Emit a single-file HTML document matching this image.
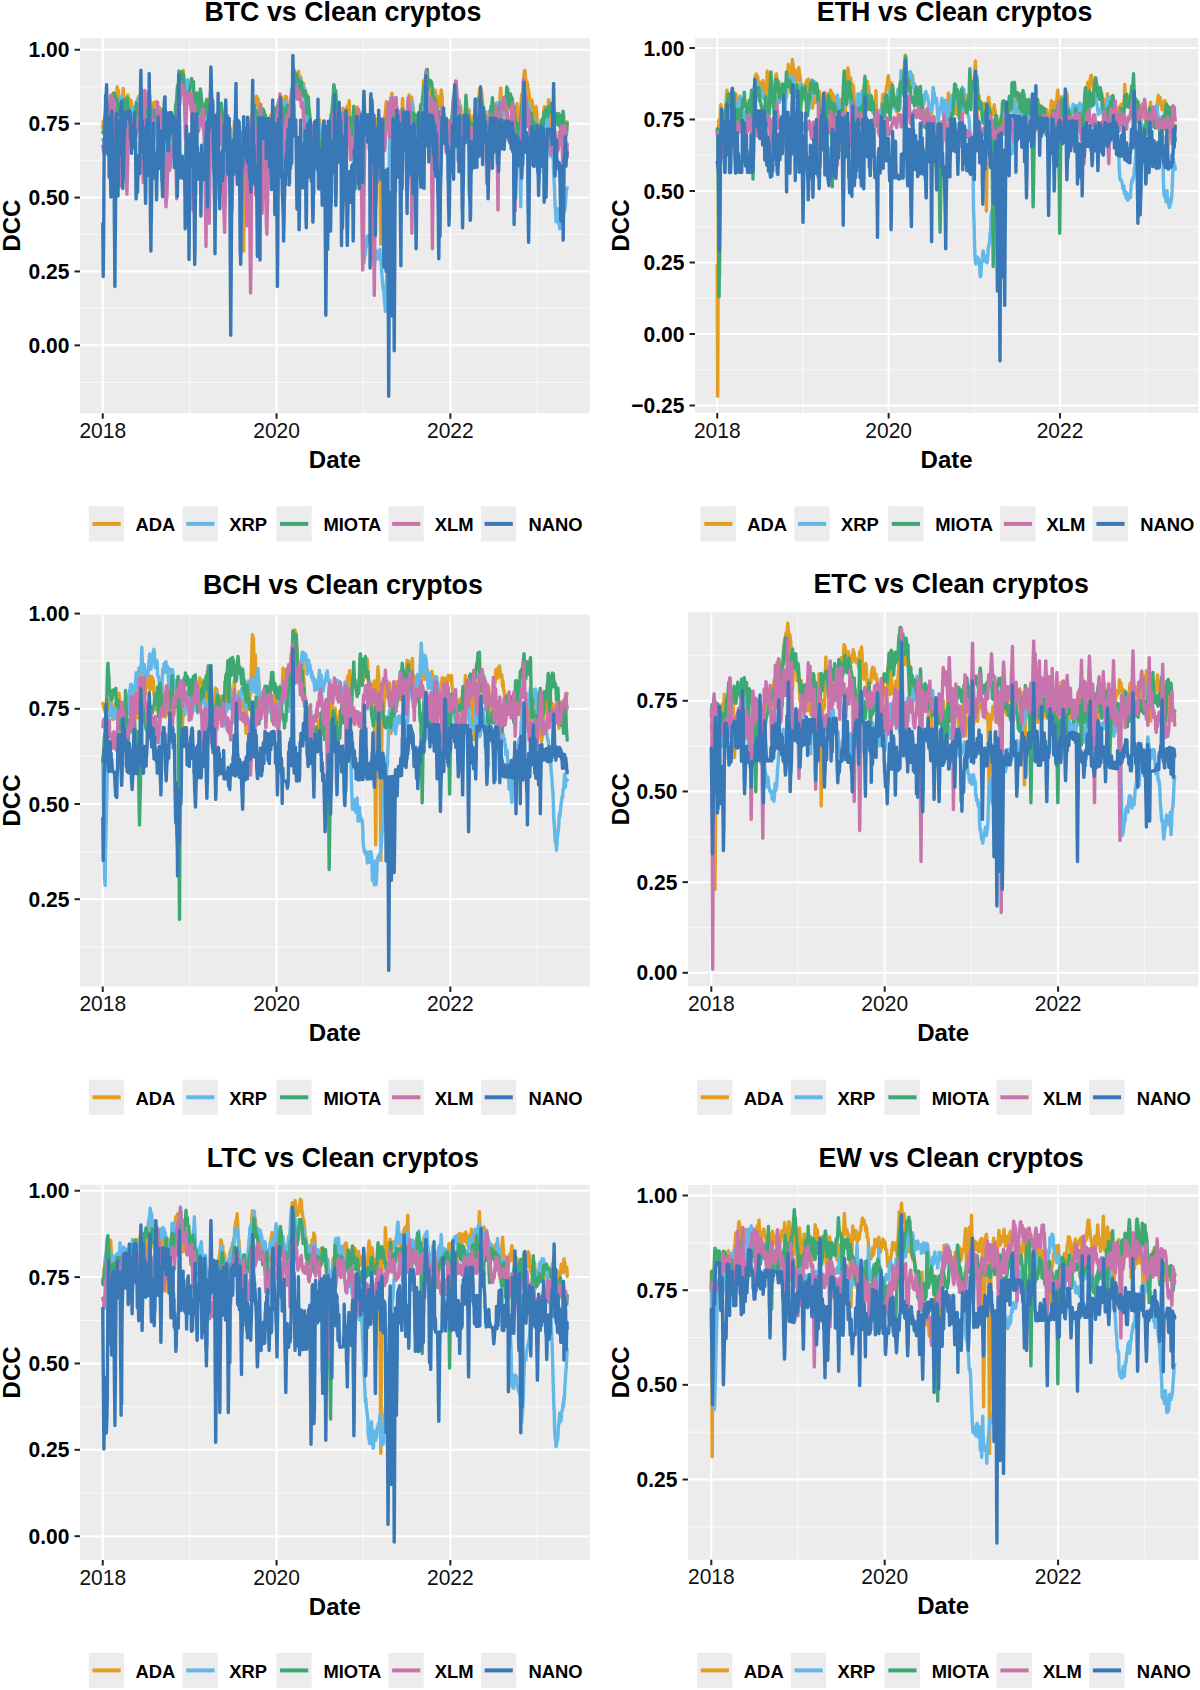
<!DOCTYPE html>
<html><head><meta charset="utf-8"><style>
html,body{margin:0;padding:0;background:#fff;}
svg{display:block;}
text{font-family:"Liberation Sans",sans-serif;fill:#000;}
.yt{font-size:21px;font-weight:bold;text-anchor:end;fill:#000;}
.xt{font-size:21px;text-anchor:middle;fill:#111;}
.at{font-size:24px;font-weight:bold;text-anchor:middle;}
.ti{font-size:26.8px;font-weight:bold;text-anchor:middle;}
.lg{font-size:18.4px;font-weight:bold;}
</style></head><body>
<svg width="1200" height="1690" viewBox="0 0 1200 1690">
<rect x="80" y="38" width="509.75" height="375.25" fill="#EBECEB"/>
<clipPath id="cBTC"><rect x="80" y="38" width="509.75" height="375.25"/></clipPath>
<g clip-path="url(#cBTC)">
<line x1="80" x2="589.75" y1="86.70" y2="86.70" stroke="#F7F8F7" stroke-width="1.2"/>
<line x1="80" x2="589.75" y1="160.60" y2="160.60" stroke="#F7F8F7" stroke-width="1.2"/>
<line x1="80" x2="589.75" y1="234.50" y2="234.50" stroke="#F7F8F7" stroke-width="1.2"/>
<line x1="80" x2="589.75" y1="308.40" y2="308.40" stroke="#F7F8F7" stroke-width="1.2"/>
<line x1="80" x2="589.75" y1="382.30" y2="382.30" stroke="#F7F8F7" stroke-width="1.2"/>
<line x1="189.65" x2="189.65" y1="38" y2="413.25" stroke="#F7F8F7" stroke-width="1.2"/>
<line x1="363.45" x2="363.45" y1="38" y2="413.25" stroke="#F7F8F7" stroke-width="1.2"/>
<line x1="537.25" x2="537.25" y1="38" y2="413.25" stroke="#F7F8F7" stroke-width="1.2"/>
<line x1="80" x2="589.75" y1="49.75" y2="49.75" stroke="#fff" stroke-width="2"/>
<line x1="80" x2="589.75" y1="123.65" y2="123.65" stroke="#fff" stroke-width="2"/>
<line x1="80" x2="589.75" y1="197.55" y2="197.55" stroke="#fff" stroke-width="2"/>
<line x1="80" x2="589.75" y1="271.45" y2="271.45" stroke="#fff" stroke-width="2"/>
<line x1="80" x2="589.75" y1="345.35" y2="345.35" stroke="#fff" stroke-width="2"/>
<line x1="102.75" x2="102.75" y1="38" y2="413.25" stroke="#fff" stroke-width="2"/>
<line x1="276.55" x2="276.55" y1="38" y2="413.25" stroke="#fff" stroke-width="2"/>
<line x1="450.35" x2="450.35" y1="38" y2="413.25" stroke="#fff" stroke-width="2"/>
<path d="M102.8 127.8l0.4-6.8l0.5 5.9l0.4-3.9l0.5-3.9l0.5-5.3l0.4-6.1l0.5-4.2l0.5 22.1l0.4 18.5l0.5-17.6l0.5-11.5l0.4-1.6l0.5-4.7l0.5-2.3l0.4-0.3l0.5-7.3l0.5-1.1l0.4 2.2l0.5-3.5l0.4-1.3l0.5 4.6l0.5 0.5l0.4-6.8l0.5 4.1l0.5 0.9l0.4 0.1l0.5-4.9l0.5 7.2l0.4-6.7l0.5-0.6l0.5-6.8l0.4 4.9l0.5-1.4l0.5 2.2l0.4 10.9l0.5 6.5l0.5-4.3l0.4-3.8l0.5 3.3l0.4 4.4l0.5-6.9l0.5-5.3l0.4-1.3l0.5-7.5l0.5 8.2l0.4 15.7l0.5 9.5l0.5 10.5l0.4-8.8l0.5-9.1l0.5-6.2l0.4-5.7l0.5-6.3l0.5-1.2l0.4 3.8l0.5-0.7l0.5 3.3l0.4 2.3l0.5 1.9l0.4-4.4l0.5-0.6l0.5 3.9l0.4 7.1l0.5 8.9l0.5 6.3l0.4-5.4l0.5-10.5l0.5-3.3l0.4 4l0.5 2.2l0.5-0.3l0.4 4l0.5 7l0.5-5.3l0.4-9.3l0.5-4.3l0.5-8.9l0.4-0.8l0.5 2.3l0.4-2l0.5-1.5l0.5-2.7l0.4 3.1l0.5 4.7l0.5 2.3l0.4-0.3l0.5 4l0.5 2l0.4-0.3l0.5-1.1l0.5-2.3l0.4-5.5l0.5 3.8l0.5 0.5l0.4 1.6l0.5-4l0.4 0.9l0.5-10l0.5 1.7l0.4 0l0.5 2l0.5 6l0.4 6l0.5-4.1l0.5 3.9l0.4 2.4l0.5 0.3l0.5 1.1l0.4-4l0.5-3.9l0.5 2.6l0.4-1l0.5-0.3l0.5-1l0.4-1.5l0.5 1.5l0.4 2.3l0.5 1.4l0.5 1.2l0.4 1.1l0.5 1.3l0.5-3l0.4 3.8l0.5 7.3l0.5-0.3l0.4-3.7l0.5-3.1l0.5 6.5l0.4 4.3l0.5 1.2l0.5 4.9l0.4-2.5l0.5 3.7l0.5 4.3l0.4 8.3l0.5 7.6l0.4-6l0.5-11.5l0.5 1.2l0.4 2.4l0.5-4.3l0.5-9.7l0.4 5.7l0.5 5.5l0.5 2.7l0.4 4.2l0.5 1.8l0.5-0.9l0.4-2.2l0.5 1.4l0.5-6.8l0.4-2.5l0.5-1.9l0.5-7.6l0.4-2l0.5-1.8l0.4 0.1l0.5-13l0.5-2.8l0.4 0.8l0.5-0.9l0.5 0.2l0.4-5.7l0.5-2.3l0.5-2.2l0.4-0.1l0.5-5.8l0.5 0.1l0.4-5.4l0.5-1.5l0.5-0.3l0.4-4.8l0.5-3.4l0.5 6.6l0.4 9l0.5 0.2l0.4-3.5l0.5-1.8l0.5 6.5l0.4-0.9l0.5 6.2l0.5 2l0.4-3l0.5 0.5l0.5-4.8l0.4 10.7l0.5 4.2l0.5 0.4l0.4 2l0.5-0.6l0.5 4.2l0.4-2.7l0.5-2.4l0.4 4.3l0.5 6.5l0.5-2.1l0.4-4.9l0.5 6l0.5-6.9l0.4 3.8l0.5-6.8l0.5 6.1l0.4-1.4l0.5-3l0.5 4l0.4 3.5l0.5-5.6l0.5-3.2l0.4-2.8l0.5 13.8l0.5-2.3l0.4 1.7l0.5-3.4l0.4 2.3l0.5-4.2l0.5-1.8l0.4-3.1l0.5 6.2l0.5 7.1l0.4-10l0.5-0.2l0.5 0.4l0.4-0.9l0.5-1.3l0.5-6.1l0.4 1.7l0.5 4.4l0.5-0.2l0.4 2.8l0.5 4.3l0.5-5l0.4 2.2l0.5 4.9l0.4 1.3l0.5-0.2l0.5 3.8l0.4 0.2l0.5 3l0.5 3.1l0.4-4.8l0.5 23.7l0.5 29.7l0.4 26.1l0.5-27.1l0.5-27.8l0.4-27.3l0.5-4.3l0.5-1.6l0.4 4.4l0.5-0.7l0.5 5l0.4-2.9l0.5-7.9l0.4-1l0.5 6.1l0.5-1l0.4-3.9l0.5 3.9l0.5-2.1l0.4 5.1l0.5 0.6l0.5 0.4l0.4 3.9l0.5 9.5l0.5-4.8l0.4 7.4l0.5-3.7l0.5 1l0.4-3.7l0.5 2l0.5-0.2l0.4 1.4l0.5-0.1l0.4-0.5l0.5 2.7l0.5 2.5l0.4 0.2l0.5 3.8l0.5 3.5l0.4-3.3l0.5-3.3l0.5-3.5l0.4-10.6l0.5 4.8l0.5 2.2l0.4 3l0.5 0.2l0.5 4.1l0.4-4.1l0.5 0.2l0.4 2.8l0.5 3.2l0.5-0.1l0.4-3.1l0.5 2.2l0.5 1.8l0.4-2.1l0.5-3l0.5 1.3l0.4-2.5l0.5 40.8l0.5 40.1l0.4 37.3l0.5-34.2l0.5-33.5l0.4-35l0.5 2.8l0.5-3.1l0.4-2.6l0.5-2.2l0.4-0.3l0.5-9.4l0.5-0.5l0.4-2.2l0.5-3.6l0.5 4l0.4-2.6l0.5-4.3l0.5-4l0.4-4.2l0.5-0.5l0.5-4.4l0.4-7.1l0.5-6.3l0.5 1.5l0.4 1l0.5 4.3l0.5-2l0.4 1.6l0.5-5.9l0.4-2.3l0.5 6.8l0.5-4.4l0.4 0.1l0.5 6.2l0.5 5.7l0.4 1.6l0.5 4.3l0.5-8.6l0.4-3.5l0.5 10.1l0.5 0.4l0.4 1l0.5-6.7l0.5 2.2l0.4 2.8l0.5 7.6l0.5 5.4l0.4 6.3l0.5 7.1l0.4 4.9l0.5-3.9l0.5-4.9l0.4-3.8l0.5-4.9l0.5 1.2l0.4 1l0.5-5.9l0.5-2l0.4-4.4l0.5-2.1l0.5 5.7l0.4-4.6l0.5-0.8l0.5-2.4l0.4-3.4l0.5 4.1l0.4 3l0.5-4.1l0.5-5.3l0.4 3.6l0.5 4l0.5-5.1l0.4-2.6l0.5 0.8l0.5-1.5l0.4-1l0.5-4.7l0.5-2l0.4 2.5l0.5-1.5l0.5-4.9l0.4 2l0.5-0.3l0.5 2.2l0.4 5.8l0.5-2l0.4-2.3l0.5 8.3l0.5 8l0.4-9.1l0.5-8l0.5-3.8l0.4 4.8l0.5-4.4l0.5 4l0.4 7.9l0.5 3.2l0.5-2.7l0.4 5.1l0.5-3.7l0.5-4.6l0.4 0.6l0.5-0.8l0.5 1.3l0.4-4.3l0.5-3l0.4-10.7l0.5-5.9l0.5-5.7l0.4-2.9l0.5 2.1l0.5 1.7l0.4-0.5l0.5 0.9l0.5-0.2l0.4 0.3l0.5-2.9l0.5-3.4l0.4 0l0.5-1.2l0.5 5.6l0.4 4l0.5-4l0.5 4.7l0.4-4.6l0.5 5.5l0.4 3.4l0.5-1.8l0.5-1.6l0.4 0.7l0.5 0.1l0.5 6.8l0.4 2.2l0.5-1.3l0.5 5.6l0.4-3.4l0.5 3.2l0.5-1.8l0.4 1.2l0.5 3.8l0.5 5.7l0.4 8.2l0.5 5.5l0.5 3.5l0.4 6.8l0.5-0.6l0.4 4.6l0.5 3l0.5-2l0.4-4.1l0.5-1.8l0.5 6l0.4-4.4l0.5 3l0.5 4.5l0.4 1.2l0.5 0.1l0.5 0.5l0.4-1.7l0.5-4.1l0.5 3.1l0.4 0.5l0.5-0.8l0.4-10.3l0.5-6.5l0.5 6.3l0.4 4.8l0.5-1.6l0.5 3.5l0.4 4.5l0.5 1.1l0.5 3.5l0.4 0l0.5 4l0.5 1.2l0.4-2.3l0.5-0.3l0.5 3.2l0.4 4.7l0.5 0.4l0.5 4.2l0.4-8.4l0.5-1.7l0.4-0.6l0.5-3.7l0.5-5.2l0.4-5.1l0.5-4.2l0.5-5.4l0.4 0.4l0.5-0.1l0.5-0.2l0.4-5l0.5-6.5l0.5-8.5l0.4-3.4l0.5-0.2l0.5 0.6l0.4-2.8l0.5 3.4l0.5 4.4l0.4 0.1l0.5 6.3l0.4 3.6l0.5-2.3l0.5-1.2l0.4 2l0.5-2.7l0.5 0.1l0.4 1.2l0.5 1.5l0.5 3.6l0.4-1.2l0.5 1.3l0.5-7.1l0.4-1.4l0.5 3.2l0.5 7.5l0.4 1.5l0.5-8.6l0.5-1.6l0.4 0.5l0.5-2.2l0.4 1.1l0.5-3.5l0.5 2.8l0.4 1.1l0.5-3.7l0.5-5.7l0.4 9.8l0.5 10.8l0.5-0.8l0.4 2.5l0.5 1l0.5-2.7l0.4 6.1l0.5-2.3l0.5-7.1l0.4-4.9l0.5 4.7l0.5 8.3l0.4 5.1l0.5-8.4l0.4-9.7l0.5-4.7l0.5-1.4l0.4 1.6l0.5 1.4l0.5 3.5l0.4 1.2l0.5 2.3l0.5 4l0.4-1l0.5-7.1l0.5 3.7l0.4 1.8l0.5-2.3l0.5-3.6l0.4 0.8l0.5 2.7l0.4 1.8l0.5-2.6l0.5 2.8l0.4 1.3l0.5-3.3l0.5 6.2l0.4 3.8l0.5-1.1l0.5-8.3l0.4 5.3l0.5-1.5l0.5 0.6l0.4-2.8l0.5-0.6l0.5-0.2l0.4-2.1l0.5 2.4l0.5 5.3l0.4 0.8l0.5 6.5l0.4 2.2l0.5-2.8l0.5-3.3l0.4 1.2l0.5 0.2l0.5-1.9l0.4 1.5l0.5-8.3l0.5 8.3l0.4 1.6l0.5-0.7l0.5 5.9l0.4-2.9l0.5-1.5l0.5 36.6l0.4 39l0.5 38.9l0.5-39.4l0.4-38.2l0.5-45.3l0.4 1l0.5 3.4l0.5-0.8l0.4-1.7l0.5-6.6l0.5 2.8l0.4-7.3l0.5-6.2l0.5-4.6l0.4 4.5l0.5 3.4l0.5 5.7l0.4 1.4l0.5-3.8l0.5-3.7l0.4-0.3l0.5-6.6l0.5 0.8l0.4-1.5l0.5-5.9l0.4-2.2l0.5 5.4l0.5 12.8l0.4 7.2l0.5 6.4l0.5-0.5l0.4-7.3l0.5-10.3l0.5 1l0.4-1l0.5 2.4l0.5 6.3l0.4 1.8l0.5 3.5l0.5-2.3l0.4-2.9l0.5-2.6l0.5 1.5l0.4-1.7l0.5 1.2l0.4 2l0.5 4.8l0.5-12.7l0.4-9.8l0.5 10.8l0.5 14.5l0.4-3.6l0.5 3.9l0.5 2.1l0.4-5l0.5-0.1l0.5-3l0.4-0.1l0.5 0.6l0.5-2.2l0.4-3.8l0.5-11.4l0.4-6.1l0.5 2.1l0.5 4.2l0.4 1.9l0.5-0.7l0.5-5.4l0.4 1.7l0.5 6.7l0.5-0.6l0.4 5.4l0.5 4.7l0.5 0.5l0.4 8.9l0.5-5.2l0.5 3.9l0.4-2.6l0.5 3.5l0.5 2.8l0.4-0.6l0.5 2.7l0.4 2l0.5-1l0.5 6.5l0.4-7.2l0.5-8.6l0.5-5.5l0.4-1.8l0.5-5.2l0.5 2.4l0.4-2.8l0.5-15.1l0.5-12l0.4 10l0.5 5.4l0.5-0.1l0.4 0.7l0.5-2.1l0.5-0.5l0.4 1.2l0.5-2.7l0.4-3.4l0.5 7.9l0.5-5.4l0.4 0l0.5 3.3l0.5-2.3l0.4-0.3l0.5 1.8l0.5-2.8l0.4 2.8l0.5 0.7l0.5-1.9l0.4 0.3l0.5 0.7l0.5 1l0.4-1l0.5-3.6l0.5 2.9l0.4 3.3l0.5 10.2l0.4-6.8l0.5-3.7l0.5 4l0.4 3.4l0.5 1.2l0.5 1.1l0.4 0.9l0.5-3.4l0.5-7.5l0.4-5.9l0.5 4l0.5 3.5l0.4 15.7l0.5-3.9l0.5 6.9l0.4-2.4l0.5 5.2l0.4 3.6l0.5 0.6l0.5-4.1l0.4 6.9l0.5 1.1l0.5-6.4l0.4 4.8l0.5 2.9l0.5 0.5l0.4 6l0.5 5.8l0.5-4.8l0.4-0.1l0.5-3.5l0.5 2.3l0.4-5.7l0.5-2.9l0.5-6.4l0.4-12.5l0.5 0.3l0.4 0.8l0.5-9.6l0.5 4.4l0.4-1.3l0.5 0.3l0.5 5.3l0.4-7.8l0.5 2.8l0.5 2.1l0.4-0.9l0.5-3.6l0.5 4.1l0.4 3.9l0.5-2.6l0.5 2.5l0.4 5.2l0.5 4.2l0.5 5.2l0.4-0.1l0.5 0.7l0.4-3.9l0.5 1.1l0.5 0.3l0.4 3.8l0.5-0.9l0.5-1.4l0.4 0.3l0.5 3.7l0.5-0.5l0.4-3.7l0.5-2.7l0.5 2.2l0.4-11.3l0.5 6.1l0.5 0.2l0.4 4.4l0.5 7.7l0.5-2.3l0.4-2.3l0.5-2.4l0.4 0.7l0.5-5.7l0.5 3.7l0.4-1.9l0.5-6l0.5-2.2l0.4-0.7l0.5-1.7l0.5 2l0.4-3.7l0.5-0.5l0.5 0l0.4-2.3l0.5-5.6l0.5-4.9l0.4-3.8l0.5 4.4l0.5 0.8l0.4-4.4l0.5 4l0.4 3.3l0.5 5.9l0.5 9.3l0.4 2.4l0.5 4.6l0.5-3.5l0.4-0.1l0.5-3.7l0.5 4.1l0.4 3.9l0.5 0.4l0.5 2.4l0.4 1.3l0.5-3l0.5 3.9l0.4 0.8l0.5-7.4l0.4 5.8l0.5-5.2l0.5-3l0.4 1.9l0.5-5.1l0.5 0.7l0.4-0.6l0.5 0.7l0.5-9.1l0.4-0.6l0.5 1l0.5 1.7l0.4 5.9l0.5 0.4l0.5-4.3l0.4 2.7l0.5-1.2l0.5-4l0.4 1.3l0.5 1.6l0.4-3.9l0.5-3.3l0.5-7.9l0.4-5.8l0.5 8.9l0.5 14.7l0.4-2.7l0.5-0.8l0.5 9.1l0.4 15.6l0.5-14.4l0.5-13.8l0.4 2.6l0.5-7.4l0.5 3.8l0.4 0.3l0.5 2.8l0.5 7.6l0.4-3.3l0.5-3.2l0.4 1.8l0.5-12.8l0.5 4.6l0.4 0.2l0.5 2.2l0.5 1.2l0.4 5.2l0.5 0.1l0.5 4.2l0.4 4.3l0.5 4.3l0.5 7.9l0.4 8.7l0.5-7.1l0.5-5.2l0.4-0.9l0.5-6.1l0.5-6.8l0.4-9.7l0.5 10.9l0.4 16.4l0.5 0l0.5 4.5l0.4-5.3l0.5-5l0.5-7.6l0.4-8.1l0.5-8.4l0.5-6.9l0.4-0.4l0.5 0.7l0.5 8.5l0.4-13.4l0.5-14.5l0.5-4.3l0.4-0.5l0.5 6l0.5 4.1l0.4 0.8l0.5 1.9l0.4-1l0.5 3.4l0.5 4.8l0.4-0.6l0.5 4.6l0.5 5.2l0.4 6l0.5-5l0.5 3.3l0.4-2l0.5-1.9l0.5 3.5l0.4 7l0.5 1.2l0.5 0.8l0.4 0.9l0.5 3l0.4-3.1l0.5-2.3l0.5-4.7l0.4 5.1l0.5 7.4l0.5 13.5l0.4-1.2l0.5-6.4l0.5-1.3l0.4 6.8l0.5 5l0.5 1.3l0.4-9.7l0.5-3.3l0.5 5.5l0.4-6.8l0.5-1.7l0.5-1.6l0.4-2.8l0.5-6.8l0.4-2.5l0.5 1.4l0.5 2.4l0.4-3.1l0.5 4.8l0.5 7l0.4 1.4l0.5-5.9l0.5-9.1l0.4-5.9l0.5 7.8l0.5 5.6l0.4 13.8l0.5-3l0.5-2.3l0.4-0.7l0.5 2.3l0.5-8.4l0.4 0.2l0.5 3.1l0.4-3.1l0.5 6.3l0.5-0.2l0.4-3l0.5-2.7l0.5 1.8l0.4 1l0.5-2l0.5 0.9l0.4 3.6l0.5-4.4l0.5 4.4l0.4-3.8l0.5 3l0.5 6.2l0.4-2.2l0.5 0l0.5-1.5l0.4-3.3l0.5 1.6l0.4 9.7l0.5-3.4l0.5-1.7l0.4-3.2l0.5 2.2l0.5 0.4l0.4-1l0.5 0.8l0.5-0.6l0.4-2.2" fill="none" stroke="#E39E22" stroke-width="3.4" stroke-linejoin="round" stroke-linecap="round"/>
<path d="M102.8 139.4l0.4 0.8l0.5 1.5l0.4 0.5l0.5 6.8l0.5-0.7l0.4-4.9l0.5-6.3l0.5-1.9l0.4-0.7l0.5-4.8l0.5-3.8l0.4 2.7l0.5-6.9l0.5-0.4l0.4-8.1l0.5-2.3l0.5-0.3l0.4 4.5l0.5 6.4l0.4-2.4l0.5-2.7l0.5 0l0.4 1.4l0.5 9.3l0.5-4.3l0.4 1.6l0.5-2l0.5-8.5l0.4 2.3l0.5-2.4l0.5 1.9l0.4-2l0.5-4.4l0.5-1.2l0.4-2.1l0.5-6.4l0.5 1.1l0.4-1.1l0.5 6l0.4-4l0.5-5.5l0.5 8.1l0.4-0.2l0.5-1.1l0.5 1.7l0.4 0.6l0.5-2.8l0.5 0.7l0.4 1.1l0.5 4.9l0.5 5l0.4 4.2l0.5 1.9l0.5 1.4l0.4 3.5l0.5 2.7l0.5 9.8l0.4 10.1l0.5-10.9l0.4-11.2l0.5-10.1l0.5 6.8l0.4-5.3l0.5-0.2l0.5-4.2l0.4-5.4l0.5 5.7l0.5 3.3l0.4 0.3l0.5 4.6l0.5-6.4l0.4-7.6l0.5-2.3l0.5-4l0.4-2.1l0.5-0.5l0.5 2.6l0.4-0.4l0.5 1.7l0.4 1.8l0.5-4.8l0.5 5.5l0.4-3.7l0.5-3.3l0.5-0.9l0.4 1l0.5-1.8l0.5-3.4l0.4-1l0.5 3.8l0.5 0.8l0.4 0.6l0.5 2l0.5-3l0.4 4.6l0.5 4.4l0.4 5.7l0.5 2.8l0.5 0.7l0.4-4.6l0.5 2.5l0.5 2.7l0.4 1.3l0.5 1.9l0.5 0.6l0.4 3.4l0.5 1l0.5 0.2l0.4-4.4l0.5 8.6l0.5 5.9l0.4-5.2l0.5-4.5l0.5-4.3l0.4 2.8l0.5 6.5l0.4-0.3l0.5 0.5l0.5 3.7l0.4 2l0.5 1.6l0.5-4l0.4-4.3l0.5-5.2l0.5 1.4l0.4-4.4l0.5-5.2l0.5-4.3l0.4 0.8l0.5 2.8l0.5 4.2l0.4 7.7l0.5 2.5l0.5 0.8l0.4 16l0.5 14.1l0.4 14.7l0.5 12.4l0.5-10.1l0.4-14l0.5-17.3l0.5-12.2l0.4-1.3l0.5 4.9l0.5 2.9l0.4-2.7l0.5 1.7l0.5 3.6l0.4 5.1l0.5-3.7l0.5 0.7l0.4-2.8l0.5-2.6l0.5-7.3l0.4-9l0.5-7.6l0.4 4.9l0.5-1.5l0.5-5.6l0.4 4.4l0.5-4.4l0.5-9l0.4-6.8l0.5-0.3l0.5-8.4l0.4-5.4l0.5 5.5l0.5 4.4l0.4 2.6l0.5-1.6l0.5-1.5l0.4 2.8l0.5-4.4l0.5 0.9l0.4-3.2l0.5 6.9l0.4 2.7l0.5-3.9l0.5-6.1l0.4 7.6l0.5 9l0.5-11.9l0.4-12.1l0.5 9.3l0.5 0.2l0.4 8.5l0.5-2.2l0.5 2.6l0.4 3.6l0.5 9.2l0.5-0.2l0.4 4.7l0.5-4.4l0.4 2.1l0.5 2l0.5-1l0.4 3l0.5-0.6l0.5 2.1l0.4-0.1l0.5-1.8l0.5 0.5l0.4-1.2l0.5 2.5l0.5-2.4l0.4-7.2l0.5-2.5l0.5 5.7l0.4 5l0.5 1.4l0.5 4.2l0.4 2.8l0.5 1.4l0.4-1.5l0.5-0.3l0.5 3.2l0.4 1.7l0.5-4.1l0.5 0.9l0.4-1.1l0.5-2.3l0.5-3.3l0.4 1.1l0.5 1.3l0.5 1.1l0.4-2.1l0.5-7.2l0.5 7.6l0.4 2.6l0.5-4l0.5-0.1l0.4-2.6l0.5 8.8l0.4-1.4l0.5-0.8l0.5-2.6l0.4 0.3l0.5 7.4l0.5 2.3l0.4-6.2l0.5 5.2l0.5-0.9l0.4 1.4l0.5 3.5l0.5-1.7l0.4 5.2l0.5-4l0.5-7.5l0.4-3.1l0.5-3.8l0.5-4.5l0.4 6.9l0.5 4l0.4 4.7l0.5 4.9l0.5 5.3l0.4-4.7l0.5-6.1l0.5-3.7l0.4-2.4l0.5 6l0.5 2l0.4 6.8l0.5-0.4l0.5 5l0.4 0.9l0.5-1l0.5 2.7l0.4-8l0.5-1.1l0.5 0.3l0.4-4.8l0.5-5.6l0.4 1.5l0.5 1.3l0.5 5.9l0.4 4.3l0.5 5.3l0.5 1.5l0.4-0.6l0.5 4l0.5 4.1l0.4-0.4l0.5-3.5l0.5 4.9l0.4 1.4l0.5 1.5l0.5-2.3l0.4 6.6l0.5-4.9l0.4-2.6l0.5-4.9l0.5-3.5l0.4-1.8l0.5 7.1l0.5-5.3l0.4-4l0.5-3.2l0.5 3.5l0.4 1.5l0.5 2.2l0.5-2l0.4 3.6l0.5 0l0.5 6.5l0.4 2.9l0.5 5.3l0.5 5.9l0.4 4.6l0.5-6l0.4-7l0.5-8.4l0.5-8.6l0.4-3.4l0.5-4.8l0.5 1.9l0.4 3l0.5 5l0.5-1.8l0.4-6.2l0.5-7.5l0.5-3.4l0.4 3.2l0.5 3.6l0.5-2.9l0.4-4.5l0.5-1.8l0.5-4.8l0.4-2.2l0.5 0.8l0.4 8.3l0.5 1.8l0.5-3.5l0.4-3l0.5-9.3l0.5 7.2l0.4 8.1l0.5 7l0.5 3.7l0.4-2.9l0.5-4.8l0.5 0.3l0.4-2.1l0.5 2.9l0.5-5l0.4 0.1l0.5 0.3l0.5-6l0.4-3l0.5 1.6l0.4-0.5l0.5 7.1l0.5-1.9l0.4-1.7l0.5 2.7l0.5 7.2l0.4 0.7l0.5-7.7l0.5-1.2l0.4-2.1l0.5-0.7l0.5 10.8l0.4-3.1l0.5 1.9l0.5-7l0.4 0.6l0.5-4.4l0.4 2.7l0.5-4.3l0.5-2.3l0.4-2.3l0.5 1.8l0.5-2.4l0.4-2.2l0.5-5.1l0.5 1.6l0.4 1.2l0.5 1.9l0.5-4.4l0.4 2.9l0.5-1.6l0.5 2.6l0.4 2.5l0.5-1.2l0.5-2.1l0.4 0.5l0.5 1.8l0.4-5.1l0.5-2.6l0.5 0.2l0.4 0.6l0.5-4.5l0.5 8.6l0.4 7l0.5 4.8l0.5-0.6l0.4 2.2l0.5-6.4l0.5 3.7l0.4 5l0.5 0.6l0.5 4.9l0.4-4.4l0.5-7.6l0.5-3l0.4-4.2l0.5-5.5l0.4-6.9l0.5-5l0.5-1.2l0.4-6.1l0.5-4.3l0.5-0.5l0.4 2.3l0.5 5.7l0.5 3l0.4-0.6l0.5-0.1l0.5-2.5l0.4 1.2l0.5-3.7l0.5 5.5l0.4-9l0.5-0.3l0.5 2.6l0.4-6.7l0.5 2.9l0.4 6.8l0.5-2.6l0.5 1.5l0.4-1.4l0.5 3.8l0.5-1.8l0.4 4.8l0.5 9.7l0.5 12.3l0.4 9.5l0.5 7.8l0.5-7.5l0.4-5.9l0.5-3.7l0.5-2l0.4 6.8l0.5 4.5l0.5 3.6l0.4 0.8l0.5 3l0.4 6.8l0.5-8.3l0.5-2.2l0.4 4.9l0.5-2.2l0.5 2.1l0.4-4.5l0.5 0.6l0.5-0.9l0.4 0.3l0.5-4.1l0.5 23.4l0.4 15.6l0.5-17.2l0.5-11.2l0.4-6.1l0.5 25.3l0.4 28.1l0.5-25.3l0.5-29.6l0.4 0.5l0.5-1.4l0.5-1.1l0.4 5.2l0.5 3.7l0.5 5.4l0.4 8.6l0.5 4.9l0.5-2.5l0.4 3.4l0.5-1.5l0.5 4.8l0.4-2.1l0.5-7.9l0.5-7.6l0.4 7.7l0.5 12.7l0.4 5.9l0.5-6.4l0.5-7.6l0.4-8.5l0.5-5.8l0.5-3.4l0.4-9.8l0.5-6.5l0.5-5.7l0.4-1.4l0.5-4.5l0.5-0.4l0.4-2.6l0.5 0.2l0.5-0.1l0.4 0.3l0.5 7.8l0.5-5l0.4 1.6l0.5 13.5l0.4-8.8l0.5 1.2l0.5-2.4l0.4-0.4l0.5 12.2l0.5-1.9l0.4 1.1l0.5-0.5l0.5 1.9l0.4 4.8l0.5-3.2l0.5-3.6l0.4 0.8l0.5-1l0.5 0.9l0.4 3.1l0.5-0.1l0.5-5.1l0.4-1.3l0.5 1.5l0.4 3.3l0.5 8.3l0.5 2.1l0.4-10.2l0.5-9.1l0.5 13.3l0.4 9.1l0.5-1.6l0.5-0.3l0.4 11.1l0.5 1.7l0.5-4.6l0.4-0.7l0.5-4.3l0.5-4.7l0.4-3.6l0.5 0l0.5 1.7l0.4-2l0.5 3.3l0.4-0.7l0.5-2.1l0.5 7l0.4-3.4l0.5 0.9l0.5-0.7l0.4 7.6l0.5 1.5l0.5-1.7l0.4 6.3l0.5-0.7l0.5 15.9l0.4 15.4l0.5 18.5l0.5 14.4l0.4 10.5l0.5 16.5l0.4 23.7l0.5-4.7l0.5-9.1l0.4 6l0.5-8.7l0.5 1.2l0.4-5.9l0.5-5.4l0.5 0l0.4 1.6l0.5-1.9l0.5 5.9l0.4-1.1l0.5-5.8l0.5 4.3l0.4 3.6l0.5 7.3l0.5 8l0.4 1.9l0.5 0.8l0.4-5.9l0.5 4.1l0.5 0.5l0.4 4.6l0.5-10.7l0.5-1.5l0.4-1.1l0.5 6.1l0.5-2.2l0.4 4.2l0.5-2l0.5 2.3l0.4-3.6l0.5 0.4l0.5-6.4l0.4 8.3l0.5-3.6l0.5 10.9l0.4 6.3l0.5 6.7l0.4 5.8l0.5 5.6l0.5-1.7l0.4 6.5l0.5 8.1l0.5 3.5l0.4 5.6l0.5-14.1l0.5-13l0.4-10.6l0.5-15.4l0.5 3.7l0.4-23.3l0.5-44.5l0.5-26l0.4-26.8l0.5-20.5l0.5-9.4l0.4-5.7l0.5-9.5l0.4 10.1l0.5 0.3l0.5 1.9l0.4-4.4l0.5 2.9l0.5 14.7l0.4 17.4l0.5-11.4l0.5-11.9l0.4-2l0.5-3l0.5 6.2l0.4 3.6l0.5 0.5l0.5 7.1l0.4-2.8l0.5 1.7l0.5 4.8l0.4 4.4l0.5 4.7l0.4 0.5l0.5-0.1l0.5-0.9l0.4-0.6l0.5-3.3l0.5-4.7l0.4 1.7l0.5 1.5l0.5 2.4l0.4-4.8l0.5-0.2l0.5 1.1l0.4 4.1l0.5 4.6l0.5-4.3l0.4-5.8l0.5 5.8l0.4-2.3l0.5-1.9l0.5-4l0.4-8.9l0.5 3.4l0.5-6.3l0.4-7.9l0.5-8.5l0.5 9.5l0.4 7.6l0.5 8.8l0.5-4.8l0.4-5.4l0.5 3.7l0.5 7.9l0.4 3l0.5 3l0.5 3.4l0.4-1.5l0.5-1.7l0.4-3.6l0.5-0.4l0.5-1.9l0.4-6.4l0.5-6.6l0.5 2.5l0.4-3.7l0.5-0.7l0.5 1.5l0.4-1.6l0.5-9.3l0.5-5.9l0.4-4l0.5-0.3l0.5-7.1l0.4-4.6l0.5 1.7l0.5 3.5l0.4-0.5l0.5 1.1l0.4 6.6l0.5 2.7l0.5 4.3l0.4 0.6l0.5 0.9l0.5-0.4l0.4 2.5l0.5 0.9l0.5 11.1l0.4 1.2l0.5-11.9l0.5-6.5l0.4-7.5l0.5 7.8l0.5 12.9l0.4 3.4l0.5 5.1l0.5-2.4l0.4 2l0.5 5.4l0.4-2.1l0.5-5.7l0.5 1.3l0.4-1.5l0.5 2.4l0.5 2.1l0.4 0.1l0.5-6.3l0.5 9.8l0.4 1.3l0.5 1.3l0.5-1.4l0.4 3.4l0.5 5.4l0.5 2.3l0.4 1.7l0.5 0.3l0.4-1.5l0.5-3l0.5-1.7l0.4-3.2l0.5 10.2l0.5-2.5l0.4 3.9l0.5 0.9l0.5 3.5l0.4 5.7l0.5-9.8l0.5 1.5l0.4 7l0.5 4.8l0.5-7.3l0.4-9.6l0.5-10.1l0.5-6.5l0.4-12.6l0.5-4.4l0.4-1.3l0.5-3.6l0.5 0.8l0.4-2.6l0.5-2.8l0.5 2.9l0.4 7.4l0.5-4.8l0.5-0.3l0.4-2.3l0.5 3.4l0.5 3.3l0.4 1.1l0.5 1.6l0.5 11.5l0.4 5.5l0.5-1.4l0.5 0.8l0.4-0.4l0.5 1.3l0.4-5l0.5 0.8l0.5 3.6l0.4-2.1l0.5-2.1l0.5-3.9l0.4-0.6l0.5 3.7l0.5 9.3l0.4 4.9l0.5 4.9l0.5-5.4l0.4 0.4l0.5 1.5l0.5-5.6l0.4 3.3l0.5-3.8l0.5 0.2l0.4 2.8l0.5 1.6l0.4-6.9l0.5 9.4l0.5-5l0.4 1.4l0.5-6.8l0.5-1.6l0.4 2.6l0.5-2.6l0.5-2.3l0.4-5.1l0.5-5.7l0.5 2.6l0.4-0.1l0.5-6.3l0.5-4.7l0.4 3l0.5 3.4l0.5-6.4l0.4 3.1l0.5-3.3l0.4 1.1l0.5 12l0.5 11.5l0.4 7.1l0.5 8.2l0.5-6.5l0.4-5.6l0.5-2.4l0.5-7.7l0.4-0.2l0.5 6.3l0.5-5.4l0.4 2.9l0.5 0.4l0.5-9.4l0.4-5.6l0.5 4.9l0.4 1.4l0.5 9.7l0.5 0.7l0.4-6.1l0.5 1.6l0.5 3l0.4-4.9l0.5-2.8l0.5 3.1l0.4-0.7l0.5-3.7l0.5-4.3l0.4-4.4l0.5-5l0.5 3.7l0.4-3.8l0.5-0.9l0.5 0.9l0.4 4.3l0.5 1.3l0.4-4.3l0.5-1.2l0.5-2.6l0.4 0.7l0.5 3.2l0.5 12.3l0.4 12.5l0.5-14l0.5-14.2l0.4-2.2l0.5-0.2l0.5 7.3l0.4 6.2l0.5 0.9l0.5-3.3l0.4-0.6l0.5 0.8l0.5 0.9l0.4 4.4l0.5 2.4l0.4 3.7l0.5-0.9l0.5 0l0.4 2.4l0.5-2.5l0.5-1.1l0.4 5.9l0.5 0.9l0.5 4.8l0.4 3l0.5 0.4l0.5-6.5l0.4-1.7l0.5 2.2l0.5 11.3l0.4-1l0.5-9.2l0.5 2.9l0.4-2.4l0.5 5.6l0.4 6.3l0.5 2.6l0.5-3l0.4-7.6l0.5 25.5l0.5 19.3l0.4 27.6l0.5-32.1l0.5-29.4l0.4-34.5l0.5-7.1l0.5-12.3l0.4-10.3l0.5 6.8l0.5 5.2l0.4 0.7l0.5 5.4l0.5-2.4l0.4 6.2l0.5 7.9l0.4 2.1l0.5-9.1l0.5-0.8l0.4 8.8l0.5 1.6l0.5-6.5l0.4 8.7l0.5 14.4l0.5 3.6l0.4 0.3l0.5 0.7l0.5 2.5l0.4-4.2l0.5-5.9l0.5-5.7l0.4-1.8l0.5 0.8l0.4 3.9l0.5 3.7l0.5 4.9l0.4-3.4l0.5 10.2l0.5 9.6l0.4-4.2l0.5-2.5l0.5-8.4l0.4 3.3l0.5-4.4l0.5-7.4l0.4-1.7l0.5-3.7l0.5 0.4l0.4 2.8l0.5-3l0.5 3.5l0.4 7l0.5 2.6l0.4-10.5l0.5-4.4l0.5 2.5l0.4 5l0.5-6.8l0.5 0.8l0.4-3.9l0.5 3l0.5 5.5l0.4 14.6l0.5 1l0.5 4.8l0.4 6.6l0.5 4.1l0.5-4.6l0.4-5.9l0.5 3.5l0.5 6.7l0.4 0.9l0.5 5.8l0.4 10l0.5 10.6l0.5 11.4l0.4 12l0.5 4.1l0.5 11.6l0.4-4.1l0.5-3.4l0.5-5.7l0.4 11.3l0.5 1.9l0.5 2l0.4 0.2l0.5 4.6l0.5-8.8l0.4-6.2l0.5-8.4l0.5-10.7l0.4 9.5l0.5 9.7l0.4 0.7l0.5-1.7l0.5-0.2l0.4-1.5l0.5-1.5l0.5-4.8l0.4-6.5l0.5-7.6l0.5-1.6l0.4-1.2" fill="none" stroke="#62B8E8" stroke-width="3.4" stroke-linejoin="round" stroke-linecap="round"/>
<path d="M102.8 132.1l0.4-0.1l0.5 1.4l0.4-6.4l0.5 3l0.5 1.6l0.4-5.9l0.5 6l0.5 1.2l0.4-5.9l0.5-0.6l0.5 1.1l0.4 1l0.5-8l0.5 1.8l0.4-2.6l0.5-4.3l0.5-5.3l0.4-0.8l0.5-6.9l0.4 3.7l0.5-3.9l0.5-1.4l0.4-0.9l0.5-6.9l0.5 6.2l0.4-3.6l0.5 0l0.5 3.5l0.4 1l0.5-1l0.5 2.5l0.4 9.2l0.5 0.1l0.5 1.4l0.4 2.8l0.5-2.8l0.5 0.4l0.4-2l0.5-7.7l0.4 7.7l0.5-3.5l0.5-6.9l0.4 1.5l0.5 3.2l0.5-5.1l0.4 4.2l0.5 0.5l0.5-0.7l0.4 1l0.5 8.4l0.5-12.9l0.4-2.3l0.5-0.2l0.5 7.5l0.4 4.4l0.5-1.3l0.5 11.2l0.4 5.3l0.5 3.6l0.4 2.3l0.5-3l0.5-2.5l0.4 7.4l0.5-5.8l0.5-2.2l0.4-3.2l0.5 4l0.5-3.6l0.4-1.4l0.5-2.1l0.5-9.7l0.4-6.2l0.5 7.1l0.5 1.5l0.4-2.3l0.5 3.5l0.5 0.9l0.4 2l0.5-5l0.4-3.5l0.5 1.9l0.5 0.6l0.4 3.4l0.5-3.1l0.5-5.4l0.4 3.9l0.5 9.5l0.5 4.6l0.4 7.1l0.5-6.4l0.5-5.5l0.4-8.6l0.5 0.1l0.5-3l0.4 5.7l0.5-7.2l0.4 0.8l0.5 4.6l0.5 5.1l0.4 4l0.5-6.9l0.5-0.1l0.4-6.3l0.5 6.1l0.5 6.8l0.4-3.7l0.5 2.6l0.5 6.2l0.4-11.6l0.5-1.2l0.5 2.2l0.4 5l0.5-8l0.5 3.6l0.4-2.5l0.5 1.3l0.4-3.1l0.5 2.8l0.5 2.2l0.4 3.6l0.5-2.3l0.5 1.7l0.4-4.5l0.5 4.7l0.5 0.6l0.4-0.4l0.5 2.1l0.5-2.1l0.4-4.5l0.5-4.6l0.5 8.7l0.4 4.2l0.5 8.8l0.5 2.6l0.4 5.6l0.5-8.3l0.4 2l0.5 2.1l0.5 8l0.4 1.3l0.5-7.8l0.5 6.1l0.4-3.7l0.5-2.4l0.5-3.4l0.4-7.3l0.5-1.7l0.5 0.9l0.4 2.7l0.5-2.4l0.5 3l0.4 11.1l0.5 14.1l0.5-17.2l0.4-18.5l0.5-2l0.4-10.2l0.5-1.1l0.5-3.8l0.4-8.5l0.5-6.1l0.5 0.2l0.4-2.9l0.5-11.8l0.5 5.3l0.4-0.5l0.5 2.1l0.5 2.5l0.4-8.1l0.5-0.2l0.5 9.5l0.4-3l0.5-4.4l0.5 6.2l0.4 8.5l0.5 3.9l0.4-0.1l0.5 5.5l0.5-5.4l0.4 0.2l0.5 1l0.5 3.4l0.4-5.1l0.5 0.5l0.5 4.7l0.4-6.1l0.5 0.4l0.5-4.8l0.4-1.7l0.5-3.7l0.5-3.1l0.4 4.7l0.5-1.6l0.4 4.4l0.5-4.4l0.5 14.5l0.4 12.5l0.5 9.7l0.5-6.8l0.4-4.9l0.5-9l0.5-2l0.4-2.6l0.5 1.9l0.5 8l0.4 6.8l0.5 3.9l0.5-6.5l0.4-9.2l0.5-8.9l0.5 3.4l0.4 4.8l0.5 7.9l0.4 2.5l0.5-0.8l0.5 0.1l0.4 3.3l0.5 5.6l0.5-3.1l0.4-4.3l0.5-2.5l0.5 4l0.4-9.9l0.5 6l0.5-0.7l0.4 3.7l0.5 8.5l0.5-1.8l0.4-1.8l0.5 3.5l0.5 1.1l0.4-7.1l0.5 1.4l0.4-2.2l0.5 3.1l0.5 7l0.4 5.7l0.5 8.3l0.5-1.1l0.4 11.7l0.5 6.6l0.5 2.9l0.4-5.7l0.5-6.7l0.5-12.7l0.4-0.9l0.5-4.1l0.5 9.7l0.4-1l0.5-10.3l0.5-3.2l0.4-0.2l0.5 0l0.4-10.5l0.5-6l0.5 6.6l0.4 2.1l0.5 4.1l0.5 10.2l0.4 6.9l0.5 8.1l0.5 4.1l0.4-1.6l0.5-0.2l0.5 2.6l0.4-0.7l0.5-1l0.5 6.2l0.4-7.1l0.5-3.6l0.5-1.6l0.4 5.9l0.5 6.7l0.4 0.6l0.5-1.5l0.5-10.9l0.4 4.4l0.5 0.5l0.5 7l0.4 3.5l0.5-4.4l0.5 1.8l0.4-1.7l0.5 5.3l0.5-12l0.4-3.5l0.5-2.2l0.5-9.3l0.4 6.7l0.5 0.3l0.4 0.2l0.5-9.6l0.5 3.1l0.4-2l0.5 9.4l0.5 9.3l0.4 5l0.5-6l0.5-3.4l0.4-8.3l0.5 3.1l0.5-1l0.4-2.6l0.5 1.8l0.5 3l0.4 5.4l0.5-1.6l0.5 0.9l0.4 0.7l0.5-4.3l0.4-5.9l0.5-0.7l0.5 2.9l0.4-0.3l0.5-3.7l0.5-1l0.4-1l0.5 1.5l0.5 2.9l0.4 2.6l0.5-5.5l0.5-5.7l0.4 2.1l0.5-10.1l0.5 1.2l0.4-7.7l0.5-4.9l0.5 13.2l0.4 17.7l0.5-9.6l0.4-15.6l0.5 7.1l0.5 3.7l0.4 3.8l0.5-4.4l0.5 6.4l0.4-11.6l0.5-0.1l0.5 1.3l0.4 8.9l0.5-1.7l0.5-5.3l0.4-7.1l0.5 0.6l0.5-3.4l0.4 4.4l0.5-2.3l0.5 9.7l0.4 3.8l0.5-9.7l0.4 8.8l0.5 3l0.5-0.5l0.4 5.4l0.5-0.6l0.5-6.7l0.4 0l0.5-1l0.5 1l0.4 8.5l0.5-4.9l0.5 5.9l0.4 2.9l0.5-12.2l0.5 2.9l0.4-4.4l0.5-8l0.4 3.8l0.5-4.8l0.5-1.6l0.4-0.3l0.5-2.3l0.5-1.4l0.4 0.7l0.5-1.2l0.5 8l0.4 6.4l0.5 6.8l0.5-9.2l0.4 3.8l0.5-0.8l0.5-8.1l0.4 2.8l0.5-4l0.5-3.7l0.4-2.3l0.5-0.2l0.4 0.8l0.5 0.7l0.5 5.5l0.4 13.3l0.5 10.4l0.5 6.9l0.4-6.3l0.5-12l0.5-13l0.4-8.5l0.5 2l0.5 2.3l0.4-2.9l0.5 2l0.5 9.1l0.4-3l0.5 1.7l0.5-10.2l0.4-5.7l0.5-11.9l0.4 0.4l0.5-1.1l0.5-11.3l0.4-7.1l0.5 2.1l0.5 6.5l0.4 4.7l0.5-2.7l0.5-5l0.4-0.9l0.5 3.8l0.5 0.4l0.4 0.3l0.5 0.7l0.5 4.2l0.4 4.4l0.5-2l0.5-3.6l0.4 0.1l0.5-0.9l0.4 4.5l0.5 3.3l0.5 3.3l0.4 3.1l0.5 0.2l0.5-2.1l0.4-0.7l0.5 1.2l0.5-3.8l0.4 5.5l0.5 4.6l0.5 11.6l0.4 1.3l0.5-11.9l0.5-4.8l0.4 7.7l0.5 6.1l0.5 3.5l0.4 3.6l0.5 7.7l0.4 0.5l0.5 5.2l0.5 8l0.4-3.1l0.5 0.9l0.5-2.2l0.4-3.7l0.5 0.8l0.5 1.5l0.4 5l0.5 4.4l0.5-5.2l0.4 2.3l0.5-5.3l0.5 0.9l0.4-1l0.5-2.4l0.4 6.8l0.5 2.2l0.5 4l0.4-1.6l0.5-1.7l0.5 1.7l0.4 6.1l0.5 2.5l0.5 3.2l0.4 2.8l0.5 3.6l0.5-0.2l0.4-4.9l0.5-0.3l0.5 1.4l0.4 2.3l0.5 0l0.5-0.4l0.4 2.3l0.5-7.3l0.4-1.1l0.5 4.1l0.5 5.2l0.4-13.2l0.5-18.9l0.5-8l0.4-7.7l0.5-1l0.5-0.4l0.4-7.7l0.5-6.2l0.5-6.7l0.4-8.3l0.5 1.8l0.5 7.1l0.4 1.4l0.5-4.6l0.5 9.6l0.4 4.3l0.5 7.9l0.4 4.5l0.5 6.1l0.5 4.3l0.4-2l0.5-1.1l0.5 4.3l0.4 8.7l0.5-8.7l0.5-12.7l0.4-1l0.5 2l0.5-3.5l0.4 8.5l0.5-5.1l0.5 3.6l0.4-2.1l0.5 5.3l0.5 1.2l0.4 0.8l0.5-0.8l0.4 1.4l0.5 0l0.5-4.4l0.4-1.8l0.5-0.1l0.5-2l0.4 0.3l0.5 1.6l0.5-1.6l0.4 1.8l0.5 10.2l0.5 2l0.4 3.4l0.5-3.5l0.5-13.4l0.4-12.3l0.5 10.3l0.5 8.4l0.4-0.4l0.5 3.1l0.4-0.5l0.5 5.3l0.5-8.5l0.4-5.2l0.5 8l0.5-1.8l0.4-12.2l0.5 2.7l0.5 4.7l0.4-2.1l0.5-0.1l0.5-3.5l0.4 1.6l0.5 1.5l0.5 9.8l0.4-4.1l0.5-5.8l0.4 2.1l0.5 1.4l0.5-4.6l0.4 5.5l0.5 5.8l0.5 0.6l0.4-1.1l0.5 1.4l0.5-4.4l0.4-6.9l0.5 0.8l0.5 6.5l0.4 0l0.5 3.1l0.5 4.8l0.4-1.4l0.5-2.8l0.5-7.3l0.4 0l0.5 6.3l0.4-0.9l0.5 3.4l0.5 4.8l0.4 8.7l0.5-5.7l0.5-10.8l0.4 5.3l0.5-2.2l0.5 2.5l0.4 0l0.5 6.7l0.5-10.5l0.4 2.2l0.5-2.5l0.5-7l0.4 17.6l0.5 7.2l0.5-1.8l0.4 3.5l0.5-7.7l0.4-7.4l0.5 3.2l0.5-1.4l0.4-9.5l0.5 2.6l0.5-5.5l0.4-2.3l0.5-0.9l0.5 0l0.4 4.5l0.5-3.8l0.5 2.1l0.4-3l0.5-3.5l0.5-6.5l0.4-0.2l0.5 6l0.5-1.5l0.4-3l0.5 2l0.4 3.7l0.5 5.2l0.5-2.5l0.4 2.6l0.5 9.1l0.5 2.6l0.4-7.1l0.5-5.3l0.5-2.3l0.4 5.2l0.5-4.1l0.5 8.2l0.4-4.2l0.5 4l0.5-4l0.4 1l0.5-8.4l0.5-1.8l0.4 0.3l0.5 7.1l0.4-2.2l0.5-8.6l0.5 4.7l0.4-6.5l0.5 3.5l0.5 3l0.4 0.7l0.5 2.4l0.5 0.6l0.4-2.2l0.5-3.4l0.5 3.9l0.4-0.9l0.5 1.3l0.5 5l0.4-4.4l0.5 1.3l0.4-3.8l0.5 3.2l0.5-2.7l0.4-1.8l0.5-1.7l0.5 2.5l0.4-2.4l0.5 7.1l0.5 4.1l0.4 0.7l0.5-11.1l0.5 3.3l0.4-0.3l0.5-1.6l0.5 0.6l0.4 5.3l0.5 3.1l0.5 3.2l0.4-5.3l0.5 7.6l0.4-0.8l0.5-5.4l0.5-2.5l0.4-5.4l0.5-5.1l0.5-5.7l0.4 0.2l0.5-0.5l0.5-0.7l0.4-6.7l0.5-0.2l0.5-5.9l0.4-5.1l0.5-1.3l0.5 1.6l0.4-3.7l0.5-10l0.5-1.5l0.4-1.3l0.5 0l0.4 12l0.5 8.1l0.5-5.6l0.4-0.5l0.5-2.3l0.5-0.8l0.4 2.9l0.5-1.8l0.5 0.7l0.4 2.1l0.5 7.5l0.5 3.7l0.4 3.6l0.5-1.1l0.5-0.3l0.4 7.2l0.5 3.9l0.5-8.2l0.4 11.5l0.5-6l0.4 1l0.5 10.1l0.5-0.1l0.4-1.8l0.5-0.7l0.5-2.2l0.4-1l0.5 7.7l0.5-4.3l0.4 0l0.5-0.9l0.5 3.1l0.4-0.4l0.5 0.4l0.5 9.3l0.4 1.4l0.5 3.8l0.4-2.4l0.5 0.4l0.5-7.5l0.4 7.8l0.5-4.8l0.5 9.7l0.4-10.9l0.5 3.9l0.5-5l0.4 9.9l0.5 2l0.5-2.4l0.4-3.8l0.5 0l0.5-6.9l0.4-4.2l0.5-5.4l0.5-7.6l0.4-5.9l0.5-1.9l0.4-0.5l0.5-6.4l0.5 4.5l0.4 6.1l0.5 5.9l0.5-5.4l0.4-0.1l0.5 7.7l0.5 1.9l0.4-1.7l0.5-0.6l0.5 7.8l0.4 0.4l0.5 0.6l0.5 1.2l0.4-1.5l0.5 0.5l0.5 3.3l0.4 5.4l0.5 1.7l0.4-3.8l0.5-4.2l0.5 12.6l0.4-14l0.5-8.7l0.5-13.9l0.4 5.9l0.5 10l0.5 13.7l0.4 1.9l0.5 4.9l0.5-2l0.4-4.7l0.5-4.5l0.5 5l0.4 0.6l0.5-0.6l0.5 0.7l0.4 1.9l0.5-2.6l0.4 2.7l0.5-4.8l0.5 4.9l0.4-1.7l0.5-3.7l0.5-2.7l0.4-6.5l0.5-0.6l0.5-4.6l0.4 1.2l0.5 4.6l0.5-5.3l0.4-10.8l0.5 1.6l0.5-0.6l0.4 9.7l0.5-5l0.5-1.6l0.4 5.7l0.5-4.9l0.4 8.8l0.5-0.7l0.5 4.6l0.4 3.1l0.5-1.5l0.5-2.2l0.4 0.4l0.5 4.5l0.5 2.3l0.4 1.7l0.5 3.4l0.5 2.4l0.4 5l0.5-4.7l0.5-6.1l0.4 3.4l0.5-5.4l0.4-2.7l0.5-5.1l0.5-8l0.4 0.6l0.5-2l0.5-7l0.4 6.4l0.5 3.8l0.5 10.2l0.4-5.9l0.5 0.2l0.5 1.5l0.4-0.9l0.5 1.5l0.5 0.8l0.4-4.5l0.5-1.7l0.5 1.1l0.4 5.9l0.5-3.7l0.4-3.6l0.5-0.4l0.5 4.4l0.4-9.6l0.5 2.6l0.5 2.4l0.4 1.6l0.5-3.9l0.5 1.3l0.4-1.7l0.5-2.3l0.5-6.2l0.4 8.6l0.5-5.5l0.5 0.5l0.4-1.5l0.5-12.3l0.5 3.8l0.4-1.7l0.5 5.3l0.4 2.1l0.5 10.2l0.5-2.6l0.4-2.2l0.5-7.9l0.5 5.4l0.4 4l0.5-5.6l0.5 2.5l0.4 4.6l0.5 4l0.5-2.2l0.4 3.8l0.5 5.4l0.5 4.5l0.4 4.7l0.5 0.9l0.5 0.2l0.4-3.4l0.5 3.1l0.4 4.5l0.5 5.9l0.5-3.7l0.4 4.5l0.5-0.2l0.5-10.6l0.4-5.9l0.5-7.7l0.5 0l0.4-9.1l0.5-3.5l0.5 3.7l0.4-12.1l0.5 3.1l0.5-5.2l0.4 0.8l0.5 6l0.5 4.7l0.4 2.9l0.5 3.8l0.4 2.3l0.5 6.9l0.5-2l0.4-0.3l0.5-1l0.5-1.8l0.4 5l0.5-2.3l0.5 7.4l0.4-8.4l0.5 4.4l0.5 5.2l0.4 8.6l0.5-9.6l0.5 0.7l0.4 8.2l0.5 0.1l0.4-0.3l0.5-1.6l0.5 1.6l0.4 3.2l0.5 3.5l0.5-2.1l0.4-3.7l0.5 5.8l0.5-1.1l0.4 1.3l0.5-2.6l0.5 1l0.4-9.2l0.5-2.7l0.5 0.8l0.4-3.9l0.5-1.5l0.5 5.4l0.4-2.4l0.5-10.5l0.4 2.9l0.5 1.7l0.5-4.1l0.4-3.3l0.5 2.9l0.5 4l0.4-1.1l0.5 1.1l0.5-8.9l0.4 7.1l0.5-4.8l0.5-3.1l0.4 6.3l0.5-1.2l0.5-4.4l0.4-4.1l0.5 3.5l0.5 7.4l0.4 6.2l0.5 2.1l0.4-0.3l0.5-3.2l0.5 2l0.4 0.2l0.5-3.5l0.5-2.5l0.4-1.6l0.5 3.9l0.5 2.3l0.4 5.2l0.5-2.1l0.5-9l0.4 3.8l0.5-2.1l0.5 11.4l0.4 2.2l0.5-10.6l0.5 2.7l0.4-2.4l0.5-2.5l0.4-5l0.5 4l0.5 7.9l0.4 9.3l0.5-3.1l0.5-1.6l0.4 5.9l0.5 1.6l0.5-4.5l0.4-7.3" fill="none" stroke="#3DA872" stroke-width="3.4" stroke-linejoin="round" stroke-linecap="round"/>
<path d="M102.8 146.1l0.4 1.9l0.5 3.7l0.4 1.8l0.5-17l0.5-2.2l0.4-2l0.5-0.3l0.5 4.5l0.4 6.3l0.5-9l0.5-15.2l0.4-6.9l0.5 0.5l0.5-1.3l0.4-5.9l0.5-4.5l0.5-5.2l0.4 0.4l0.5 7.5l0.4 7.2l0.5 0.2l0.5-11.1l0.4-0.3l0.5 5.7l0.5 5.5l0.4-3.2l0.5 29.2l0.5 25.6l0.4 17.8l0.5-16.7l0.5-21.3l0.4-21.7l0.5 10.5l0.5 2.1l0.4 6.2l0.5-0.5l0.5 23.9l0.4 23.6l0.5-30.9l0.4-36l0.5 4.1l0.5-8.1l0.4 0.8l0.5 3.7l0.5 3.2l0.4-5.7l0.5-5.7l0.5 5.2l0.4 15.7l0.5 20.6l0.5 20.5l0.4 20.8l0.5-20.1l0.5-17.8l0.4-23.3l0.5-19.9l0.5 1.1l0.4 2l0.5 10.9l0.4-0.8l0.5-3.3l0.5-4.4l0.4 9.1l0.5 4.6l0.5-0.6l0.4 5.6l0.5 0.9l0.5 1.3l0.4-0.3l0.5-2.1l0.5-0.1l0.4-2.6l0.5-5.4l0.5-3.8l0.4 5.6l0.5-9.5l0.5 0.1l0.4-2l0.5-2.1l0.4-9.7l0.5-9.4l0.5-9.9l0.4 6.4l0.5-0.6l0.5 39.9l0.4 25.7l0.5 22.8l0.5-24.3l0.4-30.6l0.5-37.1l0.5 1.1l0.4 2.1l0.5 3.6l0.5 4l0.4 4.6l0.5-4.6l0.4 2.8l0.5 3.3l0.5 3.8l0.4 14.9l0.5 18.9l0.5-19.7l0.4-19.2l0.5 8.9l0.5 5.7l0.4 4.9l0.5 4.6l0.5 6.7l0.4 11.9l0.5-9.5l0.5-4.5l0.4-14l0.5 6.5l0.5-2l0.4-4.6l0.5 3.5l0.4-11.1l0.5-10.9l0.5 19.5l0.4 12.5l0.5-11.1l0.5-11.2l0.4 27.5l0.5 15.3l0.5-22.5l0.4-16.7l0.5-2.4l0.5 8.8l0.4 9.7l0.5 1.2l0.5 11.8l0.4 6.1l0.5 6.9l0.5 15.2l0.4 16.7l0.5 17.3l0.4-8.8l0.5 0.2l0.5-21.3l0.4-16.4l0.5-13.3l0.5 9.3l0.4 8.3l0.5 5.9l0.5-4.2l0.4-6.9l0.5-5.5l0.5-8l0.4 10.3l0.5-5.9l0.5-3.1l0.4 5.5l0.5-7.2l0.5-11.9l0.4-3.3l0.5 0.4l0.4 14.2l0.5 31l0.5 22.7l0.4-22.7l0.5-32.3l0.5-39.4l0.4-2.9l0.5 1.5l0.5-7.5l0.4 8.8l0.5-8.5l0.5-7.3l0.4-4.5l0.5 4.5l0.5 0.9l0.4 0.7l0.5 0.5l0.5-3.8l0.4 9.4l0.5 8.8l0.4 14.8l0.5 18.3l0.5-11.2l0.4-16.3l0.5-5.7l0.5-5.3l0.4-6.2l0.5 2.5l0.5 5.7l0.4 1.3l0.5 0.6l0.5-6.3l0.4-0.5l0.5-2.9l0.5 1.7l0.4 38.2l0.5 39.6l0.4 37l0.5-34.8l0.5-31.9l0.4-39.2l0.5 6.8l0.5 13.2l0.4 11l0.5-2.7l0.5-6.3l0.4-1.1l0.5-1.6l0.5 2.9l0.4 5l0.5-6.9l0.5-4.3l0.4-1.7l0.5 4.1l0.5-5.7l0.4 2.6l0.5 4.4l0.4-7l0.5 3l0.5-10.8l0.4 14.6l0.5 16l0.5 17.5l0.4 18.8l0.5 30l0.5 40.5l0.4-40.2l0.5-40.5l0.5-26.6l0.4-7.7l0.5 29.6l0.5 31.3l0.4 30.8l0.5-34l0.5-34.3l0.4-34.3l0.5 6.3l0.4 4.1l0.5-4.8l0.5 1.4l0.4 3.5l0.5-1.9l0.5 2.7l0.4 7.6l0.5 8.2l0.5 2.1l0.4-6.4l0.5-0.1l0.5-10.7l0.4-5.5l0.5-6.4l0.5 1.6l0.4 1l0.5-9.9l0.5 13.5l0.4 0.2l0.5-6.4l0.4-1.5l0.5 10.8l0.5 14.8l0.4-7.4l0.5 11.3l0.5 33.1l0.4 24.2l0.5 10.1l0.5 16.2l0.4-20.4l0.5-16.9l0.5-25l0.4-10.8l0.5-4.5l0.5-8l0.4 1.1l0.5 2.4l0.5-10.5l0.4-3.5l0.5-4.7l0.4 6.3l0.5 5.5l0.5 17l0.4 26.4l0.5 24l0.5-23l0.4-19l0.5-22.5l0.5 9.8l0.4 3.9l0.5-3.3l0.5-11l0.4 0.8l0.5 9.2l0.5 7.1l0.4-6.6l0.5-3.6l0.4-0.6l0.5 2.3l0.5 2.3l0.4-3.5l0.5-13.7l0.5 13.2l0.4-3.1l0.5-8.3l0.5 8.3l0.4 12.1l0.5 6l0.5-5.8l0.4-0.7l0.5 5.4l0.5 1.7l0.4-1.9l0.5-1.4l0.5 14.2l0.4 23.1l0.5 23.5l0.4-27.5l0.5-26.6l0.5-6.7l0.4-3.4l0.5-1.7l0.5 43.4l0.4 49.7l0.5 40.1l0.5-40.5l0.4-60.9l0.5-65.8l0.5-8.6l0.4 0.8l0.5-3.9l0.5 3.7l0.4 23.2l0.5 18.2l0.5 18.9l0.4 17l0.5-18.4l0.4-17.8l0.5-15.1l0.5-10.6l0.4-4l0.5-7.5l0.5 3.7l0.4 10l0.5-8.6l0.5-22.4l0.4 28.6l0.5 47.4l0.5 12.6l0.4 20.2l0.5-31.9l0.5-22.9l0.4-19.9l0.5 13.4l0.5 0.9l0.4 0.7l0.5 14.2l0.4 30.3l0.5 26.4l0.5 9.8l0.4-20.4l0.5-21.5l0.5-24.5l0.4-24.9l0.5-1.5l0.5-13.2l0.4 4.1l0.5-2.7l0.5-6.9l0.4 1.5l0.5-3.2l0.5 13.2l0.4-1.8l0.5-4.9l0.4 12.9l0.5 9l0.5-5.8l0.4-8.8l0.5 0.6l0.5-8.4l0.4-5l0.5-0.5l0.5-3.9l0.4-6.9l0.5-8.4l0.5-1.6l0.4 6.4l0.5-13.2l0.5 14.1l0.4-5.7l0.5 30.1l0.5 13.7l0.4 17.5l0.5 14.3l0.4-16.8l0.5-12.7l0.5-5.9l0.4-13.8l0.5-3.1l0.5 7.5l0.4-7.8l0.5-9.8l0.5 9.8l0.4-3.4l0.5 3l0.5 2.1l0.4-14.6l0.5 1l0.5-1.2l0.4-5.4l0.5-4.5l0.5-5.3l0.4-5.3l0.5 6.4l0.4 8.4l0.5-7.3l0.5-6.8l0.4 7.9l0.5-9.8l0.5-5.3l0.4 1.7l0.5-0.5l0.5-0.6l0.4 2.7l0.5 5.3l0.5 5.3l0.4 0.3l0.5-6.2l0.5 3.3l0.4-5.2l0.5 6.2l0.5-1.6l0.4 1.9l0.5 8.8l0.4 0.9l0.5-1.4l0.5-3l0.4 7.2l0.5 9.7l0.5-0.5l0.4 19.3l0.5 2.3l0.5 7.5l0.4 3.8l0.5-10.2l0.5-16.2l0.4 17.9l0.5 13.4l0.5 3l0.4-6l0.5-4l0.5 2l0.4-6.1l0.5-14.1l0.4-7l0.5 1l0.5 17.4l0.4 5.7l0.5 2.1l0.5 5.3l0.4-2.1l0.5-5.7l0.5-4.9l0.4 4.9l0.5 1.9l0.5 0.8l0.4 3.3l0.5-3.7l0.5-2l0.4 2.7l0.5 1.2l0.4 0.7l0.5 7.6l0.5-8.7l0.4 4.4l0.5-2.9l0.5 0.8l0.4 1.2l0.5-3.1l0.5-0.8l0.4 5.4l0.5 2.1l0.5 0l0.4-7.5l0.5 8.1l0.5-1.5l0.4-3.8l0.5 0.6l0.5 7.7l0.4-2.4l0.5 11.7l0.4-4.2l0.5 6.1l0.5-5l0.4-9.3l0.5-9.6l0.5-3.7l0.4-4.9l0.5 2.2l0.5-8.8l0.4 0.6l0.5-10.2l0.5-8l0.4-4.4l0.5 3.5l0.5-4.5l0.4 19.2l0.5 2.8l0.5 10.2l0.4 5l0.5-16.7l0.4-15.1l0.5-8.2l0.5 4.4l0.4 9.7l0.5 2.3l0.5-5.9l0.4 2.9l0.5-6.7l0.5-2.2l0.4 2.9l0.5 8.2l0.5 2.9l0.4 1.6l0.5 8.4l0.5 8.1l0.4-12.8l0.5-5.9l0.5-16.5l0.4 7.1l0.5 3.4l0.4-6l0.5 4.7l0.5 9.3l0.4-5.8l0.5 6.5l0.5 1.8l0.4 9.7l0.5 11.3l0.5 6.8l0.4-4.6l0.5-3.8l0.5-10.3l0.4-1.5l0.5 4.1l0.5-4.5l0.4 9.6l0.5-11.7l0.5-2l0.4-3.7l0.5-10.2l0.4-3.4l0.5 6.8l0.5-7.1l0.4 1.3l0.5-2.3l0.5-7.2l0.4 22l0.5 28.1l0.5 11.5l0.4-4l0.5 5.3l0.5-5.5l0.4 37.5l0.5 37.2l0.5 28.6l0.4-13.2l0.5-28.2l0.4-40.8l0.5-28.9l0.5-28.1l0.4 0.8l0.5-4l0.5 2.7l0.4-0.2l0.5-2.9l0.5-2.4l0.4 0.8l0.5 9.4l0.5 14.5l0.4-0.1l0.5 0l0.5-2.5l0.4 4.7l0.5-14.6l0.5 1l0.4 15.2l0.5 11.9l0.4 39.1l0.5 45.6l0.5 45.6l0.4-46l0.5-45.9l0.5-41.5l0.4 5.4l0.5-4.2l0.5-5.6l0.4-5.3l0.5-1l0.5-0.3l0.4 5.6l0.5 1.6l0.5 7l0.4-20.8l0.5-9.8l0.5 1.4l0.4 5.1l0.5 2.9l0.4-11.3l0.5-1.8l0.5 5.6l0.4 8.2l0.5 6.2l0.5-2.7l0.4-10.9l0.5-5.9l0.5-3.5l0.4-13.8l0.5-0.6l0.5-3l0.4-7.8l0.5 1l0.5 9.9l0.4 24.2l0.5-4l0.5-35l0.4 6.3l0.5 0l0.4-2.1l0.5-3.5l0.5-1.8l0.4 15.2l0.5-3.8l0.5 0.2l0.4 4.1l0.5-1.8l0.5-5l0.4-9.2l0.5 12.4l0.5-1.9l0.4 8.6l0.5 6.2l0.5-4.1l0.4-7.5l0.5 0.4l0.5 6.6l0.4 2.4l0.5 1.8l0.4-9.3l0.5 10.7l0.5-5.3l0.4 5.3l0.5-8.6l0.5 4.7l0.4-8.2l0.5 8.1l0.5 1.2l0.4 0l0.5 0.2l0.5-8.1l0.4-1.9l0.5 2.7l0.5-10.7l0.4-5.4l0.5 14.4l0.4 4.3l0.5-11.4l0.5 8.9l0.4 1.9l0.5 39.1l0.5 37.6l0.4 40.8l0.5-35.3l0.5-40.6l0.4-33.3l0.5 6.6l0.5 6.4l0.4 0.4l0.5 12.8l0.5 8l0.4 14.4l0.5-6.4l0.5 0.8l0.4-5.6l0.5-7.1l0.4-6.7l0.5-12.9l0.5-9.7l0.4 0.3l0.5 10.2l0.5 4.6l0.4 8.4l0.5 10l0.5-9.5l0.4-9.8l0.5-18.3l0.5-0.2l0.4-0.3l0.5-11.9l0.5-15.4l0.4-13.5l0.5-7.8l0.5 10.7l0.4 16.9l0.5 23.6l0.4 9.3l0.5-9.9l0.5-5.4l0.4 5l0.5 3.3l0.5-11.2l0.4-4.2l0.5-12.7l0.5 54.1l0.4 47.3l0.5 50l0.5-46.7l0.4-45.6l0.5-54.4l0.5 5.1l0.4-4.4l0.5 4.6l0.5 11.4l0.4-10.1l0.5-2.1l0.4 10.7l0.5 6l0.5-1.3l0.4 23.7l0.5 9.7l0.5 15.8l0.4 18.5l0.5-17.7l0.5-13.2l0.4-21.9l0.5-24.4l0.5-5.2l0.4 4.7l0.5 10.6l0.5 0.4l0.4-1.6l0.5 0.1l0.4 6.5l0.5 11.7l0.5 9.1l0.4 4.1l0.5-4.5l0.5 1.5l0.4-17.9l0.5-11.6l0.5 4.4l0.4-3.4l0.5 7.5l0.5 18.1l0.4 5.7l0.5 7.6l0.5 11.1l0.4-11.2l0.5-18.3l0.5-16l0.4-18.3l0.5-6.2l0.4-1.5l0.5-11.5l0.5 2.8l0.4-10.1l0.5 0.1l0.5 7.2l0.4 4.6l0.5 16.2l0.5 1.6l0.4-2.2l0.5-0.6l0.5 7.2l0.4 11.1l0.5-5.4l0.5 14.3l0.4 10.4l0.5 13l0.5 10.7l0.4-8.4l0.5-13.3l0.4-10.6l0.5-16.3l0.5 0.7l0.4 2.7l0.5 3.6l0.5 7.4l0.4 1.9l0.5 5.4l0.5-12.3l0.4-0.1l0.5-1.9l0.5-1.9l0.4 6l0.5 5.8l0.5-6.1l0.4-4.6l0.5 1.5l0.5 10l0.4 2.7l0.5-3.1l0.4 0.3l0.5-1.3l0.5-0.1l0.4-7.6l0.5-6.7l0.5-3.6l0.4-1.4l0.5 3.7l0.5-3.7l0.4-14.2l0.5 0.6l0.5 7.7l0.4-2.9l0.5-4.7l0.5 8.6l0.4-5.2l0.5 2.6l0.5 4.3l0.4 8.4l0.5-1.9l0.4 0.2l0.5 9.1l0.5-0.4l0.4-5.8l0.5 3.6l0.5-2.7l0.4-2.8l0.5 6.3l0.5 15.1l0.4 22.6l0.5 17l0.5-20.2l0.4-23.5l0.5-18.3l0.5 25.4l0.4 23.4l0.5-25.3l0.4-30.1l0.5 13.3l0.5-0.4l0.4 7.1l0.5-1.3l0.5 2.9l0.4 1.3l0.5-2.9l0.5-0.5l0.4 0l0.5-14.7l0.5-3.8l0.4-5l0.5 2.3l0.5-7.4l0.4 13.7l0.5 49.2l0.5 41.5l0.4-42.9l0.5-40.8l0.4 4.7l0.5-2l0.5-6l0.4-5.9l0.5-6.9l0.5-6.5l0.4 2.2l0.5-4.5l0.5 4.1l0.4 0l0.5-7.8l0.5 0.8l0.4 8.8l0.5 1.9l0.5-1.3l0.4 4.2l0.5-2.4l0.5 3.4l0.4 18.5l0.5 8.6l0.4-12.1l0.5-4.9l0.5 0l0.4-2.8l0.5 6.2l0.5 15.8l0.4-18.8l0.5-17l0.5-4.2l0.4 8.8l0.5-1.3l0.5-0.2l0.4 37.7l0.5 30.9l0.5 32.7l0.4-27.6l0.5-20.1l0.5-27.3l0.4 6.7l0.5 7.1l0.4 7.2l0.5-2.8l0.5 2.4l0.4-11.5l0.5-1.5l0.5-6.1l0.4-5.5l0.5-1l0.5-8.3l0.4-4.6l0.5-13.3l0.5-11.2l0.4-14.4l0.5 14l0.5 9l0.4 7.5l0.5-8.5l0.5-6.9l0.4 21.5l0.5 10.1l0.4-13.8l0.5-3.6l0.5 4.9l0.4-3.5l0.5 9.5l0.5 7.5l0.4 11.7l0.5 13.2l0.5 12.6l0.4-9.4l0.5-5.1l0.5-7.9l0.4 4.1l0.5 3.5l0.5 7.4l0.4-2.6l0.5-1.9l0.4-10l0.5-0.8l0.5 0.5l0.4 4.8l0.5 0.1l0.5-11.2l0.4-5.5l0.5 7.3l0.5 5l0.4 10.1l0.5-0.1l0.5 4.5l0.4-2.4l0.5 10l0.5-1.2l0.4-14.6l0.5 1.6l0.5 9.9l0.4-10.1l0.5-13.3l0.4 4.1l0.5 8.1l0.5-12l0.4 9.3l0.5 1.3l0.5-1.9l0.4-0.4l0.5-8.2l0.5-5.3l0.4 0.5l0.5 4.6l0.5-0.8l0.4-0.7l0.5 9.1l0.5 9.2l0.4-15.2l0.5-12.9l0.5 8.3l0.4-11.8l0.5-2.2l0.4 5.1l0.5 1.3l0.5 5.3l0.4 2.4l0.5 4.4l0.5 5.2l0.4 2.1l0.5 6.3l0.5-0.8l0.4-2.7l0.5 0.3l0.5-5.9l0.4-11.4l0.5 4.8l0.5 2.6l0.4-8.2l0.5 0.8l0.5-6l0.4 14.1l0.5 22.5l0.4 6.4l0.5-7.1l0.5-22.8l0.4-6.6l0.5-7.2l0.5 6.4l0.4 10.9l0.5 3.6l0.5 10.6l0.4-12.6" fill="none" stroke="#C874AC" stroke-width="3.4" stroke-linejoin="round" stroke-linecap="round"/>
<path d="M102.8 223.6l0.2 25.9l0.2 27l0.3-26.9l0.2-21.7l0.2-42.6l0.3-41.5l0.2-3.8l0.3 2.6l0.2-7.8l0.2-19.9l0.3 13.6l0.2-33.3l0.2 15.9l0.3-12.1l0.2-6.3l0.3-8.1l0.2 16.1l0.2 20.1l0.3 18.9l0.2 7.4l0.3 7.1l0.2-13l0.2-13.8l0.3-10.6l0.2 12.1l0.2 20.3l0.3 28.1l0.2-0.6l0.3-12.2l0.2-24.4l0.2-2.2l0.3 22.7l0.2 20.7l0.3 15.8l0.2-21.6l0.2-21.5l0.3-21.6l0.2-21.5l0.2 9.8l0.3 13l0.2 12.3l0.3 4.2l0.2 10l0.2 9.7l0.3-9.9l0.2-0.8l0.3 15.2l0.2 18.6l0.2 32l0.3 30.4l0.2 31.1l0.2-32.9l0.3-27.1l0.2-29.8l0.3-29.2l0.2-51.2l0.2 13.1l0.3-16.3l0.2 6.8l0.2 19.8l0.3 19.9l0.2 2.4l0.3 20.6l0.2 13.4l0.2-10l0.3-23.4l0.2-9.2l0.3-9.4l0.2-21.3l0.2 2.5l0.3 17.5l0.2 11.9l0.2-25.9l0.3 0.3l0.2-19.7l0.3-1.9l0.2-1.9l0.2-1.8l0.3-1.9l0.2 1.9l0.3 19.3l0.2 7.6l0.2 33.2l0.3 24.6l0.2-10l0.2 2.6l0.3-15.4l0.2-3.6l0.3-20.6l0.2-5.8l0.2 2.9l0.3-20.9l0.2-5.6l0.3 15.2l0.2-9.8l0.2 1.4l0.3-4l0.2 0.3l0.2-0.5l0.3 3.9l0.2-5.1l0.3-1.2l0.2 4.4l0.2-5.2l0.3 0l0.2 0l0.2 0l0.3 3.3l0.2-3.3l0.3 0l0.2 0.8l0.2-0.8l0.3 10.1l0.2-10.1l0.3 1.7l0.2 24.2l0.2-5.5l0.3 8.5l0.2-10.9l0.2 11.1l0.3 12.9l0.2-17.9l0.3-6.6l0.2-3.7l0.2 1.4l0.3 14.3l0.2-2.9l0.3-2.4l0.2-3.7l0.2 11.2l0.3-11.2l0.2 16l0.2-35.4l0.3 27.9l0.2 0.9l0.3-12.2l0.2 2.6l0.2 11.4l0.3 38l0.2 17.8l0.3-11.9l0.2-5.5l0.2-1.3l0.3-9.8l0.2 7.2l0.2 14.7l0.3-13.2l0.2-4.4l0.3-19l0.2 15.9l0.2 1.8l0.3-8.3l0.2 4.4l0.3 3.8l0.2 0.3l0.2-27.9l0.3-23.6l0.2-21.8l0.2-16.2l0.3-14l0.2 19.6l0.3 13.9l0.2 22.9l0.2 1.4l0.3 13.1l0.2-20.3l0.2 26.3l0.3-19l0.2 24.4l0.3-25.3l0.2 17.8l0.2-0.4l0.3 15l0.2-15l0.3 29.6l0.2-10.4l0.2 10.8l0.3 9.3l0.2 11.1l0.2 8.5l0.3-17.2l0.2-31.2l0.3 3.1l0.2-9.2l0.2-29.2l0.3 15.4l0.2-14.6l0.3 25.8l0.2-15.3l0.2 44.4l0.3-26.7l0.2-9.5l0.2-8.4l0.3-24.4l0.2-33l0.3 25.8l0.2 10.4l0.2 27.3l0.3 36.6l0.2 42.9l0.3 19.4l0.2 15.3l0.2-23l0.3-15.9l0.2-12.1l0.2-16.4l0.3-16.3l0.2 8.4l0.3-13.3l0.2 13.3l0.2 0l0.3-9.1l0.2-43.6l0.2 23.2l0.3 31.4l0.2-5.1l0.3 1.9l0.2 3.5l0.2-3.6l0.3-0.4l0.2-6.5l0.3-1.7l0.2-12.1l0.2 11.1l0.3 23.4l0.2 11.7l0.2-14.9l0.3-10.9l0.2-6.6l0.3-20.8l0.2 1.9l0.2-31.8l0.3 7.6l0.2 36l0.3-18.3l0.2 6.8l0.2-14.7l0.3 10.4l0.2-9.1l0.2 12l0.3 6.3l0.2 15l0.3-20.6l0.2-17.2l0.2 22.7l0.3-22l0.2 25.5l0.3 24.3l0.2-4.2l0.2 10.5l0.3 8.9l0.2-12.2l0.2-21.5l0.3-2.1l0.2-25.5l0.3-14.9l0.2-8.2l0.2-8l0.3-3.7l0.2-3.4l0.3-0.4l0.2 10.8l0.2 7.5l0.3-3.6l0.2 4.2l0.2-3.2l0.3 0l0.2 9.9l0.3 19l0.2-25.7l0.2 2.2l0.3 6.3l0.2 17.8l0.2 8.9l0.3-8.6l0.2 8.5l0.3-27.4l0.2 14.2l0.2-4.7l0.3-0.4l0.2-20.1l0.3 0l0.2 6.3l0.2 6.7l0.3-5.6l0.2 12.8l0.2-13.4l0.3-6.4l0.2 14.8l0.3-12.1l0.2 2.6l0.2 1.5l0.3-1.3l0.2-1.1l0.3-1.1l0.2 4.9l0.2-3.6l0.3 11.7l0.2 1.2l0.2 37.3l0.3-18.9l0.2-3l0.3 8.7l0.2-11.9l0.2 0.8l0.3 0.2l0.2-12.9l0.3-10.2l0.2 7.7l0.2 25.9l0.3 9.1l0.2 19.5l0.2 14l0.3-18.2l0.2-24.3l0.3-22.2l0.2-16.1l0.2-24.3l0.3-16.9l0.2 20.6l0.2 8.7l0.3 16.5l0.2 17.3l0.3 40.1l0.2-21.6l0.2 21.6l0.3-10.3l0.2-5.4l0.3 15.8l0.2 0l0.2-4.4l0.3-15.4l0.2 9.5l0.2-11.7l0.3 22.1l0.2-3.7l0.3-1.8l0.2 2.8l0.2 2.7l0.3 0.1l0.2-2.6l0.3 2.6l0.2-4.4l0.2 5.3l0.3 21l0.2 28.7l0.2-29.5l0.3-26.5l0.2-24l0.3-14.4l0.2-8.3l0.2 4.9l0.3 17l0.2 38l0.3 19l0.2 21.1l0.2-21.4l0.3-25.2l0.2-5.7l0.2 15.1l0.3 31.2l0.2 39.6l0.3-32l0.2-37.7l0.2-38.2l0.3 5.6l0.2-23.3l0.3 32.9l0.2-29l0.2 15.9l0.3 2.6l0.2-0.1l0.2 8.6l0.3-17.1l0.2-32.6l0.3 28l0.2-28.7l0.2-1.1l0.3 15.7l0.2-4.4l0.2 2.5l0.3 67.3l0.2 2.5l0.3 26.1l0.2 17.1l0.2 24.2l0.3-17.1l0.2-28.1l0.3-25.3l0.2 0.6l0.2-44.5l0.3-1.3l0.2-11.4l0.2-23.7l0.3 11.1l0.2 28l0.3-5.8l0.2 8.4l0.2-2.3l0.3 26.1l0.2-8l0.3-3l0.2 7.8l0.2 3.2l0.3-25.1l0.2 15.7l0.2 5.1l0.3-5.6l0.2 0.4l0.3-15l0.2 35l0.2 26.5l0.3-29.2l0.2-35.9l0.3-5.7l0.2 34l0.2-7.4l0.3 0l0.2-4.8l0.2 3l0.3 9.3l0.2 0l0.3 0l0.2 0l0.2-9.6l0.3 9.7l0.2-10.1l0.2-0.6l0.3-15.7l0.2 12.5l0.3-5.8l0.2-2l0.2-21.9l0.3 1.7l0.2-1.9l0.3-13.4l0.2 16.1l0.2 38.3l0.3 15l0.2 15.4l0.2-23.1l0.3-23.2l0.2-14.8l0.3-31.6l0.2 3.2l0.2 12.6l0.3-15.7l0.2 0l0.3 0.1l0.2 10.5l0.2-29.6l0.3-5l0.2-14.1l0.2-9.5l0.3 9.5l0.2 14.9l0.3 4.3l0.2 6.6l0.2 16.5l0.3-10.6l0.2-8.1l0.3 6.6l0.2 16.4l0.2 20.2l0.3 9l0.2 19.6l0.2-1l0.3 22.1l0.2 5.3l0.3 27.8l0.2 27.7l0.2-26.6l0.3-21l0.2-35.7l0.3-27.7l0.2-27.7l0.2 13l0.3 0.5l0.2 11.1l0.2-16.1l0.3 48.1l0.2-5.9l0.3-46.1l0.2-26.5l0.2 23.5l0.3 27.8l0.2 25.4l0.2 11.2l0.3 5.1l0.2 9.7l0.3 13l0.2-16.9l0.2 2.2l0.3-31.7l0.2 4.8l0.3 9.2l0.2 4.2l0.2 0l0.3-9.7l0.2-5.7l0.2-13.3l0.3 28.8l0.2 0l0.3-23.7l0.2 18.6l0.2-26.1l0.3 4.2l0.2-8.5l0.3-21l0.2 21.4l0.2-0.9l0.3 6.4l0.2-6.8l0.2-10.7l0.3-18.4l0.2-15.2l0.3 10.9l0.2 7.6l0.2 3.8l0.3 6.5l0.2 13l0.3-26.1l0.2 0l0.2 55.2l0.3 3.1l0.2-35.2l0.2 10.3l0.3 12.2l0.2 2.5l0.3-3.3l0.2-42l0.2 27.7l0.3 42.3l0.2 27.8l0.2 35.5l0.3 46.2l0.2 37.3l0.3-38.6l0.2-28.8l0.2-31.3l0.3-28.9l0.2-29.6l0.3-9.9l0.2-11.5l0.2-11.3l0.3-4.7l0.2 28.1l0.2-11.5l0.3 17.1l0.2-16.2l0.3-4.3l0.2-3.7l0.2 6.7l0.3-17.6l0.2-5.8l0.3-18.2l0.2 0.9l0.2-16.5l0.3-16.3l0.2 20.3l0.2 18.3l0.3 24.2l0.2 15l0.3 18.6l0.2 4.5l0.2-14.4l0.3-49.8l0.2 38.8l0.3 2.1l0.2-21.6l0.2-2.9l0.3-14.7l0.2 9.7l0.2 26.1l0.3 39.9l0.2 34.4l0.3 22.5l0.2 0.2l0.2 9.8l0.3-17.9l0.2-21.5l0.3-14.4l0.2-14.3l0.2-28.4l0.3-0.7l0.2-22l0.2 20.8l0.3-17l0.2 4.7l0.3-20.2l0.2-16.7l0.2 33.2l0.3 5.2l0.2-6.4l0.2-5.1l0.3-7.9l0.2 17.3l0.3-22.8l0.2-1.9l0.2 12.4l0.3 0.7l0.2-6.6l0.3 24.6l0.2-7.6l0.2-16.3l0.3 26.4l0.2-44.9l0.2 0l0.3 3.7l0.2 14.1l0.3 22.5l0.2-5.5l0.2 12.9l0.3-9.6l0.2 17.3l0.3-9.5l0.2 13.1l0.2 3.7l0.3-1.8l0.2 4.2l0.2 10l0.3-3.2l0.2-3.1l0.3-3.2l0.2-20.5l0.2-22.2l0.3-26.4l0.2-16.7l0.3-16.7l0.2 20.3l0.2 20.7l0.3 20.6l0.2 18.8l0.2-2.1l0.3-12.8l0.2 15.5l0.3 22.2l0.2-15.2l0.2 8.2l0.3 8.3l0.2 0.5l0.2-13.5l0.3 2.7l0.2-9.3l0.3 12.9l0.2 12.1l0.2 19.6l0.3 24.9l0.2 21.8l0.3-27.7l0.2-24.5l0.2-31l0.3-27.7l0.2-22.9l0.2-4.7l0.3 12.6l0.2-12.6l0.3 0l0.2 72.6l0.2 69.6l0.3-68.2l0.2-72.7l0.3-1.2l0.2 0l0.2 15.9l0.3-15.9l0.2 20.4l0.2-1.9l0.3-9.5l0.2-8.9l0.3 20.6l0.2-20.6l0.2 0.1l0.3 8.6l0.2-8.6l0.3 0l0.2 0l0.2 6.5l0.3-6.4l0.2 8.5l0.2 8.9l0.3-3.8l0.2 6.6l0.3-13.4l0.2 3.2l0.2 30.3l0.3-4l0.2-36.2l0.3 16.4l0.2-7.5l0.2 25.1l0.3-4.3l0.2-19.5l0.2 29.9l0.3-16.5l0.2-1.4l0.3-22.1l0.2 10.8l0.2 23.4l0.3 14.6l0.2-15.9l0.2-9.3l0.3-18.7l0.2 26.1l0.3-6.2l0.2 5.2l0.2 28.4l0.3 12.6l0.2-27.9l0.3-22.6l0.2-14.4l0.2-9.8l0.3-14.8l0.2 16.1l0.2 16.1l0.3 15.1l0.2 14.9l0.3 22.2l0.2-10.9l0.2-6.2l0.3 11.8l0.2 35.5l0.3-42.7l0.2-30.6l0.2-6.1l0.3-10.8l0.2-0.6l0.2 9.1l0.3 21l0.2 39.8l0.3 31l0.2 31.1l0.2 30.7l0.3-33l0.2-31.9l0.3-35.5l0.2-33.5l0.2-33.4l0.3 0l0.2 0l0.2 0l0.3 4.3l0.2-1.5l0.3-6.4l0.2-12.9l0.2-5.5l0.3 6.3l0.2 16.8l0.2 15.5l0.3 27.7l0.2 14.5l0.3-5.9l0.2 13.5l0.2 9.1l0.3 6l0.2 5.5l0.3 8.6l0.2 8.5l0.2 17.7l0.3-14l0.2-8.3l0.2-19.5l0.3-2.8l0.2-22.9l0.3 11.8l0.2 0l0.2-16.8l0.3-9.9l0.2 16.6l0.3-21.6l0.2 15.4l0.2 2.6l0.3-28.7l0.2 18.3l0.2-0.1l0.3 11l0.2-29.5l0.3-13.4l0.2 14.1l0.2 8.8l0.3 7.1l0.2 25.8l0.3-44.8l0.2 42.6l0.2-63.2l0.3 13.7l0.2 2.8l0.2 32.4l0.3-18.2l0.2-4.8l0.3 6.7l0.2 7.6l0.2 3.9l0.3-41.7l0.2-16l0.3-16.8l0.2-21l0.2-12.8l0.3 12.8l0.2 18.1l0.2 15.6l0.3 5l0.2 17.5l0.3 11.5l0.2-15.1l0.2-1l0.3 2.2l0.2-2.2l0.2 0.1l0.3 0l0.2 17.8l0.3 17.8l0.2 17.8l0.2 17.8l0.3 17.9l0.2-15.3l0.3-16.3l0.2-21.9l0.2-17.7l0.3 41l0.2-5.9l0.2 27l0.3 13.6l0.2 16.3l0.3-16.9l0.2-17.6l0.2-27l0.3-21.4l0.2 12.3l0.3-39.1l0.2 7.8l0.2 40.1l0.3-22.1l0.2 7.9l0.2 15.9l0.3 3.7l0.2 8.8l0.3 5.5l0.2-1.9l0.2 2l0.3-3.2l0.2-6.5l0.3 4.4l0.2-32l0.2 3.6l0.3-11.6l0.2 5.9l0.2 11.2l0.3-29l0.2 37.4l0.3-2.1l0.2 28.5l0.2 22.7l0.3 10.6l0.2-19.8l0.2-23.2l0.3-19.4l0.2-21.3l0.3-19.6l0.2 1.4l0.2 1.3l0.3-1.3l0.2-1.4l0.3 19.5l0.2 33.2l0.2-19.9l0.3-36.8l0.2 0l0.2 22.2l0.3-11.9l0.2-10.2l0.3 16.7l0.2 5.5l0.2 22.2l0.3 16.4l0.2-15.8l0.3-16.5l0.2-8.6l0.2 37.8l0.3 23.1l0.2 12.6l0.2 8.2l0.3-10.7l0.2-18.8l0.3 1.5l0.2-38.2l0.2 2.3l0.3-35.9l0.2 14.3l0.3 10.6l0.2-6.4l0.2-0.5l0.3-5.6l0.2-14l0.2 14.6l0.3 30.9l0.2-28.3l0.3 2.2l0.2 17.1l0.2-11.7l0.3 24.5l0.2-33.6l0.3-37.3l0.2 44.8l0.2 43.4l0.3 1.5l0.2-21.9l0.2 14.8l0.3 7.2l0.2-39.7l0.3 15.5l0.2 0.5l0.2 21.4l0.3 2.4l0.2-26.4l0.2 26.4l0.3-15.3l0.2 1.5l0.3-1.2l0.2 20.1l0.2 11.1l0.3-8l0.2-32l0.3-28.9l0.2-8.2l0.2 1.8l0.3-8.9l0.2 21.1l0.2-21.1l0.3 34.8l0.2-30.8l0.3 27.9l0.2 50.1l0.2 34.6l0.3 40.8l0.2 36.8l0.3-32.3l0.2-20.1l0.2-44.1l0.3-58.7l0.2-5.9l0.2-27.1l0.3 58.3l0.2 64.1l0.3-64.1l0.2-64.1l0.2 0l0.3 0l0.2 0l0.3 0l0.2 0.1l0.2 28.9l0.3 27.7l0.2 15.4l0.2 22.6l0.3 15.1l0.2-20.1l0.3-5.9l0.2-3.3l0.2-41.5l0.3-16.6l0.2-2.4l0.2 10.8l0.3 6.7l0.2 3.6l0.3 8.1l0.2-24.2l0.2 26.9l0.3-5.7l0.2-15.3l0.3-16.3l0.2-20.8l0.2-20.3l0.3 23l0.2 28.4l0.2 32.9l0.3 18.1l0.2 8.4l0.3-9.1l0.2-20.7l0.2-19.1l0.3-4.3l0.2-0.4l0.3-21.1l0.2 24.1l0.2 7.8l0.3-17l0.2-24.3l0.2 6l0.3-15.7l0.2-4.8l0.3-4.7l0.2 11.7l0.2 0.2l0.3 3.1l0.2 38.6l0.3-34.9l0.2 12.1l0.2-12.3l0.3 31.3l0.2 43.1l0.2 50.5l0.3-33.6l0.2-9.3l0.3 10.5l0.2 14.8l0.2-11.3l0.3-10.6l0.2-0.8l0.3-30.6l0.2 4.3l0.2-32.9l0.3-9.6l0.2 23.5l0.2 24.5l0.3-5.8l0.2-6l0.3-29.8l0.2-6.3l0.2-10.8l0.3-15.1l0.2 37.5l0.2 31.9l0.3 28.7l0.2 22.4l0.3 14.2l0.2-11.1l0.2-11.1l0.3-16.6l0.2-5.7l0.3-11.2l0.2 0l0.2-0.1l0.3 0l0.2-18l0.2 18l0.3-2.8l0.2 7.4l0.3 3.1l0.2-0.5l0.2 5.6l0.3-8.5l0.2-6l0.3-21.4l0.2 5.9l0.2 1.1l0.3-8.7l0.2 2.3l0.2 27.1l0.3 25.7l0.2 21.1l0.3-21.9l0.2-24.4l0.2-15.5l0.3-29l0.2 7l0.3-1.5l0.2 10.6l0.2 22.7l0.3-47.2l0.2 21.3l0.2-10.9l0.3-35.2l0.2 0l0.3-0.1l0.2-0.1l0.2 11.7l0.3 2.7l0.2-14.5l0.2 26.5l0.3 15.9l0.2 1.3l0.3-25.8l0.2 49.9l0.2-15.9l0.3 20.1l0.2-27l0.3 4l0.2-26.8l0.2-14.9l0.3 2.3l0.2 21l0.2-10.6l0.3-5.8l0.2-5.6l0.3-10l0.2 8.2l0.2 8.8l0.3 9.8l0.2 23l0.3 17.4l0.2-33.4l0.2-25.2l0.3-16.3l0.2-10.5l0.2-6l0.3 5.9l0.2 10.9l0.3 8.5l0.2 3.1l0.2-4.4l0.3 0l0.2 1.2l0.3-1.2l0.2 19.9l0.2-20l0.3 0l0.2 18.5l0.2-2l0.3-16.5l0.2 27.1l0.3-27.2l0.2 0l0.2 0l0.3 0l0.2 6.3l0.3 1.6l0.2-6l0.2-2l0.3 10.1l0.2 66.5l0.2 76.7l0.3-107.3l0.2-60.2l0.3-7l0.2 6.9l0.2 4.1l0.3 1.3l0.2-3l0.2-2.9l0.3 9.4l0.2 22.5l0.3-3.6l0.2 0l0.2-13.7l0.3 47.3l0.2-18.3l0.3-28.4l0.2 45.4l0.2 16.3l0.3-2.3l0.2 35.3l0.2 8.1l0.3 17.4l0.2-15l0.3-20.8l0.2 1.6l0.2-24.2l0.3-3.2l0.2 8.8l0.3-8.4l0.2-18.6l0.2-24.1l0.3 15.6l0.2 3.8l0.2-15.2l0.3-10.9l0.2-14.7l0.3 8.2l0.2 14.9l0.2-4.3l0.3-0.5l0.2 7.2l0.3 28.2l0.2-8.3l0.2-24.7l0.3 48.4l0.2-24.6l0.2-5.8l0.3-26.9l0.2 2.4l0.3-5.2l0.2 7.5l0.2-0.8l0.3 20.7l0.2 24.5l0.2 25.3l0.3 37.4l0.2 14.1l0.3 19.3l0.2-23.9l0.2-22.6l0.3-22.1l0.2-27l0.3-0.7l0.2 8.5l0.2 46.8l0.3 24.6l0.2 20.8l0.2-20.1l0.3-20.4l0.2-10.4l0.3-18.8l0.2-15.2l0.2-17.7l0.3 47.7l0.2 38.1l0.3 50.8l0.2 39.9l0.2 50.8l0.3-56.6l0.2-48l0.2-39.3l0.3-16.5l0.2-23.3l0.3-16.5l0.2-3.6l0.2 9.3l0.3 33l0.2 37.5l0.3 43.6l0.2-38l0.2-22.6l0.3-29.9l0.2-32.2l0.2-45l0.3-8.3l0.2-20.4l0.3 74.7l0.2 76.6l0.2 30l0.3 4.3l0.2 45.7l0.3-47.1l0.2-35.9l0.2-39.7l0.3-41.9l0.2 5.4l0.2-25.3l0.3-2.7l0.2-5.7l0.3-18.4l0.2-29.3l0.2 24.6l0.3 15.2l0.2 8.9l0.2-34.4l0.3-9.5l0.2 38.9l0.3-0.3l0.2-7.6l0.2 31.6l0.3-7.9l0.2-17.5l0.3-28.6l0.2 17.7l0.2 12.4l0.3 31.8l0.2 32.7l0.2 15l0.3 32.6l0.2-40.7l0.3-54.3l0.2-10.7l0.2 17.8l0.3 11.2l0.2-15.3l0.3-8.9l0.2-15.7l0.2-21.3l0.3-15.3l0.2 24.9l0.2-18.9l0.3-4.2l0.2 3.8l0.3 5.7l0.2 6.7l0.2 10.6l0.3 0.8l0.2-12.8l0.3 9.9l0.2 11.4l0.2-38.1l0.3 42l0.2 28.6l0.2 12l0.3 18.6l0.2-25.3l0.3-2l0.2-18.2l0.2 10.2l0.3-27.5l0.2-38.4l0.2 6.9l0.3 21.5l0.2 25.9l0.3-16.7l0.2 16.1l0.2-23.3l0.3-9.3l0.2 12.5l0.3 7.3l0.2 1.5l0.2-9.5l0.3 17.6l0.2 12.5l0.2-9.2l0.3-40l0.2 23.5l0.3 3.6l0.2 27.4l0.2 13.3l0.3-15.8l0.2 2.1l0.3-6.9l0.2-49.8l0.2 27.7l0.3-25.7l0.2 17.8l0.2-5.1l0.3 19.8l0.2 32l0.3 21.3l0.2 14.3l0.2 23.1l0.3-21.4l0.2-25.7l0.3-17.2l0.2-34.6l0.2-9.5l0.3 21.3l0.2-19l0.2 1.9l0.3 11.1l0.2-42.9l0.3 7.8l0.2 31.3l0.2 10.1l0.3-20.5l0.2 19.4l0.3 5.1l0.2 0.2l0.2 9.8l0.3 6.4l0.2 5l0.2-8l0.3-3.1l0.2-14.8l0.3-5.2l0.2-21.6l0.2-2.9l0.3-18.8l0.2 10.7l0.2-10.7l0.3 8.2l0.2 17.9l0.3 24.3l0.2 25.1l0.2-25.1l0.3-16.7l0.2-1.3l0.3-19l0.2-15.4l0.2-1.5l0.3-18.2l0.2-15.4l0.2 11l0.3 2.9l0.2 19.9l0.3 19.4l0.2 10.5l0.2-7.2l0.3-11.9l0.2 8.4l0.3 18.1l0.2-8.2l0.2-17.7l0.3 40.9l0.2-10.1l0.2-18l0.3 12.9l0.2-17.6l0.3-14.4l0.2 7.3l0.2-1.7l0.3 4.8l0.2 7l0.3 9.2l0.2 1.5l0.2-6.1l0.3-5.6l0.2-6.3l0.2 10.5l0.3-19.3l0.2 1.3l0.3 16.7l0.2 20.6l0.2-32.9l0.3 24.2l0.2 8.2l0.2-5.4l0.3 13.2l0.2 7.7l0.3-44.1l0.2 5.2l0.2 27.5l0.3 18.1l0.2-7.5l0.3-26.4l0.2 6.9l0.2-15.4l0.3 26.3l0.2 7.4l0.2-0.4l0.3 8.5l0.2 16.5l0.3 9.9l0.2 13.8l0.2 23.1l0.3 19.7l0.2-20.9l0.3-6.3l0.2-4.5l0.2 1.4l0.3 8.2l0.2-15.4l0.2-28.2l0.3-12.8l0.2-5.6l0.3-14l0.2-9l0.2-11.8l0.3-16.1l0.2-6.4l0.3 11.4l0.2 4.9l0.2 0.4l0.3-5.4l0.2-7.4l0.2-13.2l0.3 13.1l0.2 10.3l0.3-5.6l0.2 17.7l0.2-18.4l0.3 11l0.2 2.4l0.3 0.9l0.2-2.7l0.2-10.7l0.3-7.9l0.2 20.7l0.2-7.7l0.3 11.8l0.2 5.3l0.3 4.8l0.2-7.3l0.2 5.9l0.3 29.7l0.2-3.4l0.2 26.2l0.3 10.6l0.2 10.6l0.3-10.6l0.2-10.7l0.2-20.6l0.3-20.7l0.2 9l0.3-6l0.2 5.9l0.2-5.6l0.3-16.3l0.2 21.4l0.2 0.4l0.3-25.1l0.2 11l0.3-32.2l0.2 10.9l0.2-5.6l0.3 23.7l0.2 10.1l0.3 14.9l0.2-29.5l0.2-30.6l0.3-20.3l0.2-8.2l0.2-6l0.3 6.3l0.2 7.1l0.3 9.8l0.2 18.3l0.2-3.8l0.3 0.9l0.2-4.4l0.3 27.4l0.2-28.6l0.2 19.4l0.3-1.8l0.2 11.9l0.2-2.1l0.3-2.2l0.2 18.4l0.3-10.7l0.2 10.5l0.2 10.8l0.3-34l0.2-22.3l0.2 19l0.3 3.7l0.2 23.1l0.3-3l0.2 11l0.2-19.3l0.3 17.2l0.2-5.6l0.3-9.9l0.2 23.3l0.2 29.5l0.3 10.2l0.2 13l0.2-17.1l0.3-19.4l0.2-8.9l0.3-24.8l0.2-22l0.2 7.7l0.3-27.8l0.2 11l0.3 16.8l0.2-6.8l0.2-20.9l0.3 9.2l0.2 2.6l0.2-2.8l0.3 3.7l0.2-12.6l0.3 14l0.2-13.9l0.2 8.3l0.3-6.1l0.2 21.6l0.3-23.7l0.2 0l0.2 11.1l0.3 6.5l0.2 10.2l0.2 12.2l0.3 34.4l0.2 4.9l0.3 4.8l0.2 5.1l0.2 15.4l0.3-3l0.2-15.9l0.3-27.2l0.2-2.6l0.2-15.6l0.3-14.3l0.2 8.9l0.2 5.1l0.3-4.4l0.2 9.8l0.3 2.3l0.2 4.4l0.2 0l0.3-0.1l0.2 0l0.2-0.1l0.3-25.1l0.2 2l0.3-14.7l0.2-18.4l0.2-12.5l0.3 19.3l0.2 5.8l0.3 7l0.2-14.5l0.2 38.3l0.3-15.5l0.2 27.9l0.2-17.6l0.3 5.1l0.2-17.4l0.3-9.9l0.2 1.9l0.2 14.2l0.3-11.9l0.2 4.8l0.3 19.7l0.2-21.8l0.2-5.3l0.3-20.3l0.2-3.9l0.2-4.3l0.3-13.9l0.2 9.6l0.3 16.3l0.2 0.7l0.2 21.8l0.3-10l0.2 14.9l0.3-14.2l0.2 20.7l0.2 18l0.3-28.7l0.2-4.2l0.2-14.4l0.3-9.7l0.2 9.7l0.3 5.9l0.2 0.1l0.2 8.4l0.3-4.1l0.2 9.9l0.2-0.9l0.3-14.2l0.2 2.4l0.3 14.2l0.2 3.3l0.2-5.5l0.3-3.2l0.2 29.7l0.3-5.3l0.2-2.7l0.2 20.9l0.3 11.2l0.2 11.4l0.2-10.4l0.3-16.3l0.2-19.9l0.3-5.5l0.2 6.6l0.2-13.7l0.3-7.2l0.2-9.6l0.3 10.8l0.2-15.5l0.2 14.3l0.3-7.2l0.2-3.1l0.2 15.8l0.3-7.5l0.2 16.2l0.3 5.7l0.2 16l0.2-13.7l0.3-29.6l0.2-6.6l0.3 19l0.2 8.7l0.2 6.4l0.3-22.3l0.2 9l0.2-20.6l0.3 0l0.2 2.2l0.3-2l0.2 3.9l0.2-3.8l0.3 0l0.2 0.1l0.3 5.2l0.2-5.1l0.2 21.3l0.3 8l0.2 14.6l0.2-7.8l0.3-6.3l0.2 1.7l0.3 10.4l0.2 10.3l0.2-9.2l0.3-8.6l0.2-2.7l0.2-6.1l0.3-16.1l0.2-0.9l0.3-7.8l0.2 7.3l0.2 3.2l0.3 6l0.2-1.6l0.3-14.7l0.2 0.1l0.2 0.1l0.3 28.6l0.2-5.7l0.2-3.9l0.3 7.7l0.2-23.5l0.3 18.3l0.2 1.6l0.2-9.9l0.3 15.9l0.2-2.9l0.3-14.2l0.2 1.4l0.2-3.8l0.3-2.5l0.2 4.7l0.2-11l0.3 12.7l0.2-12.6l0.3 0.1l0.2 3.7l0.2-1.3l0.3 6.8l0.2 2.5l0.3 4.4l0.2-15.8l0.2 5.1l0.3-5l0.2 0.1l0.2 0l0.3 5.1l0.2-5l0.3 6.9l0.2 7.8l0.2 6.7l0.3-12.4l0.2 11.3l0.2-12.7l0.3 7.9l0.2 11.5l0.3-13.7l0.2 11.3l0.2-9l0.3-14.9l0.2 18.7l0.3 10.5l0.2-23l0.2 22.8l0.3-12l0.2-6.5l0.2 56l0.3 35.6l0.2-38.4l0.3-52.3l0.2 16.8l0.2 23.8l0.3 5.7l0.2 17.9l0.3-15.6l0.2-7.3l0.2-8.7l0.3-10.8l0.2 5.8l0.2-19.5l0.3 18.7l0.2-24.4l0.3 11.4l0.2-10.5l0.2 3.9l0.3 21.2l0.2-8.3l0.3 8.4l0.2 2.3l0.2 1l0.3-7.3l0.2 1.7l0.2-11.7l0.3 10.7l0.2-18.1l0.3 24.7l0.2-20.3l0.2 20.3l0.3 7.8l0.2 4.6l0.3-8l0.2-4.9l0.2-2.3l0.3 2.1l0.2-4.8l0.2-14l0.3-19l0.2-19.8l0.3-12.6l0.2-12.5l0.2 8.5l0.3 8.7l0.2 11.7l0.2 26.5l0.3 6.7l0.2 7.9l0.3-7.9l0.2-5.9l0.2 13.6l0.3-10.3l0.2-9l0.3 4.6l0.2-0.5l0.2-0.4l0.3 17.9l0.2 32.6l0.2 24.4l0.3 14.3l0.2 16.5l0.3-21.5l0.2-16.7l0.2-18.3l0.3-31.9l0.2-6.8l0.3-5.4l0.2 15.1l0.2-4.2l0.3-4l0.2-7.4l0.2-7.6l0.3-6.7l0.2 16.6l0.3 7l0.2-23.5l0.2 8l0.3 0.3l0.2 13.2l0.3-16.8l0.2 34.2l0.2-24.7l0.3-1.7l0.2 27l0.2-2.6l0.3-12.2l0.2 2.8l0.3-22.5l0.2 10.3l0.2 8.4l0.3-1.8l0.2-17l0.2 11.4l0.3 2.1l0.2-5.4l0.3-14.8l0.2 17.5l0.2 18.4l0.3 10.9l0.2-6.3l0.3 10.3l0.2 9.6l0.2 10l0.3-13.3l0.2-1.5l0.2-11.5l0.3 3.1l0.2-13.9l0.3-8.2l0.2-8.1l0.2-8.1l0.3-8.1l0.2 8.1l0.3 8.1l0.2 4.3l0.2 3.7l0.3 16.3l0.2-11.9l0.2 2l0.3-20l0.2-2.3l0.3-2.8l0.2-3.2l0.2 10.3l0.3 32l0.2 31.8l0.3-12.8l0.2-11.4l0.2-2.4l0.3 7.1l0.2-0.2l0.2-2l0.3 1.5l0.2 15.3l0.3-12.6l0.2-13.7l0.2-14.6l0.3-13.7l0.2-13.6l0.3 0l0.2 0.1l0.2 0l0.3 0l0.2 0l0.2 0.1l0.3 0l0.2 0l0.3 0l0.2 0.5l0.2 1.2l0.3-1.6l0.2 0.5l0.2 1.2l0.3 2.1l0.2 3.8l0.3-1.3l0.2 4.2l0.2-6l0.3 10.2l0.2-14.4l0.3 12.6l0.2-19.9l0.2-1.5l0.3-16.9l0.2-7l0.2-13.7l0.3 16.9l0.2 12.9l0.3 14.1l0.2 23.5l0.2 22l0.3 3.2l0.2-5.8l0.3-3.8l0.2 0.2l0.2 2.9l0.3-16.8l0.2-12.3l0.2 26l0.3-7.9l0.2 5.1l0.3 2.6l0.2 0.9l0.2-2.3l0.3 1.9l0.2-0.2l0.3-3l0.2 0.2l0.2-1.2l0.3 3.7l0.2-1.7l0.2 12.5l0.3 6.4l0.2 15.6l0.3 11l0.2 10.9l0.2-10.9l0.3-11l0.2-10.9l0.2-11l0.3-10.9l0.2-0.1l0.3 16.9l0.2 16.4l0.2 22.2l0.3 18.5l0.2-19l0.3-21.3l0.2-15.2l0.2-27.2l0.3 8.7l0.2-1l0.2-18.6l0.3 12.8l0.2-22.6l0.3 8.5l0.2 6.3l0.2 14.6l0.3-6.4l0.2-3l0.3 1.1l0.2-3.2l0.2-2.3" fill="none" stroke="#3878B6" stroke-width="3.4" stroke-linejoin="round" stroke-linecap="round"/>
</g>
<line x1="74.5" x2="80" y1="49.75" y2="49.75" stroke="#222" stroke-width="2"/>
<text transform="translate(69.4,57.25) scale(1,1.07)" class="yt">1.00</text>
<line x1="74.5" x2="80" y1="123.65" y2="123.65" stroke="#222" stroke-width="2"/>
<text transform="translate(69.4,131.15) scale(1,1.07)" class="yt">0.75</text>
<line x1="74.5" x2="80" y1="197.55" y2="197.55" stroke="#222" stroke-width="2"/>
<text transform="translate(69.4,205.05) scale(1,1.07)" class="yt">0.50</text>
<line x1="74.5" x2="80" y1="271.45" y2="271.45" stroke="#222" stroke-width="2"/>
<text transform="translate(69.4,278.95) scale(1,1.07)" class="yt">0.25</text>
<line x1="74.5" x2="80" y1="345.35" y2="345.35" stroke="#222" stroke-width="2"/>
<text transform="translate(69.4,352.85) scale(1,1.07)" class="yt">0.00</text>
<line x1="102.75" x2="102.75" y1="413.25" y2="418.75" stroke="#222" stroke-width="2"/>
<text transform="translate(102.75,437.95) scale(1,1.07)" class="xt">2018</text>
<line x1="276.55" x2="276.55" y1="413.25" y2="418.75" stroke="#222" stroke-width="2"/>
<text transform="translate(276.55,437.95) scale(1,1.07)" class="xt">2020</text>
<line x1="450.35" x2="450.35" y1="413.25" y2="418.75" stroke="#222" stroke-width="2"/>
<text transform="translate(450.35,437.95) scale(1,1.07)" class="xt">2022</text>
<text x="334.88" y="467.75" class="at">Date</text>
<text transform="translate(20.1,225.62) rotate(-90)" class="at">DCC</text>
<text x="342.88" y="20.50" class="ti">BTC vs Clean cryptos</text>
<rect x="88.78" y="506.30" width="35.3" height="35.2" fill="#EBECEB"/>
<line x1="92.48" x2="120.68" y1="523.90" y2="523.90" stroke="#E39E22" stroke-width="4"/>
<text x="135.57" y="531.20" class="lg">ADA</text>
<rect x="182.57" y="506.30" width="35.3" height="35.2" fill="#EBECEB"/>
<line x1="186.27" x2="214.47" y1="523.90" y2="523.90" stroke="#62B8E8" stroke-width="4"/>
<text x="229.18" y="531.20" class="lg">XRP</text>
<rect x="276.38" y="506.30" width="35.3" height="35.2" fill="#EBECEB"/>
<line x1="280.07" x2="308.27" y1="523.90" y2="523.90" stroke="#3DA872" stroke-width="4"/>
<text x="323.43" y="531.20" class="lg">MIOTA</text>
<rect x="388.42" y="506.30" width="35.3" height="35.2" fill="#EBECEB"/>
<line x1="392.12" x2="420.32" y1="523.90" y2="523.90" stroke="#C874AC" stroke-width="4"/>
<text x="434.67" y="531.20" class="lg">XLM</text>
<rect x="480.92" y="506.30" width="35.3" height="35.2" fill="#EBECEB"/>
<line x1="484.62" x2="512.82" y1="523.90" y2="523.90" stroke="#3878B6" stroke-width="4"/>
<text x="528.42" y="531.20" class="lg">NANO</text>
<rect x="695" y="38" width="503.25" height="375.00" fill="#EBECEB"/>
<clipPath id="cETH"><rect x="695" y="38" width="503.25" height="375.00"/></clipPath>
<g clip-path="url(#cETH)">
<line x1="695" x2="1198.25" y1="83.75" y2="83.75" stroke="#F7F8F7" stroke-width="1.2"/>
<line x1="695" x2="1198.25" y1="155.25" y2="155.25" stroke="#F7F8F7" stroke-width="1.2"/>
<line x1="695" x2="1198.25" y1="226.75" y2="226.75" stroke="#F7F8F7" stroke-width="1.2"/>
<line x1="695" x2="1198.25" y1="298.25" y2="298.25" stroke="#F7F8F7" stroke-width="1.2"/>
<line x1="695" x2="1198.25" y1="369.75" y2="369.75" stroke="#F7F8F7" stroke-width="1.2"/>
<line x1="802.94" x2="802.94" y1="38" y2="413" stroke="#F7F8F7" stroke-width="1.2"/>
<line x1="974.32" x2="974.32" y1="38" y2="413" stroke="#F7F8F7" stroke-width="1.2"/>
<line x1="1145.70" x2="1145.70" y1="38" y2="413" stroke="#F7F8F7" stroke-width="1.2"/>
<line x1="695" x2="1198.25" y1="48.00" y2="48.00" stroke="#fff" stroke-width="2"/>
<line x1="695" x2="1198.25" y1="119.50" y2="119.50" stroke="#fff" stroke-width="2"/>
<line x1="695" x2="1198.25" y1="191.00" y2="191.00" stroke="#fff" stroke-width="2"/>
<line x1="695" x2="1198.25" y1="262.50" y2="262.50" stroke="#fff" stroke-width="2"/>
<line x1="695" x2="1198.25" y1="334.00" y2="334.00" stroke="#fff" stroke-width="2"/>
<line x1="695" x2="1198.25" y1="405.50" y2="405.50" stroke="#fff" stroke-width="2"/>
<line x1="717.25" x2="717.25" y1="38" y2="413" stroke="#fff" stroke-width="2"/>
<line x1="888.63" x2="888.63" y1="38" y2="413" stroke="#fff" stroke-width="2"/>
<line x1="1060.01" x2="1060.01" y1="38" y2="413" stroke="#fff" stroke-width="2"/>
<path d="M717.2 265.1l0.5 131.2l0.5-136.5l0.4-139l0.5 2.7l0.4-4.4l0.5 0.2l0.5-12.9l0.4-1.7l0.5 22.8l0.4 18.3l0.5-19.1l0.5-10.7l0.4 1.7l0.5-1.9l0.4-4.2l0.5 3.5l0.4-2.1l0.5-5.1l0.5-2.9l0.4-7.1l0.5-7.7l0.4 4.6l0.5 2.6l0.5 2.2l0.4 2.9l0.5-2.7l0.4-0.2l0.5 9.6l0.4 3.9l0.5 8l0.5 7.2l0.4-6.8l0.5-7.8l0.4-3.6l0.5 0.1l0.5 4.1l0.4 7.6l0.5-8.9l0.4-9.5l0.5-7.6l0.4-1.9l0.5 5.5l0.5-2.6l0.4 3.4l0.5 3.9l0.4 5.5l0.5 4.5l0.5-4.7l0.4-3.9l0.5-1.4l0.4 3.4l0.5-7.4l0.4 3.5l0.5 15l0.5 19.2l0.4-13.7l0.5-4.2l0.4 8.4l0.5-8.2l0.5 5.6l0.4 15.1l0.5 19.2l0.4-17l0.5-19l0.5-17.7l0.4-1.3l0.5 2.2l0.4-6.7l0.5 1.4l0.4 10.3l0.5-2.1l0.5-1.9l0.4-2.1l0.5 7.6l0.4 6.3l0.5-8.3l0.5-8.9l0.4-3.3l0.5-9.5l0.4 2.5l0.5 0.9l0.4-7.7l0.5-10.2l0.5 2.4l0.4-4.1l0.5 4l0.4 3.3l0.5-4.9l0.5 5.2l0.4 1.8l0.5 3.6l0.4 10.6l0.5-5.5l0.4-3.7l0.5-6.2l0.5 5l0.4-1.5l0.5-0.3l0.4-1.8l0.5-2.9l0.5 8.2l0.4 2.5l0.5 5.2l0.4-2.3l0.5 5.3l0.4-2.8l0.5 0l0.5-9.8l0.4-16l0.5 15.5l0.4 13.1l0.5 6.7l0.5-1.4l0.4-2.4l0.5 4.1l0.4-2.9l0.5-7.8l0.4-1.6l0.5-5.8l0.5 0.6l0.4-1.6l0.5 2.9l0.4-4.7l0.5 1.2l0.5-1.1l0.4 1.2l0.5-7.6l0.4-4.7l0.5-0.8l0.5 5.7l0.4 1.2l0.5 2.2l0.4-0.6l0.5-0.7l0.4 4.3l0.5 1l0.5 3.1l0.4 3l0.5 3l0.4 3.5l0.5-6.9l0.5-0.8l0.4-0.9l0.5 3.4l0.4-6.3l0.5 2.2l0.4 0.1l0.5 5.4l0.5 2.8l0.4-5.4l0.5 4.4l0.4-7.1l0.5-9.9l0.5-8l0.4-8.1l0.5 6.1l0.4 9l0.5 6.7l0.4-6.6l0.5-0.1l0.5 5l0.4-7.2l0.5-11.6l0.4-6.3l0.5 4.8l0.5 6.4l0.4 5.6l0.5-6.1l0.4-0.5l0.5 10.1l0.4 0.3l0.5-1.7l0.5-4.1l0.4 7l0.5-2.5l0.4-0.9l0.5-8.4l0.5-1.8l0.4 4.8l0.5 2.5l0.4 2.3l0.5 6.6l0.5 4.8l0.4-1.1l0.5-2.1l0.4 2.3l0.5 1.9l0.4 10.1l0.5-10.8l0.5-0.9l0.4-3.5l0.5 1.6l0.4-0.4l0.5-3.2l0.5-2.3l0.4 1.3l0.5 1.2l0.4 2.3l0.5-5.7l0.4 3.5l0.5 7.3l0.5 5.9l0.4 10.1l0.5-3.4l0.4-0.7l0.5-2.7l0.5 5l0.4 3.8l0.5-5.7l0.4-1.5l0.5 1.1l0.4-2.4l0.5-2.3l0.5-2l0.4 7.2l0.5-5.9l0.4 0.9l0.5 3.1l0.5-4.2l0.4-3.4l0.5-2.1l0.4 0.4l0.5 0.1l0.4 4.4l0.5 2.4l0.5 5.8l0.4 6.1l0.5-4.8l0.4-1.9l0.5-0.2l0.5 0.3l0.4 0.9l0.5-6.5l0.4-5.7l0.5 26.7l0.4 20l0.5 23.2l0.5-20.9l0.4-18.9l0.5-25.3l0.4-3.3l0.5 5.5l0.5 5.6l0.4-3.2l0.5-2.5l0.4-5.7l0.5-3.1l0.5 1.6l0.4 5.7l0.5-3.2l0.4-1.2l0.5 0.7l0.4 7.5l0.5-1l0.5-0.6l0.4-2.8l0.5 7.5l0.4-1.4l0.5-3l0.5 4.5l0.4-0.5l0.5-1.8l0.4 5.3l0.5-6.4l0.4-0.2l0.5 0l0.5-0.9l0.4 14.9l0.5 17.5l0.4 17.6l0.5-33.2l0.5-18.4l0.4 5.6l0.5 6.8l0.4 3.9l0.5 1.4l0.4 6.2l0.5-4.7l0.5-4l0.4-10.6l0.5-11.2l0.4-1.3l0.5-15.8l0.5-1.8l0.4-5l0.5 3.8l0.4 3.3l0.5 6l0.4-0.1l0.5 0.5l0.5-3.5l0.4 7.5l0.5 4.9l0.4-6.8l0.5 1.4l0.5 1.6l0.4-0.8l0.5 8.3l0.4 4.7l0.5 7.6l0.4-5l0.5 8.5l0.5 2.4l0.4 5.5l0.5-4.9l0.4-2.5l0.5 1.3l0.5 0.1l0.4-6.6l0.5-2.6l0.4-0.5l0.5-7.9l0.5 0.7l0.4-0.8l0.5 7.2l0.4 2.7l0.5 4.5l0.4 11l0.5-13.9l0.5-14.9l0.4-5.9l0.5-3.3l0.4 2.4l0.5-1.1l0.5 3.2l0.4-4.5l0.5-0.4l0.4 7.8l0.5 0.9l0.4-3.7l0.5 5.3l0.5 5.3l0.4 3.6l0.5 2.1l0.4 2.1l0.5 1.5l0.5 4.6l0.4-9.3l0.5 7.1l0.4-4.5l0.5 6.6l0.4 0.5l0.5 2l0.5-4.9l0.4-8.3l0.5-9.1l0.4 13.7l0.5 13.7l0.5-2.5l0.4 2.3l0.5-4.4l0.4 2.4l0.5 2.1l0.4-6l0.5-1.8l0.5 5.4l0.4-5.4l0.5-0.2l0.4-6l0.5-2.5l0.5-7l0.4 5.3l0.5-3.4l0.4-2.5l0.5 1.9l0.5 2.3l0.4 0.3l0.5-6.8l0.4-4.5l0.5-0.7l0.4-1.9l0.5-5.7l0.5-3l0.4 2.7l0.5 5.6l0.4 0.7l0.5 9.2l0.5-3.3l0.4-5l0.5-2.7l0.4 1.7l0.5 0.7l0.4 4l0.5 3.8l0.5 6l0.4 1.9l0.5-3l0.4 4.4l0.5 0.7l0.5 1.2l0.4 4.3l0.5 3.6l0.4-2.3l0.5-2.7l0.4-0.8l0.5-1.7l0.5 0.7l0.4-2.3l0.5-7.2l0.4-9.1l0.5-3.1l0.5 0l0.4-4.3l0.5-3.1l0.4-0.9l0.5-4.4l0.4 6.7l0.5-11l0.5-6.5l0.4-5.1l0.5 3.2l0.4 6.9l0.5 9.2l0.5 5.6l0.4 0.1l0.5 0.2l0.4-0.6l0.5 0.1l0.4 2.1l0.5 2.1l0.5-1.6l0.4-1.6l0.5 6.6l0.4-7.6l0.5 2.7l0.5-7.1l0.4 12.2l0.5-1.7l0.4 1.6l0.5-3.9l0.5 3.9l0.4 3.3l0.5 3.9l0.4-0.1l0.5 5.9l0.4-3.2l0.5 4.2l0.5-3.3l0.4 8.2l0.5 0.9l0.4 0.1l0.5 6.3l0.5-2.9l0.4-7.6l0.5 1.3l0.4-0.3l0.5 4.9l0.4-0.7l0.5 7.3l0.5 2.7l0.4-3.5l0.5-0.1l0.4-2.4l0.5 5.7l0.5 1.1l0.4-4l0.5-5.1l0.4 0.9l0.5 1.5l0.4-1.8l0.5-5.1l0.5 0.7l0.4-0.1l0.5 5.6l0.4 6.8l0.5-0.8l0.5-6.4l0.4 5.9l0.5 1.3l0.4 10.4l0.5 4.1l0.4-5.2l0.5 9.8l0.5 8.9l0.4 9.4l0.5 9l0.4-9.6l0.5-11.4l0.5-4.6l0.4-4.5l0.5-3l0.4 1.3l0.5 2.4l0.5 5.9l0.4-8l0.5-6.5l0.4-1.7l0.5-2.6l0.4-0.9l0.5 0.6l0.5 7.4l0.4-4.2l0.5-3.4l0.4 8l0.5-0.7l0.5 1.8l0.4-6.9l0.5-3.3l0.4-2.7l0.5 0l0.4 0l0.5-9.6l0.5-7.2l0.4-8.8l0.5 10.3l0.4 6.1l0.5 3.5l0.5 1.1l0.4-1l0.5-9l0.4-8l0.5 5.6l0.4-0.8l0.5-2.5l0.5-3.2l0.4 0.7l0.5-0.8l0.4-2.6l0.5 5.3l0.5 9.3l0.4 6.4l0.5 0.7l0.4-0.3l0.5 1.1l0.4-1l0.5-2.5l0.5-4.5l0.4-8.2l0.5 1.2l0.4 6.2l0.5-0.7l0.5 5.3l0.4-2.7l0.5 4.4l0.4-0.6l0.5-4.6l0.4 3.5l0.5 0.5l0.5 1.2l0.4-7.4l0.5-3.2l0.4 0.3l0.5-7l0.5 3l0.4 3.1l0.5-1.7l0.4 0.5l0.5-0.3l0.5 0.2l0.4-1.9l0.5-1.7l0.4-2l0.5 7l0.4-8l0.5-5l0.5 1.3l0.4-1.3l0.5-2.3l0.4-5l0.5 0.1l0.5-6l0.4-7.7l0.5-6.4l0.4 12l0.5 21.6l0.4 29.2l0.5-9.8l0.5-9l0.4-5.5l0.5 0.4l0.4-3.8l0.5 6.1l0.5 2.4l0.4-1.9l0.5 1.3l0.4 2.9l0.5 1.7l0.4-0.3l0.5 0.3l0.5-1.8l0.4-2.6l0.5 2.2l0.4-3l0.5 6l0.5 30.9l0.4 36.9l0.5 33.9l0.4-33.5l0.5-34.2l0.4-38.3l0.5-5.1l0.5-2.6l0.4 6.7l0.5-0.9l0.4 7.4l0.5 0.8l0.5-0.5l0.4 0.8l0.5 2.8l0.4-1.1l0.5-1.3l0.4 2.3l0.5-4.9l0.5-4.6l0.4 10.7l0.5-5.9l0.4 7.7l0.5-0.4l0.5 2.5l0.4 2.7l0.5-3.2l0.4 3l0.5 1.7l0.5 2l0.4-3.2l0.5-1.3l0.4 4.2l0.5-0.7l0.4 0.2l0.5-5.3l0.5-0.8l0.4 0.3l0.5 7.4l0.4 0.7l0.5 0.1l0.5-3.6l0.4-1.7l0.5-5.9l0.4-0.1l0.5-2.1l0.4-5.8l0.5-1.5l0.5 0.5l0.4-1.3l0.5-0.5l0.4-1.6l0.5-3.6l0.5 2.8l0.4 4.4l0.5-8.5l0.4 0.8l0.5 9.9l0.4 1.5l0.5-3.7l0.5 3.8l0.4 2.6l0.5-11.9l0.4 3.5l0.5-2.7l0.5 4.2l0.4-9.9l0.5 4.2l0.4-2.4l0.5 0.6l0.4-1.4l0.5 3.2l0.5-0.6l0.4-6.5l0.5 2l0.4 5.1l0.5 1.3l0.5 3.7l0.4 5.1l0.5 2.7l0.4-1.4l0.5 2l0.5 1l0.4 0.2l0.5 0.2l0.4-3.2l0.5-3.8l0.4-9.7l0.5 2.7l0.5 0.1l0.4 5.9l0.5-0.3l0.4 4.2l0.5 2.5l0.5 8l0.4-3.8l0.5-2.8l0.4-0.8l0.5-2.3l0.4 0l0.5-4l0.5-1l0.4 4.6l0.5-1.9l0.4-3.6l0.5-3.4l0.5-3.7l0.4 3.7l0.5 1.4l0.4 2.1l0.5-1.6l0.4-2.9l0.5-3.1l0.5 5.8l0.4 2.2l0.5 1.3l0.4 2.7l0.5-6.6l0.5 1.2l0.4 4.9l0.5 6.2l0.4 2.7l0.5-2.2l0.4-4l0.5-1.8l0.5 3.9l0.4 4l0.5-4.9l0.4 0.7l0.5 4.7l0.5-0.6l0.4-3.8l0.5-3.5l0.4 1l0.5-3.2l0.4 5.2l0.5 0.8l0.5-0.5l0.4 7.7l0.5-0.2l0.4 3.5l0.5-6l0.5-7.5l0.4-8.1l0.5-3.9l0.4 4.8l0.5 4.6l0.5 8.4l0.4-1.3l0.5-6.5l0.4 3.1l0.5-11.4l0.4 3.5l0.5 0.4l0.5-4.5l0.4-2.1l0.5-0.9l0.4-6.8l0.5-2.1l0.5 14.9l0.4 15.4l0.5-8.4l0.4-15.5l0.5 2l0.4-0.7l0.5 1.2l0.5 5.1l0.4 4.1l0.5-1.9l0.4-2.1l0.5-2l0.5 4.5l0.4 1.2l0.5 2.9l0.4-4l0.5-2.3l0.4-4.4l0.5-7.5l0.5 2.3l0.4 8.9l0.5 7.8l0.4 1l0.5-0.7l0.5 3.4l0.4-3.8l0.5 10l0.4 6.7l0.5-4.6l0.4-1.7l0.5-1.5l0.5 3.6l0.4 1.8l0.5-4.2l0.4-3.1l0.5 1.8l0.5-2.6l0.4-4.2l0.5-1.4l0.4-1l0.5 3.3l0.5-3.3l0.4 6.1l0.5-1.2l0.4-7.1l0.5 8.5l0.4 3.7l0.5-3.4l0.5-1.8l0.4 3.8l0.5-1.2l0.4 5.6l0.5-3.9l0.5-0.6l0.4 2.5l0.5 0.4l0.4 0l0.5-0.6l0.4-7.3l0.5-0.3l0.5-6.7l0.4-3.8l0.5-2.7l0.4-7.7l0.5-11.1l0.5 14.2l0.4 8.3l0.5-9l0.4-8.8l0.5-5.9l0.4-2.9l0.5-2.6l0.5-0.1l0.4 2.1l0.5 1.8l0.4 2.4l0.5 3.9l0.5 6.2l0.4-4.5l0.5-6.9l0.4-0.3l0.5 3.5l0.4 4.7l0.5 3.1l0.5-4.3l0.4 1.6l0.5 2.3l0.4 0l0.5 3.3l0.5 2.3l0.4-4.8l0.5-0.2l0.4 3.7l0.5 0.4l0.4-1l0.5 4.9l0.5 7.7l0.4-2.5l0.5-6.1l0.4 0.3l0.5 4.4l0.5 10.9l0.4 12.3l0.5 9.3l0.4-11l0.5-9.9l0.5-14.5l0.4-6.8l0.5 7.6l0.4-3.6l0.5 5l0.4 1.9l0.5 2.1l0.5 6.2l0.4-0.1l0.5 3.1l0.4-1.9l0.5-0.7l0.5 0.5l0.4-8.4l0.5 2.8l0.4 1.3l0.5 3.1l0.4-1.6l0.5 7.3l0.5 1.3l0.4-0.4l0.5 1l0.4-1.9l0.5-3.1l0.5-4.7l0.4 1.7l0.5-4.6l0.4-0.9l0.5 0.4l0.4 3.9l0.5-0.5l0.5-6.3l0.4 4l0.5-0.1l0.4 4.1l0.5-6.3l0.5 1.9l0.4-5.2l0.5-6.2l0.4-12l0.5 11.6l0.4 8.8l0.5-3.4l0.5 1.6l0.4-3.6l0.5-0.8l0.4-1.7l0.5 0.2l0.5 4.9l0.4-3.4l0.5-0.9l0.4-1.8l0.5-2l0.4-0.6l0.5 0.4l0.5 1.9l0.4-2.1l0.5-0.9l0.4 6l0.5 15.6l0.5 17.2l0.4-12.5l0.5-14.9l0.4-0.7l0.5-0.6l0.5 5.7l0.4-2.6l0.5 5.6l0.4 5.6l0.5 5.9l0.4-1.5l0.5 0.6l0.5-2.6l0.4-13.2l0.5 3.2l0.4 0.5l0.5-5.2l0.5 4.2l0.4 0.8l0.5-1.9l0.4 4.8l0.5 2.1l0.4 4.4l0.5-2.6l0.5-1l0.4 2.8l0.5 6l0.4 5.4l0.5-2.2l0.5-3l0.4-1.9l0.5-5.6l0.4-8l0.5-0.5l0.4 1l0.5-7.3l0.5 6.8l0.4 12.7l0.5 2.3l0.4-2.6l0.5 4.8l0.5-3.6l0.4-9.6l0.5 1.6l0.4 4.2l0.5 0.9l0.4-2.7l0.5-0.5l0.5-0.3l0.4 0.8l0.5-12.4l0.4-4.7l0.5-4.8l0.5 5.2l0.4 2.5l0.5-1.9l0.4-3.6l0.5 4.1l0.5 4.3l0.4-0.6l0.5 4.8l0.4-0.1l0.5-5.2l0.4-2.7l0.5 4.6l0.5-3.3l0.4-2.4l0.5 0.6l0.4 2.4l0.5 7.9l0.5 9.1l0.4-1.2l0.5 15.3l0.4 16.2l0.5-13.7l0.4-19.1l0.5 8.5l0.5-7.9l0.4 10.9l0.5-3.4l0.4-0.9l0.5-5.4l0.5 4.4l0.4 4.3l0.5-2.1l0.4 5.3l0.5-4.5l0.4 1.4l0.5-2.2l0.5-1.6" fill="none" stroke="#E39E22" stroke-width="3.4" stroke-linejoin="round" stroke-linecap="round"/>
<path d="M717.2 129.2l0.5 3.9l0.5-0.5l0.4 44.7l0.5 47.2l0.4 50.9l0.5-50.6l0.5-54.5l0.4-46.3l0.5-2.9l0.4 2.2l0.5-7l0.5-3.5l0.4 6.2l0.5-3.2l0.4-2.5l0.5 2.9l0.4-1.3l0.5 4.3l0.5-6.3l0.4-3.3l0.5 2.6l0.4 2.7l0.5-1l0.5-2.5l0.4-1.5l0.5-0.4l0.4-2l0.5 1.3l0.4-0.9l0.5-3.7l0.5-6.6l0.4 1.4l0.5-3.3l0.4 2.8l0.5-3.4l0.5 3.4l0.4-3l0.5 7.5l0.4-0.6l0.5 3.8l0.4 2.2l0.5 2.5l0.5-1.3l0.4 2l0.5 0.1l0.4-4.4l0.5-0.7l0.5-3.8l0.4 2.1l0.5-8.6l0.4 4l0.5 2.7l0.4 7.4l0.5 14.5l0.5 15.5l0.4 13.1l0.5-21.2l0.4-11.3l0.5-1.5l0.5-7.6l0.4 2.4l0.5 8.3l0.4-3.3l0.5 3.4l0.5 9.1l0.4-7.1l0.5-8.6l0.4 2.8l0.5-5.9l0.4 2.5l0.5-3.1l0.5 1.1l0.4 3.2l0.5-2.2l0.4 2.4l0.5-5.2l0.5-2.9l0.4-3.4l0.5-7.8l0.4-6.3l0.5-6.3l0.4-1.6l0.5 0.2l0.5 3.2l0.4-1.6l0.5 5.1l0.4-2l0.5-4.5l0.5 8.1l0.4-1.3l0.5-4.9l0.4 3.6l0.5 1.4l0.4 3.4l0.5 1.5l0.5-1.1l0.4 2.1l0.5-4.9l0.4-0.8l0.5 7l0.5 0.8l0.4-1.6l0.5 2.4l0.4 0.2l0.5 2l0.4-1.6l0.5 0.4l0.5 6.1l0.4 5.6l0.5 6.1l0.4-9.8l0.5-5l0.5-9l0.4-1.2l0.5 0.6l0.4 0.3l0.5 2.6l0.4-0.7l0.5-4.8l0.5 7.5l0.4 0.8l0.5-9.9l0.4 6.1l0.5 2.7l0.5-2.7l0.4-0.6l0.5 4.7l0.4 1.9l0.5-0.4l0.5 2.1l0.4-1.5l0.5 0.2l0.4-3.8l0.5-1.4l0.4 2.7l0.5 2.9l0.5-4.2l0.4-0.7l0.5 0l0.4-4.2l0.5 2.3l0.5-10.9l0.4-0.6l0.5 5.2l0.4-1.3l0.5 3.8l0.4 13l0.5 13.4l0.5-15l0.4-18.3l0.5-3.7l0.4 0.3l0.5-1l0.5 2.1l0.4-3.4l0.5-1.8l0.4 2.7l0.5-2l0.4 1.8l0.5 3.3l0.5-6.3l0.4 0.5l0.5 7.7l0.4-7.3l0.5 4.6l0.5-3.8l0.4-0.7l0.5 17.7l0.4 18.1l0.5-11.1l0.4-10l0.5-3.1l0.5 7.6l0.4 7.5l0.5-7.6l0.4-9.2l0.5-1.1l0.5-0.8l0.4 4.6l0.5-3.2l0.4-1.2l0.5-2.5l0.5 3.2l0.4 7.2l0.5-1.5l0.4 2.7l0.5-5.5l0.4 6.3l0.5-0.8l0.5 4.1l0.4-4.3l0.5-2.9l0.4-0.3l0.5 3.1l0.5 5.3l0.4 4.2l0.5 5.6l0.4 1.7l0.5-3.5l0.4 0.7l0.5-1.7l0.5-5.6l0.4 2.8l0.5-5.6l0.4-0.1l0.5-2l0.5-2.8l0.4-3.1l0.5-3.5l0.4 0.6l0.5-3.2l0.4-3l0.5 0l0.5 3l0.4-1.9l0.5 2.4l0.4 5l0.5 5.6l0.5 3.5l0.4 0l0.5 10.2l0.4-0.2l0.5 2.1l0.4-1.4l0.5-1.9l0.5 6.6l0.4 4.8l0.5 6.4l0.4-3.4l0.5-5l0.5 2.5l0.4 2.8l0.5-8.2l0.4-9.1l0.5 3.5l0.4 1.7l0.5-6.3l0.5 3.2l0.4 1.7l0.5-7.6l0.4 0.2l0.5-1.4l0.5 1.4l0.4 0.5l0.5 1.2l0.4 3.4l0.5-5l0.5 2.2l0.4 8.8l0.5 2.7l0.4-0.6l0.5-0.3l0.4 0.8l0.5 2.5l0.5 0.3l0.4-2.6l0.5 0l0.4-8l0.5 1.1l0.5-3.6l0.4-8.9l0.5-1.5l0.4 3.2l0.5 3.9l0.4-1.1l0.5 4.3l0.5 2l0.4-1.3l0.5 2.4l0.4 7l0.5-0.7l0.5-3.5l0.4-4.3l0.5-5.7l0.4 7.1l0.5-0.6l0.4-7.3l0.5-1.6l0.5 0.4l0.4-8.2l0.5 3.5l0.4-5.5l0.5-1l0.5-0.2l0.4 0.8l0.5 1.6l0.4 1.2l0.5-0.1l0.4 2.2l0.5 7.2l0.5 7.3l0.4 2.1l0.5 5.2l0.4-3.6l0.5-1.4l0.5-1.4l0.4 0.5l0.5 1l0.4-0.5l0.5-1l0.4-2.1l0.5 3.6l0.5 5.6l0.4 4l0.5 1.2l0.4-13.4l0.5-14.1l0.5 9.3l0.4 5.2l0.5 0.6l0.4 3.6l0.5-2.5l0.5-7.6l0.4-1.2l0.5-6.8l0.4-3.3l0.5 6.3l0.4 3l0.5-6.9l0.5-1.4l0.4 5.6l0.5-9.6l0.4-6.5l0.5 7.1l0.5 8.3l0.4 3.6l0.5 5.3l0.4-2.8l0.5-1.8l0.4 1.4l0.5-7.7l0.5-0.9l0.4 0.1l0.5 9.6l0.4 2.8l0.5 1.5l0.5-2.8l0.4 3l0.5 1.2l0.4 3.5l0.5-3.5l0.4-4l0.5 3.4l0.5 1.6l0.4 0.9l0.5 2.2l0.4 1.3l0.5-1.7l0.5 11.5l0.4-2.3l0.5 0.4l0.4 0.3l0.5-2.3l0.4-6.5l0.5 1.9l0.5-2.2l0.4 0.2l0.5-0.6l0.4-2l0.5-6.3l0.5-2.5l0.4 0.8l0.5-0.8l0.4 2.9l0.5-6.1l0.5 1l0.4 5.2l0.5 5.7l0.4-5.9l0.5-3.5l0.4-4.7l0.5 4.8l0.5-1.2l0.4-6.6l0.5 1.6l0.4 1.8l0.5-8l0.5 1.3l0.4 7.4l0.5 2.7l0.4 2.7l0.5 3.2l0.4-2.9l0.5-3.5l0.5-0.2l0.4-1.4l0.5 6.2l0.4 3.1l0.5 1.4l0.5-2l0.4-8.4l0.5-4.7l0.4 0.4l0.5-6l0.4 7.7l0.5 8.7l0.5 2.1l0.4 1.3l0.5-5l0.4-18.5l0.5-15l0.5 13.7l0.4 11.1l0.5-6.2l0.4-5.7l0.5-0.8l0.4 0.9l0.5-2.1l0.5 0l0.4-3l0.5 8.6l0.4-3l0.5-2l0.5-4.9l0.4 1.8l0.5 1.8l0.4-2l0.5-4.5l0.4-2l0.5 2.4l0.5 5.3l0.4-8.2l0.5 5.8l0.4 0.2l0.5 1.5l0.5 0.5l0.4 2.7l0.5 4.1l0.4 0.9l0.5 1.5l0.5 3l0.4-0.6l0.5 4.6l0.4-2.9l0.5 1.1l0.4 1.7l0.5-4l0.5 2.5l0.4 2.1l0.5 2.1l0.4 2.2l0.5-4.8l0.5 6.1l0.4-1.9l0.5 3.1l0.4-7.4l0.5 0.3l0.4 4.3l0.5 0.5l0.5 1.2l0.4 2.1l0.5-6.7l0.4-3.6l0.5 3.9l0.5-6.3l0.4 3.1l0.5 1.4l0.4-0.6l0.5 4.1l0.4 0.7l0.5 2.1l0.5 3.6l0.4 1.9l0.5 0l0.4 2.5l0.5-1.4l0.5 3l0.4-0.6l0.5-4.8l0.4-11l0.5-8l0.4 3.4l0.5 2.8l0.5 4.9l0.4 1.3l0.5 2.1l0.4 1.4l0.5-5l0.5 5.3l0.4 6.2l0.5 6.3l0.4 9.7l0.5-8.4l0.5-6.1l0.4-1.7l0.5-2.1l0.4 1.1l0.5-1.8l0.4-4.1l0.5-4.6l0.5 10.2l0.4 4.9l0.5-1.6l0.4 4.4l0.5-3.2l0.5-6l0.4-6.7l0.5 4.5l0.4 8.8l0.5 4.1l0.4 2.4l0.5-6.6l0.5 3.6l0.4-2.4l0.5-6.7l0.4 2.3l0.5-4.3l0.5-2.9l0.4-6.3l0.5-0.7l0.4 8.3l0.5-4l0.4 3.2l0.5-2.6l0.5-6.8l0.4 6.4l0.5 2.5l0.4 1.9l0.5-2.1l0.5-5.3l0.4-0.2l0.5-1.1l0.4 2.8l0.5-0.5l0.4-5.9l0.5 14.1l0.5 5.5l0.4-3.7l0.5 5.5l0.4 10.7l0.5 10.2l0.5-9.8l0.4-12.6l0.5-14.3l0.4-10.8l0.5 2l0.4 1.1l0.5-1l0.5 9.4l0.4 1.1l0.5 7.7l0.4 2l0.5-0.5l0.5-0.6l0.4 5l0.5 0l0.4 1.1l0.5 2l0.5 2.5l0.4 3.1l0.5 11.8l0.4 0.6l0.5 5.1l0.4 4.9l0.5 9.1l0.5 8.7l0.4-3.7l0.5 16.7l0.4 33.4l0.5 12.4l0.5 21.4l0.4 12.2l0.5 7.2l0.4 2l0.5-6.8l0.4-0.4l0.5 2.9l0.5-2.2l0.4 0.8l0.5 4.1l0.4 1.2l0.5 1.9l0.5 8l0.4 3.3l0.5-2.2l0.4-8.3l0.5-5.4l0.4-2.7l0.5-4l0.5-3.3l0.4 6.2l0.5 4l0.4 0l0.5-4.3l0.5 2.6l0.4-3.6l0.5 1.2l0.4 5.7l0.5-0.6l0.4-3.7l0.5-10.6l0.5-1l0.4-3.3l0.5-1.1l0.4-8.5l0.5-1.9l0.5-13.5l0.4-6.7l0.5 0.9l0.4-3l0.5 1.8l0.4 0.4l0.5-9.1l0.5 1.1l0.4-5.5l0.5 0.7l0.4 4.3l0.5-3.9l0.5-5l0.4 0.6l0.5 3.3l0.4-0.9l0.5-2l0.5 0.6l0.4-12.7l0.5-5.1l0.4-6.3l0.5-1l0.4-2l0.5-1.4l0.5-2.4l0.4 0.2l0.5 8.4l0.4-0.4l0.5-6.3l0.5 4.1l0.4-1l0.5-2.2l0.4-1.3l0.5 0l0.4-6.5l0.5-3.1l0.5-4.8l0.4 5.8l0.5-1.9l0.4-2.5l0.5 2.7l0.5-3.6l0.4 0.7l0.5-1.9l0.4 2.4l0.5-2.6l0.4 2.4l0.5-2.9l0.5-3l0.4-14.1l0.5-18.3l0.4-20.1l0.5 10.4l0.5-0.2l0.4 6.1l0.5-3.2l0.4-0.8l0.5 4.9l0.4 4l0.5-2.9l0.5-3.3l0.4-3.4l0.5-4.1l0.4-1.9l0.5-5.9l0.5 4.6l0.4 6.6l0.5-8.4l0.4 15.6l0.5 7.5l0.5 2.1l0.4-14.3l0.5-0.3l0.4-3.9l0.5-0.2l0.4 4l0.5 0.6l0.5 2.4l0.4-3.4l0.5 3.1l0.4 1.4l0.5-0.1l0.5 6.2l0.4-7.2l0.5-4l0.4-3.4l0.5-2l0.4 5l0.5-1.5l0.5-3.7l0.4-1.3l0.5 5.4l0.4 0.3l0.5-1.3l0.5 5.8l0.4-1.8l0.5 1.6l0.4 0.9l0.5 1.8l0.4-2l0.5-1.7l0.5 0.6l0.4 8.4l0.5 2.7l0.4-7.3l0.5 7.6l0.5-1.9l0.4 7.4l0.5 2.7l0.4-6l0.5 4.4l0.4 1.9l0.5-5.4l0.5-0.4l0.4 1.3l0.5 2.4l0.4-0.6l0.5-4.1l0.5-0.9l0.4-2.7l0.5 4.6l0.4 1.4l0.5 2.7l0.4-5l0.5-0.1l0.5 0.8l0.4-0.2l0.5 0.1l0.4 1.1l0.5 0.9l0.5 3l0.4-2.3l0.5-1.8l0.4-3.1l0.5-0.6l0.5-4l0.4-3.3l0.5 5.4l0.4 3.2l0.5-5.8l0.4-4.1l0.5 2l0.5-3.4l0.4 0.7l0.5-1.1l0.4 4.5l0.5 3l0.5 4l0.4-5.7l0.5-4l0.4-2.8l0.5 2l0.4-5.6l0.5-1.4l0.5 4.5l0.4-0.4l0.5-8.9l0.4-2.9l0.5 7l0.5 7.1l0.4 3l0.5 2.1l0.4-2.8l0.5-4.7l0.4-2.6l0.5-3.7l0.5 7.1l0.4 1l0.5-4.8l0.4 0.9l0.5 4.2l0.5-0.3l0.4-1.1l0.5 0.8l0.4 3.1l0.5-1.5l0.4 2l0.5-0.9l0.5-1.1l0.4-7.5l0.5 6.8l0.4 0l0.5-3.7l0.5 1.2l0.4-3l0.5 6.4l0.4-1.1l0.5 1.4l0.5-5.5l0.4-1.4l0.5 9.3l0.4 0.2l0.5-5.5l0.4-2.3l0.5-4l0.5 4.9l0.4-2.1l0.5-1.2l0.4 2.6l0.5 9.2l0.5 3.1l0.4-1.7l0.5 2.5l0.4-1.4l0.5 5.3l0.4-8.3l0.5-2.1l0.5-1l0.4 2.3l0.5-5.8l0.4-0.8l0.5 2.2l0.5-2.5l0.4 0.3l0.5 1.4l0.4-0.5l0.5-2.7l0.4-2.8l0.5 0l0.5-4.1l0.4-3.4l0.5-2.2l0.4-1.6l0.5 4.7l0.5 4.3l0.4-0.7l0.5-3.6l0.4-1.4l0.5 1.3l0.4 4.6l0.5 0.8l0.5 0.4l0.4 2.9l0.5 4.5l0.4 3.9l0.5-3.1l0.5-1l0.4 0.9l0.5 1.8l0.4-4l0.5 0.4l0.4 1.4l0.5-7l0.5 4.9l0.4-1.1l0.5 0l0.4-0.1l0.5 2.2l0.5-3.6l0.4 1.8l0.5 2.5l0.4-2.4l0.5-3.3l0.5-4.4l0.4-1.6l0.5 1.1l0.4-1.4l0.5 4l0.4 1.7l0.5-6.2l0.5 3.6l0.4-4.5l0.5-0.4l0.4 8.3l0.5-3l0.5 2l0.4 2.6l0.5 2.4l0.4-0.2l0.5-4l0.4 2.8l0.5-0.5l0.5 8.3l0.4 5l0.5 5.3l0.4 9l0.5 11.1l0.5 2.1l0.4 7.9l0.5 2.9l0.4 11.6l0.5 6.7l0.4 2.8l0.5 0.3l0.5 0.3l0.4 0.6l0.5 2.3l0.4 1.6l0.5 3.4l0.5 1.3l0.4-3.6l0.5 7.8l0.4-0.7l0.5-0.6l0.4-0.6l0.5 6.2l0.5-5.4l0.4 1.3l0.5 6.3l0.4-0.3l0.5-3.6l0.5 2.3l0.4-1.9l0.5-1.1l0.4 2.1l0.5-7.2l0.4-5.9l0.5-3l0.5-1.9l0.4 1.8l0.5-4.2l0.4 1l0.5-3.8l0.5-6.6l0.4-2.6l0.5-4.3l0.4-7.9l0.5-3.5l0.5-5.5l0.4-4.9l0.5 1.7l0.4-0.1l0.5-5l0.4-7.1l0.5-5.5l0.5 4l0.4-7.8l0.5 1.4l0.4 6.8l0.5 2.2l0.5-4.1l0.4 2.9l0.5-0.1l0.4-1.6l0.5-1.6l0.4 1.1l0.5 0.3l0.5-1.7l0.4 3.1l0.5 6.7l0.4-0.3l0.5-1.8l0.5-5.7l0.4 1.7l0.5 0.2l0.4 0.5l0.5 7.7l0.4-2.2l0.5-7.7l0.5-1.6l0.4 1.9l0.5-7.1l0.4-5.5l0.5 4.1l0.5 1.8l0.4-2.8l0.5-1.8l0.4 0.6l0.5-5.6l0.4 4.7l0.5-5.4l0.5-4.7l0.4-1.2l0.5 6.2l0.4 6.1l0.5 2l0.5-2.8l0.4 1.4l0.5 7.6l0.4-2.8l0.5-2.2l0.5-0.1l0.4 4l0.5 1.5l0.4 18.7l0.5 13.8l0.4 18.9l0.5 14.6l0.5 4.7l0.4-1l0.5 0.2l0.4 0.7l0.5 5.7l0.5-3.9l0.4-7.2l0.5 9.2l0.4 0.3l0.5-1.4l0.4 6.3l0.5 2.4l0.5-1.2l0.4-2.2l0.5-0.7l0.4-1.8l0.5-3.8l0.5-6.9l0.4-11.8l0.5-12.7l0.4-7.1l0.5 4.8l0.4 3.4l0.5-2.2l0.5 4.1" fill="none" stroke="#62B8E8" stroke-width="3.4" stroke-linejoin="round" stroke-linecap="round"/>
<path d="M717.2 131.4l0.5-2.6l0.5 54.5l0.4 57.5l0.5 55.7l0.4-53.2l0.5-55.6l0.5-52.6l0.4-5.9l0.5 5.5l0.4-10.3l0.5 7.8l0.5-8.9l0.4-7.6l0.5-0.6l0.4 4.3l0.5-1.4l0.4-6.2l0.5-0.1l0.5-2.4l0.4-6.3l0.5 4l0.4 6.5l0.5-13.1l0.5-6.5l0.4 3.8l0.5 3.6l0.4 5.2l0.5-0.6l0.4-7.1l0.5 0.9l0.5-7.2l0.4 0.8l0.5 5.7l0.4-5.9l0.5 2.6l0.5-2.8l0.4 1.2l0.5 25.1l0.4 27.4l0.5 26.7l0.4-23.2l0.5-21.8l0.5-14.9l0.4 2.4l0.5-6.5l0.4 7.3l0.5-3.5l0.5 2.7l0.4 6l0.5 2.6l0.4-2l0.5-6.8l0.4-7.2l0.5 0.8l0.5-1.5l0.4-7.6l0.5-2l0.4 8.2l0.5-14.2l0.5 10.7l0.4 2.6l0.5-2.6l0.4 3.4l0.5 6.1l0.5-6.3l0.4 11.8l0.5-6.5l0.4-3l0.5 3.7l0.4-4.7l0.5-7l0.5-0.3l0.4-0.1l0.5-5.1l0.4-4.7l0.5 25l0.5 31.5l0.4 32.4l0.5-29.3l0.4-23.8l0.5-25.9l0.4-6.7l0.5 3.4l0.5 4.7l0.4-8.4l0.5-5.9l0.4 5.4l0.5-1.1l0.5-0.4l0.4-3l0.5 1.3l0.4 4.5l0.5 7.5l0.4 0l0.5 1.8l0.5 3l0.4 0.1l0.5 5.4l0.4-0.5l0.5 1.1l0.5 7.9l0.4-0.7l0.5-2.2l0.4-5.9l0.5-9.1l0.4-5.5l0.5 10.2l0.5-2.4l0.4 0.2l0.5-0.7l0.4 5.1l0.5-0.2l0.5 6.1l0.4-7.9l0.5-14.1l0.4-10.7l0.5-10.4l0.4 9l0.5 10.8l0.5 6.6l0.4-1.7l0.5 4.4l0.4 4.4l0.5 9.5l0.5-10.2l0.4-10.1l0.5-14.9l0.4 5.8l0.5-0.6l0.5-5.8l0.4 3.6l0.5 1.5l0.4-1.5l0.5 11.4l0.4-0.4l0.5 4.4l0.5-1.9l0.4-6.2l0.5-1l0.4 3.3l0.5-3.3l0.5-5.1l0.4 10.6l0.5-1.4l0.4 7.8l0.5 0.4l0.4-9l0.5-2.2l0.5-3.6l0.4-6l0.5-8.6l0.4 7.4l0.5 6.9l0.5-6.3l0.4 0.6l0.5 3.9l0.4 2.5l0.5-3.7l0.4-2.3l0.5 5.4l0.5 6.3l0.4-1.4l0.5 0.8l0.4 1.8l0.5-2.5l0.5-2.6l0.4 1.1l0.5-3.8l0.4 6l0.5 4.5l0.4-2.1l0.5-2.6l0.5 2.7l0.4-10l0.5 7.4l0.4 2.9l0.5 3.4l0.5-6.9l0.4 11.8l0.5 4.9l0.4 5.9l0.5-5.2l0.5-5.8l0.4-8.1l0.5-7l0.4 6.1l0.5 3.2l0.4-1.8l0.5 1.4l0.5 0.9l0.4-8.6l0.5 1.4l0.4-3.7l0.5 14.3l0.5 10.3l0.4 0.4l0.5 4.2l0.4-8.9l0.5-3.4l0.4-9.1l0.5 5.9l0.5-4.9l0.4-8l0.5-4.7l0.4 7.1l0.5-4.9l0.5-4.8l0.4 2.3l0.5 4.3l0.4-2.6l0.5 1.4l0.4 7.5l0.5-2.8l0.5-1.8l0.4-0.5l0.5-2.3l0.4-2l0.5 3.3l0.5 6.7l0.4 7.6l0.5-1.3l0.4 4.4l0.5 6.1l0.4 2.9l0.5 0.5l0.5 7.7l0.4-5.6l0.5 4.8l0.4-12.7l0.5-0.2l0.5 5.8l0.4-2.2l0.5-2.2l0.4 5.4l0.5 4l0.4 11.1l0.5 9.9l0.5-11.3l0.4-10.2l0.5-17.3l0.4 2.7l0.5-6l0.5-2l0.4 11.3l0.5 0.9l0.4 5.2l0.5-4.8l0.5-7.3l0.4 26.8l0.5 28.7l0.4 30.3l0.5-30.8l0.4-29.2l0.5-20.6l0.5-2.5l0.4 1.7l0.5 7.2l0.4 1.3l0.5-5.5l0.5 9l0.4 8.1l0.5-3.4l0.4-9.7l0.5 1.4l0.4 0.1l0.5 4.7l0.5 4l0.4 2.7l0.5-1.8l0.4-4l0.5-0.1l0.5-10.7l0.4 2.3l0.5-11.6l0.4-12.7l0.5-8.5l0.4-7.2l0.5 8.6l0.5 8.2l0.4 4.6l0.5-3l0.4 15.3l0.5-3.7l0.5-8l0.4-6.6l0.5-4.6l0.4 7l0.5-5l0.4-1l0.5 7.1l0.5 7.4l0.4-3.4l0.5 4.5l0.4 4.4l0.5 2.2l0.5-2.6l0.4 7.2l0.5-1.3l0.4 14.2l0.5 5.2l0.4-7.9l0.5-1.8l0.5-0.8l0.4 0.9l0.5-8.1l0.4-1.4l0.5 2.9l0.5 3.8l0.4 3l0.5 6.1l0.4-4.8l0.5-3.9l0.5-6.7l0.4-2l0.5 0.6l0.4 6.9l0.5-3.7l0.4-3l0.5-5.7l0.5-9.2l0.4-8.4l0.5-8.1l0.4 8.3l0.5 17.8l0.5 7.8l0.4-10.5l0.5-5l0.4 4.9l0.5 9.5l0.4-7.1l0.5 1.2l0.5 3.3l0.4 2.6l0.5-1.1l0.4 1.8l0.5-13.8l0.5 3.4l0.4 8.2l0.5 1.1l0.4-6.4l0.5 4.4l0.4 1.2l0.5 2.6l0.5 8.1l0.4-2.1l0.5 7.8l0.4 1.7l0.5 0.1l0.5-4.7l0.4 2.2l0.5-0.9l0.4 10.3l0.5-7.3l0.4-5.1l0.5-4l0.5 6.4l0.4 4.6l0.5 1l0.4-5.3l0.5-3.6l0.5-10.9l0.4-4.8l0.5 8.9l0.4 2.9l0.5 0.9l0.5-8.1l0.4-12l0.5-0.9l0.4-0.3l0.5 1.8l0.4 3.5l0.5 4.2l0.5 3.8l0.4 4.2l0.5-2.4l0.4-0.9l0.5 10.1l0.5-10.9l0.4-3.2l0.5-12.6l0.4-3.4l0.5-4.1l0.4 2.5l0.5 8.5l0.5 2.2l0.4 7.1l0.5-3l0.4-0.4l0.5 3.9l0.5-0.8l0.4-1.6l0.5-6.2l0.4 12.2l0.5-5.2l0.4-4.8l0.5 10.4l0.5-13.9l0.4-8.3l0.5-6l0.4 5l0.5 4.3l0.5 1.4l0.4-7.1l0.5-0.3l0.4-5.5l0.5-0.9l0.4-4.9l0.5-0.8l0.5-5.4l0.4-0.6l0.5-10.8l0.4 8.2l0.5 11.8l0.5 1.8l0.4 3.7l0.5-2.4l0.4 0.3l0.5 9.3l0.4 2.3l0.5-1.8l0.5-2.8l0.4 8l0.5 5.3l0.4 0.1l0.5 1.6l0.5-0.3l0.4-0.2l0.5-1.2l0.4-3.2l0.5 8.9l0.5-3.7l0.4-11.3l0.5 1.5l0.4-2l0.5-3.4l0.4 11.1l0.5 4.1l0.5 3.8l0.4 0.3l0.5 3.9l0.4-3.1l0.5-14.1l0.5-6.6l0.4 7.5l0.5 4.3l0.4 11.7l0.5-2.5l0.4-0.8l0.5 10.3l0.5 5.7l0.4 4.3l0.5-1.7l0.4 0.2l0.5 0.3l0.5 1.8l0.4-6.1l0.5 1.7l0.4-3.2l0.5-0.4l0.4 5l0.5 8.2l0.5 6.1l0.4-4.5l0.5-2.9l0.4-5.6l0.5 6.3l0.5 5.7l0.4-4l0.5 0.7l0.4-2.6l0.5 0.8l0.4 4.3l0.5 4.6l0.5-4.7l0.4 1.7l0.5-6.3l0.4-5l0.5-2.3l0.5 4.2l0.4 2.9l0.5-4.1l0.4 7.3l0.5 10.5l0.5 29.5l0.4 32l0.5 24.9l0.4-24.9l0.5-30.7l0.4-29.3l0.5-6.5l0.5-2.7l0.4-2.4l0.5-5.3l0.4-9.5l0.5 3.2l0.5-0.8l0.4 0.6l0.5 8.3l0.4-4.9l0.5 3.2l0.4-1.7l0.5 0.2l0.5 4.8l0.4-3.5l0.5 0.5l0.4-4l0.5-7.6l0.5 5l0.4-2.9l0.5-2.2l0.4-4.9l0.5-1.3l0.4 1.1l0.5 1l0.5-12l0.4-3.8l0.5-9.8l0.4-5.4l0.5 1.8l0.5-0.9l0.4 5.9l0.5 6l0.4-4.1l0.5-2.9l0.4 1.9l0.5 9.8l0.5 7l0.4 10.4l0.5-11l0.4-3.8l0.5-4.8l0.5-5.7l0.4-4.6l0.5 1.5l0.4 4.1l0.5 6l0.4 4l0.5 1.5l0.5-0.1l0.4 1.3l0.5-4.9l0.4 5.1l0.5 0l0.5 5l0.4 0.1l0.5-8.6l0.4 2.8l0.5-8.8l0.5 7.4l0.4-22.5l0.5-14.3l0.4 17.5l0.5 23.6l0.4-11.7l0.5-6.9l0.5-3.3l0.4-4l0.5-2l0.4 2.1l0.5 3.3l0.5-6.9l0.4-4.5l0.5 0l0.4 3.2l0.5 0.8l0.4-3.5l0.5 3.9l0.5 9.3l0.4 5.3l0.5 7l0.4 7.1l0.5-8.6l0.5 7.7l0.4-2.4l0.5-3.4l0.4 1.1l0.5 7.7l0.4 6.7l0.5 4.1l0.5 1.2l0.4-4.4l0.5-4.8l0.4 4.7l0.5-2.5l0.5-4.4l0.4-1l0.5 2.1l0.4-2.9l0.5-5.9l0.4 5.3l0.5 5.8l0.5 4.8l0.4-2.6l0.5-8.6l0.4 4.3l0.5 2.4l0.5 5.9l0.4 1.3l0.5 4.1l0.4 50.2l0.5 44l0.4 45.7l0.5-46.8l0.5-52.6l0.4-44l0.5-3.6l0.4-1.5l0.5-2.5l0.5 0.2l0.4 13.4l0.5-4.2l0.4 2.7l0.5-2.9l0.5 6.7l0.4-4.3l0.5 4.5l0.4-5.6l0.5 0l0.4-7.3l0.5-4l0.5 0l0.4-11.3l0.5-2.2l0.4 0.7l0.5-1.2l0.5 3.9l0.4 2.6l0.5-5.5l0.4 7l0.5 5.4l0.4 10.7l0.5 5.6l0.5 5l0.4-7.4l0.5-1.8l0.4-17.8l0.5-12.2l0.5 7.3l0.4-1.6l0.5-0.3l0.4 7.3l0.5-9.6l0.4-16.5l0.5 5.3l0.5 0.4l0.4-4.1l0.5 3.3l0.4-5.5l0.5 4.8l0.5 8.8l0.4-2.7l0.5 1.8l0.4-0.9l0.5 0l0.4-1.3l0.5 3.1l0.5 4.9l0.4-7l0.5 8.8l0.4 5.6l0.5-6.1l0.5-5.5l0.4 5.7l0.5 9.3l0.4-8.2l0.5-10.9l0.5-1.8l0.4 4.7l0.5-1.1l0.4 10.7l0.5 11.8l0.4 9.6l0.5-6.2l0.5-10.1l0.4-7l0.5-2.8l0.4 6.6l0.5-1.9l0.5-4l0.4-1.3l0.5 14.2l0.4-1.7l0.5-6.4l0.4 4.1l0.5 3.4l0.5 0l0.4 31.1l0.5 30.7l0.4 31.7l0.5-29l0.5-31.4l0.4-33l0.5-4.8l0.4-4.7l0.5 5.8l0.4-5.6l0.5-4.1l0.5-0.3l0.4 0.3l0.5 9.3l0.4 10.4l0.5 0.4l0.5 9.4l0.4-9.5l0.5-3.8l0.4-5l0.5-5l0.4 8.8l0.5-4.7l0.5-2.4l0.4 1.3l0.5 2.1l0.4-3.1l0.5 3.3l0.5 7l0.4 9.7l0.5 6.8l0.4-7.9l0.5-0.1l0.4 4.3l0.5 2.2l0.5-2.3l0.4-0.8l0.5 6.1l0.4-2.6l0.5 1.9l0.5-8.5l0.4-5.9l0.5-5.2l0.4 5.1l0.5-4.1l0.5-6.4l0.4 10.7l0.5-1l0.4 1.7l0.5 6.3l0.4-2.7l0.5-14.2l0.5 0.3l0.4 7l0.5-3.5l0.4-9.1l0.5 5.5l0.5 1.7l0.4 36.4l0.5 40.8l0.4 42.7l0.5-45.4l0.4-41.8l0.5-37.8l0.5 9.8l0.4-18.5l0.5 8.1l0.4-4.7l0.5 1.1l0.5 11.2l0.4 1.1l0.5 3l0.4 4l0.5 0.7l0.4-0.4l0.5-3.2l0.5-6.8l0.4 0.2l0.5-3.6l0.4 6.5l0.5-5.4l0.5 1.6l0.4 2.8l0.5 10.6l0.4-2.8l0.5 5l0.4 0.8l0.5-4.8l0.5 6.6l0.4 0.3l0.5-3l0.4 8.8l0.5-11.8l0.5-6.1l0.4-8.3l0.5-2.9l0.4 4.6l0.5 1.7l0.5-0.1l0.4 6.5l0.5-0.9l0.4-5.8l0.5-0.4l0.4 1.6l0.5-1.6l0.5 1.9l0.4 9.2l0.5-3l0.4 6.9l0.5-6.4l0.5 4.1l0.4-0.6l0.5 1.4l0.4-16.5l0.5-11.4l0.4-6.9l0.5-4.8l0.5 3.2l0.4 10.2l0.5 0.9l0.4 6l0.5 2.6l0.5-2.2l0.4-2.8l0.5-0.3l0.4-14.1l0.5 3.7l0.4 5l0.5-3.1l0.5 7.4l0.4 1.8l0.5-11.9l0.4 5.4l0.5 5.6l0.5-9.8l0.4-4.1l0.5-6.8l0.4-2.3l0.5-4.5l0.4 0.5l0.5 6.2l0.5 0.3l0.4 5l0.5 5.4l0.4 1.6l0.5-1.5l0.5 4.2l0.4-1.6l0.5-10.1l0.4 1.6l0.5 4.3l0.4-1.2l0.5 4.4l0.5 7.3l0.4 1.5l0.5 4.7l0.4 10l0.5 2.6l0.5-3.8l0.4-6.5l0.5 5.7l0.4 4.2l0.5-1.2l0.5-10.7l0.4-2l0.5 0.6l0.4-1.5l0.5 8.5l0.4 3.8l0.5 6.9l0.5-15.6l0.4-10.1l0.5 3.1l0.4 3.2l0.5-1.4l0.5-4.8l0.4-5.7l0.5 6.4l0.4 0.7l0.5 1l0.4 11.6l0.5 1l0.5 3.4l0.4-4l0.5-0.6l0.4 7.8l0.5 2.5l0.5 4.2l0.4-1.6l0.5-6.3l0.4-7.6l0.5 2.2l0.4 0.7l0.5-8.7l0.5 1.8l0.4 4l0.5-0.5l0.4-1.8l0.5 0.8l0.5 10.2l0.4-10.9l0.5-4l0.4-12.1l0.5 0.1l0.4 0l0.5 3.2l0.5-4.8l0.4 3.9l0.5 8.7l0.4-2.4l0.5 0.6l0.5 2.4l0.4-2.7l0.5-2.2l0.4-0.3l0.5-6.4l0.4-2.9l0.5-7.1l0.5 12.5l0.4-5l0.5-9.6l0.4-10l0.5 14.5l0.5 9.7l0.4 7l0.5-3.7l0.4-2.2l0.5 6l0.5 4.9l0.4-4.3l0.5-4.1l0.4 1l0.5 12.1l0.4 7l0.5 1.2l0.5 6.4l0.4 4.7l0.5-5.1l0.4-1.2l0.5 9.2l0.5 6.9l0.4-7.6l0.5-6.8l0.4 1.1l0.5-2.2l0.4 3.4l0.5-2.3l0.5 0.3l0.4-3.4l0.5-6.9l0.4 4.6l0.5 9.3l0.5-7.2l0.4-2.1l0.5-1.6l0.4 2l0.5-9.1l0.4-7.6l0.5 8l0.5-0.3l0.4 5.7l0.5 4.3l0.4-7l0.5-10l0.5 4.6l0.4 7.8l0.5 2.7l0.4 1.3l0.5 3.4l0.4-4.9l0.5-4l0.5 6.9l0.4-4.5l0.5-0.9l0.4 4.8l0.5-4.4l0.5-1.4l0.4 2.1l0.5 10.9l0.4 10l0.5-9.2l0.5-11.1l0.4 3.4l0.5-2.1l0.4-0.7l0.5-6.9l0.4 3.6l0.5 9.6l0.5-4.3l0.4-9.2l0.5-4.9l0.4 0.3l0.5-5.1l0.5-1.9l0.4 2.2l0.5-0.3l0.4 0.2l0.5 8.2l0.4 5.2l0.5 6.3l0.5-3l0.4-11.1l0.5-4.1l0.4 4.3l0.5 2.2l0.5 8l0.4 7.4l0.5 1.7l0.4-5.4l0.5 5l0.4 3.8l0.5 2.3l0.5 3.4" fill="none" stroke="#3DA872" stroke-width="3.4" stroke-linejoin="round" stroke-linecap="round"/>
<path d="M717.2 132.3l0.5 4.5l0.5-2l0.4 2l0.5 1.5l0.4 3.4l0.5 1.7l0.5 4.5l0.4 5.9l0.5 4.6l0.4-4.3l0.5-1.6l0.5-4l0.4-1.3l0.5-1.2l0.4 2l0.5-2.7l0.4-1.2l0.5-8.8l0.5-3.6l0.4 3.6l0.5-2.2l0.4 6.1l0.5 3l0.5-11.2l0.4-0.4l0.5 1.1l0.4-5.7l0.5-1.9l0.4 4.3l0.5 5.7l0.5 10.9l0.4-3.4l0.5-5.9l0.4-2l0.5-5.7l0.5-2.6l0.4 2.3l0.5 11.3l0.4 8.4l0.5 10.4l0.4 10.9l0.5-9.9l0.5-12.3l0.4-10.9l0.5-13.6l0.4 8.5l0.5-1.3l0.5 1.8l0.4 0.6l0.5-1.7l0.4 0.1l0.5-4l0.4 3.4l0.5-1.7l0.5-5.1l0.4 6.2l0.5-2.6l0.4 7.1l0.5 2.6l0.5-4l0.4-1.5l0.5-2.3l0.4 1.4l0.5-0.8l0.5-0.3l0.4 3.5l0.5-8.8l0.4-8.7l0.5 5.5l0.4 0.4l0.5 1.7l0.5-3.3l0.4 2.3l0.5 9.6l0.4 9.1l0.5-9.7l0.5-10.9l0.4 3.6l0.5 2.3l0.4 0.4l0.5-1.5l0.4 0.7l0.5 1.5l0.5 5.1l0.4 2.3l0.5-0.1l0.4 0.9l0.5 1.6l0.5-7.1l0.4-0.7l0.5-6.1l0.4-1.8l0.5 0.6l0.4 0.3l0.5 2.7l0.5-2.9l0.4-2.4l0.5 0.9l0.4-3.7l0.5 2.9l0.5 3.4l0.4 7.4l0.5-0.7l0.4 0.5l0.5-4.3l0.4-2.7l0.5 3.3l0.5 0.2l0.4-4.8l0.5-3.6l0.4-2l0.5 1.4l0.5 2.4l0.4-0.3l0.5 13.6l0.4 9.4l0.5 6.9l0.4 10.4l0.5-10.3l0.5-11.2l0.4-11.3l0.5-8l0.4 0.8l0.5 5.8l0.5-1.6l0.4-1.9l0.5-0.2l0.4-4.5l0.5-6.8l0.5-7.2l0.4 6.5l0.5 2.9l0.4 15.9l0.5-3.9l0.4 1.5l0.5-2.5l0.5-2l0.4 4.3l0.5 6.5l0.4-0.9l0.5-0.8l0.5-4.3l0.4 4.5l0.5 2.3l0.4 4.4l0.5-1.6l0.4-2.6l0.5-1.9l0.5 7.3l0.4 0.6l0.5-0.7l0.4 0.9l0.5-1.6l0.5 4.3l0.4-3.3l0.5 3.6l0.4-6.3l0.5 3.5l0.4-1.2l0.5 1.9l0.5 2l0.4-2.9l0.5-6.3l0.4 1.6l0.5-11.5l0.5-10.3l0.4 8l0.5 5.7l0.4 2l0.5 3.6l0.4-4.6l0.5 4.9l0.5-1.9l0.4 0.9l0.5 5.9l0.4 3.7l0.5-1.9l0.5-1.5l0.4 0.2l0.5-5.6l0.4-3.5l0.5-6.7l0.5 2.5l0.4 4.7l0.5 1.5l0.4-3.8l0.5 0.6l0.4 0.9l0.5-2.6l0.5-1.8l0.4-1l0.5 2.5l0.4 0l0.5 1.8l0.5 0.4l0.4-4.4l0.5 6l0.4-2.5l0.5 2l0.4-6.1l0.5-1.4l0.5 4l0.4 0.3l0.5 8.8l0.4 1.8l0.5 2.8l0.5-1.2l0.4-2.9l0.5-5.7l0.4-7l0.5 2.6l0.4 2.2l0.5 3.5l0.5-0.4l0.4-1.5l0.5 0.5l0.4 8.7l0.5 5.3l0.5 6.8l0.4-26l0.5-20.8l0.4 16l0.5 5.5l0.4-5l0.5 4.7l0.5 0.2l0.4-3.1l0.5 0.8l0.4 1.4l0.5-0.7l0.5 1.9l0.4 2l0.5 7.4l0.4-6.3l0.5-3.7l0.4 1.7l0.5 8.8l0.5 1.4l0.4-0.6l0.5-5.5l0.4 2.2l0.5 0.2l0.5 0.7l0.4-2l0.5-0.6l0.4-5.6l0.5-5.8l0.5-7.1l0.4 6.5l0.5 8.2l0.4 1.7l0.5 0.9l0.4-0.7l0.5 7.4l0.5 0.5l0.4-0.6l0.5-5.4l0.4-8.1l0.5-7.7l0.5 6.7l0.4 17.4l0.5 26l0.4-16.2l0.5-11.4l0.4-7.4l0.5-3.6l0.5-0.1l0.4-5l0.5-0.3l0.4-0.2l0.5-1.6l0.5 0.3l0.4-3.5l0.5-2.3l0.4 0.4l0.5 2.4l0.4 3.2l0.5 5.5l0.5-3.4l0.4 0.7l0.5 4.6l0.4-3.9l0.5 0.5l0.5 1.7l0.4 4.2l0.5 5l0.4 8.1l0.5 4.9l0.4-6.6l0.5-5.5l0.5-4.8l0.4-7.3l0.5-3.9l0.4-7.7l0.5-8.5l0.5 2.7l0.4-0.6l0.5 0.2l0.4 5.9l0.5 0.3l0.4 3.4l0.5-3.1l0.5-3.1l0.4 15.2l0.5 16.5l0.4 13.8l0.5-12.2l0.5-12.4l0.4-9l0.5 0.6l0.4-3.6l0.5-4.1l0.5 0.8l0.4 4.2l0.5-1.1l0.4-2.4l0.5 1.5l0.4 1.9l0.5-0.7l0.5 0.7l0.4 8.3l0.5-3.8l0.4-0.5l0.5 5.2l0.5 2.3l0.4 1l0.5-2.4l0.4-2.6l0.5 4.6l0.4-1l0.5-5.3l0.5-1.9l0.4 1.1l0.5 5.7l0.4-2.2l0.5-3.7l0.5 0.7l0.4 0.3l0.5-1.5l0.4-0.7l0.5 1.1l0.4-4.4l0.5 5.1l0.5 1l0.4-2.3l0.5-5.6l0.4-3.3l0.5-2.8l0.5 0.8l0.4 3.9l0.5 7.3l0.4 2.8l0.5 5.7l0.4 4.5l0.5-3.4l0.5-2.9l0.4-4.6l0.5-4.5l0.4-1.2l0.5 8l0.5-1.7l0.4 5.8l0.5-4.8l0.4 0.9l0.5 0.2l0.5-0.4l0.4-4.8l0.5-1.6l0.4-3l0.5 0.1l0.4 2.9l0.5 6.9l0.5 5.3l0.4 2.2l0.5-1.6l0.4 0.3l0.5-1.4l0.5 0.6l0.4-3.2l0.5-3.7l0.4-0.3l0.5-2.5l0.4-2l0.5-0.4l0.5-2.8l0.4-0.5l0.5 3.2l0.4-0.8l0.5 4.1l0.5 0.4l0.4 3l0.5-3.7l0.4-2.9l0.5-3.1l0.4-2.7l0.5 0.5l0.5 2.8l0.4-4l0.5 5.1l0.4-3.2l0.5 10.7l0.5-1.7l0.4-7.8l0.5-2.3l0.4 4.9l0.5-1l0.4-4l0.5-7.1l0.5-0.6l0.4 12.1l0.5-6.5l0.4-7l0.5-2l0.5-2.6l0.4-3.1l0.5 6.5l0.4-8.1l0.5-0.9l0.4 7.9l0.5 14.4l0.5 5.1l0.4-2.4l0.5 3.8l0.4-2.5l0.5-1.2l0.5-8.3l0.4 3.8l0.5-2.2l0.4-0.3l0.5-4l0.5 4.5l0.4-3.8l0.5 1l0.4 0.4l0.5 5.8l0.4-3.5l0.5 1.5l0.5-4.9l0.4-3.9l0.5 2.2l0.4 7.3l0.5-0.6l0.5 2.5l0.4-3.9l0.5-2.4l0.4 0.2l0.5-2.2l0.4 9.7l0.5 3.6l0.5-5.2l0.4 1l0.5-2.7l0.4 5l0.5 1.8l0.5-0.3l0.4-1.7l0.5-10.4l0.4-2.3l0.5 6.7l0.4 2.5l0.5 2.2l0.5 0l0.4 5.8l0.5-0.8l0.4-4.4l0.5-3l0.5 1.4l0.4 5.4l0.5 2.1l0.4-4.9l0.5 1l0.4-0.8l0.5-5l0.5 9.6l0.4 5l0.5 5.5l0.4-1.8l0.5-1.7l0.5 1l0.4 4.4l0.5-2.9l0.4-1.5l0.5-4.5l0.5-0.8l0.4 5.6l0.5-0.4l0.4-2.7l0.5 5.9l0.4 3l0.5-0.3l0.5 1.6l0.4-3.3l0.5-11.8l0.4-7.1l0.5-5.4l0.5 3.1l0.4 5.1l0.5 14.8l0.4 0.7l0.5 5.1l0.4 2.7l0.5 3.6l0.5-4.9l0.4-4l0.5-9l0.4-7.7l0.5 2.3l0.5 8.4l0.4-3.7l0.5 1.6l0.4 6.7l0.5-2l0.4 2.9l0.5-4.2l0.5-9.8l0.4 0.4l0.5-0.1l0.4 5.4l0.5-0.2l0.5 1.5l0.4 3l0.5 0.1l0.4 1.7l0.5-7.5l0.4 1.3l0.5 6.8l0.5-6l0.4-5.1l0.5 2l0.4-1l0.5 0.7l0.5-3.8l0.4-2.1l0.5-9.3l0.4 10.4l0.5 2.9l0.4 6.9l0.5 5.5l0.5 1.6l0.4-6.7l0.5-3.3l0.4 4.2l0.5-0.8l0.5-4.2l0.4 3.2l0.5 3.8l0.4-1.6l0.5-3.6l0.5 5l0.4-4.7l0.5 3.5l0.4-2.1l0.5 1.1l0.4 5l0.5 1.3l0.5 3.3l0.4-4.9l0.5 2.9l0.4-2.1l0.5-2.9l0.5-0.6l0.4-0.4l0.5 2.4l0.4-3.2l0.5-12.6l0.4-8.3l0.5 3.6l0.5-0.5l0.4 5.7l0.5 1.9l0.4 1.2l0.5-3.8l0.5 5.8l0.4 0.9l0.5 0.1l0.4 0.7l0.5 1.7l0.4-1.8l0.5 4l0.5 0.6l0.4-6.5l0.5 2.3l0.4 0.3l0.5 2l0.5-7.8l0.4-0.2l0.5-0.3l0.4 9.1l0.5 6.8l0.4-5.5l0.5-10.8l0.5-6l0.4 0.4l0.5 0.3l0.4-1.9l0.5-2.2l0.5 5.9l0.4 3.9l0.5-4.3l0.4 7.4l0.5-0.4l0.4 2.9l0.5 5.5l0.5 3.2l0.4-0.4l0.5 0.4l0.4-1.6l0.5-4.9l0.5-0.6l0.4 1.2l0.5-0.8l0.4-0.5l0.5 2.2l0.5-5.4l0.4 2.9l0.5 4.8l0.4-2.4l0.5-1.3l0.4 4.6l0.5-2l0.5-8.8l0.4 6.9l0.5-3.7l0.4-1.8l0.5 6.4l0.5-3.3l0.4-10.1l0.5-3.8l0.4-3.1l0.5 3.3l0.4 0l0.5 1l0.5 3.7l0.4-3.3l0.5-1.5l0.4 3.3l0.5-2.3l0.5-0.7l0.4 0.1l0.5 3.8l0.4-1.3l0.5 6.5l0.4 1.8l0.5 5.2l0.5 0l0.4 6.3l0.5-5.3l0.4-4.8l0.5 0l0.5 1.9l0.4 0.5l0.5-6.3l0.4 2l0.5-4.8l0.4-2l0.5-1.8l0.5 4.2l0.4 8.2l0.5-4.3l0.4-6.8l0.5 0.1l0.5 2.2l0.4 7.8l0.5-2.7l0.4 0.7l0.5 6l0.5 1.6l0.4-4.9l0.5 1.1l0.4-0.2l0.5 0.8l0.4 0.6l0.5 1l0.5 4l0.4-12.8l0.5 2.5l0.4 1.2l0.5-9l0.5 4.8l0.4-0.5l0.5 1l0.4 3.4l0.5-2.7l0.4-4.2l0.5 4l0.5-7.3l0.4 0l0.5 2.2l0.4-5.1l0.5 3.3l0.5 6.7l0.4 0.7l0.5 4.6l0.4-8l0.5-3.8l0.4 0.1l0.5-2.5l0.5 2.5l0.4 5.1l0.5-4.4l0.4 9.1l0.5-3.8l0.5 2.5l0.4 5.4l0.5-0.2l0.4 1.3l0.5 1.4l0.4-3.5l0.5-7.9l0.5-0.4l0.4-2l0.5-4.2l0.4-3.1l0.5 5.6l0.5-1.2l0.4 6.8l0.5-0.2l0.4-4.6l0.5-4.7l0.4 4.2l0.5-2.3l0.5 5.1l0.4-0.1l0.5 6l0.4 1.1l0.5-0.3l0.5 0.6l0.4-3.6l0.5-3.1l0.4-1.8l0.5-1.6l0.5 3.1l0.4-9.5l0.5-1.8l0.4 0.4l0.5 6.2l0.4-2.3l0.5 2.2l0.5 1.2l0.4 3.2l0.5-0.3l0.4-3.3l0.5-8.8l0.5-10.2l0.4 8.2l0.5 10.6l0.4 6.1l0.5-5l0.4 4.4l0.5-2.5l0.5 4.7l0.4-5.9l0.5-3.3l0.4 1.9l0.5-1.6l0.5 4.4l0.4 0.5l0.5-1.2l0.4 3.4l0.5-5.5l0.4-4.5l0.5 2.7l0.5-1.3l0.4-0.8l0.5 3.1l0.4 11.5l0.5 8.4l0.5-10.8l0.4-10.5l0.5-0.7l0.4 0l0.5 0.8l0.4-0.9l0.5 2.6l0.5 0.9l0.4-1.7l0.5-0.1l0.4 0.5l0.5 3.4l0.5 1l0.4-5l0.5-2.7l0.4-2.6l0.5 2.7l0.5 4.3l0.4 4.2l0.5-3.1l0.4-2.9l0.5-4l0.4 8l0.5 7.1l0.5 2.9l0.4-2.8l0.5 10.6l0.4 0.2l0.5-5.3l0.5 8.7l0.4 4.2l0.5 5.9l0.4 9.7l0.5-9.1l0.4-9.8l0.5-10.3l0.5-7.9l0.4 7.9l0.5-4l0.4-11.9l0.5-6l0.5 0.4l0.4-1.7l0.5-1.4l0.4 4.1l0.5 7.4l0.4-1.1l0.5-1.8l0.5 2.1l0.4 5.1l0.5-3.1l0.4 3.4l0.5-4.2l0.5-7l0.4-0.2l0.5 0.5l0.4 1.7l0.5 5.7l0.4 1.5l0.5 2.9l0.5-4.6l0.4 3.6l0.5-1.9l0.4-1.7l0.5 0.2l0.5 4.9l0.4 0.2l0.5 0.2l0.4 1.4l0.5 1.4l0.4-4l0.5-1.7l0.5-0.6l0.4-3.6l0.5 6.4l0.4-8l0.5-8.1l0.5 5l0.4-1.2l0.5 5.7l0.4 4l0.5 0.7l0.5-2.8l0.4 0.3l0.5 18l0.4 11.3l0.5 11.7l0.4-14.8l0.5-14.3l0.5-20.4l0.4-1.7l0.5-3.1l0.4 5l0.5 7.2l0.5-2.8l0.4 4.7l0.5-7.3l0.4-7l0.5 4.3l0.4-5l0.5-7.7l0.5 9.4l0.4 17l0.5-11.2l0.4 11.7l0.5-1.9l0.5 2.4l0.4 0.6l0.5 2.4l0.4-2.6l0.5-7.7l0.4-9.3l0.5 3.4l0.5-0.9l0.4 1.6l0.5 1.8l0.4 7.4l0.5-7.8l0.5-2.3l0.4 0l0.5 1.5l0.4 3.2l0.5 1.2l0.4 0.6l0.5 1.8l0.5 5.8l0.4-8l0.5-2.1l0.4 2.9l0.5-5.4l0.5 2.9l0.4 0.1l0.5-1.2l0.4-0.9l0.5-7.6l0.4 2.1l0.5-6.2l0.5-2l0.4-3.4l0.5 0.3l0.4-1.6l0.5 1.3l0.5 3.2l0.4 1.4l0.5 7.7l0.4-0.8l0.5 0.5l0.5 3.9l0.4 3.6l0.5-7.8l0.4 1.2l0.5 3.4l0.4-4.6l0.5 2.6l0.5 3.4l0.4-8.2l0.5 2.3l0.4 5.6l0.5-4.9l0.5-0.1l0.4-8.6l0.5 2.7l0.4-3.3l0.5-0.4l0.4-3.9l0.5 3.9l0.5 4.4l0.4 8.8l0.5 2.2l0.4-2.2l0.5-4.1l0.5 3l0.4 1.9l0.5 2.9l0.4-1.5l0.5-2.6l0.4-0.9l0.5 2.3l0.5 9.2l0.4-11.2l0.5-0.9l0.4 3.7l0.5-10.3l0.5-0.2l0.4-0.5l0.5 5.1l0.4 4.8l0.5-4.3l0.4 2.3l0.5 3.9l0.5 5.6l0.4 3.4l0.5-4.8l0.4-2.1l0.5-1.2l0.5 0.4l0.4 0.9l0.5-1.2l0.4 5.1l0.5 4.6l0.5-3.8l0.4 5.3l0.5-4.1l0.4-4.1l0.5-0.4l0.4 1.4l0.5-2.1l0.5-2.2l0.4 7l0.5 0.2l0.4 1.4l0.5-6l0.5 0.9l0.4-2.4l0.5-1.5l0.4-1.6l0.5 0.1l0.4 6.2l0.5 8.2l0.5-5.6l0.4-6.1l0.5 4l0.4 3.8l0.5 8.5l0.5 7.4l0.4-23.2l0.5-15.2l0.4 7l0.5-6l0.4 0.9l0.5 10.6l0.5 2.1" fill="none" stroke="#C874AC" stroke-width="3.4" stroke-linejoin="round" stroke-linecap="round"/>
<path d="M717.2 162.4l0.3-0.1l0.2 4.2l0.3 2l0.2-32.9l0.2 17.4l0.3 35l0.2 12.2l0.2 25.8l0.3 25.1l0.2-19.8l0.2-21.6l0.3-22.4l0.2-13.4l0.2-36.1l0.3-5.3l0.2-0.6l0.2 1.6l0.3-11.9l0.2-12.7l0.2 12.7l0.3 10.3l0.2 11.2l0.3-4l0.2 3.4l0.2-7.9l0.3-7.8l0.2-5.6l0.2 19.5l0.3-7.5l0.2 29.8l0.2-8.7l0.3 18.2l0.2 0l0.2-6.5l0.3-35.1l0.2 19.6l0.2-7.4l0.3 2.1l0.2 5.5l0.2-1.7l0.3-18.2l0.2-10.9l0.3-15.9l0.2 20.6l0.2 16.5l0.3 7.8l0.2 6.2l0.2-7.5l0.3 6.2l0.2-32.4l0.2 17.8l0.3 33.3l0.2-32.8l0.2 32.8l0.3-8.1l0.2-0.8l0.2 8.9l0.3-13.2l0.2-9.4l0.2-11.4l0.3-8.5l0.2-24.6l0.3-16.9l0.2 7.3l0.2-7.3l0.3 17.5l0.2 17.6l0.2 15.6l0.3-0.1l0.2-4.8l0.2 2.6l0.3-26.9l0.2 0l0.2 26.2l0.3 13.7l0.2 8.7l0.2 2.7l0.3 11.2l0.2 0l0.2-1.9l0.3-5.5l0.2-12.3l0.3-17.8l0.2 7.1l0.2-9.4l0.3 14.1l0.2 20.2l0.2 0.5l0.3 1.4l0.2-15.4l0.2 3.9l0.3 9.5l0.2 5.5l0.2 0l0.3-1.2l0.2 1.2l0.2 0l0.3-3l0.2 3l0.2-1.6l0.3 1.6l0.2 0l0.3 0l0.2 0l0.2-9.1l0.3-2.3l0.2-24.3l0.2-16.2l0.3 27.7l0.2 5.4l0.2 1.4l0.3-9.8l0.2 16.8l0.2-9.2l0.3-10.3l0.2-19.7l0.2 25.2l0.3-13l0.2 5.8l0.2 13.4l0.3 11.9l0.2-0.3l0.3-14l0.2-16.7l0.2 14.7l0.3 5.2l0.2-4.9l0.2 16.5l0.3 5.8l0.2-7.6l0.2 7.6l0.3-15.3l0.2 15.3l0.2 0l0.3 0l0.2 0l0.2 0l0.3 0l0.2 0l0.2-7.5l0.3-1.1l0.2-7.1l0.3-11.1l0.2-10.8l0.2 22.6l0.3-11.3l0.2 16.3l0.2-13.1l0.3-10.3l0.2 33.4l0.2-18.1l0.3 16.2l0.2-6.5l0.2-2.2l0.3-21.5l0.2-17.3l0.2-10.6l0.3 1.2l0.2-25.2l0.2-9.2l0.3 17l0.2 1.8l0.3 24.9l0.2-7.7l0.2 1.4l0.3-5.8l0.2 9.2l0.2-9.1l0.3 15.1l0.2-8.6l0.2 6l0.3-12.5l0.2 0l0.2 0l0.3 15.7l0.2-15l0.2 19.6l0.3-20.2l0.2 0l0.2 23.2l0.3 4.3l0.2-27.5l0.3 0l0.2 0l0.2 1.9l0.3 17.7l0.2 4.9l0.2 0l0.3-13.9l0.2-10.5l0.2 27.5l0.3-24.8l0.2 31.2l0.2-13.2l0.3 8.6l0.2-4.4l0.2-24.9l0.3 16.8l0.2-11.1l0.2 20l0.3-25.6l0.2 48.8l0.3-41.1l0.2 20.3l0.2 0.6l0.3-17.1l0.2 3.8l0.2 20l0.3-1.8l0.2 6l0.2 14.6l0.3-9l0.2-17.8l0.2 23.4l0.3-24.9l0.2 8.6l0.2 8.9l0.3 16.8l0.2-24.5l0.2-4.8l0.3 7.9l0.2 2.4l0.3 7.5l0.2-3.1l0.2 17l0.3 3.4l0.2-8.2l0.2-0.5l0.3-4.6l0.2 4.2l0.2 2.5l0.3 5.6l0.2-7.4l0.2-2l0.3-2.3l0.2 6.6l0.2-10.3l0.3-5.7l0.2-16.3l0.2-5.5l0.3 8.4l0.2-23.8l0.3 29.1l0.2-6.1l0.2-29.2l0.3 10.3l0.2-10.3l0.2 26.5l0.3-11.2l0.2 12.7l0.2 20.3l0.3-7.3l0.2 12.5l0.2-4.8l0.3 12.4l0.2-4.6l0.2-3.2l0.3 9.7l0.2-10.3l0.2 1.5l0.3-21.7l0.2-1l0.3-6.4l0.2-2.8l0.2 11.4l0.3 6.3l0.2 8.2l0.2-21.5l0.3 2.1l0.2-21.3l0.2 23.1l0.3-14.4l0.2-4.4l0.2-6.8l0.3 2.7l0.2 6.3l0.2 28.3l0.3-5.1l0.2-28.7l0.2 0.9l0.3-1l0.2-9.1l0.3-15.1l0.2 14.2l0.2 10.5l0.3 6.9l0.2 3.3l0.2-0.5l0.3-8.7l0.2 8.2l0.2-17.7l0.3 7.5l0.2 19.1l0.2 26.9l0.3 26.4l0.2-20.8l0.2-8.9l0.3-38.8l0.2-7.4l0.2 17.6l0.3-21.5l0.2 12.9l0.3 5l0.2-5.2l0.2 12.3l0.3 25.5l0.2-7l0.2 7.2l0.3 10.5l0.2-12.3l0.2-12.2l0.3-6.1l0.2-16.5l0.2-0.6l0.3-8.1l0.2 36.8l0.2-26.4l0.3-25l0.2 6.8l0.2-19.6l0.3-5.5l0.2 5.5l0.3 5.6l0.2 5.5l0.2 10l0.3 22.9l0.2-21.8l0.2 3.2l0.3 22.9l0.2-3.3l0.2 28.9l0.3 16.6l0.2-21.4l0.2-24.1l0.3-3l0.2 2.4l0.2-4.4l0.3-17.7l0.2 11l0.2 9.3l0.3 4l0.2-27l0.3-19l0.2 14.1l0.2 18.5l0.3 16.3l0.2 16.3l0.2 16.2l0.3-1.4l0.2 1.4l0.2 0l0.3 0l0.2-36.6l0.2-9.1l0.3 5.3l0.2-16.5l0.2-2.6l0.3 0l0.2 0.9l0.2 17.4l0.3 18.3l0.2 18.3l0.3 18.7l0.2 17.9l0.2 18.3l0.3-18.3l0.2-11.1l0.2-11.8l0.3-26.4l0.2-15.8l0.2 23l0.3-10l0.2-16.5l0.2 11.8l0.3 6.7l0.2-13.2l0.2-27.8l0.3 32.8l0.2 10.8l0.2 4.2l0.3 7.3l0.2 0.7l0.3-1l0.2 6.2l0.2 3.9l0.3 6.4l0.2 15.6l0.2-8.2l0.3-2.8l0.2-27.7l0.2-1.6l0.3-2l0.2 3.5l0.2-1.2l0.3 3.8l0.2-18.6l0.2 5.5l0.3 10.5l0.2 0.9l0.2 16.1l0.3-9.4l0.2-14.4l0.3-0.6l0.2-0.8l0.2 21.6l0.3 5.9l0.2 16.8l0.2-9.3l0.3-13.4l0.2-11.8l0.2-22.9l0.3 17.4l0.2 16.4l0.2-15.3l0.3-0.7l0.2 8.9l0.2-39.5l0.3 40.9l0.2-15.5l0.2 5.9l0.3-22.7l0.2-16.1l0.3 27.2l0.2 15.6l0.2 11.7l0.3-11.6l0.2 5.2l0.2 6.5l0.3-1.7l0.2 4.7l0.2-9.7l0.3 6l0.2 7.4l0.2 7.9l0.3-11.3l0.2-12.2l0.2 2.1l0.3-4.9l0.2-18.6l0.2 0l0.3-24.7l0.2 5.9l0.3-3.5l0.2-6.2l0.2 34.7l0.3-26.2l0.2 2.7l0.2 19.4l0.3-20.4l0.2 4.9l0.2-12.9l0.3-12.4l0.2-11.6l0.2 14.4l0.3 17.3l0.2 12.5l0.2 6.5l0.3 30.9l0.2-15.7l0.2 4.9l0.3-14.1l0.2 2.7l0.3-11.1l0.2-14.7l0.2-7.7l0.3 6.3l0.2 8.5l0.2 10.4l0.3 11.6l0.2-8.9l0.2 31.6l0.3-3.9l0.2 8.3l0.2-1.3l0.3 3.7l0.2-2.4l0.2-4.3l0.3 0.4l0.2-3.5l0.2-2.6l0.3-1.4l0.2 3.9l0.3-5.9l0.2 6l0.2-13.8l0.3-14.5l0.2 12.5l0.2-6.8l0.3-9.3l0.2-14.8l0.2 7.8l0.3 1l0.2 33.1l0.2-26.2l0.3-0.7l0.2 10.8l0.2 21.3l0.3-13.6l0.2-20.3l0.2 11.5l0.3-20.8l0.2 10.8l0.3 14.3l0.2 9.2l0.2 11l0.3-5l0.2-7.1l0.2-0.6l0.3-16.7l0.2-31.8l0.2 0l0.3 0.1l0.2 20.5l0.2-12.2l0.3 22.5l0.2 10l0.2-20.2l0.3-21.1l0.2-5.6l0.2 6.9l0.3 9l0.2-3.4l0.3 9.8l0.2 3.7l0.2 4.8l0.3-5.1l0.2-12.6l0.2 10.2l0.3-0.9l0.2-15.8l0.2 0.1l0.3 21.5l0.2 26.6l0.2 16.4l0.3 21.5l0.2 21.4l0.2-21.4l0.3-11.1l0.2-21.7l0.2-11.6l0.3-41.3l0.2 8.6l0.3-4.8l0.2 2.9l0.2-7.8l0.3 8.9l0.2 6.1l0.2 4.5l0.3 15.7l0.2 4.6l0.2-19.1l0.3 5l0.2-10.8l0.2-14.8l0.3-4l0.2 10.5l0.2 11.9l0.3 8.7l0.2 15.1l0.2 18.8l0.3-6.9l0.2 11.7l0.3 9.9l0.2-5l0.2-13.3l0.3 3.2l0.2-3.9l0.2-7l0.3 15.7l0.2 1.9l0.2 5.6l0.3 3l0.2 3.1l0.2-28.1l0.3-29l0.2-25.9l0.2-7.2l0.3 13.4l0.2 16.9l0.2 15.6l0.3 16.8l0.2 10.1l0.3 6.8l0.2-3.3l0.2-3.7l0.3-0.9l0.2-11.1l0.2-11.2l0.3 21.9l0.2-14.1l0.2-15.1l0.3 22.7l0.2-36.9l0.2-11.4l0.3 4.2l0.2 39.2l0.2-30l0.3 6.7l0.2-23.3l0.2 12.2l0.3-8l0.2 12.3l0.3 13.2l0.2-16.9l0.2 15.5l0.3-12.6l0.2 25.7l0.2 17l0.3-31.5l0.2 28.3l0.2-15.3l0.3 7.4l0.2 16.3l0.2 3.1l0.3-12.5l0.2-19.3l0.2-17.9l0.3-16.5l0.2 22.7l0.2 18.3l0.3 17.7l0.2 5.4l0.3 4.8l0.2-9.4l0.2-24.8l0.3-17.7l0.2-10l0.2-15.2l0.3-14.7l0.2 12l0.2 9.6l0.3 7.3l0.2-9.1l0.2 36.8l0.3-33.6l0.2 0.5l0.2-1.3l0.3 4.3l0.2 33.4l0.2-33.3l0.3 0l0.2-3.4l0.3 10l0.2 15.7l0.2 3.4l0.3-6.7l0.2 24.5l0.2-10.7l0.3 8.5l0.2 6.9l0.2 3.9l0.3-6.1l0.2-6.5l0.2-14.4l0.3-4l0.2-24.3l0.2 15.1l0.3 1.1l0.2-6.4l0.2 2l0.3-7.1l0.2 5.2l0.3 20.7l0.2-17.1l0.2-3.1l0.3 10.6l0.2-12.3l0.2 28.8l0.3-1.3l0.2 13.2l0.2 7.9l0.3-0.1l0.2-4.4l0.2 4.4l0.3 0l0.2 0l0.2 0l0.3 0l0.2-1.9l0.2 21.9l0.3 14.6l0.2 25.3l0.3-30.6l0.2-27.4l0.2-18.6l0.3-9.3l0.2 16.2l0.2-19.3l0.3 9.8l0.2 14.2l0.2-21.3l0.3 16.2l0.2 5.8l0.2-8.8l0.3-11.8l0.2-15.4l0.2-13.8l0.3-6.7l0.2 8.4l0.2 16l0.3-0.5l0.2 10.7l0.3-30l0.2 36.5l0.2 0.6l0.3 10.1l0.2-12l0.2-5.4l0.3-18.8l0.2-10.9l0.2 5.5l0.3 2.5l0.2 6.8l0.2-3.8l0.3 11.5l0.2-2.7l0.2 3.6l0.3-1.4l0.2 4.7l0.2 12.9l0.3-8.9l0.2 0.8l0.3 3.6l0.2-1.4l0.2-1.3l0.3-15.6l0.2 15.7l0.2-15.1l0.3 7.7l0.2 12.7l0.2-4.3l0.3 15.7l0.2 4.6l0.2 5.9l0.3-11l0.2-2.1l0.2 9.9l0.3 1.4l0.2 32.1l0.2 18.5l0.3-18.1l0.2-25.4l0.3-14.4l0.2-6.5l0.2-6.4l0.3-27.6l0.2 14.7l0.2 14l0.3 5.1l0.2 12.4l0.2-11.9l0.3 12l0.2-3.4l0.2-11.9l0.3 7.5l0.2-6.2l0.2-12.9l0.3-9.5l0.2 3.1l0.2 17.9l0.3 15.5l0.2 0l0.3-1.9l0.2 1.9l0.2 0l0.3 0l0.2 0l0.2-2.8l0.3 2.9l0.2 0.2l0.2 0.2l0.3 0.3l0.2 0.2l0.2 0.2l0.3-0.2l0.2-0.2l0.2-0.2l0.3-0.2l0.2-0.2l0.2 0l0.3-0.6l0.2 0.6l0.3-23.8l0.2 6.6l0.2-0.8l0.3-0.2l0.2 18.3l0.2-21.1l0.3 21.1l0.2-20.4l0.2 20.4l0.3-21.3l0.2-2l0.2-2.6l0.3 5.9l0.2-38.1l0.2-5.5l0.3-27.9l0.2-13.7l0.2-12.6l0.3 17.2l0.2 7.7l0.3 19.4l0.2 17.1l0.2 34.8l0.3-8.6l0.2 6.8l0.2 22.7l0.3-1l0.2 5.9l0.2 3.5l0.3-3.3l0.2-15.8l0.2-3.5l0.3-19.5l0.2-1.1l0.2-13.3l0.3 21.3l0.2 9l0.2-10.8l0.3 9.4l0.2 26.4l0.3 6.8l0.2 15.9l0.2 8.2l0.3 11l0.2-14.9l0.2-15.9l0.3-18.5l0.2-43.6l0.2-15.5l0.3-3.1l0.2 8.8l0.2 10.4l0.3-4.8l0.2 25.7l0.2-5.1l0.3 1.3l0.2 8.2l0.2 10l0.3-6.5l0.2-1.7l0.3-0.2l0.2-25.5l0.2 18.5l0.3-1.4l0.2-11.2l0.2 11.3l0.3 7.3l0.2-8.5l0.2-9.6l0.3 26.9l0.2 7.7l0.2-4.1l0.3-4.8l0.2 2.3l0.2-2.2l0.3-4.4l0.2-6.4l0.2 0.2l0.3 16.8l0.2-5.5l0.3-29.7l0.2-15.6l0.2 36.7l0.3-36.7l0.2 16.7l0.2 5.4l0.3 14.1l0.2-11.2l0.2 1.5l0.3-11.8l0.2 19.9l0.2-12.6l0.3 28.9l0.2-17.1l0.2-7.5l0.3 7.5l0.2 3.4l0.2 6.1l0.3-12.3l0.2 1.5l0.3 7.8l0.2 4.2l0.2 10.2l0.3 1.6l0.2 3.2l0.2 8.4l0.3 6.8l0.2-12.5l0.2-17.3l0.3-14.9l0.2-14.8l0.2-14.9l0.3 16.5l0.2 19.2l0.2 1.8l0.3-3l0.2-15l0.2-3.3l0.3 18.4l0.2 3.5l0.3-32.2l0.2 13.7l0.2-19.5l0.3 21.2l0.2-13.1l0.2 16.3l0.3-18.1l0.2 45.2l0.2 33.8l0.3 32.8l0.2-24.3l0.2-35.1l0.3-31.3l0.2-4.5l0.2-15.5l0.3-7.2l0.2 14.8l0.2 2.3l0.3-5.2l0.2-2.5l0.3 15.8l0.2-10.5l0.2 23.1l0.3-18.4l0.2 1l0.2-4.4l0.3 21.9l0.2-10.7l0.2-0.7l0.3 25l0.2 7.2l0.2 7.4l0.3-9l0.2-7.7l0.2-22.9l0.3-13.1l0.2-4l0.2-5.8l0.3 9.7l0.2-13.1l0.3 13.1l0.2-11.6l0.2-1.4l0.3 24.3l0.2-17.8l0.2-6.5l0.3 0l0.2 0l0.2 25.4l0.3-25.4l0.2 31.8l0.2 10.7l0.3-11.6l0.2-11.9l0.2 13.7l0.3-4.2l0.2 0.7l0.2 11l0.3 11.2l0.2-7.5l0.3-1.9l0.2 6.2l0.2-3l0.3 9.5l0.2 8.6l0.2 3.4l0.3 13l0.2 9.8l0.2 12.2l0.3 23l0.2-17.4l0.2-23.8l0.3-15.5l0.2-11.8l0.2-10.7l0.3-19.6l0.2-0.2l0.2-9.5l0.3-11.4l0.2 28.8l0.3-19.1l0.2 20.6l0.2 1.5l0.3-27.4l0.2 29.4l0.2 3.7l0.3-5.3l0.2 15.8l0.2-16.3l0.3-5.4l0.2-18.2l0.2-6.4l0.3-6.4l0.2-6.4l0.2 4.3l0.3 7.7l0.2 14.9l0.2-0.7l0.3-7.3l0.2 13.4l0.3-24.4l0.2 6l0.2-7.9l0.3 0l0.2 18.4l0.2-2.5l0.3-21.1l0.2 21.1l0.2 11.7l0.3-27.9l0.2 24l0.2-3l0.3-13l0.2 10.3l0.2 4.7l0.3-11.9l0.2 11.9l0.2-13l0.3 10.2l0.2 12.1l0.3 9.9l0.2 8.7l0.2-10.3l0.3-7l0.2-13.5l0.2 2.1l0.3 1.6l0.2-24.4l0.2 0l0.3 7.1l0.2 5.5l0.2-12.4l0.3-0.4l0.2 0l0.2 0l0.3 10.6l0.2-10.7l0.2 0l0.3 15.8l0.2-12.2l0.3-2.8l0.2 10.2l0.2 36.1l0.3-21.7l0.2-14.3l0.2 7l0.3-7.9l0.2 28.9l0.2-23.4l0.3-12l0.2 6.7l0.2 18.5l0.3 1.8l0.2-2.4l0.2 7.4l0.3-1.1l0.2 7.1l0.2-19.9l0.3 13.7l0.2 12.5l0.3-6.7l0.2 2.1l0.2 1.2l0.3-1.7l0.2 2.1l0.2 1.9l0.3-1.9l0.2 3.5l0.2-8.2l0.3 2.9l0.2-26.8l0.2 27.5l0.3 3.4l0.2 3.8l0.2-15.7l0.3 9.9l0.2 6.5l0.2-2.2l0.3-9.6l0.2-13l0.3 4l0.2-16.1l0.2 14l0.3-13.6l0.2 22.5l0.2-20.9l0.3 4.3l0.2 20.5l0.2-14.1l0.3 23.2l0.2 0.1l0.2 6.3l0.3-26.4l0.2-25.6l0.2-27.2l0.3-16.7l0.2-12.7l0.2 13.4l0.3 19.1l0.2 11.3l0.3 4.4l0.2 3.8l0.2 16.3l0.3-13.4l0.2 10.9l0.2-5l0.3 19l0.2-4.8l0.2 3.9l0.3-17.3l0.2-11.4l0.2 22.8l0.3-1.7l0.2-7.4l0.2 27.6l0.3-16.8l0.2-4.5l0.2-9.2l0.3 31.1l0.2-9.2l0.3 6l0.2-26.1l0.2 21.6l0.3-15.6l0.2 12.8l0.2 24.1l0.3 12.5l0.2 14.8l0.2-11.4l0.3-16.5l0.2 1.3l0.2-12.9l0.3-23.5l0.2 14.7l0.2-10.6l0.3 4.2l0.2-4.2l0.2 23.9l0.3-19.2l0.2-22.4l0.3 8.8l0.2-7.9l0.2-15.5l0.3-8.4l0.2 5.3l0.2 5.8l0.3 26.2l0.2-14.8l0.2 8.9l0.3 0.1l0.2 3.6l0.2 4.8l0.3 2.8l0.2-11.2l0.2 18.7l0.3-33.4l0.2 11.8l0.2 14.6l0.3 17.5l0.2-25.3l0.3 27.5l0.2-4.3l0.2-11.2l0.3 15.3l0.2-0.1l0.2 0l0.3-0.1l0.2-0.1l0.2 0l0.3-0.1l0.2-0.1l0.2 7.3l0.3 6l0.2 8.8l0.2 6.6l0.3 8.2l0.2-13l0.2-14.6l0.3-5.3l0.2-17.8l0.3 12.2l0.2-23.7l0.2 11.6l0.3-9.1l0.2-3l0.2 40.8l0.3 24.5l0.2 20.4l0.2 32.3l0.3 32.1l0.2-26.9l0.2-31.1l0.3-17.5l0.2-49.5l0.2-31.2l0.3 2.2l0.2 42.4l0.2 45.9l0.3 53.1l0.2 39.6l0.3 42.8l0.2-44.1l0.2-52.2l0.3-36.9l0.2-41.1l0.2-54l0.3 10.4l0.2 28.7l0.2 13.2l0.3 34.1l0.2 32.3l0.2 25.5l0.3-25.3l0.2-36.2l0.2-41.3l0.3-23.7l0.2 10.6l0.2 48.8l0.3 25.9l0.2 38.1l0.3 31.7l0.2-34.6l0.2-31.5l0.3-34.2l0.2-25.2l0.2-16.5l0.3-10.1l0.2-21.9l0.2-29.1l0.3 28.1l0.2 18.1l0.2 1.3l0.3-5.6l0.2-12.5l0.2-16l0.3 6l0.2-6.1l0.2 22l0.3 18l0.2 20.1l0.3-20.1l0.2-19.9l0.2-16.5l0.3-3.5l0.2 0l0.2 0l0.3 0l0.2 0.1l0.2 0l0.3 0l0.2 0l0.2 0l0.3 0.1l0.2 0l0.2 0l0.3 0l0.2 0l0.2 0.1l0.3 0l0.2 0l0.3 0l0.2 1.6l0.2-1.5l0.3 0l0.2 3.1l0.2-3.1l0.3 8.8l0.2 19.4l0.2 28l0.3-24.1l0.2-20.3l0.2 6.1l0.3-17.7l0.2 3.4l0.2 4.7l0.3 15.3l0.2-3l0.2-6.9l0.3 4l0.2 4.3l0.3-8l0.2-1.3l0.2-12.3l0.3 0l0.2 0l0.2 0l0.3 9l0.2 5.5l0.2-10.4l0.3 0.8l0.2 8.8l0.2 7.3l0.3-6.7l0.2 16.2l0.2 0.3l0.3-6.5l0.2-4.7l0.2-11.1l0.3 20.3l0.2-27.3l0.3 11.3l0.2-4.8l0.2 14l0.3-8.4l0.2 9.3l0.2 22.5l0.3-16.7l0.2-28.1l0.2-0.1l0.3 16.2l0.2 16.1l0.2 23.4l0.3 11.9l0.2 13.3l0.2-14.3l0.3-12.7l0.2-21.5l0.2-16.1l0.3-5.1l0.2-0.7l0.3 13.4l0.2-5.6l0.2-9.8l0.3 10.5l0.2 0.9l0.2-9l0.3 8.9l0.2-1.4l0.2-0.5l0.3-6.8l0.2-7.2l0.2 2.8l0.3 4.8l0.2 7.9l0.2 4.5l0.3 6.1l0.2-25.7l0.2-16.3l0.3-11.1l0.2 9.8l0.3 27.2l0.2-8.2l0.2 22.6l0.3-8.5l0.2-0.6l0.2-2.1l0.3-16.4l0.2 1l0.2-1l0.3 6l0.2-4l0.2-13l0.3-7.4l0.2-13.5l0.2 14.7l0.3 12.6l0.2 7.9l0.2 6.8l0.3-1.6l0.2-1.6l0.3-4l0.2 1.8l0.2-4.4l0.3 4.7l0.2-4.6l0.2 10.7l0.3 0.4l0.2-10.3l0.2 21l0.3 15.5l0.2-12.8l0.2-3.4l0.3-21l0.2 10.3l0.2-10.2l0.3 18.3l0.2-12.5l0.2-5.8l0.3 0l0.2 2l0.3 9.6l0.2 0.7l0.2-8.2l0.3 9.6l0.2-1.8l0.2-11.7l0.3 2l0.2-2l0.2 0l0.3 0.7l0.2-0.6l0.2 0l0.3 0l0.2 0l0.2 0.1l0.3 0l0.2 0l0.2 0.3l0.3 9l0.2-9.3l0.3 0.1l0.2 0l0.2 9.7l0.3 15.3l0.2 19.3l0.2 13.8l0.3 22.6l0.2 16.1l0.2-18l0.3-15.6l0.2-14.8l0.2-4.5l0.3-12.5l0.2-5.6l0.2 8l0.3-7.3l0.2-9l0.2-0.4l0.3 17.6l0.2-6.7l0.3-4.8l0.2-17.7l0.2-1.7l0.3-3.4l0.2 2.4l0.2-2.3l0.3 0l0.2 19.5l0.2 9.2l0.3 14.3l0.2 14.4l0.2 14.3l0.3-14.3l0.2-14.3l0.2-14.3l0.3-14.3l0.2-4.6l0.2 5.8l0.3 7.8l0.2 8l0.3 7.7l0.2 7.5l0.2-7.7l0.3-7.8l0.2-7.7l0.2 1l0.3-16.4l0.2 0.9l0.2 1.5l0.3-0.2l0.2-7.5l0.2 5.6l0.3 4l0.2-11.5l0.2 9.8l0.3-8.1l0.2-0.4l0.2-0.4l0.3 1.6l0.2 4.4l0.3 7.2l0.2 6.5l0.2-0.6l0.3-4.7l0.2-4.9l0.2-0.6l0.3 13.8l0.2-6.2l0.2-7l0.3-2.4l0.2 6.9l0.2 6.8l0.3-3.7l0.2-3.1l0.2 3.3l0.3-13.9l0.2-17.4l0.2-9l0.3-9.2l0.2 6.3l0.3 9.8l0.2 12.9l0.2 16.2l0.3 26.7l0.2 8.5l0.2 10.5l0.3-11.9l0.2-5.8l0.2-3.7l0.3-18.4l0.2 15.2l0.2 1.8l0.3-17l0.2-12l0.2 1.9l0.3 0.2l0.2 12.6l0.2-21.5l0.3 4.6l0.2 5.3l0.3 3.8l0.2 15.8l0.2-10.3l0.3 6.7l0.2-9.9l0.2 0.3l0.3-7.8l0.2-8.8l0.2 0l0.3 0l0.2 0l0.2 0l0.3 6.7l0.2 13.7l0.2-20.3l0.3 2.9l0.2 7l0.2-9.8l0.3 9.5l0.2 20.8l0.3-20.5l0.2 2.5l0.2 6.2l0.3-6l0.2 1.7l0.2-14.1l0.3 0l0.2 15.8l0.2 15.7l0.3 15.8l0.2 15.5l0.2-11.8l0.3-8.4l0.2-19.9l0.2 4.1l0.3-4.4l0.2 15.6l0.2 2.3l0.3 5.4l0.2 9.8l0.3-8.2l0.2-9l0.2-15.3l0.3 1.2l0.2 0.9l0.2 0.5l0.3 8.6l0.2 11l0.2 3.7l0.3 12.1l0.2 13.7l0.2-15.6l0.3-13.9l0.2-21.2l0.2-17.1l0.3 12.3l0.2 11.3l0.2-3.5l0.3-2.9l0.2 11.1l0.3-29.2l0.2 3.3l0.2 4.8l0.3-3.7l0.2 3.2l0.2 8l0.3-0.2l0.2 2.2l0.2-22l0.3 23.4l0.2-2.9l0.2-6.3l0.3-1.6l0.2 2.2l0.2-4.1l0.3 1.8l0.2-3.5l0.2 1.7l0.3 1l0.2 12.1l0.3-13.2l0.2 3.3l0.2 3.5l0.3-14.7l0.2 4.5l0.2 1.4l0.3-1l0.2 4.8l0.2 15.7l0.3-7.8l0.2 8.7l0.2 6.8l0.3 7.1l0.2-3.8l0.2-0.9l0.3-21.2l0.2-3.5l0.2-6l0.3 10.2l0.2 7.1l0.3 2.1l0.2 1.5l0.2-5.3l0.3-4.1l0.2-7.6l0.2-4.9l0.3-4.6l0.2 8.8l0.2 9.2l0.3 7.6l0.2-4l0.2-1.6l0.3-4.4l0.2 0.3l0.2 5.1l0.3 8.2l0.2 9.7l0.2 7l0.3-9.5l0.2-9.3l0.3-2.1l0.2-17.1l0.2-9.5l0.3 0l0.2 4.4l0.2-1.1l0.3 8l0.2-5l0.2-4.7l0.3 1.9l0.2 12.2l0.2-10.6l0.3 22.4l0.2-7.3l0.2 8.7l0.3-1.2l0.2 2.9l0.2-0.7l0.3 1.4l0.2 0.3l0.3 0.3l0.2-6.6l0.2-10.5l0.3 8.3l0.2-11.8l0.2-5.6l0.3 1l0.2-7l0.2-0.4l0.3 7l0.2 2l0.2-7.7l0.3 0l0.2 0l0.2 4.5l0.3-2.7l0.2 7.2l0.2 8.4l0.3 5.2l0.2-8.5l0.3-7.8l0.2 0.4l0.2 6.5l0.3 6.4l0.2-13.7l0.2-1.3l0.3 1.5l0.2 4.9l0.2-10.7l0.3 0l0.2 9.4l0.2-9.3l0.3 15.9l0.2-12l0.2-3.9l0.3 7.2l0.2-7.1l0.2 0l0.3 11.4l0.2-9.2l0.3-0.6l0.2 4l0.2-6.5l0.3-7.7l0.2 6.7l0.2 6.8l0.3 0l0.2 18.9l0.2-4.6l0.3-0.9l0.2-2.4l0.2-3.7l0.3 4.2l0.2-12.9l0.2-5l0.3 12.1l0.2 19.7l0.2-24.2l0.3 4.8l0.2-8.6l0.3 9.1l0.2 4.7l0.2 4l0.3 1.6l0.2 9.2l0.2-10.9l0.3 10.5l0.2-11.3l0.2 3.9l0.3 8.6l0.2-3.9l0.2 4.2l0.3-10.7l0.2-5.5l0.2 0.7l0.3 5.2l0.2 2l0.2-12.4l0.3-0.1l0.2 20.6l0.3-13.3l0.2 2.2l0.2 0l0.3-0.5l0.2-7.1l0.2-10.6l0.3 15l0.2-4.8l0.2-8.7l0.3 9.2l0.2 19.7l0.2 2.3l0.3-7.7l0.2 4.7l0.2 3.4l0.3-8l0.2 8.4l0.2-15.2l0.3 2.4l0.2-4.4l0.3 3l0.2 3l0.2 10.9l0.3 1.6l0.2 0.2l0.2 0.2l0.3 0.1l0.2 0.1l0.2 0l0.3 0.1l0.2-1.4l0.2 1.7l0.3-8.8l0.2 9.2l0.2-7.6l0.3-7.3l0.2 4.2l0.2-9.7l0.3 5.2l0.2-16.3l0.3-1.9l0.2 0.1l0.2 5.5l0.3-5.3l0.2 6.2l0.2 11.7l0.3-7.5l0.2-17.9l0.2-5.2l0.3-10.3l0.2-7.8l0.2-7.8l0.3 10.9l0.2 5.5l0.2 7.3l0.3 10.8l0.2 6.9l0.2-1.7l0.3 0.1l0.2 0.4l0.3 18.7l0.2-18.2l0.2 17.8l0.3 0.1l0.2 18.4l0.2 18.4l0.3 18.4l0.2 18.3l0.2-18.3l0.3-18.2l0.2-18.3l0.2 1.6l0.3 3.5l0.2 12.7l0.2-24.6l0.3-39.6l0.2 52l0.2 40.8l0.3-14.2l0.2-2.8l0.3-7.2l0.2-14.4l0.2-23l0.3 0.3l0.2 9.1l0.2-24l0.3 14.3l0.2 1.4l0.2 2.9l0.3-6.5l0.2-17.4l0.2 6l0.3 8.5l0.2-5l0.2-8.4l0.3-5.1l0.2 8l0.2 10l0.3 18.3l0.2 4.2l0.3 13.6l0.2 0.4l0.2-4.2l0.3-8.7l0.2 3.3l0.2-5.6l0.3-13.3l0.2 6.2l0.2-3.3l0.3-20.2l0.2 7.5l0.2 5.6l0.3-5.5l0.2-0.5l0.2 13.6l0.3 13.6l0.2-25.9l0.2-16.8l0.3-7.8l0.2 4.2l0.3 9.7l0.2-4.3l0.2 0l0.3 11.5l0.2 3.8l0.2-5.4l0.3-10l0.2 13.7l0.2 12.9l0.3-0.2l0.2 8.8l0.2-8.9l0.3-1.8l0.2-10l0.2 7.9l0.3-13l0.2 8.7l0.2-7.6l0.3 19.3l0.2-2.3l0.3-7.7l0.2 9.2l0.2-11.1l0.3 12.3l0.2-3l0.2 9.6l0.3 0l0.2-5.7l0.2-10.1l0.3-7.7l0.2 11.4l0.2 8.5l0.3-22.4l0.2 6.5l0.2 13.4l0.3-7.3l0.2 13.2l0.2-16.7l0.3 16.1l0.2-11.1l0.3-8.1l0.2 8.4l0.2-23.3l0.3 1.1l0.2 13.7l0.2-7.5l0.3 8.6l0.2 4l0.2-22.6l0.3 0l0.2 11.1l0.2 11l0.3-6.9l0.2 0.7l0.2 10.3l0.3 3.8l0.2-6.4l0.2 9l0.3-16.9l0.2 5.1l0.3-4l0.2 2.4l0.2 0.2l0.3 17.5l0.2-7.3l0.2 7.3l0.3-3.9l0.2 3.9l0.2-31.4l0.3 21.8l0.2-27.7l0.2 11.9l0.3 9.9l0.2 1.1l0.2-0.7l0.3 7.7l0.2 6.6l0.2 2.3l0.3-1.2l0.2 0.5l0.3-0.4l0.2-0.4l0.2-0.3l0.3-3l0.2 2.9l0.2-1.7l0.3 1.7l0.2 0l0.2-5.3l0.3 4.7l0.2 0.5l0.2-1.8l0.3-4.8l0.2-5.8l0.2 3.3l0.3 4.5l0.2-8.9l0.2 0.6l0.3-13.1l0.2-11.3l0.3 8.5l0.2 5.2l0.2 4l0.3-9.1l0.2-5.9l0.2-1.3l0.3-4.5" fill="none" stroke="#3878B6" stroke-width="3.4" stroke-linejoin="round" stroke-linecap="round"/>
</g>
<line x1="689.5" x2="695" y1="48.00" y2="48.00" stroke="#222" stroke-width="2"/>
<text transform="translate(684.4,55.50) scale(1,1.07)" class="yt">1.00</text>
<line x1="689.5" x2="695" y1="119.50" y2="119.50" stroke="#222" stroke-width="2"/>
<text transform="translate(684.4,127.00) scale(1,1.07)" class="yt">0.75</text>
<line x1="689.5" x2="695" y1="191.00" y2="191.00" stroke="#222" stroke-width="2"/>
<text transform="translate(684.4,198.50) scale(1,1.07)" class="yt">0.50</text>
<line x1="689.5" x2="695" y1="262.50" y2="262.50" stroke="#222" stroke-width="2"/>
<text transform="translate(684.4,270.00) scale(1,1.07)" class="yt">0.25</text>
<line x1="689.5" x2="695" y1="334.00" y2="334.00" stroke="#222" stroke-width="2"/>
<text transform="translate(684.4,341.50) scale(1,1.07)" class="yt">0.00</text>
<line x1="689.5" x2="695" y1="405.50" y2="405.50" stroke="#222" stroke-width="2"/>
<text transform="translate(684.4,413.00) scale(1,1.07)" class="yt">−0.25</text>
<line x1="717.25" x2="717.25" y1="413" y2="418.5" stroke="#222" stroke-width="2"/>
<text transform="translate(717.25,437.70) scale(1,1.07)" class="xt">2018</text>
<line x1="888.63" x2="888.63" y1="413" y2="418.5" stroke="#222" stroke-width="2"/>
<text transform="translate(888.63,437.70) scale(1,1.07)" class="xt">2020</text>
<line x1="1060.01" x2="1060.01" y1="413" y2="418.5" stroke="#222" stroke-width="2"/>
<text transform="translate(1060.01,437.70) scale(1,1.07)" class="xt">2022</text>
<text x="946.62" y="467.50" class="at">Date</text>
<text transform="translate(628.75,225.50) rotate(-90)" class="at">DCC</text>
<text x="954.62" y="20.50" class="ti">ETH vs Clean cryptos</text>
<rect x="700.52" y="506.30" width="35.3" height="35.2" fill="#EBECEB"/>
<line x1="704.23" x2="732.42" y1="523.90" y2="523.90" stroke="#E39E22" stroke-width="4"/>
<text x="747.32" y="531.20" class="lg">ADA</text>
<rect x="794.32" y="506.30" width="35.3" height="35.2" fill="#EBECEB"/>
<line x1="798.02" x2="826.22" y1="523.90" y2="523.90" stroke="#62B8E8" stroke-width="4"/>
<text x="840.92" y="531.20" class="lg">XRP</text>
<rect x="888.12" y="506.30" width="35.3" height="35.2" fill="#EBECEB"/>
<line x1="891.83" x2="920.02" y1="523.90" y2="523.90" stroke="#3DA872" stroke-width="4"/>
<text x="935.17" y="531.20" class="lg">MIOTA</text>
<rect x="1000.17" y="506.30" width="35.3" height="35.2" fill="#EBECEB"/>
<line x1="1003.88" x2="1032.08" y1="523.90" y2="523.90" stroke="#C874AC" stroke-width="4"/>
<text x="1046.42" y="531.20" class="lg">XLM</text>
<rect x="1092.67" y="506.30" width="35.3" height="35.2" fill="#EBECEB"/>
<line x1="1096.38" x2="1124.58" y1="523.90" y2="523.90" stroke="#3878B6" stroke-width="4"/>
<text x="1140.17" y="531.20" class="lg">NANO</text>
<rect x="80" y="614.5" width="509.75" height="372.00" fill="#EBECEB"/>
<clipPath id="cBCH"><rect x="80" y="614.5" width="509.75" height="372.00"/></clipPath>
<g clip-path="url(#cBCH)">
<line x1="80" x2="589.75" y1="661.20" y2="661.20" stroke="#F7F8F7" stroke-width="1.2"/>
<line x1="80" x2="589.75" y1="756.40" y2="756.40" stroke="#F7F8F7" stroke-width="1.2"/>
<line x1="80" x2="589.75" y1="851.60" y2="851.60" stroke="#F7F8F7" stroke-width="1.2"/>
<line x1="80" x2="589.75" y1="946.80" y2="946.80" stroke="#F7F8F7" stroke-width="1.2"/>
<line x1="189.65" x2="189.65" y1="614.5" y2="986.5" stroke="#F7F8F7" stroke-width="1.2"/>
<line x1="363.45" x2="363.45" y1="614.5" y2="986.5" stroke="#F7F8F7" stroke-width="1.2"/>
<line x1="537.25" x2="537.25" y1="614.5" y2="986.5" stroke="#F7F8F7" stroke-width="1.2"/>
<line x1="80" x2="589.75" y1="613.60" y2="613.60" stroke="#fff" stroke-width="2"/>
<line x1="80" x2="589.75" y1="708.80" y2="708.80" stroke="#fff" stroke-width="2"/>
<line x1="80" x2="589.75" y1="804.00" y2="804.00" stroke="#fff" stroke-width="2"/>
<line x1="80" x2="589.75" y1="899.20" y2="899.20" stroke="#fff" stroke-width="2"/>
<line x1="102.75" x2="102.75" y1="614.5" y2="986.5" stroke="#fff" stroke-width="2"/>
<line x1="276.55" x2="276.55" y1="614.5" y2="986.5" stroke="#fff" stroke-width="2"/>
<line x1="450.35" x2="450.35" y1="614.5" y2="986.5" stroke="#fff" stroke-width="2"/>
<path d="M102.8 703.4l0.4 1.5l0.5 1.8l0.4 2.9l0.5-2.5l0.5 5.2l0.4-1l0.5-2.4l0.5-9.4l0.4 4.3l0.5 3l0.5 7.5l0.4-3.3l0.5-3.2l0.5 0.5l0.4-8.4l0.5-0.7l0.5 3.6l0.4-2.4l0.5 5.4l0.4 2.2l0.5 11.5l0.5-2.6l0.4-4.2l0.5-6.3l0.5 1.5l0.4 0.7l0.5-5.8l0.5 5.7l0.4 0.7l0.5-0.9l0.5-5.3l0.4-3.3l0.5 2.9l0.5-0.8l0.4-8.5l0.5 6.3l0.5 12.1l0.4-3.2l0.5 7.3l0.4 0.3l0.5 4.1l0.5 3.2l0.4-1.9l0.5-6.8l0.5 5.1l0.4 2.7l0.5 0.1l0.5-13l0.4-2.7l0.5 4.9l0.5-2.8l0.4-9.6l0.5 4.8l0.5 3l0.4-2.3l0.5-7.9l0.5 1.7l0.4 2l0.5 0.6l0.4 2l0.5-0.8l0.5-3.1l0.4-4.9l0.5-3.3l0.5 2.5l0.4 1.1l0.5 14.5l0.5 20.6l0.4-20.9l0.5-19.8l0.5 6.6l0.4 6.9l0.5 10.4l0.5 4.1l0.4-2.3l0.5 3.2l0.5-5.4l0.4 2.5l0.5-9.8l0.4-8.4l0.5-18.4l0.5-12.7l0.4 10.6l0.5 11.1l0.5 9.7l0.4 5.6l0.5 3.7l0.5-7.3l0.4-7.1l0.5-5l0.5 6.9l0.4-5.9l0.5-7.7l0.5 3.6l0.4-7.7l0.5-2.4l0.4 0.6l0.5 0.1l0.5 10.5l0.4 3.3l0.5-2.7l0.5 4.2l0.4-7.4l0.5-5.8l0.5-0.4l0.4 0.6l0.5 1.6l0.5 0.7l0.4 1.1l0.5 13.8l0.5 3.2l0.4 6.1l0.5 5.3l0.5 0.9l0.4-0.4l0.5-7l0.4-4l0.5-3.3l0.5 1.6l0.4 2l0.5 2.6l0.5 5.8l0.4 2.5l0.5-1.8l0.5-4.2l0.4-10.2l0.5-4.3l0.5-3l0.4 6.2l0.5 4.9l0.5-1.9l0.4 14.9l0.5 2.6l0.5 3.1l0.4 1.1l0.5-6.4l0.4-1.6l0.5-1.8l0.5-4.9l0.4 2.4l0.5-2.7l0.5 4.1l0.4 6.1l0.5 3.9l0.5 1.9l0.4 0.1l0.5-4.8l0.5-13.5l0.4-5.5l0.5 9.8l0.5 1.9l0.4 6.3l0.5 2.6l0.5-1.1l0.4-6.2l0.5-6.2l0.4 5.2l0.5-4.6l0.5-6.5l0.4-5.7l0.5 1.3l0.5-1.2l0.4 2.9l0.5 3.8l0.5 0.9l0.4 4.4l0.5 2.5l0.5 11.9l0.4 11.8l0.5 6.2l0.5-7.6l0.4-6.4l0.5-4.5l0.5-0.4l0.4-4.2l0.5-3.7l0.4-6.5l0.5 0.1l0.5 0.1l0.4 5.1l0.5-1.7l0.5 1.9l0.4-4.1l0.5 0.4l0.5-6l0.4-3.8l0.5-2.1l0.5-4.2l0.4 4l0.5-1.5l0.5 1.5l0.4-5.5l0.5 0l0.4 12.3l0.5 0.1l0.5 3.9l0.4-4.1l0.5 3.8l0.5-8.5l0.4-0.5l0.5 3.9l0.5-3.6l0.4-1.7l0.5 5.9l0.5-4.2l0.4-10.1l0.5 8.9l0.5-8.5l0.4-4.8l0.5 11.8l0.5-0.3l0.4 2.3l0.5-7.7l0.4 4.2l0.5 0.5l0.5-6.4l0.4-2.1l0.5 1.8l0.5 3.2l0.4 13.3l0.5 7.8l0.5 12.7l0.4-17.3l0.5-13.8l0.5-17l0.4 8.8l0.5 6.3l0.5 1.3l0.4 4l0.5-4.6l0.5 9.3l0.4 0l0.5-2.8l0.4 5.2l0.5 6.4l0.5 2.4l0.4 1.8l0.5-6.8l0.5-6l0.4 1.8l0.5-0.9l0.5-9.1l0.4 2.3l0.5 4.3l0.5-5.5l0.4 3.3l0.5 9.9l0.5-3.3l0.4-2.5l0.5-0.6l0.5 2.6l0.4 1.7l0.5-0.8l0.4 4.8l0.5-2.4l0.5-5.7l0.4 1.8l0.5 3.9l0.5 3.3l0.4 6l0.5-5.5l0.5-2.7l0.4 1.3l0.5 0l0.5-0.6l0.4-7.6l0.5-2.1l0.5-4.4l0.4-1.6l0.5 5.3l0.5-4.1l0.4-8.3l0.5 3.8l0.4 4l0.5 6.2l0.5 10.6l0.4 2.6l0.5-7.5l0.5-5.6l0.4-1.9l0.5 10.8l0.5-11.1l0.4-12.1l0.5 13.2l0.5 21l0.4 2.6l0.5-2.4l0.5 3.6l0.4-2.1l0.5 1.2l0.4-7.6l0.5-10.8l0.5-7.5l0.4 15.8l0.5 11.5l0.5-5.3l0.4-10.6l0.5 1.8l0.5 1.9l0.4-1.1l0.5-4.2l0.5-1.2l0.4 4.8l0.5-1.2l0.5 5.9l0.4-4.4l0.5 7.6l0.5 20.1l0.4-17l0.5-16.3l0.4 9.8l0.5-14.8l0.5-1.3l0.4 10.3l0.5-2.6l0.5-4l0.4-5.2l0.5 2.4l0.5-18.1l0.4-9.6l0.5-23.5l0.5-8.5l0.4 4.1l0.5-0.6l0.5 20.4l0.4 21.3l0.5-18.3l0.5-7l0.4 15.3l0.5 12.2l0.4-7.9l0.5 1l0.5 0.5l0.4 0.1l0.5-0.4l0.5 12.9l0.4 5l0.5 7.1l0.5-4.4l0.4 2.5l0.5-3.4l0.5-0.9l0.4-1.9l0.5 6.9l0.5 4.8l0.4 0.2l0.5 2.7l0.5-1.2l0.4 5.6l0.5 3.8l0.4 5.5l0.5-3.8l0.5-6.7l0.4-4.6l0.5 6.2l0.5-5.6l0.4-1.4l0.5-1.4l0.5-0.4l0.4 0.7l0.5 0.4l0.5 6.6l0.4 2.4l0.5 8l0.5-5.2l0.4-7.6l0.5-3.6l0.4-3l0.5-4.3l0.5-4.7l0.4-4.2l0.5 1.8l0.5 4.6l0.4 7.2l0.5 7.4l0.5 5l0.4-7l0.5-6l0.5-2.1l0.4-6.8l0.5-2.8l0.5-1.3l0.4-0.7l0.5 1l0.5 0.8l0.4-2.2l0.5-9.9l0.4-9.3l0.5 9.4l0.5 3.1l0.4-4.9l0.5-5.8l0.5 7.3l0.4 6.9l0.5-3.5l0.5 9.1l0.4-1.3l0.5 2.5l0.5 2.3l0.4-2.8l0.5-2.6l0.5 3.6l0.4-18l0.5-7.8l0.5-11.7l0.4 4.7l0.5-5.3l0.4-4.3l0.5-6.1l0.5-1.4l0.4-9.8l0.5-1.4l0.5-0.6l0.4 1.2l0.5 16.7l0.5-2l0.4 1.1l0.5 6.1l0.5 10.3l0.4 10l0.5 3.1l0.5 7.2l0.4-3.1l0.5-0.9l0.5 2.9l0.4 3.7l0.5-2.3l0.4-11.6l0.5-5.6l0.5-11.8l0.4 11.6l0.5 9.2l0.5 6l0.4 11.4l0.5 8.2l0.5-2.9l0.4 7.4l0.5 7.2l0.5 6.8l0.4 0.3l0.5 7.6l0.5-1.9l0.4 4.7l0.5 6.6l0.5 8.3l0.4-8l0.5 0.8l0.4-6.4l0.5-2l0.5 7.3l0.4-5.6l0.5 13.1l0.5-3.3l0.4 8.3l0.5-5.2l0.5-6.7l0.4 2.1l0.5-2.2l0.5 1.5l0.4 5.9l0.5-3.9l0.5-10.4l0.4-4.8l0.5-4.8l0.4 3.8l0.5 0.4l0.5-3.8l0.4-8l0.5 13l0.5 8.6l0.4-1.7l0.5 0.3l0.5-0.9l0.4-1.8l0.5-10.8l0.5 0.8l0.4 5.8l0.5 4.2l0.5-1.4l0.4-2.7l0.5-6.1l0.5 6.7l0.4-6.3l0.5-6.3l0.4 2.9l0.5 2.9l0.5 0.1l0.4-5.4l0.5-0.1l0.5-5.4l0.4-7.3l0.5-8.7l0.5 5.2l0.4 7.5l0.5 13.6l0.5 5.3l0.4-3.2l0.5-4.5l0.5-4.9l0.4-4.5l0.5 11.9l0.5 4.1l0.4 2.9l0.5-4.7l0.4-3.6l0.5-1.6l0.5 3.2l0.4 1.9l0.5-1.1l0.5-10.2l0.4 5.3l0.5-2l0.5-5.7l0.4 1.1l0.5-2l0.5 2.3l0.4-8.6l0.5 2.7l0.5 5.3l0.4-1.8l0.5-4.5l0.5-11l0.4 7.4l0.5-8.1l0.4-3.3l0.5-7.6l0.5-4.5l0.4 6.3l0.5 4.8l0.5-10.2l0.4-6.4l0.5 16.8l0.5 27l0.4 9.4l0.5-10.1l0.5-13.8l0.4-8l0.5-13.4l0.5-0.7l0.4-4l0.5 11.9l0.5 0.3l0.4 0.8l0.5-1.1l0.4-2.3l0.5-0.7l0.5-1.8l0.4 3.6l0.5-2l0.5 5l0.4-3.4l0.5 2.1l0.5-5.9l0.4-9.6l0.5-5.4l0.5 3.8l0.4 0l0.5 7.7l0.5-0.1l0.4 4.3l0.5-3l0.4-5.5l0.5 0.1l0.5-8l0.4-0.5l0.5 6.1l0.5 6.6l0.4-8.7l0.5-8.9l0.5 9.7l0.4 4.1l0.5 16.7l0.5-2.4l0.4-2.1l0.5 4.5l0.5 2.3l0.4 0.7l0.5-8.2l0.5 2.6l0.4 14.2l0.5 15.3l0.4-16.9l0.5-10.3l0.5-8.4l0.4 54.8l0.5 55.5l0.5 53.4l0.4-51.2l0.5-45.9l0.5-64.2l0.4-8.3l0.5-8.4l0.5 6.7l0.4 7.9l0.5 2.7l0.5 54.8l0.4 59.3l0.5 62.3l0.5-58.1l0.4-57.5l0.5-50.8l0.4 7.1l0.5 6.8l0.5 4.2l0.4-7.7l0.5-12.9l0.5-10.1l0.4 9.2l0.5 0.6l0.5 3.5l0.4-7.7l0.5 7.1l0.5 3.9l0.4-4.8l0.5-1.5l0.5-1.3l0.4-7.4l0.5 7.5l0.5 19.7l0.4 23.2l0.5-13l0.4-14.8l0.5 2l0.5 1.5l0.4-2.4l0.5-2l0.5-2.9l0.4-0.6l0.5-6.4l0.5-3.3l0.4-3.8l0.5 1.1l0.5-7.3l0.4 6.2l0.5 12.7l0.5-2.3l0.4-1.2l0.5-3.7l0.5 3.7l0.4 2.5l0.5 0.2l0.4-0.7l0.5-8.2l0.5 3.6l0.4-1.5l0.5 4l0.5-3.8l0.4-1.8l0.5 1.9l0.5-6.8l0.4 0.1l0.5-9.7l0.5-8.3l0.4-5.6l0.5-2.5l0.5 5.2l0.4 10l0.5-14.1l0.4 8.1l0.5-2.6l0.5-3.8l0.4 2.6l0.5 3.9l0.5 0l0.4-0.9l0.5-10.2l0.5 20.3l0.4 29l0.5-10.2l0.5-12.5l0.4-2.1l0.5-5.4l0.5-0.7l0.4 1.6l0.5 8.6l0.5-1.8l0.4-8.5l0.5 9.5l0.4 1.1l0.5-2.2l0.5-8.3l0.4 2.8l0.5-3.6l0.5-3.2l0.4-1.1l0.5-1.8l0.5-2.7l0.4 9.1l0.5-9.7l0.5 5l0.4 7l0.5 0.5l0.5-3.4l0.4-10.9l0.5 4.7l0.5-2l0.4 3.5l0.5-1.7l0.4 3.8l0.5 0.2l0.5 8.5l0.4 2.5l0.5 3.7l0.5-9l0.4-0.4l0.5 2.4l0.5-4.4l0.4-5.6l0.5 7.1l0.5-3.1l0.4 7.7l0.5-5.6l0.5 5.9l0.4 4.7l0.5 0.4l0.5-3.2l0.4 3.6l0.5 0.9l0.4 5.8l0.5-2.5l0.5 3.7l0.4-0.2l0.5 0l0.5-0.1l0.4 5.6l0.5-7.8l0.5-6l0.4-6.1l0.5 0.1l0.5-4.4l0.4 5.7l0.5-0.6l0.5-4l0.4-0.6l0.5 1.6l0.4 4.1l0.5-5.3l0.5 7.4l0.4 5l0.5-2.9l0.5-6.7l0.4 0.8l0.5-6.7l0.5 0.1l0.4 0.7l0.5 3l0.5-0.6l0.4-0.2l0.5 2.2l0.5-5.2l0.4 9.4l0.5 4.2l0.5 3.3l0.4 3.9l0.5 3.5l0.4-3l0.5-1.3l0.5-1.3l0.4 5.3l0.5 1.4l0.5 6l0.4 1.1l0.5-0.9l0.5-4.5l0.4 1.3l0.5-3.4l0.5 1.6l0.4-1.9l0.5 4.8l0.5-6.7l0.4 3.2l0.5 4.9l0.5 4.8l0.4 9.1l0.5-5.1l0.4-10.6l0.5-1.8l0.5-2.9l0.4-11.1l0.5-13.3l0.5 10.4l0.4 6.8l0.5 13l0.5 2.3l0.4-7.2l0.5-5l0.5-0.1l0.4 8.4l0.5-4.6l0.5 8.5l0.4-7.2l0.5-7.9l0.5-2.3l0.4 16.3l0.5 9l0.4 10.1l0.5 13.8l0.5-11.3l0.4-13.6l0.5-12.7l0.5-19.7l0.4 16.1l0.5-0.1l0.5-5.3l0.4 4.3l0.5-2l0.5-5.9l0.4-12.8l0.5-1.7l0.5-7.4l0.4 10.2l0.5-2.1l0.5 10.7l0.4 2.6l0.5-6.3l0.4 11.4l0.5-0.3l0.5 8.5l0.4 0.2l0.5-6.3l0.5-1.5l0.4-2l0.5 3.7l0.5-1.6l0.4 4.4l0.5-3l0.5-3.5l0.4-4.8l0.5-0.6l0.5-0.3l0.4 7.4l0.5 2.7l0.4 6.3l0.5 10.6l0.5 5.4l0.4-13.5l0.5 7l0.5 2.8l0.4-8.4l0.5-9.7l0.5-11.7l0.4-0.1l0.5-0.2l0.5-4.2l0.4-9.7l0.5-2.3l0.5 6l0.4 1.6l0.5 1.2l0.5-10l0.4 0.3l0.5 0.2l0.4-2.8l0.5 1.5l0.5 6.3l0.4 3.4l0.5-1.4l0.5-1.1l0.4 4.1l0.5 7.5l0.5-4.6l0.4 8.1l0.5 0.9l0.5 5.4l0.4 7.7l0.5 6.2l0.5 10.4l0.4-10.3l0.5-6.8l0.5-7l0.4-1.6l0.5 7.8l0.4 4l0.5 4.1l0.5-1.3l0.4-2.8l0.5-0.8l0.5-1.1l0.4 2.9l0.5 0.4l0.5-2.3l0.4-3.2l0.5-1.8l0.5-5.7l0.4 1.1l0.5 4l0.5-1.9l0.4-0.3l0.5-5.1l0.5 6.8l0.4 6.7l0.5-7.5l0.4-2.2l0.5 6.8l0.5 4.1l0.4 2.5l0.5-2.7l0.5-2.1l0.4 7.2l0.5 1.6l0.5 8.3l0.4-9l0.5-8.8l0.5 5.8l0.4 0.4l0.5-2.5l0.5-4.6l0.4 1.5l0.5 14.6l0.5-11.2l0.4-8l0.5-0.2l0.4-0.8l0.5 1l0.5 6.2l0.4 9.7l0.5 1.7l0.5-9.6l0.4 7.3l0.5 5.3l0.5-6.2l0.4-5.8l0.5 0.7l0.5-1.4l0.4-2.6l0.5-8.4l0.5-2.2l0.4-0.8l0.5-4.3l0.4-0.3l0.5 4.5l0.5-1.3l0.4 10.1l0.5 10l0.5-9.8l0.4-9.9l0.5 0.4l0.5 10.1l0.4 8.4l0.5-0.9l0.5 6.6l0.4 12.4l0.5 6.2l0.5 4.6l0.4-4.7l0.5-6.6l0.5-4.3l0.4-5.6l0.5-9.9l0.4-1.8l0.5 0.8l0.5 4.5l0.4-4.7l0.5-11.7l0.5 6.6l0.4 1l0.5-1.3l0.5-3.2l0.4-2.4l0.5 2.7l0.5-7.7l0.4-3.7l0.5 10.4l0.5 4.6l0.4 1l0.5-1l0.5-0.7l0.4 0.5l0.5 0.6l0.4 0.8l0.5 4.9l0.5 3.4l0.4 3.2l0.5-3.9l0.5-4l0.4 0.6l0.5 8l0.5-11.2l0.4 1.4l0.5 12.1l0.5 8.4l0.4-13.2l0.5-3.3l0.5-9.1l0.4 4.6l0.5-5.1l0.5 4.6l0.4 5.1l0.5-0.8l0.4-3.7l0.5 0.7l0.5 4.6l0.4 1.9l0.5-6.1l0.5-6.9l0.4 0.4l0.5-4.4l0.5-4.1l0.4 0.2" fill="none" stroke="#E39E22" stroke-width="3.4" stroke-linejoin="round" stroke-linecap="round"/>
<path d="M102.8 757.2l0.4 32.3l0.5 29.1l0.4 34.9l0.5 24.3l0.5 7.6l0.4-29.7l0.5-23.4l0.5-23.4l0.4-14.4l0.5-30.7l0.5-31.2l0.4-13l0.5-7.4l0.5 2.3l0.4 0l0.5-3.5l0.5-1.5l0.4-6.3l0.5 12.4l0.4-3.9l0.5 3.7l0.5 0.8l0.4 0.9l0.5-5.2l0.5 6.9l0.4-0.7l0.5-2.8l0.5-0.2l0.4-6.6l0.5 0.9l0.5 6.8l0.4 6.1l0.5-1.1l0.5 0l0.4-2.2l0.5 2.8l0.5-3.1l0.4 5.3l0.5 0l0.4-2.7l0.5-8.8l0.5 0.6l0.4 2.9l0.5-5.8l0.5-6.3l0.4 1.7l0.5-3.1l0.5 9.2l0.4-9.7l0.5 1.9l0.5-4l0.4 6.2l0.5 1.4l0.5 6.5l0.4-12.7l0.5-6.6l0.5-1.3l0.4-3.2l0.5 0.1l0.4-6.1l0.5 0.8l0.5-0.1l0.4 9.4l0.5-3.5l0.5-1.7l0.4 2l0.5 2.6l0.5-5.6l0.4 0.8l0.5-6l0.5-5.1l0.4-5l0.5 5.1l0.5 4l0.4 6.4l0.5-2.7l0.5-9.8l0.4-7.9l0.5 2.3l0.4-0.7l0.5-0.5l0.5 0.8l0.4-7.7l0.5-14.8l0.5 14.1l0.4 12.5l0.5-2.7l0.5-3.9l0.4-3.2l0.5 3.2l0.5 4.9l0.4 4.3l0.5 1.2l0.5-0.5l0.4-0.4l0.5-3.7l0.4 0.3l0.5-3.1l0.5-6l0.4-4.6l0.5-5.8l0.5 7.5l0.4-1.5l0.5 9.2l0.5-12.2l0.4-1.2l0.5 2.5l0.5-4.5l0.4-3l0.5-1.4l0.5 3.3l0.4 11.4l0.5 3.6l0.5-7.2l0.4 0.2l0.5-0.1l0.4 0.9l0.5 13l0.5 2.7l0.4-0.3l0.5 3.4l0.5 4.6l0.4 5.3l0.5-1.9l0.5 3l0.4-1.8l0.5-3.8l0.5-7l0.4-9.5l0.5 4.4l0.5-6.1l0.4-3.9l0.5 5.5l0.5-1.2l0.4 4.5l0.5-10.7l0.4 9.3l0.5 0.2l0.5-5l0.4 3.1l0.5 8.4l0.5 6.5l0.4 4l0.5-10.9l0.5-8.2l0.4 2.2l0.5 12.7l0.5-4.6l0.4-5l0.5-4.6l0.5 3.7l0.4 5.2l0.5 1.7l0.5 6.3l0.4 2l0.5 0.3l0.4-3.4l0.5-2l0.5-3l0.4 2l0.5 5l0.5 9.7l0.4-4.2l0.5 7.3l0.5-4.3l0.4-3.3l0.5-3.2l0.5-5l0.4-1.7l0.5 2.4l0.5 5.3l0.4 7.3l0.5 0.6l0.5-11.6l0.4-9l0.5 15.2l0.4 21l0.5-9.4l0.5 1.4l0.4-0.7l0.5 3l0.5-7.3l0.4-7l0.5-3.7l0.5 3.6l0.4 7.7l0.5 13.7l0.5-1.7l0.4 0.2l0.5-3.3l0.5 5l0.4-0.8l0.5-2.1l0.4-5.2l0.5 3.6l0.5-1.3l0.4-13l0.5 2.1l0.5 4.9l0.4-0.5l0.5 6.8l0.5-2.1l0.4 1.3l0.5 3.7l0.5 0l0.4-3.4l0.5-1.4l0.5 0.6l0.4-10.5l0.5 8.7l0.5-5l0.4 2.2l0.5-10l0.4-4.1l0.5 0.9l0.5 7.8l0.4 3.5l0.5-3.9l0.5 4.8l0.4-0.1l0.5 2.7l0.5-1.2l0.4 5.9l0.5-1.6l0.5-0.5l0.4-0.1l0.5-1.8l0.5-3.9l0.4 3.4l0.5 6.3l0.5 2.2l0.4-7.2l0.5 7.1l0.4 5.2l0.5 0.9l0.5 3l0.4-6.3l0.5 0.5l0.5 4.8l0.4 12.7l0.5-1.9l0.5-7l0.4-2.9l0.5-4.2l0.5-12.5l0.4-13.3l0.5 13.2l0.5 12.4l0.4-6.5l0.5-0.7l0.5-1.8l0.4 6.9l0.5 1.9l0.4-5.3l0.5-0.8l0.5 7.8l0.4-2.2l0.5 0l0.5-3.3l0.4 6.5l0.5 4.4l0.5-17.5l0.4-3.5l0.5-1.4l0.5 6.2l0.4 2l0.5-7l0.5-0.3l0.4-0.1l0.5 4.6l0.5-4.4l0.4-4.6l0.5-8l0.4 3.1l0.5-3.3l0.5 3.9l0.4 2.2l0.5 11.9l0.5-6.3l0.4 4l0.5-0.9l0.5 4.5l0.4 1.8l0.5 4.1l0.5 5.7l0.4-8.7l0.5-10.2l0.5-3.2l0.4-4.7l0.5-0.4l0.4 4.6l0.5-3.4l0.5 2.1l0.4 2.4l0.5-3.8l0.5 7l0.4-6l0.5-2.5l0.5-7.4l0.4 3.2l0.5-0.7l0.5-3.1l0.4-2.1l0.5 4.3l0.5 1.4l0.4 4.4l0.5 11.6l0.5-6.3l0.4-3.6l0.5-6.2l0.4-6.1l0.5 1.9l0.5-6l0.4 6.4l0.5 1l0.5-4.4l0.4 5.1l0.5-2.8l0.5 3.9l0.4-8.6l0.5 1.3l0.5-1.1l0.4-4.7l0.5 1.5l0.5 4.8l0.4 8.7l0.5-2.2l0.5-1.2l0.4-3.3l0.5 1.6l0.4 6.1l0.5-10.4l0.5-5.4l0.4-8.8l0.5 11.1l0.5 5.3l0.4 18.6l0.5-1.4l0.5-2.6l0.4 1.6l0.5-0.4l0.5 0.7l0.4 0.7l0.5-2.7l0.5 3.7l0.4 5l0.5 2.1l0.5 2.5l0.4-1.2l0.5-2.5l0.4-3.9l0.5-4.6l0.5 1.9l0.4-0.4l0.5 6l0.5-3.6l0.4-1.4l0.5-2.4l0.5 2.7l0.4 7.8l0.5-1.4l0.5-0.4l0.4 3l0.5 7.3l0.5-6.3l0.4-6.8l0.5 6.5l0.4-0.2l0.5 1.6l0.5 8.7l0.4-4l0.5 0.5l0.5 5.6l0.4 1.5l0.5-0.1l0.5-7.2l0.4-13.6l0.5-2.3l0.5-2.2l0.4-3.2l0.5-11.9l0.5 2l0.4 16.6l0.5-0.7l0.5-1.2l0.4-2.1l0.5-11.7l0.4 14.2l0.5-10.6l0.5-2.1l0.4 0.8l0.5 6l0.5 0.6l0.4-0.6l0.5 7.5l0.5-2.3l0.4 2.6l0.5 3l0.5 3.3l0.4-7.3l0.5-1.7l0.5 4.8l0.4-5.9l0.5-2.4l0.5-12.6l0.4-9.8l0.5-2l0.4 0.9l0.5-1.5l0.5-1.6l0.4 4.1l0.5 1.6l0.5-3.3l0.4 3.1l0.5 3.8l0.5-0.8l0.4-6.5l0.5-11.3l0.5 8.8l0.4-2.9l0.5 6.4l0.5-0.3l0.4-2.7l0.5-3.6l0.5 2.1l0.4-4.7l0.5-5.7l0.4-3l0.5-5l0.5 4.6l0.4-4.9l0.5 8.6l0.5-1l0.4-3.2l0.5 0.1l0.5-2.8l0.4 1.8l0.5 5.8l0.5 4.6l0.4 7.9l0.5-3.7l0.5-7.3l0.4-2.8l0.5 4.8l0.5-0.4l0.4 2l0.5 3.9l0.4-0.3l0.5 6.8l0.5-4.5l0.4 4.7l0.5 3.6l0.5-3.4l0.4 3.1l0.5 3.2l0.5 6.8l0.4-10.6l0.5 2.3l0.5 4.6l0.4-2.5l0.5 4.9l0.5 0.2l0.4-1.2l0.5-3l0.4-8.3l0.5-6.6l0.5 6.4l0.4-0.8l0.5-1l0.5 0.7l0.4 12.2l0.5 2.3l0.5-2.9l0.4 4.6l0.5-3.4l0.5-7.2l0.4 3.1l0.5-1.7l0.5-4.2l0.4-0.2l0.5-5.4l0.5 4.6l0.4-6.4l0.5 7.7l0.4 0.3l0.5 2.8l0.5 0.8l0.4-2.5l0.5 7.9l0.5 1l0.4 5.5l0.5-4.7l0.5-0.2l0.4 2.1l0.5 0l0.5-2.6l0.4 3.7l0.5-1.5l0.5 2.1l0.4-5.2l0.5-7.6l0.5 0l0.4 3.6l0.5-3.9l0.4 9l0.5-1.7l0.5-1l0.4-5.2l0.5 0l0.5 7.1l0.4 2.4l0.5-1.3l0.5 6.6l0.4-0.9l0.5-7.4l0.5 1.2l0.4 5.7l0.5 2.9l0.5-4.8l0.4-0.4l0.5-10.4l0.5 2l0.4 6.8l0.5-5.4l0.4-1.8l0.5 9.1l0.5-1.4l0.4 3.2l0.5-2.9l0.5 8.6l0.4 4.3l0.5 17.5l0.5 19l0.4 21l0.5 21.4l0.5 14.3l0.4 11.6l0.5-10.5l0.5 1.9l0.4 2.2l0.5 2.7l0.5-5.2l0.4 7l0.5 4.6l0.4-1.2l0.5-7.4l0.5-5.5l0.4 8.6l0.5 14.5l0.5-5.1l0.4-7.6l0.5-1.2l0.5 11.2l0.4-3.2l0.5 5.9l0.5-0.5l0.4-1.6l0.5 2l0.5 6.1l0.4 15l0.5 4.2l0.4 1.7l0.5 4.3l0.5-0.3l0.4-0.7l0.5 3.7l0.5-0.5l0.4-0.5l0.5 9l0.5-0.5l0.4-4.2l0.5-6.3l0.5 7.7l0.4 1.5l0.5 1l0.5-5.5l0.4-4.9l0.5 3.4l0.5 8l0.4 17.2l0.5-6l0.4 2.9l0.5 1.4l0.5 6.2l0.4-12.3l0.5-11.7l0.5 12l0.4 11.4l0.5-6.9l0.5-12.8l0.4-5l0.5-2.5l0.5-0.4l0.4-1.2l0.5 1.9l0.5-4l0.4 0.9l0.5-3.7l0.5-5.3l0.4-7.1l0.5-7.9l0.4-5.5l0.5-15.2l0.5-9.1l0.4-11.3l0.5-11l0.5-4.3l0.4 1.8l0.5 5.1l0.5-3.1l0.4-10.8l0.5-0.6l0.5-12.3l0.4-10.4l0.5-16.6l0.5-12.4l0.4-4.9l0.5 2.4l0.5 9.9l0.4 4.3l0.5-5.5l0.4 8l0.5-0.8l0.5-3.1l0.4 5.5l0.5-0.3l0.5-2.8l0.4-10.3l0.5 13.8l0.5 3.1l0.4-5.2l0.5-2l0.5-3.4l0.4-3.7l0.5-3.2l0.5 3.3l0.4 0.5l0.5-4.3l0.5 0.1l0.4 7.1l0.5-4.4l0.4 0.6l0.5-3.1l0.5 1.2l0.4-0.2l0.5 10.5l0.5-0.4l0.4 3.1l0.5 7.1l0.5 2.6l0.4-9.9l0.5 2.9l0.5-12.4l0.4 4.5l0.5-4.1l0.5-0.3l0.4-14.9l0.5-8.9l0.4-6.9l0.5 4.7l0.5-0.9l0.4-0.7l0.5-1.2l0.5 2.1l0.4 0l0.5 3.5l0.5 3.9l0.4-0.7l0.5-2.5l0.5 3.6l0.4-1.8l0.5-2.1l0.5-13.7l0.4-0.2l0.5 0.4l0.5-1.8l0.4-8.2l0.5 6.6l0.4-0.1l0.5 3.9l0.5-5.3l0.4-2.5l0.5-14.3l0.5-10.3l0.4-9.2l0.5 7.4l0.5 7.5l0.4 13.4l0.5 2l0.5-10.2l0.4 0.5l0.5-5.4l0.5-3.3l0.4 2.7l0.5 0.2l0.5 4.9l0.4 11.6l0.5 1.8l0.4 2.6l0.5 9.2l0.5-1l0.4-1.9l0.5-12.2l0.5 1.6l0.4 6.6l0.5-2.3l0.5 8.9l0.4-1.5l0.5 0.2l0.5 9.4l0.4-3.1l0.5-2.5l0.5-10.9l0.4 1.6l0.5-0.5l0.5-1.3l0.4-2.7l0.5 4.6l0.4-3.5l0.5 11l0.5 8.2l0.4 4.2l0.5 4.1l0.5 4.9l0.4 2.2l0.5-4.3l0.5 4.3l0.4 1.6l0.5-1.9l0.5-0.5l0.4 1.9l0.5-0.2l0.5-3.2l0.4-2l0.5-3.8l0.4-1.5l0.5 5l0.5-0.5l0.4-1.4l0.5-0.9l0.5 0.7l0.4 7.5l0.5-0.2l0.5-7.4l0.4-1.9l0.5-2.5l0.5-5.9l0.4 6.1l0.5 10l0.5 0.3l0.4-0.5l0.5-0.6l0.5-1l0.4 5.2l0.5-0.3l0.4-2.2l0.5 2.2l0.5 7.9l0.4 0.1l0.5 3.8l0.5-0.8l0.4-2.1l0.5 6.7l0.5-1.7l0.4-1.9l0.5 3.5l0.5-3.7l0.4-3.8l0.5 2.6l0.5-0.1l0.4 1.5l0.5-2.5l0.5 6.7l0.4-4.8l0.5 3.9l0.4-3.7l0.5 2.1l0.5 5l0.4-5.1l0.5-4.6l0.5-13.5l0.4 2l0.5 1.2l0.5-6.2l0.4 2.8l0.5-5.8l0.5-2.2l0.4 15.8l0.5 6.1l0.5 1.3l0.4 4.8l0.5-2.7l0.5 2.4l0.4 1.6l0.5-3l0.4 3.3l0.5-4.5l0.5-0.2l0.4-2.4l0.5-4l0.5 5.2l0.4-12.5l0.5-6.8l0.5 5.2l0.4 2l0.5 6.6l0.5 5.9l0.4 7.1l0.5-3.8l0.5-1.1l0.4 8.4l0.5-2.6l0.5-4.6l0.4-1.1l0.5-7.8l0.4-3.2l0.5-7.8l0.5 2.9l0.4-3.5l0.5 18.7l0.5-0.5l0.4-1.9l0.5 0.7l0.5-6.4l0.4 0.7l0.5 4.5l0.5 3.6l0.4 6.2l0.5 0.4l0.5-6l0.4 3.2l0.5 3.6l0.4 5.4l0.5-1.9l0.5 1l0.4 0.8l0.5-1.2l0.5-4.3l0.4 4.1l0.5-9.8l0.5 4.4l0.4-3.5l0.5 3.8l0.5 5.1l0.4-6.5l0.5-8.6l0.5 10.4l0.4-5.8l0.5-4.5l0.5 4.1l0.4 2.7l0.5 0.7l0.4 6.9l0.5-4.2l0.5 1.9l0.4 0.9l0.5-5.5l0.5 1.5l0.4-0.1l0.5 2l0.5-1.4l0.4 6.1l0.5 1.4l0.5-2.5l0.4 6.5l0.5-0.9l0.5 10.4l0.4-1.7l0.5-2.6l0.5 0.2l0.4 12.8l0.5 5.8l0.4 4.8l0.5 15.1l0.5-12.6l0.4 8.8l0.5 4l0.5-0.3l0.4 8.6l0.5 4.7l0.5-7.3l0.4-11.9l0.5-9.1l0.5 1.5l0.4 1.9l0.5-1.3l0.5-12.2l0.4 3.4l0.5-7.8l0.5 4.6l0.4-6.8l0.5-4.5l0.4 3.2l0.5-5.1l0.5-12l0.4 6.2l0.5-6.9l0.5 3.8l0.4-8.5l0.5-12.2l0.5-0.1l0.4-5.5l0.5-5.8l0.5-2l0.4-5.6l0.5 10.1l0.5-6.1l0.4 0l0.5 9.5l0.5 0.2l0.4-13.6l0.5-8.7l0.4 5l0.5-2.1l0.5 9.6l0.4-4.5l0.5 5l0.5-5l0.4-7.8l0.5-6.7l0.5 7.1l0.4 4.5l0.5 7.5l0.5-2.3l0.4-10.8l0.5-2.7l0.5 3.1l0.4 0.8l0.5-1.4l0.4-4.1l0.5 0.1l0.5 10.3l0.4 3.4l0.5-1.5l0.5 6.4l0.4 5.9l0.5-0.6l0.5 1l0.4 0.9l0.5-5.5l0.5-2.6l0.4 9.4l0.5 10.4l0.5-2.3l0.4-4.2l0.5 3.8l0.5-4.3l0.4 2.8l0.5 2.2l0.4-0.6l0.5 0.5l0.5-2.1l0.4 5.9l0.5-2.8l0.5 7.1l0.4 4.5l0.5 2.7l0.5-0.2l0.4 5.4l0.5 3.3l0.5 6.8l0.4 8.3l0.5-3.4l0.5 8.1l0.4 5l0.5 4.7l0.5 11.3l0.4 0.7l0.5 11.7l0.4 16.6l0.5 5.3l0.5 6.6l0.4 11.4l0.5 0.5l0.5 2.5l0.4 5.9l0.5-6.8l0.5-8.2l0.4-2.1l0.5-3.5l0.5-6.8l0.4-9.5l0.5 3.1l0.5-2.8l0.4-6.3l0.5-4.3l0.5-3l0.4-3.7l0.5 1.2l0.4-7.4l0.5-0.9l0.5-3l0.4-10.7l0.5-1.6l0.5 13l0.4-8.2l0.5 0.1l0.5 0.6l0.4 0.5" fill="none" stroke="#62B8E8" stroke-width="3.4" stroke-linejoin="round" stroke-linecap="round"/>
<path d="M102.8 761.6l0.4-4.8l0.5-7l0.4-8.6l0.5-7.8l0.5 2l0.4-14.2l0.5-6.5l0.5-3l0.4-16.4l0.5-18.5l0.5-13.7l0.4 6.7l0.5 5.6l0.5 11.5l0.4 4.2l0.5-0.5l0.5 7.2l0.4-5.3l0.5 7.5l0.4-0.9l0.5-3.2l0.5-4.4l0.4-1.6l0.5 2.4l0.5 1.8l0.4-0.4l0.5-0.1l0.5-5.4l0.4 12l0.5 5.7l0.5-1.2l0.4-3.8l0.5-0.8l0.5 7.8l0.4 10l0.5 7.8l0.5-2.1l0.4 2.3l0.5 4.9l0.4-1.3l0.5-1.3l0.5-8.7l0.4-3.3l0.5 11.1l0.5-7.5l0.4 7l0.5-3.5l0.5-14.1l0.4-18.7l0.5 15.3l0.5 11.2l0.4 18.2l0.5-2.5l0.5 4.6l0.4 4l0.5-19.2l0.5-2.4l0.4 4.5l0.5 1.7l0.4 4.8l0.5-8.2l0.5 5.2l0.4 3.1l0.5-0.1l0.5-9.2l0.4-8l0.5 1.7l0.5 1.3l0.4 10.5l0.5 3.4l0.5 12.8l0.4-0.7l0.5 6l0.5-6.3l0.4 0.6l0.5-11.2l0.5 33l0.4 32.1l0.5 28.2l0.4-21.5l0.5-15.3l0.5-31.5l0.4-13.3l0.5-29.1l0.5-15.1l0.4 16l0.5-1l0.5-9.1l0.4-1.2l0.5 1.4l0.5 16.7l0.4 3.7l0.5 3.5l0.5-3.7l0.4 6l0.5-8l0.4-5.3l0.5 0.3l0.5-3.2l0.4-1.7l0.5 10.8l0.5-6.4l0.4-4.9l0.5-6.3l0.5 0.1l0.4 4.9l0.5 1.1l0.5-5.3l0.4-1.4l0.5-0.4l0.5-2.5l0.4-4.5l0.5 4.9l0.5-10.1l0.4 7.4l0.5-4.6l0.4 1.3l0.5-10.6l0.5 18.1l0.4 11.8l0.5-7.2l0.5-12.2l0.4-14.3l0.5 10.1l0.5 3.9l0.4-2l0.5 11.2l0.5-2l0.4 5.7l0.5 1.2l0.5-6l0.4 4.4l0.5-7.2l0.5 4.9l0.4-9.3l0.5-6.8l0.4 4l0.5 2.1l0.5-8.5l0.4 2.3l0.5 0.6l0.5 3l0.4 2.4l0.5 8.5l0.5 1.2l0.4 1.1l0.5-9l0.5-12.4l0.4-10.7l0.5 9.4l0.5 12.4l0.4 2.5l0.5-0.5l0.5-1.2l0.4 5l0.5 3.7l0.4-8.8l0.5 8.4l0.5-13.5l0.4-4.2l0.5-8.1l0.5-4.5l0.4 73.5l0.5 88.6l0.5 80.8l0.4-80l0.5-82.3l0.5-73.8l0.4 10.2l0.5 9.1l0.5 2.6l0.4-4.5l0.5-4.8l0.5-12.8l0.4-3.3l0.5 4.5l0.4-4.7l0.5-6.6l0.5 11.8l0.4-1.2l0.5-2.5l0.5-4.6l0.4 2.1l0.5 3.9l0.5 0.6l0.4 11.7l0.5-5.1l0.5 5.1l0.4-13.1l0.5-1.8l0.5 10.5l0.4 9.5l0.5-1.6l0.4-10.8l0.5-11l0.5 3.8l0.4-2.2l0.5-1.2l0.5-2l0.4 10l0.5-1.1l0.5 0.5l0.4 4l0.5 17.4l0.5 5.5l0.4-6.8l0.5 2.4l0.5-8.9l0.4-3.4l0.5 7.4l0.5-3.9l0.4-1l0.5-7.7l0.4-0.7l0.5 7.2l0.5-7.5l0.4 8.7l0.5-13.9l0.5-1.6l0.4-0.4l0.5 1.3l0.5-5.4l0.4-1.3l0.5 4.5l0.5 9.3l0.4-12.9l0.5-10.8l0.5 11.7l0.4 21.1l0.5 0.8l0.5 9.7l0.4 8.6l0.5 1.3l0.4 0.8l0.5 2.5l0.5-13.7l0.4-1.9l0.5 6.4l0.5-1.4l0.4 1.9l0.5-1.7l0.5 0.3l0.4 5.6l0.5-14.1l0.5 3.7l0.4-8.9l0.5-3l0.5 3.2l0.4-0.4l0.5 3.3l0.5 6l0.4 5l0.5 2.6l0.4-5.2l0.5 4.8l0.5-1.8l0.4 6.7l0.5-2.9l0.5-19.5l0.4-1.4l0.5 6.6l0.5-5.1l0.4-15.7l0.5-1.6l0.5-5.7l0.4 1.5l0.5-4l0.5-0.3l0.4-10.8l0.5 18.2l0.5 22.9l0.4-18l0.5-14.1l0.4-10.9l0.5 2l0.5 14.7l0.4-12.2l0.5-0.2l0.5-5.8l0.4 10.1l0.5-7.6l0.5 7.8l0.4 4.8l0.5 3.1l0.5 6.3l0.4-7.7l0.5 6.8l0.5-4l0.4-10.2l0.5-5.6l0.4-4.7l0.5 5.9l0.5 5.9l0.4 2.8l0.5-4.2l0.5 7.5l0.4-4.3l0.5 9.3l0.5 4.7l0.4-9.3l0.5-5.7l0.5 6.2l0.4 15.9l0.5-11.8l0.5 3.4l0.4 8.9l0.5 7.7l0.5-14.6l0.4 3.5l0.5 13.9l0.4-16.6l0.5 9.3l0.5 2.8l0.4 0l0.5 7.8l0.5-5l0.4 9.1l0.5-0.8l0.5-4.8l0.4 3.7l0.5 6.9l0.5 4l0.4 5.2l0.5-3.2l0.5 1.3l0.4-1.4l0.5-7.9l0.5 2.2l0.4-8.7l0.5-9.5l0.4 4l0.5 3.2l0.5 1.8l0.4 2l0.5 7.1l0.5 8.9l0.4-13.3l0.5-4.8l0.5 3.7l0.4 9.6l0.5-14.4l0.5 7.4l0.4-3.1l0.5-4.6l0.5-5.3l0.4-2.9l0.5-6.4l0.5 0l0.4-3.2l0.5 3.5l0.4 9.8l0.5-4.4l0.5-7.2l0.4-1.7l0.5 11.5l0.5-5.1l0.4 6l0.5-0.6l0.5-8.2l0.4 4.2l0.5-12.3l0.5 2.4l0.4-11.5l0.5 2.4l0.5 7.9l0.4-10.5l0.5 12.2l0.4 5.7l0.5 0.6l0.5-7.9l0.4 1.9l0.5 8.1l0.5-3.1l0.4-0.7l0.5 5.8l0.5 3.5l0.4-6.5l0.5-4.6l0.5 0.4l0.4 5.9l0.5 4.7l0.5-9.1l0.4-2.2l0.5 13.5l0.5 16.9l0.4-3.6l0.5 0.3l0.4 1.1l0.5 3.7l0.5 2.6l0.4 6.1l0.5-11.2l0.5 4.9l0.4-0.2l0.5-13.5l0.5-4.4l0.4 2.7l0.5-12l0.5-5.2l0.4 3.7l0.5-14.2l0.5 2.1l0.4-7l0.5 8.4l0.5 2.2l0.4 0.5l0.5-16.4l0.4-15.9l0.5-21.6l0.5 14.3l0.4 5.1l0.5 0l0.5 20.3l0.4 12.6l0.5-31.9l0.5-16.8l0.4 7.9l0.5 14.4l0.5 10.6l0.4 3.3l0.5 6.2l0.5-5.3l0.4-5l0.5 5.5l0.5-6.9l0.4 4.5l0.5 6.9l0.4 5.5l0.5-10.7l0.5 8.7l0.4 15l0.5 0.1l0.5-6.6l0.4 18.1l0.5-4.7l0.5 8.3l0.4-0.6l0.5-6.1l0.5 8.5l0.4 1.8l0.5 5l0.5-11l0.4 4.2l0.5 9l0.5-6.4l0.4 3.1l0.5-2l0.4 3.3l0.5-1.7l0.5 14.6l0.4-4.2l0.5 0l0.5 1.6l0.4 9l0.5 3.2l0.5 6.3l0.4-8.7l0.5-5.7l0.5-6.3l0.4 14.5l0.5-2l0.5-7.3l0.4 5.9l0.5-0.5l0.4-6l0.5 7.4l0.5-0.4l0.4 1.9l0.5-17.4l0.5-10.3l0.4 12.3l0.5-5l0.5-6.7l0.4-3.5l0.5-0.1l0.5 15.7l0.4 14.1l0.5-11.4l0.5-14.8l0.4-11.1l0.5-2.7l0.5 6l0.4 0l0.5-3.8l0.4 62.3l0.5 55.3l0.5 50.1l0.4-36l0.5-23.7l0.5-47.3l0.4-24.5l0.5-14.8l0.5-3.3l0.4-1.7l0.5 2.4l0.5-9.2l0.4-0.3l0.5 4.1l0.5 5.6l0.4 2.5l0.5 8.4l0.5-9.5l0.4 6.1l0.5 4.3l0.4-5l0.5 16.8l0.5-4.4l0.4-1.3l0.5-9.3l0.5 8.6l0.4-11.7l0.5-16.1l0.5 3.1l0.4-4.8l0.5-8.4l0.5 15.3l0.4 7.4l0.5-6.5l0.5-10.2l0.4-0.9l0.5 11.3l0.5 4.9l0.4-0.4l0.5-1.6l0.4-13.1l0.5 4.7l0.5-3l0.4 4.9l0.5-17.4l0.5-0.6l0.4 7.1l0.5 2.1l0.5-1.2l0.4 3.9l0.5-5.2l0.5-12.9l0.4-2.5l0.5-9l0.5-6.2l0.4-9.1l0.5 16.3l0.5 5.2l0.4-0.2l0.5 2.4l0.4 3.7l0.5 3.4l0.5 3.9l0.4-4.2l0.5-2.4l0.5 3.5l0.4-3.5l0.5-11.9l0.5-18.1l0.4-6.1l0.5 6.3l0.5 16.8l0.4 6.5l0.5 1.9l0.5-8.5l0.4-9.4l0.5-8.2l0.4 7l0.5 2.3l0.5-7.5l0.4-4.6l0.5 11.5l0.5 2.4l0.4 6.6l0.5-1.9l0.5-3.3l0.4 7.1l0.5 0.9l0.5 15.2l0.4-12.7l0.5 16.5l0.5 4.5l0.4-2.1l0.5 11.6l0.5 5.2l0.4 0.1l0.5 4.1l0.4 3.5l0.5-10.3l0.5-4.3l0.4-0.8l0.5 5.6l0.5-8.6l0.4 7.8l0.5 3.7l0.5 0.6l0.4-16.2l0.5 8.9l0.5-1.8l0.4 7l0.5-9.3l0.5-11l0.4-2.9l0.5 0l0.5 11.5l0.4-2l0.5-2l0.4 4.5l0.5 13l0.5 0.2l0.4-3.6l0.5 10.8l0.5-2.7l0.4 3.2l0.5 0.9l0.5-2.4l0.4-1.4l0.5-4.3l0.5-2.5l0.4 1.4l0.5 6.6l0.5-4.4l0.4 4.5l0.5-1.7l0.5 3.8l0.4-2.7l0.5-9.5l0.4-2.9l0.5-0.3l0.5-4.2l0.4 3.2l0.5 4.9l0.5-2.2l0.4-6.5l0.5-2.4l0.5-8.9l0.4 9.6l0.5 1.3l0.5-6.4l0.4-8.9l0.5 6.1l0.5-2.2l0.4-8.5l0.5-3.6l0.5-5.8l0.4-6l0.5 3.5l0.4 4.7l0.5-5.5l0.5-11.1l0.4 5.7l0.5 2.1l0.5 2.2l0.4-2.4l0.5 2.3l0.5 8.9l0.4 12l0.5 9.4l0.5-9l0.4-2.3l0.5 2.6l0.5-12.5l0.4-17.4l0.5 8.9l0.4 9.8l0.5 6l0.5-9.1l0.4-5.3l0.5 1.6l0.5-5l0.4 0.3l0.5 15.8l0.5 10.8l0.4-0.7l0.5-6.1l0.5-0.4l0.4 1l0.5-1.9l0.5-0.7l0.4 7l0.5-3.1l0.5-1.3l0.4-0.7l0.5 3.5l0.4-1.2l0.5 7.9l0.5 2.6l0.4 10.7l0.5 6.8l0.5-8.3l0.4 32.9l0.5 28l0.5 28.3l0.4-26.6l0.5-28.8l0.5-37l0.4-9.6l0.5 14.4l0.5-10.3l0.4-10.1l0.5 1.6l0.5 8.1l0.4 8l0.5-3.8l0.4 3.3l0.5-12.9l0.5 15.3l0.4 5l0.5 2.8l0.5 7.7l0.4-2.1l0.5-5.9l0.5-4.9l0.4 6.8l0.5-2.2l0.5-15.8l0.4 10l0.5-3.3l0.5-4.6l0.4-17.2l0.5-7.8l0.5-0.7l0.4 1.5l0.5 22.1l0.4 12.6l0.5-11.8l0.5-2l0.4-4.3l0.5 1.5l0.5-4.7l0.4 6.6l0.5 6.4l0.5-5.3l0.4 3.3l0.5-5.9l0.5-0.8l0.4-3.7l0.5 14.7l0.5 18.5l0.4 14.7l0.5 12.3l0.4-12.9l0.5-10.2l0.5-10.3l0.4-14.1l0.5-4.1l0.5-0.2l0.4-4.9l0.5-11.6l0.5 30.5l0.4 38.6l0.5 35.3l0.5-29.4l0.4-30l0.5-37.2l0.5 1.4l0.4-5l0.5 0.3l0.5 9.5l0.4-5.2l0.5 12.8l0.4-4.2l0.5-0.7l0.5 0.1l0.4 1.3l0.5-0.5l0.5 12.7l0.4-8.2l0.5-0.8l0.5-0.8l0.4-4.9l0.5 0.9l0.5-0.2l0.4-0.9l0.5 3.2l0.5 3.5l0.4-4.1l0.5-1.5l0.5 0.5l0.4-15l0.5-5.2l0.4 10.6l0.5 11.7l0.5-7.1l0.4 5.6l0.5-3.2l0.5-1.2l0.4-0.8l0.5-11.9l0.5 1.3l0.4-8.9l0.5 4.6l0.5 1.9l0.4-6.4l0.5-6.7l0.5 6.4l0.4-8.5l0.5 19.3l0.5 1.6l0.4-11.6l0.5 1.1l0.4-4.4l0.5 6.2l0.5-6.3l0.4-2l0.5-2.2l0.5 2.9l0.4-8.9l0.5 0.7l0.5-5.1l0.4-2.4l0.5-1.7l0.5-8.2l0.4 5.4l0.5 7.2l0.5-13.4l0.4 18.1l0.5 20.5l0.5-11.7l0.4 1.3l0.5-0.9l0.4-6.1l0.5-0.2l0.5 7.2l0.4 8.4l0.5-11.8l0.5 6.9l0.4 15l0.5-1.5l0.5 2.3l0.4 3.3l0.5-5.3l0.5 6.1l0.4 17.6l0.5 0.8l0.5 1.9l0.4-1.6l0.5-1.2l0.4-1.3l0.5 3.2l0.5-6.7l0.4 0.2l0.5-4l0.5 3.4l0.4 4.1l0.5 3l0.5-8.8l0.4-3.8l0.5 11l0.5-10.7l0.4-1l0.5 2l0.5-9.4l0.4-1l0.5 2l0.5 10.5l0.4 1.6l0.5-2.9l0.4 7.1l0.5-1.9l0.5 1.8l0.4-4.3l0.5 9.7l0.5-0.9l0.4 7.6l0.5-6.9l0.5-5.1l0.4-6.3l0.5-1l0.5 1l0.4-1.9l0.5-2.5l0.5-3.5l0.4-8.9l0.5 4.6l0.5 1.9l0.4 6.5l0.5-3l0.4 6.2l0.5-0.9l0.5-2.3l0.4-2.3l0.5-7.3l0.5-2.3l0.4 12.4l0.5-7.5l0.5-6.2l0.4 3.3l0.5 14.6l0.5 8.1l0.4-8.6l0.5-11.7l0.5-8.7l0.4-11.9l0.5-0.8l0.5 0l0.4 3.8l0.5 4.7l0.4 5.6l0.5 6.4l0.5-9.5l0.4-1.1l0.5-7.9l0.5-11l0.4 2.7l0.5-4.5l0.5 7.1l0.4-8.7l0.5 1.6l0.5-6.9l0.4-3.4l0.5-6l0.5 8.9l0.4 8.4l0.5 7.3l0.5 0.6l0.4-16.1l0.5-0.9l0.4 9.3l0.5-0.1l0.5-5.4l0.4-3.6l0.5 12.5l0.5-1l0.4-12.6l0.5-3.1l0.5 30.1l0.4 29.6l0.5-16.9l0.5-1.4l0.4 9.2l0.5 1.8l0.5 0.3l0.4 8.7l0.5 9l0.4-4.2l0.5-3.1l0.5-2.2l0.4 7.7l0.5-10.9l0.5 19.9l0.4-4.9l0.5-10.6l0.5-11.6l0.4-11.6l0.5-4.4l0.5-3.8l0.4 8.2l0.5 10.2l0.5-3.7l0.4-1.7l0.5 6.7l0.5 6.6l0.4-12.2l0.5 7.3l0.4-18.3l0.5 0l0.5 3.9l0.4 3.4l0.5-4.3l0.5 0.3l0.4-10.3l0.5-1.1l0.5-10.1l0.4 17.2l0.5 25.2l0.5-5.9l0.4-1.8l0.5-16.8l0.5-5.1l0.4-7.6l0.5-3.3l0.5-2.2l0.4 13.6l0.5-13.1l0.4 6.4l0.5 2.1l0.5 0.6l0.4 1.2l0.5 0.9l0.5 6.1l0.4 9.3l0.5-5.4l0.5-6.3l0.4-0.5l0.5 12.4l0.5 4.2l0.4 10.3l0.5-2.3l0.5-5.5l0.4 9.1l0.5 9.2l0.5-4.5l0.4-6.7l0.5-2.7l0.4 11.8l0.5 10.1l0.5-0.3l0.4-0.1l0.5-14.9l0.5-11.1l0.4 2l0.5 17.4l0.5 7.6l0.4 6.1" fill="none" stroke="#3DA872" stroke-width="3.4" stroke-linejoin="round" stroke-linecap="round"/>
<path d="M102.8 726.7l0.4-3.9l0.5-3.7l0.4 1.5l0.5 0.5l0.5 5.1l0.4 5.1l0.5 0l0.5 7.8l0.4 3.8l0.5-3.9l0.5-4.4l0.4-6.9l0.5-3.7l0.5-3.5l0.4 16.1l0.5-1.9l0.5-0.9l0.4 0.6l0.5 1.7l0.4 2.3l0.5 7.3l0.5 2.6l0.4-10.9l0.5-5.6l0.5 6.6l0.4 9.1l0.5-0.5l0.5 0.6l0.4 2.3l0.5-4.6l0.5-7.7l0.4-8.1l0.5-14.1l0.5-2.8l0.4-1.9l0.5 0.8l0.5-0.8l0.4 0.3l0.5 5.4l0.4-4.9l0.5-9.3l0.5 2.5l0.4 3.4l0.5 2l0.5 3.4l0.4 9.8l0.5 8.3l0.5 4.8l0.4-5.7l0.5 9.5l0.5-6.6l0.4 2.5l0.5 1.5l0.5-3.6l0.4-6.2l0.5 6.3l0.5-9.8l0.4 2l0.5-7.5l0.4-5.5l0.5-16.6l0.5 9.8l0.4 14.7l0.5 5.9l0.5 6.2l0.4-5.6l0.5-7l0.5-8.7l0.4-12l0.5-4l0.5 1.1l0.4-2.7l0.5-1.2l0.5 1.6l0.4 16.1l0.5 2.2l0.5-3.1l0.4-15.3l0.5-16.1l0.4 5.1l0.5-6.3l0.5 10.4l0.4 0l0.5-6.5l0.5 8l0.4-11.1l0.5 3.1l0.5-3l0.4-0.9l0.5 14.1l0.5 15.6l0.4-2l0.5-2.3l0.5 5.7l0.4 15.5l0.5-8.6l0.4 3.5l0.5 1.9l0.5 0.4l0.4-3.3l0.5-3.3l0.5 1l0.4-6.3l0.5 5.1l0.5 2.9l0.4 11.7l0.5-1l0.5-10.2l0.4 1.9l0.5 4.6l0.5 7.4l0.4-3.5l0.5-11.7l0.5 4.8l0.4 5.7l0.5 10.4l0.4-3.4l0.5-0.7l0.5 9.4l0.4-7.3l0.5-1.1l0.5-15.7l0.4 7.1l0.5-13.7l0.5 2.7l0.4-5l0.5-2.2l0.5 4.6l0.4 4.1l0.5-1.4l0.5-2.3l0.4 2.1l0.5-13.3l0.5-7.3l0.4 6.2l0.5-5.3l0.4-9.3l0.5 0.7l0.5 3.3l0.4 17.5l0.5 2.6l0.5 5l0.4-4.1l0.5 3.4l0.5 3.9l0.4 0.6l0.5-2.4l0.5 9.8l0.4-3.7l0.5 2.6l0.5-8.8l0.4-15.5l0.5-0.7l0.5-3.3l0.4 5l0.5 3.6l0.4-8.7l0.5-4l0.5-1.9l0.4 1.7l0.5 0.1l0.5 3.7l0.4 0.2l0.5-2.8l0.5-3.7l0.4-7.9l0.5 0.1l0.5-1.1l0.4 11.5l0.5 4.7l0.5 3.1l0.4 6.5l0.5-13l0.5-10l0.4 7.3l0.5 0.1l0.4 4.4l0.5 1.2l0.5 3.3l0.4-6.6l0.5 7.3l0.5 1.6l0.4 4.4l0.5 1.2l0.5 0.3l0.4 12.3l0.5-5.2l0.5-1l0.4 3.6l0.5 1.3l0.5-11.2l0.4-10.6l0.5 7.9l0.4-6.6l0.5 0.3l0.5 4.2l0.4-6.6l0.5 1.8l0.5 4.1l0.4-8.9l0.5-11.4l0.5 11l0.4 7.8l0.5-8.9l0.5-2.5l0.4 11.7l0.5 3.5l0.5 2.6l0.4 3.2l0.5-4.2l0.5 2.8l0.4 2.4l0.5 8.1l0.4 12.2l0.5 14.9l0.5 13.5l0.4-16.4l0.5-13.1l0.5-19.4l0.4-3.3l0.5 6.4l0.5 3.8l0.4 3.9l0.5 1.7l0.5 0.8l0.4 5.3l0.5-8.7l0.5 3.7l0.4-14l0.5-4.4l0.5 11.5l0.4 10.9l0.5 6.6l0.4 7.5l0.5-8.1l0.5-5.3l0.4-2.1l0.5-10.3l0.5-3.7l0.4 1.3l0.5 21l0.5 33.6l0.4-30.6l0.5-31.6l0.5 11.9l0.4 9.9l0.5-18.4l0.5 9.3l0.4-13l0.5 3.2l0.5-0.9l0.4 1.8l0.5 1.3l0.4-0.6l0.5 11.5l0.5 3.1l0.4-0.8l0.5-13.5l0.5-8.8l0.4 0.2l0.5 12.3l0.5 2.5l0.4-4.2l0.5 3.1l0.5 0l0.4 6.7l0.5 3.4l0.5 3.4l0.4-12.7l0.5 3.4l0.5 4.4l0.4 7.7l0.5-2.2l0.4 1l0.5 7.8l0.5-13.3l0.4-5.5l0.5 1.8l0.5-9.4l0.4-15.6l0.5 1.3l0.5 1.2l0.4-10.7l0.5 17.7l0.5 2l0.4 2.2l0.5 6.4l0.5 8.2l0.4-6.8l0.5-5.5l0.4-8.3l0.5-7.4l0.5 3.1l0.4-0.1l0.5 4.3l0.5 2.3l0.4 3.2l0.5 2.2l0.5 6.6l0.4-3.1l0.5-0.6l0.5 0.3l0.4 5.1l0.5-8.8l0.5 4.5l0.4-3.4l0.5 10.6l0.5-9.4l0.4 4.6l0.5-3.5l0.4 2.1l0.5-0.1l0.5 3.7l0.4 1.4l0.5 2.1l0.5 20.1l0.4 12.7l0.5 16.9l0.5-14.6l0.4-26.7l0.5-8.2l0.5-8.9l0.4 11.1l0.5 1.2l0.5 5.1l0.4-2.3l0.5-0.9l0.5-5.7l0.4-7.4l0.5 0.2l0.4-8.9l0.5 4l0.5 11.3l0.4-6.1l0.5-10.8l0.5-9.2l0.4 8.6l0.5 11.2l0.5 0.6l0.4-0.1l0.5-4l0.5-8.7l0.4-4.3l0.5-1.1l0.5 5.8l0.4-2.6l0.5-14.2l0.5 11.5l0.4 8.1l0.5 7.8l0.4 10.6l0.5-11.2l0.5-18.8l0.4 3.9l0.5 2.4l0.5-8l0.4-1.3l0.5 9.7l0.5-7.1l0.4-1.3l0.5 3.6l0.5-4.3l0.4 0.7l0.5 15.1l0.5 3.4l0.4 7.4l0.5-3.3l0.4 6.5l0.5-5l0.5-4.5l0.4-4.4l0.5-6.5l0.5 11l0.4-6.1l0.5 2.1l0.5 7.8l0.4 12.6l0.5 5.2l0.5-11.5l0.4-4.4l0.5-0.9l0.5-19.7l0.4 4.4l0.5-3.9l0.5-1.1l0.4-3.8l0.5-2.3l0.4-0.1l0.5-9.2l0.5-3.9l0.4 6.6l0.5 10l0.5 1.6l0.4-10.4l0.5-3.6l0.5-6.7l0.4-9.8l0.5 0.3l0.5 3.9l0.4-8.2l0.5 8.1l0.5-1.3l0.4-4.3l0.5-1l0.5-1.8l0.4-6.3l0.5-5.5l0.4-7.9l0.5 1.5l0.5 9l0.4 5l0.5 12.6l0.5 2.2l0.4-0.1l0.5-1.5l0.5 9.1l0.4-12.7l0.5 0.2l0.5-0.9l0.4-0.7l0.5 4.8l0.5-9.1l0.4-0.5l0.5 20.6l0.5 11l0.4-10.6l0.5-0.6l0.4-0.7l0.5 10.3l0.5 6l0.4-4.3l0.5 4.2l0.5 2.8l0.4 1l0.5-5.8l0.5 18.7l0.4 14.8l0.5-18.8l0.5 16.7l0.4 18.2l0.5 17.3l0.5-13.1l0.4-9.6l0.5-7.1l0.5 5.6l0.4-20.6l0.5-14.5l0.4 16.7l0.5 22.4l0.5-1.8l0.4-8.8l0.5-4.7l0.5-5.6l0.4-2.1l0.5-4.2l0.5-1l0.4 5.6l0.5-0.9l0.5-2.6l0.4-9.2l0.5 8.5l0.5-14.3l0.4 1.9l0.5 1.8l0.4-0.7l0.5-12.8l0.5 1.3l0.4-5.5l0.5 8.8l0.5 1.7l0.4-4.2l0.5 9.8l0.5 13.6l0.4-2.4l0.5 7.9l0.5-1.7l0.4-9.7l0.5-7.4l0.5 3.6l0.4-8.1l0.5 21.9l0.5 23.2l0.4 30.4l0.5-29l0.4-27.5l0.5-26.9l0.5-6.8l0.4-2.4l0.5 2.8l0.5 7.6l0.4-9l0.5 9.5l0.5 6.2l0.4-3.8l0.5 6l0.5-14.7l0.4 5.2l0.5-15.5l0.5 1.9l0.4 3.4l0.5 3.7l0.5 8l0.4-4l0.5 7.9l0.4-10.3l0.5 6.3l0.5 7.3l0.4-10.9l0.5-3.4l0.5 0.1l0.4-5.5l0.5 11.4l0.5 3l0.4-0.8l0.5 9.5l0.5 6.1l0.4 2.3l0.5-7.9l0.5-7l0.4 2.7l0.5-12.6l0.5-3.3l0.4 52.1l0.5 18.1l0.4-1.9l0.5-18.8l0.5-18.7l0.4-27.4l0.5 0.6l0.5 4.5l0.4 6.1l0.5-1.6l0.5-0.1l0.4 7.9l0.5 3.3l0.5 10l0.4-1.2l0.5-4l0.5-7l0.4 0.1l0.5 14.1l0.5 2.6l0.4-13.9l0.5 5.8l0.4 0.1l0.5 0.4l0.5 0.9l0.4-0.6l0.5-5.4l0.5 12.3l0.4 0.7l0.5 1.5l0.5-12.6l0.4 7.3l0.5-1l0.5 3.7l0.4 4.5l0.5-7.5l0.5-6.7l0.4-8.8l0.5-10.1l0.4 2.7l0.5 1.1l0.5-6.9l0.4-5.4l0.5-1l0.5 12.4l0.4 1.8l0.5-2.7l0.5 11.8l0.4-15.5l0.5-4.4l0.5-6.6l0.4 1.1l0.5 5.1l0.5 14.1l0.4-1l0.5 3.1l0.5-12.8l0.4-0.7l0.5 2.5l0.4 1.5l0.5-0.6l0.5-3.6l0.4-1.1l0.5 12.6l0.5 0.1l0.4-8.4l0.5-1.5l0.5 6.5l0.4 8.3l0.5 4.1l0.5 2.9l0.4-10.9l0.5 0l0.5 3.6l0.4 4l0.5-1.8l0.5-8.8l0.4-13l0.5-4.4l0.4 3.4l0.5-5.4l0.5-2.8l0.4 3.8l0.5-0.6l0.5-3.6l0.4-7.8l0.5 11.6l0.5-0.2l0.4-1l0.5 8.3l0.5-2.8l0.4 3.3l0.5 6.7l0.5 4.7l0.4 5.2l0.5-9.3l0.5-4.5l0.4 4.2l0.5 4l0.4 5.5l0.5-12.1l0.5 2.3l0.4-8.3l0.5-6.2l0.5 1.9l0.4 7.2l0.5 3.8l0.5 4.7l0.4 12.1l0.5-15.8l0.5 2.9l0.4-10.6l0.5 7.8l0.5-1.3l0.4-6.7l0.5-0.4l0.5-10.4l0.4 0.4l0.5-4.6l0.4 5.4l0.5 11.7l0.5 6.6l0.4 3.2l0.5-7.8l0.5-0.2l0.4 0.1l0.5-4.4l0.5-2.5l0.4-5.2l0.5 9.6l0.5 10.6l0.4 14.7l0.5-11.5l0.5-6l0.4-6.5l0.5 0.6l0.4-9.6l0.5-5.5l0.5-2.6l0.4-1.4l0.5 4.1l0.5 0.8l0.4 1.1l0.5 2.6l0.5 1.2l0.4 9.2l0.5 11.7l0.5 17.5l0.4-14l0.5-2l0.5-9.9l0.4-2.7l0.5-2.5l0.5 3.9l0.4 1.4l0.5 0.4l0.4-5.1l0.5 2.2l0.5 4.3l0.4-1.1l0.5 2.2l0.5-9.8l0.4-6.8l0.5 10.2l0.5-5.3l0.4 0.4l0.5 3.6l0.5 1l0.4 9.1l0.5-7.4l0.5 1.8l0.4 5.8l0.5 1l0.5-8.7l0.4 2.1l0.5 3.4l0.4 11.2l0.5 2.6l0.5 0l0.4 7.9l0.5-0.6l0.5-15.8l0.4-7.3l0.5-3.1l0.5 8.1l0.4-0.3l0.5 12.1l0.5 13.7l0.4 9.9l0.5 7.3l0.5-7.1l0.4-8.3l0.5-30.2l0.5-16.8l0.4 12.2l0.5 15.2l0.4 4.5l0.5 10.2l0.5-8.8l0.4-5.6l0.5-5l0.5-11.4l0.4 8.9l0.5 3.3l0.5-5l0.4 11.4l0.5 19.6l0.5 21.8l0.4-23.4l0.5-20.8l0.5-24.2l0.4 18.7l0.5-3.3l0.4 3.6l0.5-13.4l0.5-5l0.4 3.3l0.5-5l0.5 2.5l0.4 1.5l0.5 1l0.5 7.5l0.4 4.7l0.5 6.3l0.5 6.1l0.4-0.4l0.5-5.8l0.5-2.3l0.4 3.6l0.5 1.9l0.5-10.5l0.4-4.5l0.5 12.8l0.4-4.6l0.5-11.5l0.5 0.3l0.4-1.8l0.5 9.3l0.5 16l0.4 7.5l0.5 3.7l0.5-2l0.4-9.4l0.5 11l0.5 20.3l0.4 12.2l0.5 13.1l0.5-12.3l0.4-9.5l0.5-15.1l0.5-18.6l0.4-5.2l0.5 9.5l0.4 4.4l0.5 0.1l0.5 5.7l0.4-6.5l0.5-11.2l0.5-16.5l0.4-9.2l0.5-6.5l0.5 8l0.4 6l0.5 7.1l0.5 4.1l0.4-9.3l0.5-16.3l0.5 4.9l0.4 4.2l0.5 3.7l0.5 3.4l0.4-11.2l0.5-0.1l0.4 8.7l0.5-4.8l0.5-18.6l0.4 9.6l0.5 2.6l0.5 0.1l0.4 15.4l0.5-1.2l0.5 11.4l0.4 6.5l0.5-6.4l0.5-14.5l0.4 3.9l0.5-12.2l0.5-10.6l0.4 0l0.5 7.8l0.5-2l0.4-0.1l0.5 0.8l0.4-11.8l0.5 6.6l0.5 14.1l0.4-1.4l0.5 4.8l0.5 7.2l0.4-7.5l0.5-12.5l0.5 24l0.4 4.7l0.5-18.6l0.5-6.5l0.4 1.2l0.5 5.5l0.5 1.4l0.4 11l0.5-5.3l0.4 3.8l0.5 3.6l0.5-2.9l0.4-0.4l0.5-2.9l0.5 4.5l0.4-8.9l0.5-17.6l0.5 25.6l0.4 17.9l0.5-8.6l0.5-14.4l0.4-9.1l0.5 12.5l0.5 1.1l0.4 5.9l0.5 2l0.5 14.9l0.4 17.7l0.5-6.5l0.4-16.4l0.5-23l0.5 14.3l0.4 12.8l0.5 1.6l0.5-6.1l0.4-8.8l0.5 8.6l0.5-9.6l0.4-0.6l0.5-10l0.5 11.4l0.4 14.6l0.5-1.3l0.5-8.1l0.4-2.5l0.5 1.6l0.5 0l0.4-10.2l0.5 4.1l0.4-13.6l0.5-3.3l0.5 17.7l0.4 3.3l0.5 0.2l0.5 4.8l0.4-8.1l0.5-6.8l0.5 6.4l0.4 5.4l0.5-2.6l0.5-20.1l0.4 0.3l0.5 27.7l0.5 16.1l0.4-11.6l0.5-12.6l0.5 2.8l0.4-4.4l0.5-5.1l0.4 6l0.5 3l0.5-9.1l0.4 3l0.5-1.4l0.5-6.7l0.4-2.3l0.5-6.6l0.5-2.2l0.4 2.4l0.5 4l0.5 1.9l0.4-16.5l0.5-18.8l0.5 18.2l0.4 12l0.5 7.1l0.5 9.3l0.4-3.5l0.5 5l0.4 13.7l0.5-4.2l0.5 12.4l0.4-8.3l0.5 16.4l0.5-4.2l0.4-1.7l0.5-7.2l0.5-4.9l0.4 3.5l0.5 10.6l0.5 2.7l0.4-11l0.5 8.6l0.5-8.1l0.4-0.8l0.5-8.7l0.4 2.5l0.5 2.4l0.5 10.3l0.4 3.7l0.5 10.7l0.5-4.1l0.4-9.2l0.5-10.8l0.5-3.8l0.4-1.6l0.5-4l0.5-9.1l0.4-2.9l0.5-11.5l0.5 12.1l0.4 12.1l0.5 18.4l0.5-13.1l0.4 2.2l0.5 9.5l0.4 0.4l0.5 0.7l0.5-4.6l0.4 1.5l0.5-1.6l0.5-1.5l0.4-7.5l0.5-5.2l0.5-1.8l0.4 11.2l0.5 3.6l0.5-0.8l0.4-3.6l0.5-8.4l0.5 5.8l0.4-7.4l0.5 2.7l0.5-6l0.4-1.4l0.5 1.7l0.4 7.6l0.5-2.4l0.5 6.6l0.4 1.4l0.5-1.1l0.5-0.2l0.4-1.3l0.5-18.8l0.5 12.7l0.4-1.1l0.5 3.9l0.5 6.6l0.4-9.7l0.5 0.8l0.5 7.7l0.4-0.5l0.5-10.7l0.5-8.3l0.4 6.9l0.5-0.1l0.4-6.4l0.5 1.3l0.5-2.8l0.4-3.1l0.5 1.9l0.5-2.4l0.4-5.3l0.5 6l0.5 9.5l0.4-2.5" fill="none" stroke="#C874AC" stroke-width="3.4" stroke-linejoin="round" stroke-linecap="round"/>
<path d="M102.8 817.9l0.2 21.5l0.2 21l0.3-21.9l0.2-19.5l0.2-25.1l0.3-18.8l0.2-25.7l0.3 20.7l0.2-9.4l0.2-9.5l0.3-6.8l0.2-16l0.2-13.5l0.3-10.7l0.2 12.2l0.3 13.5l0.2 3l0.2 6.2l0.3 13.8l0.2-0.5l0.3 0.5l0.2-5.7l0.2 6.4l0.3 11.7l0.2-1.2l0.2 7.4l0.3 0l0.2-12.6l0.3-0.8l0.2-13.7l0.2-2.7l0.3 15.7l0.2 5.8l0.3-5l0.2-5.3l0.2 9l0.3 2.8l0.2-5.2l0.2 5.3l0.3 3.5l0.2 3.5l0.3 0l0.2 0l0.2 0l0.3 0l0.2 0.1l0.3 0l0.2 0l0.2 0l0.3 4.8l0.2 4.9l0.2 3.5l0.3 4.5l0.2 6.4l0.3-6.9l0.2-12.5l0.2-0.5l0.3 11.3l0.2 10.1l0.2-19.4l0.3-6l0.2-2.6l0.3-20l0.2-4.6l0.2-4.2l0.3-3.7l0.2-2.1l0.3 15.6l0.2-14.5l0.2-1.8l0.3 1.2l0.2-1l0.2 7.1l0.3 13l0.2-2.6l0.3 6.8l0.2 10.2l0.2 8.4l0.3 8.1l0.2-3.7l0.3-7l0.2-12.1l0.2-14.2l0.3-13.2l0.2-8.4l0.2-8.5l0.3 5.5l0.2 6.7l0.3 2.7l0.2-4.5l0.2 4.4l0.3 6l0.2 5.3l0.3 6.2l0.2-6l0.2 6.6l0.3-5.2l0.2-5.8l0.2 26.3l0.3-1.1l0.2 0.3l0.3 3.8l0.2 2l0.2-0.1l0.3-13.6l0.2-1.4l0.2 8.8l0.3-6.2l0.2 13.9l0.3-7.3l0.2-22.5l0.2 0.9l0.3 2.8l0.2 0.9l0.3 5.2l0.2 2.3l0.2-4.1l0.3 2.3l0.2 6l0.2 10.2l0.3 13.4l0.2-0.5l0.3 7l0.2-4.2l0.2-3.6l0.3-7l0.2 0.2l0.3-16l0.2-5.2l0.2-13.5l0.3-9l0.2-2l0.2 4.8l0.3 8.8l0.2 4.5l0.3 6.6l0.2 8.8l0.2 10.7l0.3 0.1l0.2 0l0.3 0l0.2 0l0.2-0.6l0.3 0.6l0.2 0.1l0.2-0.7l0.3-5.5l0.2-12l0.3-3l0.2-0.6l0.2-7.7l0.3 10.4l0.2-4.3l0.3 14l0.2-7.7l0.2-7l0.3-29l0.2-5.5l0.2-15l0.3-11.4l0.2 12.7l0.3 11.8l0.2 15.4l0.2 14.6l0.3 15l0.2 0.6l0.2-2.2l0.3 1.2l0.2 14.9l0.3-11.4l0.2 12.1l0.2-16.1l0.3-10.7l0.2 19.3l0.3-8.5l0.2 8.8l0.2-5.9l0.3-10.1l0.2 1.4l0.2 2.8l0.3-8.1l0.2 19.9l0.3-10.5l0.2 0.6l0.2-4.5l0.3-5.9l0.2-12.4l0.3-0.8l0.2 2.9l0.2 4.4l0.3-8.7l0.2-13.4l0.2-7.6l0.3-8.5l0.2-8.9l0.3 6.9l0.2 6.9l0.2 6.9l0.3 14.9l0.2 5.6l0.3-5.1l0.2 5.5l0.2-7.2l0.3 3.4l0.2 16.1l0.2 0.4l0.3-9.2l0.2 4.5l0.3-1.9l0.2-8.5l0.2 13.5l0.3-16.7l0.2 7.5l0.2 13.7l0.3 8.8l0.2-4.1l0.3-13.1l0.2-4.4l0.2 15.1l0.3-5.1l0.2 6.4l0.3 6.4l0.2-3.1l0.2-6.4l0.3 3.1l0.2 7.1l0.2 2.3l0.3-0.5l0.2 10.8l0.3-0.9l0.2-6l0.2-10.1l0.3-1.7l0.2 9.6l0.3-10l0.2-7.3l0.2 0.3l0.3-0.6l0.2 7.9l0.2-3.7l0.3 20.5l0.2 9.4l0.3 3.7l0.2 10.5l0.2-9.5l0.3-13.5l0.2-7.5l0.3-14.8l0.2-1l0.2-12.3l0.3-3.3l0.2 3.5l0.2-3.9l0.3-5.2l0.2 0l0.3 0l0.2 0l0.2 9.1l0.3-4l0.2 8.7l0.3-7l0.2 6.7l0.2 14.9l0.3 16.6l0.2 1.4l0.2 7l0.3-3.6l0.2-6.6l0.3-7.7l0.2 0.5l0.2-8.6l0.3-2.8l0.2 7.6l0.2-2.7l0.3-12.5l0.2 12.3l0.3 1.5l0.2-24.5l0.2 2.1l0.3-11l0.2-4l0.3-7.8l0.2 5.8l0.2 7.9l0.3-0.5l0.2 11.7l0.2 0.7l0.3 3.1l0.2-14.1l0.3 6.9l0.2 2.4l0.2-1.5l0.3-1.8l0.2-6l0.3 6.4l0.2 14l0.2-6.7l0.3 2.4l0.2-3.4l0.2-5.8l0.3 9.2l0.2 18.1l0.3 25.4l0.2 8.3l0.2 12.6l0.3 14.9l0.2-13.1l0.3-11.6l0.2-15.6l0.2 26.1l0.3 27.8l0.2 2.3l0.2 8.2l0.3 28.9l0.2-26.2l0.3-29.7l0.2-21.2l0.2-7.8l0.3 2.2l0.2 26.6l0.2 22.2l0.3-18.4l0.2-18.1l0.3-12.2l0.2-4.4l0.2 1.8l0.3 9.2l0.2 4l0.3-10.5l0.2-22.2l0.2-25.7l0.3-11l0.2 2.1l0.2-7.5l0.3 14.4l0.2-2.3l0.3 2.8l0.2-6.7l0.2-7l0.3 16.2l0.2-0.7l0.3-18.1l0.2 0.3l0.2 1.1l0.3 3.4l0.2-4.8l0.2 0l0.3 0l0.2 0l0.3 5.7l0.2-5.7l0.2 11.9l0.3 11.2l0.2 14.2l0.3-16.8l0.2 7.3l0.2-2l0.3 8.8l0.2-14.8l0.2 15.1l0.3-9.1l0.2 12.4l0.3 0.6l0.2-6.9l0.2-15.9l0.3 10.3l0.2-1.9l0.3-12.9l0.2-2.5l0.2 10.3l0.3 11.4l0.2-27l0.2-2.3l0.3 4.8l0.2-6.1l0.3 2.1l0.2 1.6l0.2 10.4l0.3 2l0.2 4.8l0.2 8.1l0.3-5l0.2 21.2l0.3-1.1l0.2 11.5l0.2 5.9l0.3 5.9l0.2 5.9l0.3 5.8l0.2-9l0.2-7.8l0.3-8.8l0.2-10.4l0.2-23.3l0.3 16.6l0.2-1.1l0.3-9.7l0.2-7.7l0.2 15.9l0.3 12.9l0.2-0.2l0.3 3.3l0.2-34l0.2-11.6l0.3-0.6l0.2 1.1l0.2 11.7l0.3 20.6l0.2-1.4l0.3-1.5l0.2 5.8l0.2 8.6l0.3 1.4l0.2-5.5l0.3-7.7l0.2-9.4l0.2-2l0.3 2l0.2-1l0.2 0.7l0.3 11.7l0.2-11.8l0.3-3.4l0.2 3.2l0.2-14.9l0.3 5l0.2 0.9l0.2-10.4l0.3-3.2l0.2 2.4l0.3 2.8l0.2 8.3l0.2 17.5l0.3 3.7l0.2 15.1l0.3 9.2l0.2 7.3l0.2-11.4l0.3-6.9l0.2-11.4l0.2-21.5l0.3-7.4l0.2-11l0.3 0l0.2 3.4l0.2-3l0.3-0.4l0.2 0l0.3 0l0.2-12.6l0.2-12.7l0.3-12.7l0.2-12.6l0.2-12.7l0.3 14.3l0.2 15.2l0.3 8.5l0.2 12.7l0.2 19.9l0.3 12l0.2-12.2l0.3 10.4l0.2 6.4l0.2-3.6l0.3-16l0.2-4.1l0.2 14.5l0.3-14.5l0.2 17.4l0.3 0.4l0.2 19.3l0.2 9.9l0.3 10.6l0.2 12.9l0.3-7l0.2-11.5l0.2-4.1l0.3-3.1l0.2-4.9l0.2-7.8l0.3-7.3l0.2 6.4l0.3-1.4l0.2 16.3l0.2-27.6l0.3 2.7l0.2 10.1l0.2-7l0.3 0.1l0.2 18.1l0.3-5.6l0.2-6.7l0.2 3.2l0.3 1.2l0.2-1.8l0.3 7.2l0.2-5.9l0.2 10.8l0.3-10.3l0.2 3.9l0.2 5l0.3-6.9l0.2-3.3l0.3-0.1l0.2 3.5l0.2-4l0.3-11.1l0.2 7.6l0.3 20.8l0.2 0l0.2 0l0.3 0l0.2 0l0.2 0l0.3 0l0.2 0l0.3 0l0.2 0l0.2-0.2l0.3 0.3l0.2 0l0.3-4.9l0.2-2.9l0.2 7.8l0.3 0l0.2-11.5l0.2 6.8l0.3 11.9l0.2-8l0.3-1l0.2 6l0.2 0.9l0.3 5.4l0.2-5.5l0.2-5l0.3-6l0.2 3l0.3-3.5l0.2-2.4l0.2-5.5l0.3 6.2l0.2 0.1l0.3 4l0.2-7.8l0.2 7.8l0.3-6.3l0.2-12.3l0.2 1l0.3 3.3l0.2-16.3l0.3-8.9l0.2 9.9l0.2 10l0.3-5.8l0.2 1.1l0.3 25.4l0.2-17.6l0.2-12.1l0.3-18.9l0.2-12.7l0.2-11.6l0.3 11.9l0.2 13.4l0.3 9.9l0.2 6.4l0.2 24l0.3-14.5l0.2 18.3l0.3 2.5l0.2-9.4l0.2 3l0.3-9.5l0.2 18.1l0.2-18.1l0.3 4.2l0.2 2.3l0.3 5.4l0.2-9.1l0.2 4.7l0.3-1.7l0.2 6l0.3 8.7l0.2 6l0.2 5.9l0.3 6l0.2 5.9l0.2 5.9l0.3-9.8l0.2-11.6l0.3-7.7l0.2-11.7l0.2 7.8l0.3-14.2l0.2 6.5l0.2-3l0.3-1.9l0.2 14.8l0.3 1.3l0.2-4.6l0.2-9.4l0.3-3.5l0.2-5.3l0.3 8.3l0.2 3.4l0.2-1.5l0.3 5.5l0.2 6l0.2-10.4l0.3-24.7l0.2-1.1l0.3 7l0.2-9.9l0.2-4.8l0.3 15.4l0.2 4.1l0.3-4.1l0.2-5.3l0.2 14.3l0.3 0l0.2-19.2l0.2 10l0.3-13.6l0.2 3l0.3-9.6l0.2-9.6l0.2-1.3l0.3-3.8l0.2-4.9l0.3-8.3l0.2 8.4l0.2 11.4l0.3 6l0.2 13.6l0.2 15.7l0.3-12.1l0.2 4.8l0.3-5.8l0.2-1l0.2-3.8l0.3-8.4l0.2 14.6l0.2-3.3l0.3 3.3l0.2-10.1l0.3 11.5l0.2 21.1l0.2 2.6l0.3 5.2l0.2 2.9l0.3 0l0.2-2.4l0.2-4.6l0.3-9.6l0.2-5.5l0.2-1.1l0.3-0.1l0.2 11.1l0.3-12.1l0.2 1.2l0.2 3.1l0.3-10.4l0.2 17l0.3 2.7l0.2 3.9l0.2 1.1l0.3 2.9l0.2-3.2l0.2-2.2l0.3 1l0.2-2.5l0.3-14.5l0.2-7.5l0.2 3.4l0.3-7.4l0.2 10.3l0.3 10.5l0.2-19.8l0.2 8.9l0.3-2.2l0.2-11.5l0.2-7.8l0.3 19.1l0.2-1.2l0.3-3.8l0.2 6.8l0.2-7.3l0.3-4.2l0.2 2.1l0.3 1.1l0.2-3.2l0.2-7.2l0.3 10.8l0.2 14l0.2 2.5l0.3-2.7l0.2-20.3l0.3 7.1l0.2-1l0.2 19.8l0.3-11.7l0.2-12.4l0.2 3.4l0.3-9.1l0.2 8.5l0.3 7.2l0.2-14.1l0.2-3.2l0.3 4.3l0.2 7.9l0.3 0.2l0.2-2.3l0.2-7l0.3-3.8l0.2 0l0.2 5.5l0.3-5.5l0.2 0l0.3 0l0.2 0l0.2 3.2l0.3 1.2l0.2 4.7l0.3 2l0.2 8.3l0.2 12.4l0.3-5l0.2-4.6l0.2 5.3l0.3-0.1l0.2 7.8l0.3 3.4l0.2 12.7l0.2 12.1l0.3-12.7l0.2-9.5l0.3-15.7l0.2-5.9l0.2-4.8l0.3-6.8l0.2-7.7l0.2 0l0.3 2.1l0.2-2l0.3 15.9l0.2 7l0.2 12.1l0.3 4.7l0.2-2.9l0.2-10.6l0.3 1.4l0.2 13l0.3 12.7l0.2 18.3l0.2-18.4l0.3-7.9l0.2-9.1l0.3 13l0.2-0.2l0.2 0.2l0.3 0l0.2 0l0.2 0l0.3 0l0.2 0l0.3 0l0.2 0l0.2 0l0.3 0l0.2 0l0.3 0l0.2 0.3l0.2 2.6l0.3-0.8l0.2 3.5l0.2 1.7l0.3-3.5l0.2 0.6l0.3-3.7l0.2-8.6l0.2-21.5l0.3 0.5l0.2 3.5l0.3-4l0.2-9.1l0.2 9.3l0.3-9.9l0.2 5.5l0.2 1.9l0.3-10.7l0.2 0l0.3 12.1l0.2 9.2l0.2 5.7l0.3-31.9l0.2-31.4l0.3-18.1l0.2-13.7l0.2-22l0.3 24l0.2 22.5l0.2 30.3l0.3 22.7l0.2 25l0.3-7.2l0.2-8.7l0.2-6.9l0.3 2.5l0.2 3.5l0.2-9.1l0.3 18.8l0.2 7l0.3 1.2l0.2 6.8l0.2-8l0.3 8l0.2 0l0.3-15.8l0.2 11l0.2-19.5l0.3 6.6l0.2-9.8l0.2 6.9l0.3 13.8l0.2 4.3l0.3 2.2l0.2-5.2l0.2-12.8l0.3-20.3l0.2 3.4l0.3-5.3l0.2 1l0.2-8.1l0.3 0.1l0.2 0.1l0.2 0.1l0.3 1.8l0.2-1.6l0.3 0l0.2 7.4l0.2 4.6l0.3-14.7l0.2-7.7l0.3 5.1l0.2 5l0.2 0l0.3 0.1l0.2 5.5l0.2-2.7l0.3-13.7l0.2-9.5l0.3 2l0.2-5.3l0.2-8.9l0.3 13.2l0.2 10.8l0.2 0.5l0.3 16.9l0.2 12.1l0.3-2.2l0.2 5.9l0.2-12.2l0.3 20.4l0.2-4.9l0.3-3.9l0.2 2.6l0.2-8.6l0.3 0.3l0.2 10.3l0.2 1.1l0.3 0l0.2-7.4l0.3-17l0.2 6l0.2 0.5l0.3-2.5l0.2-1.8l0.3-0.5l0.2 2.7l0.2 14.8l0.3 0.1l0.2-1.7l0.2 5.7l0.3 6.8l0.2 8.3l0.3 9.8l0.2 9.9l0.2-12.2l0.3-9.9l0.2-15.5l0.3-12.5l0.2-12.6l0.2 5.5l0.3 4.8l0.2-7l0.2 9.5l0.3-3.7l0.2 2.1l0.3-3.4l0.2 6.6l0.2-3.5l0.3 6.6l0.2-1.9l0.3-10.1l0.2 7.2l0.2 0.9l0.3-1l0.2-5.1l0.2-1l0.3-8.6l0.2-0.4l0.3-1.2l0.2 4.4l0.2 7l0.3-3.1l0.2 11.1l0.2 5.4l0.3-2.7l0.2 18.3l0.3 0.1l0.2-4.2l0.2-4.6l0.3 6.6l0.2 11.7l0.3-6.5l0.2 2.4l0.2 1.4l0.3 0.8l0.2-4l0.2 16.1l0.3 10.2l0.2 10.3l0.3 10.2l0.2 10.2l0.2-10.2l0.3-10.2l0.2-10.6l0.3-6.1l0.2 0.2l0.2 6.6l0.3-5.2l0.2-8.4l0.2-2l0.3-5.2l0.2-3l0.3-3.5l0.2-5.4l0.2-14.3l0.3 0.8l0.2 3.6l0.3 9.7l0.2-5.4l0.2 17.9l0.3-2.4l0.2 18.8l0.2 4.9l0.3 11.5l0.2-11.9l0.3-8.9l0.2-6.8l0.2-6.9l0.3-15.2l0.2-20.2l0.2-7.6l0.3-11l0.2-7.1l0.3 5.2l0.2 9.3l0.2 5.1l0.3 4.1l0.2 9.1l0.3-10.7l0.2-8.2l0.2-4.7l0.3 7.3l0.2 3l0.2 0.8l0.3 13.2l0.2 1l0.3-5.1l0.2 14.1l0.2 18.9l0.3 5.2l0.2 8.9l0.3-12.8l0.2-6.4l0.2-10.7l0.3-22l0.2 10.6l0.2-6.8l0.3 6.1l0.2 1.2l0.3 9.1l0.2-7.7l0.2-1.1l0.3-4l0.2-3.9l0.3 6.1l0.2 5.8l0.2-4.5l0.3 2l0.2-6.1l0.2 22.1l0.3-23.3l0.2 0.6l0.3 3.2l0.2 4.1l0.2-10.5l0.3 14l0.2-4.7l0.3-1.7l0.2 8.9l0.2 18.2l0.3 12.9l0.2 1.8l0.2 7.9l0.3 2.3l0.2-9.5l0.3-3.8l0.2-0.4l0.2-2.6l0.3-12.9l0.2-16.3l0.2-14.7l0.3-14.9l0.2 4.1l0.3 5.9l0.2 6.1l0.2-0.4l0.3 5.3l0.2-1.1l0.3 11l0.2-9.4l0.2 9l0.3-3.7l0.2-12.5l0.2 5.9l0.3 2.4l0.2-23l0.3-11l0.2 9l0.2 17.3l0.3 3.3l0.2-17.1l0.3 2.2l0.2 11.9l0.2 2.6l0.3 5.8l0.2-11.9l0.2 13.2l0.3-2.3l0.2 11.6l0.3-15.3l0.2 17.4l0.2-0.2l0.3-6l0.2-9.5l0.3 14.7l0.2 2.6l0.2 0l0.3-10l0.2 10.8l0.2-6.6l0.3 16.3l0.2-7.7l0.3-7.9l0.2 7l0.2 3.3l0.3 1.7l0.2 3.1l0.2 1.5l0.3 0l0.2-0.1l0.3 0l0.2 0l0.2 0l0.3 0l0.2 0l0.3-6.2l0.2-7.9l0.2-1.9l0.3-7.7l0.2-7.8l0.2-8.2l0.3-9.2l0.2 9.8l0.3 9.7l0.2 9.8l0.2 9.7l0.3 9.8l0.2 0l0.3 0l0.2 0l0.2-2.4l0.3-8l0.2-11.1l0.2-15l0.3-16.8l0.2-21.3l0.3 21.2l0.2 16.8l0.2 13.9l0.3 3.1l0.2-10.5l0.3-20.8l0.2 19.5l0.2 0.3l0.3 13l0.2 16.6l0.2-9.9l0.3 10.9l0.2-13.1l0.3 13.1l0.2-0.6l0.2-7.5l0.3-4.9l0.2 0.1l0.3 6.6l0.2-0.6l0.2-6.3l0.3-2.4l0.2 7.7l0.2 7.6l0.3-5.9l0.2 5.9l0.3 0l0.2-13.5l0.2-2.6l0.3-2.2l0.2 3.4l0.2-6.9l0.3-5l0.2 6.5l0.3-18l0.2-7.8l0.2 8.6l0.3 23.7l0.2 2l0.3 13l0.2 3.9l0.2 3.3l0.3-5.6l0.2-8.3l0.2-6.1l0.3-11.1l0.2 0.4l0.3 3.8l0.2 4.9l0.2 4.9l0.3-3.4l0.2-5l0.3-2.2l0.2-6.8l0.2 11.4l0.3-10.1l0.2-2.1l0.2-21.2l0.3-8.4l0.2-9.4l0.3 13l0.2 13l0.2 13l0.3 13l0.2 12.9l0.3 0l0.2 0l0.2-0.1l0.3 0l0.2-1.8l0.2 1.8l0.3-9.3l0.2 9.2l0.3-4.1l0.2 4.1l0.2-2.4l0.3-10.6l0.2-11.4l0.2 14.2l0.3 9.5l0.2-20.4l0.3 10.9l0.2-0.3l0.2 1.6l0.3-5.1l0.2 2.8l0.3 11.8l0.2 22.6l0.2 15.4l0.3 19.4l0.2 25.5l0.2-25.4l0.3-18.6l0.2-17.5l0.3-5.7l0.2-16.9l0.2 0l0.3 35.8l0.2 32.3l0.3 44.2l0.2 41.9l0.2 39.2l0.3-38.7l0.2-39.3l0.2-38.1l0.3-38.8l0.2-38.7l0.3-0.1l0.2 20.7l0.2 20.7l0.3 20.7l0.2 20.7l0.3 20.7l0.2-20.8l0.2-20.7l0.3-20.7l0.2-20.8l0.2-20.7l0.3 0l0.2-0.1l0.3 19.2l0.2 19.3l0.2 19.2l0.3 19.4l0.2 19l0.3-18.5l0.2-18.2l0.2-19l0.3-25.6l0.2-18.3l0.2-3.3l0.3 6.5l0.2 2.9l0.3 5l0.2 3.9l0.2 4l0.3 3.9l0.2-5.6l0.2-6.9l0.3-11.9l0.2-1.8l0.3-1.2l0.2-1.9l0.2 9.3l0.3 0l0.2 0l0.3 0l0.2-0.1l0.2 0l0.3 0l0.2-4.2l0.2-8.9l0.3-4.8l0.2 17.8l0.3 0l0.2-0.9l0.2-9.3l0.3-4.9l0.2-21.7l0.3-2.1l0.2-15.6l0.2-13l0.3-11.9l0.2 8.5l0.2 12.2l0.3 9.9l0.2 12.1l0.3 23.3l0.2 3.5l0.2-12.4l0.3-4.7l0.2-9.4l0.3 25.9l0.2-4.5l0.2 6.9l0.3-6.6l0.2-18.2l0.2 9l0.3 6.9l0.2-14l0.3 7.4l0.2 1.8l0.2-3.3l0.3-2.7l0.2-13.4l0.2-8.7l0.3 12.4l0.2-3.6l0.3-1l0.2-1l0.2-2.2l0.3-0.5l0.2 1.9l0.3-6.1l0.2 9.4l0.2-4.6l0.3-1.7l0.2 9.5l0.2 5.1l0.3-5l0.2-6.6l0.3 5.5l0.2 11.2l0.2-14.3l0.3 8.2l0.2 5.6l0.3 8.1l0.2 10.4l0.2-3.1l0.3-11.5l0.2 2.9l0.2-4.5l0.3 1.1l0.2-2.7l0.3-1.1l0.2 12.4l0.2 5.7l0.3 9.7l0.2 3.2l0.3-3.6l0.2-3.1l0.2 2.5l0.3 7.5l0.2 6.8l0.2-6.6l0.3-6.6l0.2-14.2l0.3-10l0.2-2l0.2 2l0.3-3.4l0.2 3.3l0.3 2.8l0.2 8.1l0.2-12.9l0.3-1.6l0.2-1.7l0.2-3.3l0.3-1.2l0.2 0.1l0.3 10.8l0.2-1.9l0.2 0l0.3 0.6l0.2-6l0.2 4.6l0.3 1.1l0.2-9.1l0.3 10.9l0.2-1.5l0.2-17.4l0.3-0.1l0.2 8.1l0.3-5l0.2-14.3l0.2-7.5l0.3-11.9l0.2-10l0.2 6.4l0.3 6.5l0.2 9.2l0.3 3.6l0.2 6.4l0.2 1.1l0.3-1.1l0.2 0l0.3 0l0.2 0l0.2 0l0.3 0l0.2 0.7l0.2 13l0.3 1.3l0.2-1.6l0.3 8.6l0.2-7.2l0.2-0.4l0.3 1.5l0.2-4.5l0.3 0.2l0.2-3.6l0.2-6.3l0.3 2.3l0.2 8.7l0.2-12.9l0.3 0l0.2 16.7l0.3-12.3l0.2-4.4l0.2 10.6l0.3-0.8l0.2 4.8l0.2 11.7l0.3-10.9l0.2-13.6l0.3 1.3l0.2-3.2l0.2 1.5l0.3 4.3l0.2-1.8l0.3 13.3l0.2 5.5l0.2 6.3l0.3 13.6l0.2 11.4l0.2-12.9l0.3-7.8l0.2-13.5l0.3-7.3l0.2-12.7l0.2 2.7l0.3 6.7l0.2-2l0.3 1.2l0.2 12.9l0.2 18l0.3 18.1l0.2 15.7l0.2 13.8l0.3-13.3l0.2-10.9l0.3-9.1l0.2-6.9l0.2-16.2l0.3-0.5l0.2 8.8l0.3-10.7l0.2 12.1l0.2-1.8l0.3 0.5l0.2 0.4l0.2 5.7l0.3 1.8l0.2-19.9l0.3-18.6l0.2-7l0.2-15.4l0.3-11.6l0.2 9.9l0.3 8.8l0.2 7.6l0.2 13.6l0.3 1.9l0.2 9.2l0.2 4.1l0.3-3.1l0.2-2.4l0.3 2.9l0.2 4.5l0.2 6.9l0.3-5.6l0.2 8.6l0.2-14.8l0.3-2.1l0.2-11l0.3-1.9l0.2-2.7l0.2-4.5l0.3-1l0.2 23.6l0.3-2l0.2-3.3l0.2-14.9l0.3 0.5l0.2 5.6l0.2-12.5l0.3 2.9l0.2-3l0.3 0.1l0.2 0l0.2 5.2l0.3 7.2l0.2-4.6l0.3-5.4l0.2 7.1l0.2-4.1l0.3 6.2l0.2-2.6l0.2 8l0.3-6.4l0.2-1.4l0.3-9.1l0.2 2.6l0.2 19.9l0.3-22.4l0.2 0l0.3 0l0.2 0l0.2 8.6l0.3 8.7l0.2 8.6l0.2 8.6l0.3 8.6l0.2 8.6l0.3-8.6l0.2-8.6l0.2-8.6l0.3-8.6l0.2-8.6l0.2-2.8l0.3 5.5l0.2 4l0.3-5.5l0.2-9l0.2-0.7l0.3 3.4l0.2-3.4l0.3 13.9l0.2 14l0.2 13.9l0.3 13.9l0.2 13.9l0.2-14.6l0.3-15.3l0.2-13.9l0.3-13.2l0.2-12.5l0.2 0.1l0.3 0l0.2 0l0.3 0l0.2 0l0.2 0l0.3 0l0.2 0l0.2 0l0.3 0.1l0.2 0l0.3 0l0.2 0l0.2 0l0.3 0l0.2 21.3l0.3 21.2l0.2 21.2l0.2 21.3l0.3 21.2l0.2-18.3l0.2-20.7l0.3-20.7l0.2-24.9l0.3-10l0.2 8.1l0.2-15.6l0.3 15l0.2-8.3l0.3-0.2l0.2 15.7l0.2-8.2l0.3 8.7l0.2-0.8l0.2 11.4l0.3-5.3l0.2-10.7l0.3 6.5l0.2 8.9l0.2-4.7l0.3 11l0.2-15.4l0.2-4.5l0.3 20.3l0.2-11.7l0.3 1.3l0.2 5.8l0.2-3.1l0.3 6.4l0.2 11.2l0.3-11.8l0.2-7.5l0.2-16l0.3-9.8l0.2-7.8l0.2 0l0.3 0l0.2 1.7l0.3-1.6l0.2 0l0.2 0l0.3 0l0.2 1l0.3-1l0.2 4.4l0.2-2.1l0.3-2.3l0.2-5.9l0.2-6l0.3-6l0.2-6.1l0.3-6l0.2 6.1l0.2 6l0.3 6l0.2 6l0.3 6.1l0.2 0l0.2 0l0.3 0.8l0.2-0.8l0.2 0l0.3 0l0.2 0.1l0.3 0l0.2 0l0.2 5.7l0.3-3.1l0.2-2.6l0.2 8.5l0.3 12.6l0.2 0.8l0.3 0.1l0.2 8.8l0.2 10.7l0.3 9.8l0.2 6.6l0.3-7.3l0.2-5.5l0.2-10.6l0.3 5l0.2-25l0.2-0.9l0.3-10.9l0.2-2.5l0.3 0l0.2 0l0.2 8.1l0.3-5.1l0.2-2.9l0.3 0l0.2 3.2l0.2-3.2l0.3 0l0.2 2.8l0.2 9.7l0.3-4.1l0.2 5.6l0.3-6.7l0.2-0.9l0.2-2.4l0.3 15.9l0.2-0.5l0.3 10.3l0.2 7.3l0.2 9.8l0.3 9.1l0.2-11.2l0.2-11.1l0.3 4.7l0.2 15.3l0.3-25.5l0.2-27.9l0.2 2.7l0.3 6.7l0.2-8.3l0.3-1l0.2 0l0.2 0l0.3 0l0.2 0l0.2 1.2l0.3 2.5l0.2 11l0.3 7.7l0.2-3.4l0.2 4.6l0.3 2l0.2 10.9l0.2 7.9l0.3 11.2l0.2-12.9l0.3-8.5l0.2-6.7l0.2-2l0.3-1.7l0.2-10.3l0.3 29.8l0.2-12.5l0.2 1.4l0.3 1.8l0.2 3.3l0.2 5.8l0.3 0.7l0.2 5.3l0.3-2.7l0.2-0.3l0.2-3.5l0.3 7l0.2-8l0.3 2l0.2-5.9l0.2 1.4l0.3 10.6l0.2 0.1l0.2 0l0.3-1.4l0.2 1l0.3-3.9l0.2 4.4l0.2 0l0.3-8.2l0.2 7.3l0.3 0.9l0.2-10.3l0.2 10.4l0.3 0l0.2-12.2l0.2 6.5l0.3 3.1l0.2-4.6l0.3 1.9l0.2-1.3l0.2 0.6l0.3 2.1l0.2 1.4l0.2 1.3l0.3 1.4l0.2-16.8l0.3 9.6l0.2-6.9l0.2 14.3l0.3 0.1l0.2-2.7l0.3 1.7l0.2 1.1l0.2 0.1l0.3-11.3l0.2 1.4l0.2 3.3l0.3-9.3l0.2-5.1l0.3-2.1l0.2-12.5l0.2 8.4l0.3 12.1l0.2 20.1l0.3 14.9l0.2 16.1l0.2-13.5l0.3-17.9l0.2-11.2l0.2-14.7l0.3-2.5l0.2-2.7l0.3 3.4l0.2 1.8l0.2 1l0.3 12.8l0.2-6.3l0.3 13.5l0.2-11.6l0.2-5.4l0.3-14.4l0.2-0.8l0.2 23l0.3 35.4l0.2-35.3l0.3-32l0.2 7.6l0.2 19.3l0.3 12.1l0.2-8.6l0.3-6.4l0.2 3.4l0.2 12.9l0.3 3.2l0.2 0.1l0.2-15.4l0.3-15.3l0.2-15.4l0.3-15.4l0.2-15.4l0.2 13.2l0.3 15.7l0.2 16.1l0.2 15.7l0.3 9.3l0.2 0.1l0.3-14.1l0.2 9.1l0.2 2.8l0.3 14.3l0.2 3.9l0.3 6l0.2 11.9l0.2 17.8l0.3-17.8l0.2-15.9l0.2-15.1l0.3-4.1l0.2-18.3l0.3-0.2l0.2 14.7l0.2 1.4l0.3-3.4l0.2 10.5l0.3-17.4l0.2-4l0.2-16.5l0.3 13.6l0.2-6.3l0.2 0.7l0.3 18.2l0.2-6.3l0.3-8.3l0.2 2.9l0.2-6.7l0.3-2.9l0.2-2.9l0.3-10.2l0.2-5.6l0.2 10.4l0.3 4.5l0.2 6.2l0.2 12.6l0.3 4.1l0.2 10.6l0.3-10.3l0.2-23.1l0.2 22.5l0.3 15.6l0.2-12.6l0.2-9.9l0.3 3.6l0.2-7.2l0.3 8.3l0.2-2.1l0.2-5.4l0.3 8.1l0.2 7.1l0.3 9.4l0.2 1.7l0.2 5.9l0.3-7.5l0.2 1.7l0.2 2.8l0.3-8.4l0.2-28l0.3 41.3l0.2 26.8l0.2-14.4l0.3-19.6l0.2-8.6l0.3-24.6l0.2 0.1l0.2-2.4l0.3 4.3l0.2-0.2l0.2 8l0.3 2.8l0.2 0.4l0.3-2.9l0.2 2.9l0.2 0.6l0.3-3.7l0.2-6.6l0.3 3.1l0.2 0.8l0.2-0.2l0.3 2.3l0.2-5.4l0.2 2.8l0.3 0l0.2-3.2l0.3-1.3l0.2 9.4l0.2 1.3l0.3 1.8l0.2-1.5l0.3-7.4l0.2 3.3l0.2-0.9l0.3 7.1l0.2-4.7l0.2-8.2l0.3 1l0.2-3.4l0.3 6.6l0.2-0.5l0.2 3l0.3 0.7l0.2-1.3l0.2 1.6l0.3-3.9l0.2 8.6l0.3-0.8l0.2-5.6l0.2 1.1l0.3 1.7l0.2-3.8l0.3 1.2l0.2-8.5l0.2-12l0.3-6.9l0.2-6.2l0.2-7.4l0.3 6.7l0.2 6.5l0.3 6.6l0.2 8.5l0.2 6l0.3 2l0.2 4.3l0.3 0.5l0.2 5.1l0.2-2.1l0.3-9.5l0.2-1.4l0.2 0l0.3 0l0.2 3.3l0.3 5.6l0.2-1.9l0.2-2.4l0.3-0.1l0.2 1.3l0.3-2.5l0.2 2.6l0.2-4.4l0.3-1.2l0.2 0.7l0.2-0.7l0.3 6.3l0.2 2.4l0.3-5l0.2 3.5l0.2-4.6l0.3 1.3l0.2 4.7l0.2 3.2l0.3-1l0.2 4.3l0.3 5.6l0.2 0l0.2 0l0.3 0l0.2 0l0.3-0.8l0.2-2.3l0.2-9.3l0.3-1.6l0.2 1.7l0.2-0.6l0.3 2.9l0.2 2.6l0.3-1.6l0.2-1.3l0.2 3.1l0.3 2.4l0.2 2.1l0.3 5.2l0.2-0.1l0.2 2.1" fill="none" stroke="#3878B6" stroke-width="3.4" stroke-linejoin="round" stroke-linecap="round"/>
</g>
<line x1="74.5" x2="80" y1="613.60" y2="613.60" stroke="#222" stroke-width="2"/>
<text transform="translate(69.4,621.10) scale(1,1.07)" class="yt">1.00</text>
<line x1="74.5" x2="80" y1="708.80" y2="708.80" stroke="#222" stroke-width="2"/>
<text transform="translate(69.4,716.30) scale(1,1.07)" class="yt">0.75</text>
<line x1="74.5" x2="80" y1="804.00" y2="804.00" stroke="#222" stroke-width="2"/>
<text transform="translate(69.4,811.50) scale(1,1.07)" class="yt">0.50</text>
<line x1="74.5" x2="80" y1="899.20" y2="899.20" stroke="#222" stroke-width="2"/>
<text transform="translate(69.4,906.70) scale(1,1.07)" class="yt">0.25</text>
<line x1="102.75" x2="102.75" y1="986.5" y2="992.0" stroke="#222" stroke-width="2"/>
<text transform="translate(102.75,1011.20) scale(1,1.07)" class="xt">2018</text>
<line x1="276.55" x2="276.55" y1="986.5" y2="992.0" stroke="#222" stroke-width="2"/>
<text transform="translate(276.55,1011.20) scale(1,1.07)" class="xt">2020</text>
<line x1="450.35" x2="450.35" y1="986.5" y2="992.0" stroke="#222" stroke-width="2"/>
<text transform="translate(450.35,1011.20) scale(1,1.07)" class="xt">2022</text>
<text x="334.88" y="1041.00" class="at">Date</text>
<text transform="translate(20.1,800.50) rotate(-90)" class="at">DCC</text>
<text x="342.88" y="593.75" class="ti">BCH vs Clean cryptos</text>
<rect x="88.78" y="1079.70" width="35.3" height="35.2" fill="#EBECEB"/>
<line x1="92.48" x2="120.68" y1="1097.30" y2="1097.30" stroke="#E39E22" stroke-width="4"/>
<text x="135.57" y="1104.60" class="lg">ADA</text>
<rect x="182.57" y="1079.70" width="35.3" height="35.2" fill="#EBECEB"/>
<line x1="186.27" x2="214.47" y1="1097.30" y2="1097.30" stroke="#62B8E8" stroke-width="4"/>
<text x="229.18" y="1104.60" class="lg">XRP</text>
<rect x="276.38" y="1079.70" width="35.3" height="35.2" fill="#EBECEB"/>
<line x1="280.07" x2="308.27" y1="1097.30" y2="1097.30" stroke="#3DA872" stroke-width="4"/>
<text x="323.43" y="1104.60" class="lg">MIOTA</text>
<rect x="388.42" y="1079.70" width="35.3" height="35.2" fill="#EBECEB"/>
<line x1="392.12" x2="420.32" y1="1097.30" y2="1097.30" stroke="#C874AC" stroke-width="4"/>
<text x="434.67" y="1104.60" class="lg">XLM</text>
<rect x="480.92" y="1079.70" width="35.3" height="35.2" fill="#EBECEB"/>
<line x1="484.62" x2="512.82" y1="1097.30" y2="1097.30" stroke="#3878B6" stroke-width="4"/>
<text x="528.42" y="1104.60" class="lg">NANO</text>
<rect x="688" y="612.2" width="510.30" height="374.10" fill="#EBECEB"/>
<clipPath id="cETC"><rect x="688" y="612.2" width="510.30" height="374.10"/></clipPath>
<g clip-path="url(#cETC)">
<line x1="688" x2="1198.3" y1="746.13" y2="746.13" stroke="#F7F8F7" stroke-width="1.2"/>
<line x1="688" x2="1198.3" y1="836.80" y2="836.80" stroke="#F7F8F7" stroke-width="1.2"/>
<line x1="688" x2="1198.3" y1="927.47" y2="927.47" stroke="#F7F8F7" stroke-width="1.2"/>
<line x1="688" x2="1198.3" y1="655.46" y2="655.46" stroke="#F7F8F7" stroke-width="1.2"/>
<line x1="798.00" x2="798.00" y1="612.2" y2="986.3" stroke="#F7F8F7" stroke-width="1.2"/>
<line x1="971.40" x2="971.40" y1="612.2" y2="986.3" stroke="#F7F8F7" stroke-width="1.2"/>
<line x1="1144.80" x2="1144.80" y1="612.2" y2="986.3" stroke="#F7F8F7" stroke-width="1.2"/>
<line x1="688" x2="1198.3" y1="700.80" y2="700.80" stroke="#fff" stroke-width="2"/>
<line x1="688" x2="1198.3" y1="791.47" y2="791.47" stroke="#fff" stroke-width="2"/>
<line x1="688" x2="1198.3" y1="882.14" y2="882.14" stroke="#fff" stroke-width="2"/>
<line x1="688" x2="1198.3" y1="972.81" y2="972.81" stroke="#fff" stroke-width="2"/>
<line x1="711.30" x2="711.30" y1="612.2" y2="986.3" stroke="#fff" stroke-width="2"/>
<line x1="884.70" x2="884.70" y1="612.2" y2="986.3" stroke="#fff" stroke-width="2"/>
<line x1="1058.10" x2="1058.10" y1="612.2" y2="986.3" stroke="#fff" stroke-width="2"/>
<path d="M711.3 727.4l0.5 1.9l0.4-4.5l0.5 0.4l0.5 4.3l0.4 0.9l0.5 48.9l0.4 52.8l0.5 57.3l0.5-56.3l0.4-54.9l0.5-63.5l0.5 2.1l0.4-3l0.5 12.6l0.5-0.7l0.4-0.4l0.5 4.8l0.4-4.9l0.5-2.2l0.5-1.5l0.4-14.6l0.5 5l0.5-6l0.4-1.5l0.5 0.2l0.5-1.9l0.4 3.4l0.5-11.9l0.5 13.1l0.4 4l0.5-4.5l0.4-1.4l0.5 8.9l0.5-1.1l0.4-5.6l0.5-0.7l0.5-3l0.4 1.9l0.5 2.4l0.5 7.8l0.4-5.8l0.5-8.7l0.4 7.3l0.5 11.4l0.5-2l0.4-3.9l0.5-11l0.5 18.2l0.4 26.6l0.5 9.5l0.5-14.3l0.4-3.5l0.5-6.4l0.4-3.2l0.5-6.5l0.5 1.4l0.4-2.7l0.5-8.6l0.5 5.9l0.4-3.6l0.5-4.9l0.5 4.3l0.4 0.4l0.5-5.3l0.5-0.3l0.4-0.9l0.5 8.3l0.4 14.6l0.5 11.6l0.5-0.9l0.4-11.9l0.5-3.2l0.5 7.5l0.4-2.2l0.5-5.7l0.5-1.9l0.4-7.9l0.5 8.7l0.4 8l0.5 2.8l0.5 9.1l0.4 0.2l0.5-3l0.5-2.3l0.4-5.3l0.5 11l0.5 2.6l0.4-2.3l0.5-0.1l0.4-8.8l0.5-1.1l0.5-5.7l0.4-4.3l0.5 5.8l0.5 2.2l0.4 0.6l0.5 3.2l0.5 0l0.4 0.6l0.5 1.8l0.5-3l0.4-3.2l0.5 5.5l0.4 0.7l0.5-0.4l0.5-7.2l0.4 2.9l0.5 7.2l0.5-2.7l0.4 1.6l0.5-8.3l0.5-10.7l0.4-5.3l0.5-14.9l0.4 6.3l0.5-2.7l0.5-1.4l0.4-1.5l0.5-1.7l0.5 5.1l0.4-7.2l0.5-3.9l0.5 2.3l0.4-3.5l0.5 1.7l0.4-4.9l0.5 4.6l0.5 4l0.4-1.6l0.5-0.7l0.5 1.6l0.4 5.1l0.5-5.5l0.5-6l0.4-11.4l0.5-3.1l0.5 3.7l0.4-4.3l0.5 1.9l0.4-10.8l0.5-3.3l0.5-4.2l0.4 2.9l0.5 1.2l0.5 0.4l0.4-5.9l0.5 4.8l0.5 1.6l0.4 1.7l0.5-1.5l0.4-2.6l0.5-2.2l0.5-1.7l0.4 1.5l0.5-8.4l0.5-5l0.4-2.6l0.5-7.3l0.5-0.4l0.4-2.4l0.5-3.5l0.4 3.5l0.5 2.2l0.5-10.9l0.4-4.3l0.5 6.7l0.5 6.1l0.4-2.4l0.5 0.9l0.5 2.7l0.4 2.8l0.5 8.4l0.5 10.8l0.4 20.2l0.5 9.7l0.4-6.2l0.5-15.2l0.5-6.2l0.4 6.2l0.5 3.8l0.5-8.1l0.4-4.2l0.5 12.9l0.5-2.3l0.4 10.7l0.5 0.4l0.4-9.3l0.5 0.5l0.5 4.4l0.4 13.8l0.5 10.6l0.5-8.6l0.4-3.9l0.5-7.9l0.5 8.4l0.4-3.8l0.5 4.8l0.4 7.2l0.5-5.7l0.5 2.4l0.4 5.1l0.5 1.6l0.5-2l0.4-6.1l0.5-1.6l0.5 11l0.4 9l0.5-1.3l0.4-2.5l0.5-4.9l0.5 1l0.4 1.2l0.5-3.5l0.5 4l0.4 9.9l0.5-7.8l0.5 0.4l0.4-10.7l0.5 2.7l0.5 3.4l0.4 3.5l0.5-0.3l0.4 4l0.5 7l0.5-4.5l0.4-1.2l0.5 0.5l0.5 0.6l0.4-2.3l0.5-5.9l0.5-9.3l0.4-21l0.5 1.4l0.4-0.7l0.5 45.5l0.5 44.1l0.4 41.8l0.5-37.6l0.5-36l0.4-32.4l0.5 6.5l0.5 3.1l0.4-3.2l0.5 0.2l0.4-10.6l0.5-23.2l0.5-15.9l0.4 13.9l0.5 6.3l0.5 1.8l0.4 2.3l0.5 0.9l0.5-1.5l0.4 2l0.5-1.6l0.5 0.9l0.4-1.3l0.5-0.3l0.4 3.7l0.5-1l0.5 3.9l0.4 0.8l0.5 3.9l0.5-4.1l0.4-7.7l0.5-3.6l0.5 2.1l0.4 5l0.5 7.4l0.4-3.5l0.5-6.7l0.5 1l0.4-5.7l0.5-10l0.5 10l0.4-3l0.5-4l0.5-4.1l0.4 1l0.5-7.9l0.4 11.4l0.5-4.5l0.5-3.4l0.4 1.2l0.5-7.8l0.5-10.1l0.4 1.6l0.5-0.2l0.5 3.7l0.4 5.7l0.5 4.8l0.5 4.6l0.4-0.8l0.5-7.5l0.4-5.1l0.5 2.8l0.5 2.5l0.4 2.1l0.5 7.5l0.5-5.6l0.4 0.2l0.5-4.8l0.5 6.3l0.4-2l0.5-6.6l0.4-4.2l0.5 8.9l0.5-5.7l0.4 5l0.5 0l0.5 2.3l0.4 2.2l0.5-3l0.5 2.2l0.4-2.2l0.5 3.3l0.4 2.4l0.5 3.9l0.5-12.9l0.4-4.5l0.5 1l0.5 2.8l0.4-5.8l0.5-2.5l0.5 7.6l0.4 12.2l0.5 9.4l0.5 2.3l0.4 0.8l0.5-2.8l0.4-3.5l0.5-3.6l0.5-5.9l0.4 3l0.5 11.2l0.5 6.2l0.4 7.9l0.5 2.9l0.5-2.1l0.4-6.2l0.5-1.8l0.4-4.5l0.5 2.4l0.5-0.1l0.4-7.7l0.5-4.3l0.5-1.2l0.4-1.9l0.5 4.6l0.5-4l0.4 0.3l0.5 8.8l0.4 2.1l0.5-3.2l0.5-1.7l0.4 4.2l0.5 0.3l0.5 5.2l0.4 2l0.5 1.9l0.5 3.2l0.4 8l0.5 0.6l0.5-5.9l0.4 0.9l0.5-4.7l0.4 6l0.5 1.4l0.5-14l0.4 2l0.5 5.8l0.5-3l0.4 5.3l0.5-5.8l0.5 1.8l0.4 6.3l0.5 5.1l0.4-2.7l0.5-6.2l0.5-15.4l0.4-9.2l0.5 7.1l0.5 9.1l0.4-2.7l0.5 5l0.5 8.6l0.4-11.9l0.5-11.4l0.4 13.5l0.5 6.2l0.5-1.6l0.4 4.2l0.5-4.4l0.5 2.6l0.4-3l0.5-2l0.5-2.1l0.4-3.2l0.5 4.9l0.5 5.9l0.4-8.5l0.5-2.8l0.4-6.3l0.5-6l0.5-14.8l0.4-5.5l0.5 5.2l0.5 2.1l0.4-6.7l0.5-3.3l0.5 2.1l0.4-1l0.5 1l0.4-2.7l0.5 7.2l0.5 4l0.4-3.3l0.5 11.8l0.5-3.6l0.4-5.6l0.5-0.2l0.5-4.2l0.4 9.4l0.5 5.7l0.4-4.8l0.5 0.2l0.5 10l0.4-5.5l0.5 5.8l0.5 2l0.4 6.6l0.5 3.3l0.5-3.6l0.4 5.6l0.5-5.3l0.4 3l0.5 5.3l0.5 4.1l0.4 4.2l0.5-12.7l0.5 4.8l0.4 1.3l0.5-0.4l0.5 8l0.4 7.9l0.5-5.5l0.5-9l0.4-7.5l0.5 10.1l0.4 11.7l0.5 18l0.5-1.3l0.4-7l0.5-0.8l0.5-1.5l0.4-3.7l0.5-5.5l0.5-4.5l0.4-0.5l0.5-4.5l0.4 2.6l0.5-1.9l0.5 1.8l0.4-5l0.5 4.7l0.5 10.2l0.4 2.6l0.5 4.2l0.5 9.5l0.4 9.4l0.5 7.9l0.4 10.5l0.5-12.1l0.5-14.4l0.4-12.4l0.5-9.8l0.5-2.1l0.4 10.3l0.5-0.3l0.5 0.6l0.4-2.7l0.5-9.6l0.5 4.4l0.4 0.9l0.5 0.4l0.4-3.7l0.5-1l0.5 9.4l0.4 2.9l0.5 4.9l0.5 7.1l0.4-6l0.5-10.1l0.5 9.8l0.4 2.9l0.5-7.2l0.4-2l0.5-4l0.5 3.4l0.4-10l0.5 5.4l0.5 7.1l0.4-3.1l0.5-0.5l0.5 1.5l0.4 3.6l0.5 0.5l0.4-0.6l0.5 3.7l0.5-4.5l0.4-3.5l0.5 1.2l0.5 4l0.4-0.5l0.5-5.3l0.5-12.3l0.4-4.6l0.5 4l0.5 16.3l0.4 2.1l0.5 5.3l0.4 2.2l0.5 6.2l0.5-8.7l0.4-12.3l0.5-6.2l0.5-5.9l0.4 5l0.5 3.9l0.5 9.7l0.4 0.7l0.5-2.3l0.4 7.5l0.5 6.4l0.5-5.6l0.4 0.9l0.5 2.2l0.5-8.9l0.4 1.5l0.5-6.5l0.5-2.8l0.4 6.1l0.5-6l0.4-8.2l0.5-4.2l0.5 5.5l0.4 13.1l0.5 22.4l0.5-9.7l0.4-4.7l0.5-3.3l0.5 6.7l0.4-4.4l0.5 0.3l0.5-1.6l0.4 1.9l0.5-3l0.4 0.8l0.5-0.4l0.5 1.1l0.4 0.4l0.5-12.1l0.5 4.5l0.4 4l0.5 6.6l0.5 0.5l0.4-7.7l0.5-1.6l0.4-16.1l0.5 4.2l0.5-2.8l0.4 10.7l0.5 6.5l0.5 4.6l0.4-6.1l0.5-5.7l0.5-6.8l0.4-5l0.5 0.9l0.4-6.2l0.5 10.1l0.5 4.8l0.4-3.8l0.5 5.5l0.5-2l0.4 2.3l0.5-7.7l0.5 2.6l0.4 7.1l0.5-0.3l0.5-2.8l0.4 1.9l0.5 8.6l0.4-2.4l0.5-3.5l0.5 2.4l0.4 20.2l0.5 31.9l0.5 27.7l0.4-24.8l0.5-26.4l0.5-28.3l0.4-1.2l0.5 4.3l0.4 1.3l0.5-4.8l0.5-8.7l0.4 4l0.5 3.8l0.5-2.9l0.4-7.2l0.5-3.5l0.5-5l0.4 6.9l0.5 4.2l0.4-1.7l0.5 5.5l0.5 8.5l0.4-1.8l0.5 7.5l0.5-9l0.4-1.6l0.5 1.7l0.5 2.2l0.4-2.3l0.5 4.5l0.4-6.6l0.5-0.4l0.5-0.5l0.4-5.2l0.5-7.7l0.5 6.2l0.4-2.1l0.5 0.5l0.5 0.6l0.4 3.2l0.5 6.4l0.5-13.3l0.4 10.3l0.5-3.6l0.4 6.7l0.5 1.5l0.5-5.4l0.4 4.6l0.5-6.8l0.5 0.9l0.4-8.8l0.5-4.3l0.5 1.8l0.4 1.8l0.5 6.7l0.4 6.5l0.5 0.8l0.5-9.2l0.4 5.5l0.5-4.4l0.5-1l0.4 3l0.5-3.5l0.5 0.7l0.4-10.7l0.5-1.6l0.4-0.2l0.5-3.3l0.5-0.5l0.4 6.5l0.5 12l0.5 8.5l0.4-16.1l0.5-3.3l0.5-1.7l0.4-2.2l0.5 33.1l0.5 28.2l0.4 31l0.5-28.3l0.4-29.4l0.5-22.1l0.5 4.9l0.4-0.7l0.5-3l0.5-0.5l0.4-0.4l0.5 3.9l0.5 8.4l0.4-0.5l0.5-4.7l0.4-4.1l0.5-1.9l0.5-0.9l0.4-4.2l0.5-1.2l0.5-2.9l0.4-1.2l0.5 8l0.5 0.8l0.4-11.2l0.5 1.1l0.4-2.1l0.5 2.1l0.5 6.9l0.4 10.3l0.5 3.1l0.5 7.3l0.4-6.3l0.5-5.6l0.5-6.9l0.4-4l0.5 6.2l0.5 0.6l0.4 4.3l0.5-2.8l0.4-2.4l0.5 6.1l0.5 6.4l0.4-2.7l0.5-6l0.5-2.5l0.4 4.6l0.5 2l0.5-4.4l0.4-2.5l0.5 6.9l0.4 4.9l0.5-1.7l0.5-3.2l0.4-6.5l0.5 12.7l0.5-14l0.4 4.9l0.5-3.4l0.5 10.2l0.4-8.9l0.5-0.4l0.4 2l0.5 3.1l0.5 5.9l0.4 6l0.5 2.9l0.5-0.1l0.4-8.2l0.5-0.4l0.5 3.8l0.4-3.7l0.5 3.9l0.5-5.3l0.4-3l0.5-6l0.4-4.5l0.5 2.1l0.5-9.4l0.4 0.1l0.5-5.6l0.5-9.4l0.4 7l0.5-1.7l0.5 8l0.4 7.4l0.5 5.2l0.4-0.1l0.5 1.9l0.5 10.2l0.4-4.2l0.5-1.5l0.5-3l0.4 3.6l0.5 2.6l0.5 3.8l0.4 0l0.5-1.2l0.4 3.4l0.5-5.7l0.5 0.7l0.4-13.8l0.5 4.2l0.5-5.3l0.4 4.5l0.5 1.1l0.5-4.5l0.4 1.1l0.5-5.8l0.5 7.7l0.4 5.1l0.5 10.5l0.4-4.8l0.5-6.3l0.5-2.2l0.4-3l0.5 0.8l0.5 1.9l0.4-2.7l0.5 3.7l0.5 10.2l0.4 1.9l0.5-11.5l0.4-19.4l0.5 16.2l0.5 12.6l0.4-3.2l0.5-0.3l0.5-3.4l0.4-12.3l0.5 1.9l0.5-0.4l0.4 6.4l0.5-9.3l0.4-2.4l0.5 4.7l0.5-1.2l0.4 6.3l0.5 0.9l0.5-0.5l0.4 6.7l0.5-14.9l0.5-2.1l0.4 5.9l0.5 10.8l0.5-4.4l0.4-4.6l0.5 5l0.4 5.4l0.5-8.2l0.5 0.8l0.4-8.3l0.5 5.8l0.5 6.3l0.4 2.4l0.5 9.4l0.5-0.8l0.4-0.3l0.5-5.3l0.4-3.3l0.5-3.1l0.5 7.6l0.4-0.9l0.5-5.1l0.5 1.7l0.4-4.5l0.5-1.1l0.5 6.9l0.4-7.8l0.5-7.1l0.4-2.9l0.5-0.1l0.5-15.7l0.4 0.6l0.5-0.2l0.5 2.7l0.4 10.1l0.5-0.2l0.5 4.2l0.4 14.3l0.5 6.4l0.4-2.3l0.5 6.8l0.5-13.8l0.4-1.8l0.5 1l0.5-0.8l0.4-6.5l0.5 0.4l0.5-13.1l0.4 3l0.5-1.4l0.5 15.2l0.4 6.5l0.5 0.4l0.4-2.2l0.5-4.3l0.5 2.2l0.4-6.7l0.5-4.2l0.5-7.3l0.4 2.1l0.5 1.8l0.5-4.9l0.4 3.4l0.5-1.1l0.4-4.1l0.5-8.5l0.5 7.3l0.4 2l0.5-6.7l0.5 3.8l0.4 4.5l0.5 1.6l0.5 8.9l0.4-1.5l0.5-7.4l0.4-2.3l0.5 6.9l0.5-0.1l0.4-1.4l0.5-1.6l0.5 0.7l0.4-1.5l0.5 2.8l0.5 9l0.4-7.7l0.5-2.6l0.5-2.3l0.4-6.1l0.5-3l0.4 4.2l0.5 0.9l0.5-5.4l0.4 5.5l0.5 13.3l0.5-6.8l0.4 2.5l0.5-2.8l0.5-2.8l0.4-5.9l0.5 1.7l0.4 5.6l0.5-1.6l0.5 3.6l0.4-7.3l0.5 2.8l0.5-0.9l0.4 3l0.5-5.6l0.5 4.4l0.4-7.1l0.5 16.1l0.4 1.1l0.5-11.9l0.5-0.9l0.4 1.1l0.5 0.4l0.5 2.4l0.4 6.8l0.5-3.3l0.5-6.7l0.4-13.6l0.5 4.6l0.5 1.9l0.4-11.9l0.5 3.7l0.4-1.7l0.5 6.1l0.5 0l0.4 1.1l0.5 1.4l0.5 3.9l0.4 11.2l0.5 24.7l0.5-18.7l0.4-13.2l0.5-5.6l0.4 2.8l0.5-3.2l0.5 4.9l0.4-4l0.5 5.3l0.5 2.1l0.4-2.2l0.5-7.2l0.5 4.2l0.4 4.9l0.5-10.3l0.4-5.9l0.5 8.7l0.5 5.5l0.4-1.7l0.5 1.4l0.5-0.1l0.4-6.3l0.5 3.5l0.5-0.5l0.4-4l0.5 4.6l0.5 6.7l0.4 8.8l0.5-2.3l0.4 0.2l0.5-0.9l0.5-9.6l0.4-4l0.5 1.1l0.5 4.1l0.4 13.8l0.5 9.3l0.5-13.5l0.4-18.8l0.5 15.8l0.4-0.5l0.5 13.5l0.5 11l0.4-9.5l0.5-1.4l0.5 4.1l0.4 5.7l0.5 0.3l0.5 0.8l0.4-2.9l0.5-1.5l0.4-2.8l0.5 4" fill="none" stroke="#E39E22" stroke-width="3.4" stroke-linejoin="round" stroke-linecap="round"/>
<path d="M711.3 752.4l0.5-3.1l0.4-4.3l0.5 0.5l0.5 6l0.4-1.1l0.5 0.6l0.4 0.6l0.5 1.4l0.5 2.9l0.4-3.5l0.5-3.6l0.5-3l0.4 0.4l0.5-1.3l0.5-6.8l0.4 5.8l0.5-1.7l0.4 0.6l0.5-4.2l0.5 6.9l0.4-6.8l0.5 8.3l0.5-3.2l0.4-0.8l0.5 2.6l0.5 0.4l0.4-16.3l0.5-0.9l0.5 8l0.4-8.2l0.5-8.8l0.4 4.9l0.5 7.1l0.5 1.9l0.4-1.1l0.5-1.1l0.5 5.1l0.4-9.5l0.5 5.1l0.5 2.6l0.4-0.6l0.5-5.5l0.4-1.2l0.5 0.3l0.5 4.1l0.4-3.9l0.5-3.1l0.5-2.8l0.4 4.8l0.5 5.1l0.5-7.6l0.4 4.6l0.5 5.8l0.4 9l0.5-4.3l0.5-2.8l0.4 5.6l0.5-2.3l0.5 1.4l0.4-6.4l0.5 3.9l0.5-5l0.4 8.1l0.5 1.1l0.5-3.5l0.4-3.6l0.5 0l0.4 0.6l0.5-3.4l0.5 1.4l0.4-5.5l0.5 5.4l0.5 2.9l0.4-9.7l0.5-3.3l0.5 8l0.4-1.7l0.5 7.9l0.4 0.7l0.5 0.9l0.5 6.2l0.4-5.4l0.5 1.8l0.5 6l0.4-5.9l0.5-11.9l0.5-7.6l0.4 7l0.5 0.7l0.4 6.9l0.5 6.2l0.5 8.4l0.4-3.2l0.5 2.6l0.5-1.6l0.4 2.9l0.5 3.8l0.5-2.8l0.4-4.7l0.5 0l0.5 3.3l0.4 2.9l0.5-4.6l0.4 0.7l0.5 0.2l0.5 3.8l0.4 7l0.5-4.5l0.5 4.5l0.4-1.7l0.5 2.5l0.5-7.2l0.4 1.8l0.5-1l0.4 8.9l0.5 4.4l0.5 2.8l0.4 2.8l0.5 3l0.5 7.6l0.4-7.8l0.5-2.1l0.5 4.4l0.4 6.6l0.5-0.5l0.4 3.4l0.5-0.2l0.5 1.8l0.4 0.5l0.5-0.8l0.5 6.7l0.4-7.3l0.5 8.1l0.5-5.1l0.4 6.9l0.5-5.5l0.5-8.3l0.4-4.1l0.5 6.9l0.4-2.7l0.5-1.6l0.5-9.8l0.4-7.7l0.5-4.7l0.5-9.1l0.4-5.4l0.5-3l0.5-2.9l0.4-4.7l0.5-3.3l0.4 0.4l0.5 5.9l0.5-1.4l0.4-4.6l0.5-6.6l0.5 0.6l0.4 8l0.5-0.8l0.5 2.8l0.4 4.4l0.5-3.5l0.4-3.4l0.5-7.7l0.5 4.6l0.4 3.6l0.5-6.1l0.5-4.5l0.4-3.7l0.5-1.8l0.5-0.2l0.4 4.6l0.5 2.3l0.5-0.7l0.4-4.2l0.5 7.3l0.4 0.9l0.5-3.3l0.5-4.7l0.4 1.9l0.5 0.5l0.5 1.2l0.4-4.2l0.5-7.9l0.5 9.6l0.4-5.7l0.5-0.9l0.4 7.2l0.5-2.7l0.5-2.6l0.4 4.9l0.5-4.2l0.5-2.1l0.4-1.9l0.5 2.6l0.5 2.1l0.4 1.3l0.5 2.4l0.4 5.6l0.5 4l0.5 5.8l0.4-1.6l0.5 2l0.5 3.4l0.4 0.6l0.5-4.8l0.5-7.5l0.4-1.6l0.5 3.6l0.4 3.8l0.5 2.3l0.5-5.9l0.4 1.9l0.5 11.5l0.5 5.4l0.4-14.6l0.5-1.4l0.5-10.6l0.4 3l0.5 5.6l0.5-3.8l0.4-2.9l0.5 0l0.4-3.8l0.5-2.8l0.5 4.6l0.4-0.7l0.5 1.7l0.5-5.4l0.4-3l0.5-0.9l0.5-4.3l0.4-0.4l0.5 8.8l0.4-0.7l0.5-3.2l0.5 3.5l0.4 2.7l0.5 3.2l0.5-0.3l0.4-1.1l0.5-0.3l0.5-2.9l0.4-4.6l0.5 1.7l0.4 1.1l0.5-1.6l0.5-2l0.4 4.3l0.5 10.4l0.5-4.7l0.4-5.1l0.5 1.8l0.5 2.8l0.4-2.6l0.5 2.1l0.5-9.5l0.4-0.9l0.5 1.9l0.4-6l0.5 0.4l0.5-3.6l0.4 0.1l0.5 0l0.5 8.9l0.4 2l0.5 8.4l0.5 1.1l0.4 4l0.5-4.2l0.4 1l0.5 6.3l0.5-5.8l0.4 0.3l0.5 8.3l0.5 1l0.4 7.2l0.5 1.1l0.5 5.1l0.4 0.6l0.5 2.4l0.4-2.8l0.5 0.7l0.5 2.2l0.4-0.4l0.5 2.8l0.5-1l0.4-9.8l0.5-0.1l0.5 0.5l0.4 1l0.5 0.9l0.5-2.9l0.4-1.2l0.5-10.3l0.4 4.6l0.5-7.9l0.5 0.2l0.4 1.9l0.5 5.7l0.5 6.7l0.4 4.3l0.5-9.4l0.5-9.8l0.4 2.2l0.5 6l0.4-4.5l0.5-1.2l0.5-3.5l0.4 2.2l0.5 6.4l0.5 0.4l0.4 2.2l0.5-4.3l0.5 0.7l0.4-2.8l0.5 4.4l0.4-9l0.5-9.1l0.5 8.6l0.4 13.1l0.5-2.6l0.5 1.7l0.4 2.1l0.5 5.3l0.5-3l0.4-8.4l0.5 6.5l0.5-4.1l0.4-1.1l0.5-6.4l0.4 1l0.5-1.5l0.5 3.8l0.4-6l0.5 3.7l0.5 1.4l0.4 5.8l0.5 6.1l0.5-1.5l0.4-6.8l0.5-3.8l0.4-9.9l0.5 13.8l0.5-4.2l0.4 0.4l0.5 5.1l0.5-10.7l0.4-8.8l0.5 2.3l0.5 6.9l0.4 3.8l0.5-1.5l0.4 6.5l0.5-1.2l0.5 1l0.4-3.8l0.5-0.3l0.5-4.8l0.4-1.7l0.5 10.2l0.5-0.1l0.4 0.7l0.5 4.7l0.5-1.2l0.4-2.8l0.5-2.4l0.4-5.8l0.5 0.4l0.5 12.4l0.4-2.5l0.5 0.2l0.5-4.2l0.4 3.4l0.5 7.9l0.5-3.8l0.4-6.2l0.5-4.9l0.4-7.6l0.5 1.4l0.5-1.9l0.4-4.2l0.5-5.1l0.5-3.5l0.4 2.2l0.5-3.1l0.5-10.7l0.4 8.9l0.5 7.7l0.4 1.3l0.5-9.2l0.5 1.1l0.4-2.2l0.5 12.8l0.5-9.5l0.4 3.5l0.5 0.4l0.5-5.6l0.4 1.7l0.5 7.8l0.5-3.1l0.4-4.8l0.5 1.4l0.4-4.5l0.5 2.7l0.5 6l0.4 12.9l0.5-2.4l0.5-11.9l0.4 3l0.5 0.1l0.5-9.8l0.4-9.4l0.5 3.1l0.4 3.6l0.5 1.7l0.5 2.5l0.4-4.8l0.5 0.5l0.5 0.5l0.4-1.1l0.5 3.4l0.5-11.6l0.4 1l0.5-3.6l0.4 2.4l0.5 5l0.5-0.8l0.4-4.3l0.5-0.6l0.5-6.7l0.4-5.1l0.5-5.9l0.5 4.4l0.4 6.8l0.5 7.9l0.4-4.5l0.5 4.1l0.5-5.5l0.4-9l0.5-2.9l0.5 0.3l0.4-0.3l0.5-7l0.5 6.8l0.4-1.6l0.5-1.7l0.5 4.8l0.4 3.9l0.5-0.1l0.4-3.6l0.5 1.4l0.5 7.4l0.4 1l0.5 1.7l0.5-0.9l0.4-3.1l0.5-5.1l0.5-1.5l0.4 2.3l0.5 0.6l0.4 7.8l0.5-1l0.5-0.9l0.4-3.9l0.5-3.3l0.5 5l0.4 0.8l0.5 0.7l0.5 4.4l0.4-2l0.5 4.6l0.4-6.1l0.5-0.9l0.5 9.5l0.4-2.2l0.5-6.7l0.5-3.4l0.4 4.9l0.5 5.6l0.5-1.1l0.4 4.7l0.5 3l0.5-1.4l0.4-1.6l0.5 2.7l0.4-9.2l0.5 0.1l0.5 5.2l0.4-4.6l0.5 2.7l0.5-8.2l0.4 8.3l0.5 1.3l0.5-6.3l0.4-1.6l0.5 5.1l0.4 6.5l0.5 9.2l0.5-1.7l0.4-3.2l0.5 2.4l0.5 2.2l0.4 2.2l0.5 10.9l0.5 1.4l0.4-2.1l0.5-4.6l0.4 0l0.5 4.8l0.5-4.8l0.4 1.3l0.5 2.7l0.5 5.7l0.4 0.3l0.5 0.5l0.5 4.3l0.4-0.9l0.5-1.7l0.5-2l0.4-8.1l0.5 1.7l0.4-6.1l0.5 5.9l0.5 7.6l0.4 2.4l0.5 1.9l0.5 2.6l0.4 9.2l0.5 2l0.5 1.8l0.4 0.2l0.5-3.1l0.4 3.5l0.5-1.8l0.5-3.8l0.4-0.8l0.5-4.1l0.5 3.4l0.4 1.3l0.5 4.5l0.5-2.2l0.4-1l0.5 1.9l0.4-0.6l0.5-10.1l0.5 9.3l0.4-1.2l0.5-2.8l0.5 3.7l0.4 6.8l0.5-0.3l0.5 9.1l0.4 4l0.5 3.4l0.5 0.4l0.4 4.6l0.5 2.3l0.4 1.3l0.5-7.4l0.5 4.9l0.4 1.1l0.5 3.2l0.5-1.1l0.4-4.9l0.5-3.6l0.5 2.8l0.4 6.7l0.5-0.6l0.4-2.4l0.5 14.1l0.5-0.5l0.4 5.7l0.5 0.2l0.5-0.8l0.4 5l0.5 1.5l0.5-3.1l0.4 11.7l0.5 14.7l0.4-1.3l0.5 1.9l0.5 6.2l0.4 3.1l0.5-3.8l0.5 7.3l0.4-2.3l0.5-5.5l0.5 1.1l0.4-3.1l0.5-2.3l0.5-4l0.4 3.6l0.5 5l0.4-4.1l0.5-2.2l0.5-5.2l0.4-12.5l0.5-17.2l0.5-10.7l0.4 8.9l0.5 7.5l0.5-12.8l0.4-9.3l0.5 11.6l0.4 8.9l0.5 5l0.5-3.8l0.4-1.3l0.5-2.1l0.5-7.4l0.4-3.7l0.5-1.4l0.5-3l0.4-2.5l0.5-5.4l0.4 3.7l0.5 7.4l0.5 2.9l0.4-3.1l0.5 0.1l0.5-4.4l0.4-3.7l0.5 2.4l0.5 1.8l0.4 0.9l0.5-1.2l0.4-4.4l0.5 1.4l0.5-0.3l0.4-4.7l0.5-1.6l0.5-0.5l0.4-1.7l0.5 3.6l0.5-2.3l0.4-6l0.5 0.4l0.5-7.3l0.4 0.3l0.5-5l0.4-2.6l0.5 4.4l0.5 1.2l0.4 0.1l0.5 8.7l0.5-5.3l0.4 1.3l0.5-2.4l0.5-6.6l0.4 2.1l0.5-1l0.4-0.3l0.5-1.1l0.5-6.7l0.4 3.1l0.5 2.5l0.5-0.3l0.4-4l0.5-4l0.5 10.5l0.4-1.8l0.5-0.1l0.4 0.8l0.5-1l0.5-4.2l0.4-1.9l0.5-1.1l0.5-2.6l0.4-7.9l0.5 1.9l0.5-7.2l0.4-1.1l0.5-0.1l0.5-1.7l0.4 0.8l0.5-4.5l0.4-10l0.5-3.4l0.5-1.4l0.4-5.3l0.5 1.1l0.5-1l0.4-0.3l0.5 1.6l0.5 3.6l0.4 4.8l0.5-0.5l0.4 1.3l0.5-3.3l0.5 0.8l0.4-3.5l0.5-11.7l0.5-3l0.4-0.2l0.5-0.9l0.5 1.5l0.4-1.3l0.5 5.7l0.4 1.8l0.5-0.6l0.5-8.4l0.4-1.8l0.5-2.3l0.5 2.5l0.4 3.3l0.5-1.7l0.5-1.1l0.4 4.1l0.5 6.3l0.5-5.2l0.4-8.7l0.5-4.4l0.4 11.7l0.5 2.6l0.5 3l0.4-1l0.5-8.6l0.5-5.1l0.4-0.4l0.5-1.7l0.5-2.1l0.4-3.4l0.5 4.5l0.4 5.7l0.5 11.8l0.5-5.9l0.4 1.5l0.5 5.6l0.5 8.7l0.4 2l0.5-1.3l0.5-5.7l0.4 5.3l0.5 3.1l0.4 0.3l0.5 0.2l0.5-1.1l0.4-3.7l0.5-2.7l0.5-3.2l0.4 7.2l0.5 1.5l0.5 10.8l0.4 8.9l0.5-2.6l0.5-0.1l0.4 6.3l0.5-2.7l0.4 2.4l0.5-1.9l0.5-3.1l0.4 1.2l0.5 4.9l0.5 6.9l0.4-0.5l0.5-15.1l0.5 2l0.4 5.9l0.5 3.8l0.4-8.3l0.5-1.4l0.5-2.3l0.4 0.6l0.5 4.7l0.5-1.9l0.4 1.3l0.5 2.7l0.5 2.2l0.4-7.4l0.5-4.4l0.4 0.3l0.5 2.2l0.5 0.6l0.4 1.5l0.5 8.5l0.5-1.8l0.4 2.9l0.5 2.6l0.5-12l0.4-1.4l0.5 3.6l0.5-4.5l0.4-5l0.5 5.5l0.4 11.2l0.5-3.3l0.5-3.6l0.4-1.5l0.5-1.8l0.5 0.4l0.4-1.2l0.5 0.4l0.5-1.6l0.4 1.1l0.5 1.8l0.4-8.9l0.5-3.9l0.5-2.6l0.4 3.8l0.5 3l0.5 2.9l0.4 7.8l0.5 2.8l0.5 5.2l0.4 7.4l0.5-0.4l0.4-2.6l0.5 2.2l0.5-3.1l0.4-17.6l0.5-8.6l0.5 8.4l0.4 19.3l0.5-0.8l0.5-8l0.4-1.6l0.5-6.7l0.5-6.4l0.4 6.7l0.5-4l0.4 3.3l0.5-3.9l0.5 13.1l0.4 6.6l0.5-0.5l0.5-4.2l0.4 4.4l0.5 6l0.5-11.6l0.4 4l0.5 0.9l0.4 2.5l0.5 3.4l0.5-4.6l0.4 0.8l0.5-4.3l0.5-0.4l0.4-0.2l0.5 4.2l0.5-11.4l0.4-3.2l0.5 4.4l0.4-3.2l0.5 2.3l0.5 1.7l0.4-6.6l0.5 0.4l0.5-0.2l0.4 0.6l0.5 2.6l0.5 2.6l0.4-2.5l0.5-12.9l0.4 7.6l0.5 1.2l0.5 1.8l0.4-0.3l0.5-3.8l0.5-3.1l0.4-2.7l0.5 1.6l0.5-1l0.4-2.6l0.5 4l0.5 7.1l0.4 5.5l0.5 2.1l0.4 5.8l0.5-5.2l0.5 2l0.4-2.2l0.5-6.8l0.5-5.9l0.4-0.5l0.5-8.2l0.5 5.3l0.4-1.3l0.5 1.4l0.4 2.2l0.5-0.9l0.5-3.7l0.4 30.9l0.5 31.4l0.5 15.8l0.4 27.1l0.5 17.8l0.5-1.6l0.4-2.1l0.5-3.7l0.4-4.3l0.5-2.7l0.5-0.2l0.4-7.6l0.5-4.1l0.5-0.8l0.4-1.5l0.5 2.6l0.5 2.9l0.4-4.5l0.5-7.1l0.5-4.8l0.4-0.2l0.5 2.7l0.4-2.1l0.5 4.8l0.5 4l0.4 2.9l0.5-5.8l0.5-1.7l0.4 1.9l0.5 2.5l0.5-2.7l0.4-7.9l0.5-6.4l0.4 1.3l0.5-6l0.5-1.5l0.4-5.2l0.5 0.9l0.5 7.6l0.4-0.9l0.5 1.7l0.5-8.5l0.4-1.8l0.5-3.9l0.4-8l0.5 4.2l0.5-0.4l0.4 0.1l0.5-2.6l0.5-5.1l0.4 4.6l0.5-11l0.5 0.7l0.4 0.7l0.5 2l0.5 0.6l0.4 1.7l0.5 1.7l0.4-16.2l0.5-7.7l0.5 4l0.4 2.7l0.5 4.9l0.5 5.2l0.4-0.1l0.5-1.1l0.5 6.5l0.4-8l0.5-1.3l0.4 2.5l0.5 1l0.5-2.9l0.4-0.9l0.5 1.4l0.5 8.1l0.4 8.1l0.5 6.9l0.5-3.7l0.4-6.1l0.5 3.4l0.4-0.6l0.5 13.2l0.5 0.7l0.4-1l0.5 3.8l0.5 7.4l0.4 11.1l0.5 6.8l0.5 6.6l0.4 4.5l0.5 2.3l0.5-1.8l0.4 9.1l0.5 9.4l0.4-0.8l0.5-6.6l0.5-3.2l0.4-1.1l0.5-3.9l0.5-8.5l0.4 5l0.5-4.2l0.5 4.3l0.4 1.6l0.5-2l0.4 5l0.5-2.5l0.5-9.6l0.4 9l0.5 13.2l0.5-8.9l0.4-10.1l0.5-7.7l0.5-1.1l0.4-6.3l0.5-11.3l0.4-9.7l0.5-3.2" fill="none" stroke="#62B8E8" stroke-width="3.4" stroke-linejoin="round" stroke-linecap="round"/>
<path d="M711.3 710.5l0.5-3l0.4-3.1l0.5 14l0.5-0.7l0.4-6.3l0.5-0.8l0.4-2.2l0.5-4.6l0.5 0.5l0.4 2.2l0.5 4.5l0.5-7.9l0.4 3.6l0.5-2.5l0.5 6.6l0.4 15.8l0.5-3.7l0.4-7.7l0.5 9.8l0.5-3.9l0.4 3.7l0.5-6.9l0.5 5.1l0.4 4.3l0.5-14.4l0.5 8.6l0.4-6.2l0.5 0.2l0.5-1.5l0.4 4.4l0.5-4.4l0.4-9.6l0.5-5.1l0.5 3.7l0.4-6.4l0.5-3l0.5-8l0.4-3.6l0.5 1.6l0.5-4.8l0.4 16.9l0.5 1.1l0.4 0.7l0.5 3l0.5 2l0.4-8.3l0.5-0.5l0.5-0.6l0.4-6.8l0.5 1l0.5 7.7l0.4 3.7l0.5 4.5l0.4-3.2l0.5-9.5l0.5 3.9l0.4-12.2l0.5 2.7l0.5 5.2l0.4 1.6l0.5 2.6l0.5-4.2l0.4 8.1l0.5-6.2l0.5-12.7l0.4 23.2l0.5 9.6l0.4-14.4l0.5-8.1l0.5-10.5l0.4-1.4l0.5 6.3l0.5 3.4l0.4 0.3l0.5-3l0.5-2.1l0.4 20.5l0.5 14.5l0.4 15.2l0.5-14.3l0.5-11.1l0.4-18.7l0.5 3.6l0.5 8.9l0.4 0.6l0.5-9.4l0.5-0.3l0.4 4l0.5 8.7l0.4 7.3l0.5 2.1l0.5 1.8l0.4-0.8l0.5 22.1l0.5 25.6l0.4 28.9l0.5-27.7l0.5-28.5l0.4-20.5l0.5-13l0.5-1.9l0.4 8.4l0.5 0.5l0.4 4.2l0.5-0.6l0.5 10.1l0.4 5.6l0.5-6.8l0.5-4.1l0.4-3.8l0.5-4l0.5 1.8l0.4 5l0.5 5.7l0.4 0.8l0.5 3.6l0.5-3.8l0.4-3.3l0.5-2.6l0.5-2.6l0.4 0l0.5-3.4l0.5-6.7l0.4 2.3l0.5-6.1l0.4-2l0.5 2.3l0.5-0.1l0.4-4.3l0.5-2.5l0.5 3.7l0.4 3l0.5-2l0.5-7.5l0.4-0.4l0.5-0.1l0.5-8.1l0.4 5.8l0.5 11.2l0.4-7.3l0.5-4.3l0.5-4.6l0.4 0l0.5-4.5l0.5-1.9l0.4-13.4l0.5 6.1l0.5 5.5l0.4 4.6l0.5-5.4l0.4 5.8l0.5 6.2l0.5-8.1l0.4-12.4l0.5-1l0.5-11.1l0.4-8l0.5 3.8l0.5-6.8l0.4-4.9l0.5-0.1l0.4 7.7l0.5 13.9l0.5 5.2l0.4-3.8l0.5-3.9l0.5 2.3l0.4 3.3l0.5 5.6l0.5 5.1l0.4-7.3l0.5 4l0.5-4.6l0.4-13.2l0.5-3l0.4 9.5l0.5-3.1l0.5 12.9l0.4-5.9l0.5-1.3l0.5-4.6l0.4-2.8l0.5 11.1l0.5-0.9l0.4-0.4l0.5 8.1l0.4-8l0.5 4.1l0.5 9.9l0.4 5.6l0.5-1.6l0.5 10.7l0.4-5.5l0.5 1.3l0.5 1.8l0.4 5.4l0.5-1.8l0.4-4.3l0.5-3.8l0.5 9.4l0.4 11.9l0.5-0.4l0.5-4.4l0.4-6.9l0.5-10.8l0.5 3.3l0.4 4.9l0.5-8.2l0.4-8l0.5-0.1l0.5 1.2l0.4 1.3l0.5 5.8l0.5 1.9l0.4-4.8l0.5 6.4l0.5-0.9l0.4-11.4l0.5 1.6l0.5-3.3l0.4 1.4l0.5 11.8l0.4-3.3l0.5 3l0.5-4l0.4 16.3l0.5-1.4l0.5 15.5l0.4-1.2l0.5-7.3l0.5 3.7l0.4-11.9l0.5-2.2l0.4 5.4l0.5-3l0.5-11.2l0.4-11.9l0.5 10.1l0.5 7.2l0.4-3.3l0.5-5.8l0.5-2l0.4-4.6l0.5 1.5l0.4-1l0.5-3.9l0.5 0l0.4 3l0.5 4.4l0.5-8.1l0.4 10.4l0.5 9.7l0.5 6.2l0.4-9.7l0.5-7.8l0.5-14.1l0.4 5.9l0.5-1.9l0.4 5.2l0.5 5.1l0.5-1.5l0.4-9l0.5 6.5l0.5 0.3l0.4-8l0.5-4.5l0.5 10.1l0.4 10.7l0.5 2.9l0.4-6.5l0.5-10.4l0.5 2.5l0.4-2.4l0.5-5.6l0.5-5.7l0.4 3.5l0.5-0.6l0.5 0.1l0.4 4.3l0.5 5.3l0.4 2.2l0.5 3.8l0.5-2.9l0.4-1.9l0.5-3.3l0.5-7.4l0.4-1.9l0.5-5.7l0.5 4.1l0.4 2.3l0.5 2.6l0.5 8.8l0.4-4.4l0.5 4.5l0.4-1.7l0.5-10l0.5-2.8l0.4 11.2l0.5-1.4l0.5-2.5l0.4 7.6l0.5-1.8l0.5 5.8l0.4 8.5l0.5 3.5l0.4-2.4l0.5-5.4l0.5-3.5l0.4 11.1l0.5-0.4l0.5 13.8l0.4 18.3l0.5 15.6l0.5-20.7l0.4-10.4l0.5 4l0.4-4.9l0.5-6.6l0.5-17.4l0.4-19.6l0.5 21l0.5 14.8l0.4 6.9l0.5 3.7l0.5 1.7l0.4 2.5l0.5-1.9l0.5-8.1l0.4 1.3l0.5 2.7l0.4 8.3l0.5 4.9l0.5-7.7l0.4-3.7l0.5-3.9l0.5-0.4l0.4-4.9l0.5 1.9l0.5-9.8l0.4-7.2l0.5 13.5l0.4 16.2l0.5 12.7l0.5-7.5l0.4-8.4l0.5 1.9l0.5 2.1l0.4 0.7l0.5-7.6l0.5 4l0.4 0.3l0.5-0.6l0.4-1.8l0.5-5.1l0.5-8.3l0.4 4.4l0.5-3l0.5-5.7l0.4-2.5l0.5 1.3l0.5 0.8l0.4 1.9l0.5-5l0.5 4.5l0.4 5.9l0.5-3.4l0.4 3.6l0.5-5l0.5-11.3l0.4-2.4l0.5 3.5l0.5-6.8l0.4-2l0.5 0.5l0.5 4.6l0.4-0.8l0.5-1.7l0.4 4l0.5 2.4l0.5-7.2l0.4-4.5l0.5-7.4l0.5-10.3l0.4 10.3l0.5 5.3l0.5-3.4l0.4-13.6l0.5-1.6l0.4 5.3l0.5 4.3l0.5 7.5l0.4-3.1l0.5 10.6l0.5-8.3l0.4-1.7l0.5-12.7l0.5 1.3l0.4 9l0.5-5.8l0.5 4.5l0.4-1.3l0.5-3.9l0.4-6l0.5-9.6l0.5-5.5l0.4 1.3l0.5-8.7l0.5 0l0.4 2l0.5 3.9l0.5 4.2l0.4 6.8l0.5-10.4l0.4 6.2l0.5 4.9l0.5 6.4l0.4 2.8l0.5-8.5l0.5-2.6l0.4-5.1l0.5 7.3l0.5 2.6l0.4 2.2l0.5-5.2l0.4 22.2l0.5 12.9l0.5 14.9l0.4-7.9l0.5-5.6l0.5-14.2l0.4 11.1l0.5 1l0.5-4l0.4 2.5l0.5 5l0.4 2l0.5-0.8l0.5 3l0.4-7.1l0.5 4.9l0.5 0.8l0.4 6.5l0.5-3.1l0.5 10.7l0.4-3.8l0.5-0.7l0.5-0.2l0.4-1.1l0.5 3.7l0.4-16.6l0.5-12.2l0.5 15.2l0.4 15.7l0.5 8.4l0.5 0l0.4-13.1l0.5 9.6l0.5 1l0.4-6.3l0.5-6.4l0.4-9.4l0.5 7.1l0.5 2.7l0.4-7.7l0.5 6.5l0.5 14.1l0.4 3.3l0.5-3.7l0.5-2.3l0.4 0.1l0.5-3.3l0.4-1.1l0.5-3l0.5 7.3l0.4 6.6l0.5 5.5l0.5-4.2l0.4-2.5l0.5-4.7l0.5 3.5l0.4-6.2l0.5 9.7l0.5 4.4l0.4 5.5l0.5 0.7l0.4 0.5l0.5 1.7l0.5-4.9l0.4-3.6l0.5-1.1l0.5 3.1l0.4 1l0.5 4.6l0.5-4.2l0.4-2.8l0.5 1.1l0.4 9.9l0.5 6.7l0.5-6.2l0.4-13.7l0.5-2.9l0.5 14.2l0.4 8.7l0.5 6.3l0.5-7.8l0.4-6.1l0.5 5.1l0.4 12.4l0.5-16.6l0.5-26.2l0.4 6.6l0.5 8l0.5-1.5l0.4 7l0.5-5.5l0.5 0.5l0.4 0.6l0.5-10.5l0.5-2.5l0.4-3.1l0.5 11.1l0.4-11.2l0.5-2.1l0.5 4.3l0.4-3l0.5 3.9l0.5 3.4l0.4-8.2l0.5-7.4l0.5 7.3l0.4-1.6l0.5-10l0.4 0.5l0.5 0.3l0.5 1l0.4 6.8l0.5-5.8l0.5 4.3l0.4 5.2l0.5 2.1l0.5-8.8l0.4 0.4l0.5-3.9l0.4-0.5l0.5-3.7l0.5 1.3l0.4-2.7l0.5-7.4l0.5 5.9l0.4-1.5l0.5-2.7l0.5 7l0.4 4.6l0.5-0.3l0.5 9.6l0.4-4.4l0.5-7.2l0.4 5.3l0.5-0.3l0.5-4.1l0.4-8.6l0.5 4.8l0.5-1.8l0.4-0.4l0.5-1.1l0.5 3.3l0.4-3.1l0.5 1.7l0.4-2.1l0.5-4.6l0.5 2.3l0.4 4.8l0.5 1.2l0.5-3.6l0.4 6.5l0.5-9.5l0.5 1.5l0.4-3.8l0.5-4.3l0.4-3.1l0.5 5.6l0.5 9.2l0.4 1.5l0.5 8.4l0.5-2.7l0.4 1.2l0.5 1.5l0.5-3.6l0.4-1.9l0.5-2.3l0.5 0.3l0.4 11.6l0.5-2.9l0.4-11l0.5-0.9l0.5 1.8l0.4 0.5l0.5-4.4l0.5-3.7l0.4-0.1l0.5 7.6l0.5 1.4l0.4 0.6l0.5-4.6l0.4 4.8l0.5 12l0.5 1l0.4-1.6l0.5-5.4l0.5-6l0.4-4.4l0.5 3.6l0.5 4.4l0.4 4.2l0.5 1.3l0.4-6.6l0.5-3.5l0.5 0.3l0.4-1.8l0.5-5.2l0.5 0.6l0.4 0l0.5 1.1l0.5-1.9l0.4 8.2l0.5 12.2l0.4 5.6l0.5 5.2l0.5-3.9l0.4-1.2l0.5-5l0.5 0.5l0.4 8.3l0.5-3.1l0.5-4.5l0.4 1.2l0.5 5.7l0.5 0.2l0.4 3l0.5-4.2l0.4 8.6l0.5-7.6l0.5-1.4l0.4 9.8l0.5 3.6l0.5 1.3l0.4-0.7l0.5-6.2l0.5-0.6l0.4 0.6l0.5-7.8l0.4-4.9l0.5-6.6l0.5 10.8l0.4-4.9l0.5 6.7l0.5 1.7l0.4-1l0.5 5l0.5 1.8l0.4 6.6l0.5 7.7l0.4-6.6l0.5 2.9l0.5 6.1l0.4-3l0.5-7.4l0.5-5.1l0.4-15.3l0.5 3.1l0.5-6.5l0.4 5l0.5 6.7l0.5-4.2l0.4-5.8l0.5-2.1l0.4-11.3l0.5 17.4l0.5 1.8l0.4 1.9l0.5 0l0.5-8.6l0.4 0.2l0.5 2.6l0.5 6.9l0.4-0.1l0.5 39.4l0.4 27.8l0.5 27.9l0.5-29.3l0.4-28.1l0.5-30.9l0.5-2.5l0.4 1.6l0.5-6.3l0.5 1.9l0.4-3.1l0.5-7.8l0.4 3.4l0.5-4.1l0.5-0.3l0.4-9.5l0.5 2.7l0.5 2.4l0.4 8.2l0.5 11.8l0.5 5.2l0.4-2.9l0.5 1.2l0.5-4.9l0.4-5l0.5 4l0.4-1.5l0.5 1.3l0.5 1.2l0.4-2.8l0.5-10.1l0.5 3.4l0.4 6.1l0.5-0.5l0.5-9.7l0.4 6.1l0.5 5.1l0.4-0.6l0.5 8.4l0.5-1.9l0.4-9.4l0.5 12.8l0.5-0.1l0.4 5.6l0.5-7.5l0.5-5.8l0.4 1.7l0.5 5.9l0.4 1.7l0.5-2.8l0.5 4.4l0.4-6.5l0.5-2.1l0.5-0.9l0.4 4.3l0.5-5.1l0.5 3.7l0.4 4.9l0.5 24.5l0.5 31.6l0.4 26.9l0.5-27.2l0.4-25.9l0.5-26.6l0.5-1.7l0.4-1.4l0.5 1.4l0.5-0.3l0.4-6l0.5-14.6l0.5 15.5l0.4 7l0.5 11.8l0.4-5.6l0.5-2.8l0.5-5l0.4 3l0.5 5.1l0.5 3l0.4-18.4l0.5-1.2l0.5-6.3l0.4 0.9l0.5 6.6l0.4-0.4l0.5-5.6l0.5 2.2l0.4 1.6l0.5-8.2l0.5-2.6l0.4 3.5l0.5-0.6l0.5 3.5l0.4 5.8l0.5 9.1l0.5-5.8l0.4 0.2l0.5-8.3l0.4 2.7l0.5-1.9l0.5 2.9l0.4 4l0.5 1.9l0.5-1.5l0.4 2.9l0.5 1.8l0.5-1.8l0.4-2.6l0.5-1.9l0.4-9.4l0.5 23.3l0.5 16l0.4-25.5l0.5-17.9l0.5-6.4l0.4 4.4l0.5 9.1l0.5 13.7l0.4-5l0.5-4.4l0.4-10.2l0.5 1.7l0.5 0.8l0.4 2.8l0.5 8.2l0.5 6.1l0.4 4.6l0.5-1.7l0.5-5l0.4-1.3l0.5-1.3l0.5-3.7l0.4-0.7l0.5 1l0.4-17l0.5 7.1l0.5-6.2l0.4 5.3l0.5-7.5l0.5 3.1l0.4-4.6l0.5 4.6l0.5 8.9l0.4-4.8l0.5 0.5l0.4-4.2l0.5-11.2l0.5-2l0.4 7.9l0.5 10.3l0.5 1.8l0.4 5.4l0.5-4.1l0.5-5.2l0.4 7.7l0.5 8.5l0.4-3.3l0.5-10.6l0.5-3.9l0.4 2.2l0.5 3.7l0.5 3.1l0.4-11.5l0.5-0.6l0.5 3.6l0.4-5.4l0.5-5.2l0.4 11.4l0.5 12.7l0.5-7.4l0.4 20.8l0.5 17.3l0.5 14.7l0.4-15.3l0.5-13.4l0.5-19l0.4-0.5l0.5-3.7l0.5-8.6l0.4-9.4l0.5-10.2l0.4 12.5l0.5 8.6l0.5 12.7l0.4 2.7l0.5-5.8l0.5-1.9l0.4 4.8l0.5-4.7l0.5-5.3l0.4 2.8l0.5-1.9l0.4 2.6l0.5 4.1l0.5-1.9l0.4 0.9l0.5 2.6l0.5-3l0.4-4.5l0.5 4.6l0.5 4.9l0.4 1.5l0.5-6.9l0.4-1.4l0.5 5.8l0.5-14l0.4-7.8l0.5 11.3l0.5 16.2l0.4 3.2l0.5 4l0.5-13l0.4 4.5l0.5 3.5l0.5-0.6l0.4-6.3l0.5-12.3l0.4 2.8l0.5 9.9l0.5-10l0.4 1.6l0.5 5.8l0.5-3.9l0.4-6.7l0.5 3.3l0.5-0.8l0.4 9.6l0.5-2l0.4 3.2l0.5 0.3l0.5-2.8l0.4-2.4l0.5 4.7l0.5 2.2l0.4-3.7l0.5-1.4l0.5-11.1l0.4 0.9l0.5-1.4l0.4 10.1l0.5-3l0.5-6.4l0.4 2.9l0.5 4.2l0.5 4.1l0.4 0.6l0.5 0.6l0.5-1l0.4-5.9l0.5 7.8l0.5-10.3l0.4-2.8l0.5-0.6l0.4 1.8l0.5-6.4l0.5-14.8l0.4 2.2l0.5 7.1l0.5 9.2l0.4-5.4l0.5-1.1l0.5 4.9l0.4 4l0.5-9l0.4-1.6l0.5-19.3l0.5 17.1l0.4 7.2l0.5 1.7l0.5 1.2l0.4 3.1l0.5-5.4l0.5-2l0.4 7.4l0.5 0.8l0.4 0.5l0.5 2.2l0.5-1.1l0.4-4.8l0.5-7.3l0.5-0.2l0.4 4.2l0.5-3.8l0.5-13.6l0.4-2.2l0.5 4.6l0.5 15.6l0.4 11.4l0.5 6l0.4 0.2l0.5 3.3l0.5-5.3l0.4-3.2l0.5 11.4l0.5-19.8l0.4-20.3l0.5 0.4l0.5 2.2l0.4-4.5l0.5 6.2l0.4 8.3l0.5-5.4l0.5-3.3l0.4-1.2l0.5-0.8l0.5 7.7l0.4 13.8l0.5 2.6l0.5 4.1l0.4 3.8l0.5-4.9l0.4 1.6l0.5-0.9" fill="none" stroke="#3DA872" stroke-width="3.4" stroke-linejoin="round" stroke-linecap="round"/>
<path d="M711.3 716.4l0.5-8.2l0.4 129.5l0.5 131.5l0.5-134.2l0.4-133.9l0.5-7.3l0.4 7.1l0.5 0.3l0.5 10.2l0.4 7.1l0.5 1.1l0.5 4.5l0.4 5.6l0.5-2.4l0.5 3.6l0.4 3.1l0.5-8.8l0.4-4.5l0.5 11.3l0.5-0.2l0.4 4.7l0.5-11.5l0.5 7.7l0.4-4.6l0.5 3.1l0.5-2.3l0.4-1.2l0.5-4.8l0.5 15.2l0.4-5.6l0.5-13.3l0.4 7.6l0.5 7.8l0.5-5.5l0.4-4.2l0.5-0.6l0.5 1.8l0.4-13.3l0.5-20.6l0.5-14.6l0.4 11l0.5 6.7l0.4 19.2l0.5 10.6l0.5 12.7l0.4 12.3l0.5-5.6l0.5-17.6l0.4 1.2l0.5-7l0.5 0.2l0.4 8l0.5-12.3l0.4 1.8l0.5 0.7l0.5-6.1l0.4 1.9l0.5-4l0.5-3l0.4 5.1l0.5 18.8l0.5-20l0.4-5.6l0.5-8l0.5 4.6l0.4 17.1l0.5 14.1l0.4 3.1l0.5 3.9l0.5-15.2l0.4-3.7l0.5 7.2l0.5-1.5l0.4-10.6l0.5-7.6l0.5 7.2l0.4 21.2l0.5-10.6l0.4-7.9l0.5 1.3l0.5-1l0.4 0.5l0.5-4.2l0.5 32.3l0.4 34.7l0.5 35.9l0.5-37.5l0.4-42.7l0.5-45.1l0.4-2.8l0.5 7.2l0.5 2.7l0.4 22.2l0.5-12l0.5-8.2l0.4-4.9l0.5 8.5l0.5 3l0.4 9.4l0.5 0.2l0.5-10.2l0.4 5.6l0.5-0.1l0.4-0.6l0.5-10.9l0.5 2.5l0.4 8.4l0.5-6.3l0.5 35.2l0.4 47.5l0.5 47.8l0.5-50.2l0.4-48.1l0.5-51l0.4 7.7l0.5-2l0.5-3.3l0.4-9.8l0.5 6.1l0.5 9.5l0.4 5l0.5-3l0.5 1.6l0.4 6.6l0.5-2.5l0.4-8.6l0.5-11.1l0.5 15.6l0.4 17.9l0.5 20.1l0.5 4.9l0.4-15.2l0.5 0.9l0.5-16l0.4-2.3l0.5 11.6l0.5-30.4l0.4-26.9l0.5 22.6l0.4 19.5l0.5-1.4l0.5-8.5l0.4-13l0.5-9.8l0.5-16.1l0.4 22.9l0.5 26.5l0.5 15.8l0.4-5l0.5 2.6l0.4-3.4l0.5-15.7l0.5 3.9l0.4-21.3l0.5-11l0.5-4.3l0.4 15.3l0.5 10.5l0.5-6.2l0.4 6.1l0.5-2.7l0.4-1.8l0.5-13.1l0.5-17.4l0.4-21.6l0.5 24.9l0.5 26.2l0.4 25.9l0.5-9.6l0.5-8.3l0.4 14l0.5-21.9l0.5-27.3l0.4 32l0.5 34l0.4-1.4l0.5-7l0.5 4.6l0.4-10.9l0.5 7.7l0.5-8l0.4-1.1l0.5 13.4l0.5 10.9l0.4-9.8l0.5-16.6l0.4 17l0.5 26.3l0.5 24.6l0.4-24.1l0.5-19.1l0.5-27.2l0.4-1.8l0.5-8.4l0.5-2.2l0.4 9.1l0.5-1.2l0.4-1.2l0.5 6.2l0.5 7.4l0.4-11.6l0.5 5.7l0.5-5.1l0.4-10.4l0.5-6l0.5 11.7l0.4-2.7l0.5-17.4l0.4-17.4l0.5 25l0.5 12.9l0.4-21l0.5-13.3l0.5 18.4l0.4-0.1l0.5 16.1l0.5-9.3l0.4 22l0.5 6.3l0.5-6.4l0.4-9.4l0.5-14.2l0.4 38.7l0.5 32.1l0.5 28.8l0.4-29.8l0.5-21.8l0.5-20.3l0.4-2.6l0.5-7.4l0.5-3.3l0.4-17.5l0.5 13.1l0.4 10.7l0.5 3.4l0.5-4l0.4 6.5l0.5 5l0.5-6.7l0.4 5.6l0.5-3.5l0.5 7.4l0.4-2.8l0.5 3.1l0.4 7l0.5-14.7l0.5 3.8l0.4-5.8l0.5 2.4l0.5 2.7l0.4-1l0.5 1.2l0.5-7.1l0.4-20.8l0.5-17.2l0.5-14l0.4 16.8l0.5 14.8l0.4 16.1l0.5-5.7l0.5-5.7l0.4 7.6l0.5-19.5l0.5 7.6l0.4 1.9l0.5 6l0.5-12.5l0.4-3.7l0.5-5.2l0.4-4l0.5-7.2l0.5 10.8l0.4 16l0.5 11.6l0.5 2l0.4-2.5l0.5 13.2l0.5-24.2l0.4-16.2l0.5-11.5l0.4 8.1l0.5 5.2l0.5 14.1l0.4-4l0.5-0.1l0.5-6.9l0.4 11.8l0.5 12.8l0.5 1.2l0.4 7.8l0.5-11.6l0.5-6.1l0.4-4.7l0.5-6.2l0.4 5.1l0.5-0.7l0.5 10.8l0.4-12.2l0.5-21.4l0.5 16.6l0.4 1.9l0.5-1.3l0.5-7.7l0.4 1.3l0.5 15.7l0.4 35l0.5 35.7l0.5 34l0.4-29.6l0.5-37.1l0.5-33.9l0.4-3.1l0.5 12.2l0.5 7.4l0.4-0.9l0.5-4.9l0.4-5.7l0.5 44.2l0.5 40.8l0.4 39.6l0.5-41.5l0.5-41.4l0.4-41.1l0.5-3.3l0.5 3l0.4-8.7l0.5-5.1l0.5 0.7l0.4-2.5l0.5 1.3l0.4-4.5l0.5 2.2l0.5 6.1l0.4-2.3l0.5 1.4l0.5 9.3l0.4 2.6l0.5-2.9l0.5 4.5l0.4-0.2l0.5-1.4l0.4-15.7l0.5 0.8l0.5 1.9l0.4 12.7l0.5-0.6l0.5-1.6l0.4-1.8l0.5-1.8l0.5 2.5l0.4-11l0.5-5.4l0.4-1.1l0.5 13.1l0.5-5.3l0.4 4.2l0.5-5.3l0.5-9.2l0.4 13.1l0.5 22.3l0.5 3.1l0.4-10.1l0.5-21.7l0.5 7.5l0.4-2.5l0.5-16.2l0.4 14l0.5 1.5l0.5 16.9l0.4 4.6l0.5-1.5l0.5 12.7l0.4-2.4l0.5 0.4l0.5 5.2l0.4-20.9l0.5-8.1l0.4-12.7l0.5 14l0.5 15.8l0.4 15.8l0.5-2.1l0.5-1.5l0.4 1.6l0.5-0.8l0.5-2l0.4-3.8l0.5 4.7l0.4-9.5l0.5 3.5l0.5-16.3l0.4-3.6l0.5-3.6l0.5 10.1l0.4-12.2l0.5-9.6l0.5 14.8l0.4 11.2l0.5 13.4l0.5-24.4l0.4-13l0.5 8.9l0.4 4.8l0.5 11.3l0.5-3.4l0.4 11.5l0.5-6.1l0.5-27.7l0.4-31.6l0.5-30l0.5 26.9l0.4 26.2l0.5 44l0.4-3.3l0.5-10.6l0.5-6.5l0.4-2.6l0.5 0.5l0.5 19.8l0.4 8.4l0.5 7.4l0.5-13l0.4-5.6l0.5 1.1l0.4-13.1l0.5 3.1l0.5-12.9l0.4 8.8l0.5 1.7l0.5-3.7l0.4 3.2l0.5 4.2l0.5-11l0.4 9l0.5 5.6l0.4 6.8l0.5 1.7l0.5 3.4l0.4-1.1l0.5-9.3l0.5-1.1l0.4-1.3l0.5-10.7l0.5-3.5l0.4-16.7l0.5-3.2l0.5 3.6l0.4-0.6l0.5-5.7l0.4 72.7l0.5 52.6l0.5 57.7l0.4-57.6l0.5-58.2l0.5-54.5l0.4 3.8l0.5-3.2l0.5 7l0.4 10.4l0.5-5.2l0.4 3.3l0.5 4.3l0.5-1.3l0.4-8.5l0.5-8.4l0.5 2l0.4 5.6l0.5-1.9l0.5-2.3l0.4-8.5l0.5-7.4l0.4 9.4l0.5 8.9l0.5 12.5l0.4-5.2l0.5-6.9l0.5 7.9l0.4-2.7l0.5-1.2l0.5-0.7l0.4 1l0.5 3.5l0.5 8.5l0.4-5.8l0.5-2.2l0.4-1.9l0.5-0.1l0.5 6.3l0.4-6l0.5-4l0.5 3.7l0.4-11.4l0.5 14.7l0.5-2.9l0.4 9.2l0.5 4.2l0.4-7.5l0.5-17.6l0.5-15.9l0.4-11.3l0.5 5.5l0.5 8l0.4 0.9l0.5-10.1l0.5 13.2l0.4-3l0.5-9.8l0.4 8.2l0.5 10.9l0.5 10.1l0.4-11.7l0.5-20l0.5-12.2l0.4 13.2l0.5 15.5l0.5 15.9l0.4-5.7l0.5-6.1l0.5-1.7l0.4 41.5l0.5 38.7l0.4 40.9l0.5-38.2l0.5-34.8l0.4-29.6l0.5-12.1l0.5-11l0.4 11.3l0.5 15.8l0.5-5.3l0.4 4.1l0.5 6.3l0.4 1.3l0.5-1.8l0.5-9.6l0.4 0.4l0.5 0.4l0.5 20.3l0.4-0.7l0.5-2.8l0.5 8.2l0.4 4.6l0.5-0.5l0.4-12.2l0.5 8l0.5-37.7l0.4-19.3l0.5 16.7l0.5 20.7l0.4-2.9l0.5-10.4l0.5 9.2l0.4-8.8l0.5 1.2l0.5 10.1l0.4 5.6l0.5 9.6l0.4 0.3l0.5-1.8l0.5 0.8l0.4-33.9l0.5-23.5l0.5-24.5l0.4 19.1l0.5 20.8l0.5 16.8l0.4 17.2l0.5-0.6l0.4 1.7l0.5-5.6l0.5-0.8l0.4-0.7l0.5-8l0.5-2.1l0.4-0.2l0.5-8.9l0.5-10.2l0.4-8l0.5 6.3l0.4-1.2l0.5 4.6l0.5 13l0.4 4.6l0.5-2.3l0.5 9l0.4 8.7l0.5-6.2l0.5 7.3l0.4-7.4l0.5 5.7l0.5-13.1l0.4-8l0.5 2.9l0.4-0.8l0.5-3.8l0.5 6.1l0.4-11.5l0.5-12.7l0.5 1.5l0.4 9.4l0.5 0.1l0.5-10.5l0.4-10l0.5-11.5l0.4 7.6l0.5 11.1l0.5 4.9l0.4-2.4l0.5 3.5l0.5 0.5l0.4-2.1l0.5 9.9l0.5 11.9l0.4 23.6l0.5-18.2l0.4 10l0.5 2l0.5-14.1l0.4-3.6l0.5 3.1l0.5-3.8l0.4-6.3l0.5 66.1l0.5 79.6l0.4 75.5l0.5-74.9l0.4-68.3l0.5-87.7l0.5-8.1l0.4-11.6l0.5 7l0.5 12.6l0.4 6.2l0.5 6.4l0.5 2.3l0.4 4.9l0.5-10.8l0.5-3.8l0.4 13.4l0.5-0.1l0.4-5.8l0.5-2.2l0.5-2.8l0.4-1.5l0.5-1.9l0.5 9.4l0.4-20.2l0.5-10.2l0.5-18.5l0.4 19.8l0.5 32.4l0.4 21.6l0.5-12.2l0.5-11.1l0.4-6l0.5-2.2l0.5-6.4l0.4 7.5l0.5 2.1l0.5 7.3l0.4-0.3l0.5-0.9l0.4-4.9l0.5-3l0.5 8.9l0.4 8.2l0.5 5.4l0.5 3.2l0.4 7.5l0.5-3l0.5-8.1l0.4-1.6l0.5-4.1l0.5-10.6l0.4 5.6l0.5 6.4l0.4-1.1l0.5-14.8l0.5-4.4l0.4 9.6l0.5-8.6l0.5 8.1l0.4 3.9l0.5 2.5l0.5 8.1l0.4 0.9l0.5-5.8l0.4-11.8l0.5-11.5l0.5 15.8l0.4 6.5l0.5-2l0.5-26.5l0.4-16.8l0.5-19l0.5 16.5l0.4 4.3l0.5-8.3l0.4 16l0.5 27.1l0.5 20.3l0.4-10.4l0.5-5.9l0.5-4.2l0.4-13.2l0.5-8.3l0.5-13.9l0.4 12.7l0.5 13.2l0.5 17.7l0.4-15.8l0.5-10.6l0.4 0l0.5 1.1l0.5 5.3l0.4 1.6l0.5 4.3l0.5 4.3l0.4-9.5l0.5-12l0.5-12.4l0.4 13.4l0.5 24.3l0.4 10.1l0.5-10.9l0.5-14l0.4 0.2l0.5-7.4l0.5 11.4l0.4 18l0.5 10.8l0.5-5.4l0.4-15.2l0.5-17.1l0.4-10.6l0.5 17.5l0.5 14.6l0.4 9.1l0.5-5.1l0.5-3.7l0.4 7.7l0.5 1.7l0.5 0.9l0.4-26.8l0.5-12l0.5 19.7l0.4 20.9l0.5 2.7l0.4-15l0.5-2l0.5-2.1l0.4-10.1l0.5 2l0.5 26.7l0.4-4.2l0.5 6.2l0.5-20.7l0.4-5.6l0.5-10l0.4 8.6l0.5 9.7l0.5-0.8l0.4-15l0.5 14.6l0.5 13.7l0.4-26.2l0.5-10l0.5 8.4l0.4 22.2l0.5-15.4l0.4 2.8l0.5 2l0.5 10.8l0.4-18.1l0.5 11l0.5-0.1l0.4 8.3l0.5-1.5l0.5 12.3l0.4-11.4l0.5 7.7l0.5-5.7l0.4 9.2l0.5-17.7l0.4 8.7l0.5-8l0.5 3.2l0.4 11.5l0.5-7.3l0.5-12.8l0.4-3.5l0.5 10.2l0.5-9.6l0.4-4l0.5 1l0.4-0.1l0.5-13.9l0.5-15.6l0.4 17l0.5 14.1l0.5 5.9l0.4-5.9l0.5 6.6l0.5-16.7l0.4 12.7l0.5 17.2l0.4-13.2l0.5-4.6l0.5-2.3l0.4 6.7l0.5-14.9l0.5 14.2l0.4-6l0.5-19.5l0.5-15.2l0.4 10.3l0.5 10.2l0.5 27.8l0.4 9.2l0.5-12.3l0.4-9.4l0.5-8.1l0.5 11.5l0.4 33.2l0.5 39.5l0.5 34.6l0.4-32.8l0.5-36.3l0.5-32.6l0.4 7.2l0.5-3.9l0.4-9.6l0.5 8.7l0.5-7l0.4-14.2l0.5-5.4l0.5 12.2l0.4 13.4l0.5-4.7l0.5-10.2l0.4 8l0.5 7.9l0.4-0.9l0.5-15.8l0.5-14.9l0.4 21.4l0.5 11.9l0.5 12.7l0.4-5.8l0.5 9.6l0.5-20.6l0.4-0.2l0.5 11.2l0.4 6.5l0.5-15.1l0.5-5.2l0.4-14.5l0.5 6.1l0.5 0.3l0.4 9.4l0.5 6.7l0.5 6.7l0.4-0.5l0.5 5.4l0.5-20.3l0.4-19.1l0.5-17.6l0.4 18.3l0.5 11.7l0.5 30.4l0.4 3.5l0.5-10.1l0.5-5.1l0.4 7.7l0.5-1l0.5-0.6l0.4 11.6l0.5-7.4l0.4 32.9l0.5 44.2l0.5 43.5l0.4-45.1l0.5-49.4l0.5-50.7l0.4 3.9l0.5 2.4l0.5 1.8l0.4 4.3l0.5 7.3l0.4-9.9l0.5 5.3l0.5 17.4l0.4-10.5l0.5-13.4l0.5-6.6l0.4 1.4l0.5 6l0.5 10l0.4-10.9l0.5-8.7l0.5 10.3l0.4-8.3l0.5 4.4l0.4 5.7l0.5-0.3l0.5 8l0.4-24.5l0.5-23.6l0.5-15.9l0.4 17.8l0.5 20.1l0.5 25.2l0.4-4.4l0.5-1.4l0.4-3.1l0.5-2.1l0.5-1.7l0.4 7.3l0.5 5.9l0.5-18.8l0.4-13.2l0.5 1.7l0.5 1.6l0.4-1.8l0.5-3.8l0.4 9l0.5-14.5l0.5-3.5l0.4 7.6l0.5 2.5l0.5-1.6l0.4 22.8l0.5 1.7l0.5 4.8l0.4-3l0.5 2.8l0.5 3.8l0.4 6.8l0.5-2.8l0.4-4.1l0.5 13l0.5-6.2l0.4-32.9l0.5-28.7l0.5 27.6l0.4 22.4l0.5-14.7l0.5 4l0.4-4.9l0.5 7.6l0.4 5.2l0.5 2.4l0.5 10.1l0.4-6.4l0.5 4.2l0.5 0.9l0.4 1.2l0.5 11.2l0.5 4l0.4-7.3l0.5-8.1l0.4 9.6l0.5-4.8l0.5-1l0.4-8.3l0.5 8.3l0.5-3.1l0.4-6.2l0.5 6.2l0.5 1.3l0.4-14.1l0.5-22.1l0.5-18.6l0.4 18.7l0.5 24.4l0.4 27.8l0.5-10.3l0.5-2.2l0.4 14.9l0.5-10.9l0.5 4.5l0.4-2.6l0.5 3.4l0.5 4.3l0.4-2.7l0.5-2.8l0.4-7.9l0.5-6.1l0.5-4.2l0.4-15.1l0.5 4.3l0.5-2.4l0.4-7.7l0.5 15.6l0.5 7.6l0.4-2.7l0.5-1.5l0.4 8l0.5 6.4" fill="none" stroke="#C874AC" stroke-width="3.4" stroke-linejoin="round" stroke-linecap="round"/>
<path d="M711.3 747.9l0.2 17.7l0.3 23.8l0.2 19.4l0.3 19.4l0.2 25.7l0.2-24.2l0.3-12.6l0.2-12.8l0.2-17.4l0.3-35.4l0.2 22.5l0.3 18.2l0.2-7.2l0.2-9.2l0.3-39.5l0.2-7.7l0.2-2.8l0.3-4l0.2-4.3l0.3 13.8l0.2 27.8l0.2 7.6l0.3-0.9l0.2-14.6l0.2 46l0.3 15.7l0.2-14.9l0.3 11l0.2-28.5l0.2-16.2l0.3 39.5l0.2-12.1l0.2-2.9l0.3-35.9l0.2-46.7l0.3 49.6l0.2 45.9l0.2 1.8l0.3-1l0.2-1l0.2-28.7l0.3 4.1l0.2 10.8l0.3-5.6l0.2-1.6l0.2-14l0.3 8.5l0.2 26.4l0.3 14.6l0.2 14.2l0.2 20.4l0.3-14.7l0.2-8l0.2-31.7l0.3-46.8l0.2-25.5l0.3 7l0.2 8.6l0.2-9l0.3-2l0.2-5.5l0.2 0.6l0.3 0.6l0.2 4.3l0.3 0.7l0.2-2.7l0.2 4.8l0.3-0.7l0.2 11.1l0.2 5.3l0.3 4.4l0.2 7.4l0.3-1.4l0.2 7.6l0.2-7.8l0.3 7.4l0.2-17l0.2 7.2l0.3 0.1l0.2 3l0.3 2.3l0.2 2l0.2-0.1l0.3-3.4l0.2-17.1l0.2-3.1l0.3-4.7l0.2-7.8l0.3 1.3l0.2-1.2l0.2-1.2l0.3 2.8l0.2 4.2l0.3-4.9l0.2 2l0.2-7.8l0.3 0l0.2 0l0.2 5l0.3 5.4l0.2-2.9l0.3 3.5l0.2 13l0.2 2.1l0.3-3.7l0.2-3.3l0.2-9.9l0.3-3.1l0.2 9.3l0.3 6.7l0.2 4.8l0.2-19.5l0.3-10.7l0.2-6.3l0.2-1l0.3 6.3l0.2 11l0.3-1.1l0.2 7.4l0.2 1.4l0.3-5.3l0.2 5.1l0.2 11.1l0.3-18.7l0.2 11.1l0.3 11.2l0.2 11.3l0.2-16.7l0.3-10l0.2-18.5l0.2-12.2l0.3-13.5l0.2 10.1l0.3 15.4l0.2 19.5l0.2 13.8l0.3 11.9l0.2 14.9l0.2 7l0.3 10.6l0.2-7.1l0.3-7.8l0.2-5.4l0.2-11.9l0.3-3.8l0.2-6.8l0.3 5.1l0.2-9.7l0.2 8.1l0.3 3.5l0.2-7.3l0.2 5.3l0.3 5.6l0.2-8l0.3 8l0.2 0.9l0.2-0.1l0.3 0l0.2-0.1l0.2-0.1l0.3 0l0.2-0.1l0.3-0.1l0.2 5l0.2-4.2l0.3 5.1l0.2 7.5l0.2 11.8l0.3-11.8l0.2-7.4l0.3-2.9l0.2 1.5l0.2-5.2l0.3-0.1l0.2-0.1l0.2 0l0.3-0.1l0.2-0.1l0.3 0l0.2-0.1l0.2-0.1l0.3 0l0.2-1l0.2-6l0.3-9.1l0.2 2.4l0.3 5.7l0.2 8l0.2-9.9l0.3-11.9l0.2 11.9l0.3 1.8l0.2 8.1l0.2-13.6l0.3-7.4l0.2 15.3l0.2-18.8l0.3 5l0.2 12.8l0.3-5.8l0.2-2.9l0.2 15.1l0.3-9.6l0.2-31.9l0.2-23.9l0.3 21.2l0.2 33.8l0.3-6.6l0.2 0.7l0.2-9.8l0.3 7.8l0.2 3.8l0.2 3.3l0.3-2l0.2 14.2l0.3 7.9l0.2 16.1l0.2 7.2l0.3 10.1l0.2-8.4l0.2-12.1l0.3-21.5l0.2-22.8l0.3-14.9l0.2 0.7l0.2-3l0.3 12.1l0.2 8l0.2 3.9l0.3 5.7l0.2 3.6l0.3 6.7l0.2 0l0.2 0l0.3 0l0.2 0l0.3 0l0.2 0l0.2 0l0.3-1l0.2 1l0.2 0l0.3 0.1l0.2 0l0.3 0l0.2 0l0.2-0.3l0.3 0.3l0.2-5.1l0.2-1.3l0.3-7.1l0.2 0.5l0.3 0.2l0.2 12.1l0.2 0.7l0.3-24.2l0.2-4l0.2-6.7l0.3 5.7l0.2 9.2l0.3 11.9l0.2 5.5l0.2-4l0.3-7.6l0.2 4.2l0.2-4.1l0.3-6.5l0.2 5l0.3-21.2l0.2 12l0.2 4.9l0.3-8.4l0.2 13.2l0.2-7.8l0.3 7.8l0.2 2.5l0.3-0.3l0.2-3.6l0.2-17.7l0.3-1l0.2-9.9l0.3-4.6l0.2-10.3l0.2-0.7l0.3 10.3l0.2 20.4l0.2 11.3l0.3 7.4l0.2-5.8l0.3 0.5l0.2-3.5l0.2 3.6l0.3-3.9l0.2-6.1l0.2 20.5l0.3-13.2l0.2 5.6l0.3-10l0.2 9.5l0.2-1.9l0.3 3.9l0.2 12.2l0.2-6.4l0.3-5.5l0.2 11.6l0.3-7.6l0.2-7.7l0.2 18.4l0.3-5.5l0.2 8.8l0.2 5.3l0.3 2.8l0.2-2.8l0.3-2.9l0.2-2.8l0.2-18.4l0.3-17.3l0.2-15l0.2 13.5l0.3 2.6l0.2-9l0.3-13.6l0.2-11.7l0.2-15.8l0.3 13.3l0.2 16l0.3 8.7l0.2 7.9l0.2 28.3l0.3 10.8l0.2 17.2l0.2 7.5l0.3-12.5l0.2-5.5l0.3-1.2l0.2-6.3l0.2-2l0.3-15.9l0.2-4.6l0.2-13.2l0.3 6.2l0.2-3.9l0.3 5l0.2-1.9l0.2-3.9l0.3-0.3l0.2 6.9l0.2-6.3l0.3 5.6l0.2-2.5l0.3 1.6l0.2 3.6l0.2-5.7l0.3-10.1l0.2-10.9l0.2-5.1l0.3 5.3l0.2 8.9l0.3-1.7l0.2 7.9l0.2 9.2l0.3-2.3l0.2 6.5l0.2-4.2l0.3 4.1l0.2-11.8l0.3-7.2l0.2 7.5l0.2 2.2l0.3 9.1l0.2 7.1l0.3 9.4l0.2 8.5l0.2-3.9l0.3-8.6l0.2-5.7l0.2-5l0.3-1.7l0.2-3.5l0.3 1.7l0.2 6.1l0.2-14l0.3-4.1l0.2 9.7l0.2-9.5l0.3 8l0.2-16.6l0.3 6.1l0.2-5.8l0.2 5.2l0.3 11.2l0.2 7.7l0.2-0.6l0.3-13l0.2-1.4l0.3-0.6l0.2 2.4l0.2-7.4l0.3-7l0.2 4.9l0.2 0.9l0.3 11.9l0.2 5.7l0.3-2l0.2 17.2l0.2-28.8l0.3-6.9l0.2 4.4l0.2 11.4l0.3 4.1l0.2-0.4l0.3 2.3l0.2 1.8l0.2-3.2l0.3-20.5l0.2 0l0.2 0l0.3 13.8l0.2-13.8l0.3 1.9l0.2-1.2l0.2-0.8l0.3 0l0.2 0l0.3 1.2l0.2-1.2l0.2 0l0.3 0l0.2-0.1l0.2 0l0.3 12.8l0.2-12.8l0.3 13.6l0.2-13.6l0.2 13.2l0.3 15.6l0.2-16.8l0.2 39.3l0.3 9.6l0.2-12.1l0.3-7.2l0.2 0l0.2 0l0.3-2l0.2-5.8l0.2-10.3l0.3 7.1l0.2 11l0.3-2.1l0.2-14.8l0.2-5.6l0.3-21.4l0.2 0.2l0.2-5.7l0.3-7.6l0.2 4.9l0.3 4.4l0.2 9.7l0.2 0.8l0.3-3.3l0.2 6.8l0.2-8.3l0.3 12.6l0.2 13.5l0.3-4.8l0.2-12.2l0.2 7.7l0.3 0.5l0.2-4.4l0.3-3.1l0.2 0.1l0.2 18.9l0.3 5.5l0.2 14.5l0.2 10.2l0.3 9l0.2-8.6l0.3-6.9l0.2-3.7l0.2-13.1l0.3-16.4l0.2 7.9l0.2-3l0.3 0.7l0.2 15.8l0.3-13.9l0.2-10.4l0.2 4.3l0.3-6.6l0.2-6.2l0.2 10.5l0.3-6.8l0.2 1.3l0.3-10.2l0.2-2.7l0.2-0.5l0.3 4.4l0.2 1.1l0.2 9.6l0.3-0.5l0.2 7.8l0.3-2.3l0.2 10l0.2 12.3l0.3-10.3l0.2-1l0.2 1l0.3-5.7l0.2 6.9l0.3-17.8l0.2-6.5l0.2-9.2l0.3 0l0.2 5.4l0.3-5.4l0.2 7.3l0.2-0.3l0.3 2.9l0.2-7l0.2 1.3l0.3 9l0.2-10l0.3 0.8l0.2-4.2l0.2 0l0.3 4.5l0.2 13.8l0.2 12.1l0.3 15.3l0.2 7l0.3 6.9l0.2 5l0.2-5.4l0.3-3.2l0.2-4.3l0.2-1.3l0.3-1.7l0.2 5.6l0.3-3.7l0.2-3.8l0.2-3.7l0.3 0l0.2 0l0.2 0l0.3 0l0.2-2.7l0.3-7.9l0.2 10.6l0.2-0.2l0.3-7.9l0.2 2.3l0.2-8.4l0.3 8.2l0.2-14l0.3-1.6l0.2-8.4l0.2-17.6l0.3-9.1l0.2-1.8l0.3-7.4l0.2 10l0.2 6.6l0.3 14.2l0.2 9l0.2 19.8l0.3 4.6l0.2-0.3l0.3-3.6l0.2-1.3l0.2-8.9l0.3-13.7l0.2-10.4l0.2 11.2l0.3 10.2l0.2 19.6l0.3 0l0.2-1.9l0.2-4.3l0.3 1.5l0.2 0.1l0.2-3l0.3 0.9l0.2 3.6l0.3 3.4l0.2 0.1l0.2-4.9l0.3 4.9l0.2 0.1l0.2 5.8l0.3 1.5l0.2 3.4l0.3 10.6l0.2 7.6l0.2-8.2l0.3-11.1l0.2-9.1l0.2-1.3l0.3-16.6l0.2-10.8l0.3 14.3l0.2-5.9l0.2 2.3l0.3-16.3l0.2 3.7l0.3-8.2l0.2-1.8l0.2 15.2l0.3-5.7l0.2 3.8l0.2-15.8l0.3 1.3l0.2-1.2l0.3 6.1l0.2-6l0.2 0l0.3 0.1l0.2 10.9l0.2 12.8l0.3 10.6l0.2 9.4l0.3-10.9l0.2-10.8l0.2-10.9l0.3-10.8l0.2 5.8l0.2-11.6l0.3-5.8l0.2-5.8l0.3-5.9l0.2-5.9l0.2 7.2l0.3 6.5l0.2 4l0.2 6l0.3 5.9l0.2 0.1l0.3 0l0.2 0l0.2 0.1l0.3 0l0.2 0l0.2 0.2l0.3 5.8l0.2 9.1l0.3 19.8l0.2 10l0.2 14.9l0.3 14.9l0.2-14.9l0.2-14.8l0.3-14.9l0.2-14.8l0.3-2.8l0.2-9.1l0.2 12.5l0.3-15.3l0.2 9l0.3-7l0.2-1.9l0.2 22.4l0.3-22.3l0.2 0.1l0.2 0l0.3 0l0.2 8l0.3 7.7l0.2 3.4l0.2 9.6l0.3-10.6l0.2 13.2l0.2-10.5l0.3 17.8l0.2 21.4l0.3-26.7l0.2-14.8l0.2-12.5l0.3 8.5l0.2 27.5l0.2-6.8l0.3-10.5l0.2-11l0.3 15.4l0.2 2.6l0.2-1l0.3-9.6l0.2-4.3l0.2 4.4l0.3-15.4l0.2 5.4l0.3 6.2l0.2-0.2l0.2 3.9l0.3 13.9l0.2-19.9l0.2-11.6l0.3-9.2l0.2-4.4l0.3-9.5l0.2-9.8l0.2 7.5l0.3 9.7l0.2 6.8l0.3 19.4l0.2-4.4l0.2-3.3l0.3-4.7l0.2 0.1l0.2 1.3l0.3 4.2l0.2-7.2l0.3 0.3l0.2-3.4l0.2-3.1l0.3-2l0.2 7.5l0.2-0.9l0.3 4.7l0.2 10.1l0.3-6.1l0.2 16.8l0.2-7.4l0.3-7.9l0.2 7.2l0.2-3l0.3 8.3l0.2 3.5l0.3 14.4l0.2 1.8l0.2 9l0.3 1l0.2 6.3l0.2 2.5l0.3 5.1l0.2-3.7l0.3-3.7l0.2-6.3l0.2 5.3l0.3 9.6l0.2 6.9l0.2 8.5l0.3-9.2l0.2-8l0.3-4.3l0.2-7.6l0.2-10.3l0.3 4.7l0.2-10.6l0.3-8.5l0.2-6.3l0.2 9.8l0.3 3.5l0.2 12.3l0.2-22.3l0.3 11.2l0.2-1.6l0.3-2l0.2-22.7l0.2 27.4l0.3-8.3l0.2-8.2l0.2 2.4l0.3 23.9l0.2-16.9l0.3-2.6l0.2 10.8l0.2-24.4l0.3 3.3l0.2 4.6l0.2 8.7l0.3-2.7l0.2 10.5l0.3 10.5l0.2 12.4l0.2 11.9l0.3-9.8l0.2-12.3l0.2-12.7l0.3-7.2l0.2-6l0.3 13.1l0.2 3l0.2 3.8l0.3-0.7l0.2 3.8l0.2-4.8l0.3 5.2l0.2-4.3l0.3-0.8l0.2-9.4l0.2 0.5l0.3-3.1l0.2 12.1l0.3 2.9l0.2-7.7l0.2-12.7l0.3-19.1l0.2-9.5l0.2-28.8l0.3-24.9l0.2-23.7l0.3 20.8l0.2 14.6l0.2 9.7l0.3 12.1l0.2 20.8l0.2 8.4l0.3 16.2l0.2 11.2l0.3-3.9l0.2-11.5l0.2 11.3l0.3-4.9l0.2-15.1l0.2-1.2l0.3 16.4l0.2-0.2l0.3-14.3l0.2 3.8l0.2 7l0.3-5.7l0.2 9.6l0.2 4l0.3 8.6l0.2-4.3l0.3 9.7l0.2 6.8l0.2-7.3l0.3-5.3l0.2-9.4l0.2-12.5l0.3-8.5l0.2 0l0.3 0l0.2 20l0.2-12.3l0.3-1.6l0.2 27.6l0.3-10.1l0.2 8.2l0.2-0.7l0.3-6.7l0.2 1.6l0.2-3.6l0.3-19.9l0.2 5.1l0.3-1.6l0.2 3.3l0.2 0.4l0.3 19.3l0.2 12.8l0.2-15l0.3 2.9l0.2 2.2l0.3 11.4l0.2-7.1l0.2-12l0.3 14.4l0.2-12.1l0.2-5.4l0.3 6.1l0.2-10.9l0.3 31.4l0.2 17.4l0.2-16.5l0.3-1.2l0.2 6.1l0.2 6.8l0.3 8.1l0.2-11.9l0.3-12.2l0.2-17.5l0.2-16.1l0.3-12.4l0.2 5.1l0.2-2.6l0.3-1.4l0.2 0.9l0.3 0l0.2 3.9l0.2-4l0.3 13.4l0.2-1.4l0.2-0.4l0.3-9.5l0.2 24.8l0.3 22.8l0.2 14.1l0.2 11.2l0.3 7.7l0.2-11.8l0.3-12.5l0.2-24.7l0.2-17.1l0.3-14.3l0.2-1.5l0.2 6.3l0.3-2.8l0.2 5.6l0.3-9.9l0.2 3.5l0.2 1.7l0.3 0.2l0.2 4.5l0.2-4.2l0.3-5.7l0.2 0l0.3 11.9l0.2-11.7l0.2-0.2l0.3 2.6l0.2-7.2l0.2-6.6l0.3 8.8l0.2 20.4l0.3-5.8l0.2 7.1l0.2-12.4l0.3 12.4l0.2-12.8l0.2 1.8l0.3 5.3l0.2 13.4l0.3 4.6l0.2-20l0.2-5.4l0.3-2.6l0.2 2.6l0.2-6.2l0.3 0l0.2 1l0.3 8.6l0.2-9.6l0.2 14.1l0.3 14.1l0.2 14l0.3 14.6l0.2 13.5l0.2-14l0.3-14.1l0.2-14l0.2-16.4l0.3-17.9l0.2-8.2l0.3-5.2l0.2-12l0.2 11.8l0.3 14l0.2 9.6l0.2 15l0.3 7.4l0.2 8.6l0.3-8l0.2-7.4l0.2 14.9l0.3 6.2l0.2 13.6l0.2 6.4l0.3 11.9l0.2-11.3l0.3-8.7l0.2-16l0.2-7.9l0.3-15.1l0.2-11.8l0.2 12l0.3-13.7l0.2 0l0.3 0l0.2 5.1l0.2 11.1l0.3 10.2l0.2 4.5l0.2-4.7l0.3 10.1l0.2-6.3l0.3-9.7l0.2-8.3l0.2 22l0.3-19.3l0.2 18.2l0.3-15.9l0.2 13l0.2-10.4l0.3 9.2l0.2-4.1l0.2-4.9l0.3-3l0.2-7.9l0.3-3.8l0.2 1.5l0.2 5l0.3 7.7l0.2-1l0.2 9.1l0.3-5.2l0.2 6.7l0.3 2.1l0.2 8.9l0.2-6.6l0.3 6.5l0.2-5.4l0.2 0.4l0.3-2.5l0.2-1.9l0.3-5.5l0.2-1.6l0.2-7.5l0.3 8.8l0.2-3.7l0.2-0.2l0.3 7.4l0.2-4.4l0.3-8.9l0.2-1.4l0.2 14l0.3 3.8l0.2-13.3l0.2-5.1l0.3 2.1l0.2 6.9l0.3 2.6l0.2 10.4l0.2 11.6l0.3 11.6l0.2-8.2l0.3-10.7l0.2-14l0.2-7l0.3-11.3l0.2 5.9l0.2 2.2l0.3-14.3l0.2 17.4l0.3-0.1l0.2-15.7l0.2-2.2l0.3 0l0.2 0l0.2 2.2l0.3-2.2l0.2 0l0.3 11.3l0.2-8.9l0.2 11l0.3 3.4l0.2-8.5l0.2 18.7l0.3 4.2l0.2 18.9l0.3 13.8l0.2 8.6l0.2-2.5l0.3 3.4l0.2 8.8l0.2-8.6l0.3-13.9l0.2-8.3l0.3-4.8l0.2 2.1l0.2 3.9l0.3 10.5l0.2-10.5l0.2-10.1l0.3-1.9l0.2-3.7l0.3-9.1l0.2 4.1l0.2-2.7l0.3 1.5l0.2-4.8l0.3 6.6l0.2 5.7l0.2 0l0.3-21.3l0.2 5.9l0.2-10.2l0.3 16l0.2-12.1l0.3 7.7l0.2-7l0.2 6.9l0.3 1.8l0.2-0.2l0.2-1.9l0.3-6.3l0.2-15.3l0.3-13.5l0.2 10.2l0.2 12.1l0.3 12l0.2 1.1l0.2-4.7l0.3 13.1l0.2-19.9l0.3-17.9l0.2-9.9l0.2-16.8l0.3-16.2l0.2 17.1l0.2 16.2l0.3 11l0.2 24.1l0.3 13.7l0.2-7.6l0.2 1.6l0.3-3l0.2-7.1l0.2 4.7l0.3 1.8l0.2-4.2l0.3 7.9l0.2-0.8l0.2-7.6l0.3 0.8l0.2-3.4l0.3-4.2l0.2 12.3l0.2-15.8l0.3 7.2l0.2-6.3l0.2 6.5l0.3-7.4l0.2 3l0.3 0.7l0.2-6.3l0.2-5.9l0.3 7.1l0.2 1l0.2 1.6l0.3-5.4l0.2 12.9l0.3 6.2l0.2-10.4l0.2 2.3l0.3-10l0.2 23l0.2 15.8l0.3 13.1l0.2 18.4l0.3 13.9l0.2-12.9l0.2-11.9l0.3-17l0.2-8.3l0.2-5.3l0.3-2.7l0.2-6.1l0.3 5.1l0.2-2.8l0.2-9.5l0.3 7.8l0.2 5.5l0.2 1.8l0.3 2.8l0.2-5.4l0.3 3.8l0.2 0.7l0.2 0.9l0.3 0l0.2 0l0.2-1.6l0.3-4.5l0.2-7.3l0.3-1.8l0.2-7.5l0.2 0.2l0.3 6.5l0.2-5.3l0.3 8.2l0.2-5.2l0.2-6.1l0.3-6.9l0.2-2.3l0.2 15.3l0.3-4.3l0.2 2.2l0.3 3.9l0.2-1.7l0.2 4.7l0.3 2.5l0.2 7.2l0.2-6.8l0.3-8.8l0.2 0.4l0.3 17.9l0.2 23.9l0.2 27.3l0.3 19.1l0.2 21.7l0.2-23.5l0.3-25.2l0.2-26.5l0.3-22.4l0.2-25l0.2-2.6l0.3 0l0.2 34.9l0.2 34.9l0.3 34.9l0.2 34.9l0.3 34.9l0.2-34.9l0.2-34.7l0.3-35l0.2-30.4l0.2-32.9l0.3 33.6l0.2 23l0.3 27l0.2 25l0.2 24.5l0.3-26.1l0.2-26.5l0.3-25.7l0.2-24l0.2-18.2l0.3 2.9l0.2 4.3l0.2-2.6l0.3 44.6l0.2 33.5l0.3 26.4l0.2 11.3l0.2 18.2l0.3-25.6l0.2-28.6l0.2-22.7l0.3-29.8l0.2-26.4l0.3 5.2l0.2 2.4l0.2 0.9l0.3 0l0.2 0l0.2-5.9l0.3 5.9l0.2-0.1l0.3-5.1l0.2 2.9l0.2-12.2l0.3 13.4l0.2-4l0.2 5l0.3-1.3l0.2-0.7l0.3-8.9l0.2 10.9l0.2-4.9l0.3 4.6l0.2 0.3l0.2-3.9l0.3 0.3l0.2 3.7l0.3 0l0.2-0.6l0.2 0.6l0.3 0l0.2-6.8l0.3 2.8l0.2-5.2l0.2 0.1l0.3-8.5l0.2-14.6l0.2-17.9l0.3-14.8l0.2-14.7l0.3 15l0.2 12.7l0.2 15.9l0.3 14.3l0.2 12.4l0.2-5l0.3 2.6l0.2-9.7l0.3-0.1l0.2 10.2l0.2-2.2l0.3-9.8l0.2 4.8l0.2 2.8l0.3 4.8l0.2 12.8l0.3 10.5l0.2 10.3l0.2 8.8l0.3-7.5l0.2-5.2l0.2-8.3l0.3-7.8l0.2-9.4l0.3 1.3l0.2-1.6l0.2 0.1l0.3 3.2l0.2-8l0.2 11.8l0.3 0l0.2 0l0.3 0l0.2 0l0.2 0l0.3 0l0.2-11.2l0.3-6.5l0.2-0.1l0.2-6.5l0.3-7.9l0.2 0l0.2 1l0.3 10.4l0.2 0.1l0.3 4.7l0.2-7.3l0.2 4.2l0.3-4.8l0.2-0.6l0.2-3.2l0.3 4.5l0.2 14.6l0.3 5.1l0.2 7l0.2 8.9l0.3-6.7l0.2-9.5l0.2-5.2l0.3-1.7l0.2 0.5l0.3-4.3l0.2 3.4l0.2-3.8l0.3-5.1l0.2-1.6l0.2-0.5l0.3-8.8l0.2-1.2l0.3 5.6l0.2-1.6l0.2-0.7l0.3-0.7l0.2 3.9l0.2 2.1l0.3 6.7l0.2-5.6l0.3-2l0.2-7.7l0.2 6.3l0.3-3.2l0.2 4.3l0.3-7.4l0.2 3.6l0.2 2.7l0.3-9.1l0.2-10.4l0.2-12.2l0.3-10.4l0.2-14l0.3 12.3l0.2 11.6l0.2 18.5l0.3 14.9l0.2 20.7l0.2-21l0.3 9.2l0.2 2.4l0.3 10.3l0.2-12.2l0.2-4.6l0.3-3.9l0.2-6l0.2-3.9l0.3 4.2l0.2 5.8l0.3 9.1l0.2 8l0.2 6.8l0.3 0l0.2 0l0.2 0l0.3 0l0.2 0l0.3 0.1l0.2 0l0.2 0l0.3-1l0.2 1l0.2-5.6l0.3-6l0.2-29l0.3-18.3l0.2 6l0.2 18l0.3 11.8l0.2-1.7l0.2 5.4l0.3 7.6l0.2 2.5l0.3 3.8l0.2-14.6l0.2-1.7l0.3-10.6l0.2 9.6l0.3-2.9l0.2 6.9l0.2 0l0.3-5l0.2 8.7l0.2 2.7l0.3 18.5l0.2 9.5l0.3 13.1l0.2 7.6l0.2-10.7l0.3-12.2l0.2-12.9l0.2-16.7l0.3 0.6l0.2-2.9l0.3 11l0.2-5l0.2-1.9l0.3 2.2l0.2-12.9l0.2-15l0.3-9.7l0.2-6.9l0.3 5.9l0.2 7.3l0.2 4.8l0.3 6.2l0.2-3.2l0.2-3.3l0.3-3.3l0.2-3.3l0.3-3.3l0.2 5.5l0.2 4.7l0.3 8.9l0.2-2.2l0.2 14.6l0.3 7l0.2-11.9l0.3-0.9l0.2 8.7l0.2-12.7l0.3-13.2l0.2 12.8l0.3 16.4l0.2 3.3l0.2 3.5l0.3 3.3l0.2-1.7l0.2 2.2l0.3-3.6l0.2-4l0.3-11.8l0.2 14.3l0.2-1.9l0.3-0.7l0.2-1.4l0.2-5.3l0.3 5.4l0.2-8l0.3-1.9l0.2-2.7l0.2-4.1l0.3 8.1l0.2-7.6l0.2 10.2l0.3 3l0.2 9.8l0.3-5.7l0.2-12.3l0.2-2.9l0.3-7.1l0.2-4.6l0.2-8.7l0.3 8.1l0.2-3.7l0.3-8.9l0.2-7.2l0.2 10.4l0.3 6.5l0.2 1.8l0.2 2l0.3-0.8l0.2 14.5l0.3 11.4l0.2 11l0.2 7.1l0.3 7.2l0.2-9.1l0.3-6.1l0.2-9.3l0.2-2.7l0.3-15.8l0.2 2.8l0.2 10.7l0.3-9.5l0.2-5.7l0.3 9.5l0.2-7l0.2-4l0.3 10.3l0.2 1l0.2-12.5l0.3-0.1l0.2 4.8l0.3-4.8l0.2 0l0.2 0l0.3 0l0.2 3l0.2-3l0.3 4.9l0.2-4.5l0.3 2.8l0.2 0.2l0.2-4.2l0.3-0.2l0.2 0.2l0.2 0.2l0.3 3.5l0.2 3.5l0.3-6.4l0.2 0l0.2 6.3l0.3-6.3l0.2 0l0.2 0l0.3 0l0.2 0l0.3 9.5l0.2-9.5l0.2 0l0.3 0l0.2 25.7l0.3 25.6l0.2 30.1l0.2 23l0.3 24l0.2-23.8l0.2-24.5l0.3-21.7l0.2-25.7l0.3-31.4l0.2 10.2l0.2-0.2l0.3 13.1l0.2-6.8l0.2-3.6l0.3 3.9l0.2 8.1l0.3-0.8l0.2 2.8l0.2-4.7l0.3-4.7l0.2 7.2l0.2 1l0.3 1.9l0.2-8.4l0.3 0.3l0.2 9.6l0.2-5.6l0.3 4.5l0.2 1.2l0.2 9l0.3 5l0.2-3.8l0.3-3.8l0.2-6l0.2 2.2l0.3 0l0.2-15.3l0.2 4.5l0.3 4.2l0.2-4.6l0.3-0.3l0.2-1.3l0.2-3l0.3-10.2l0.2-5.4l0.3 7.1l0.2-1.6l0.2-4.1l0.3-2.8l0.2 0l0.2 6.2l0.3 14.3l0.2-4.9l0.3-12.5l0.2-4l0.2-11.7l0.3-19.8l0.2 19.3l0.2 9.6l0.3 7.2l0.2 1.7l0.3 22.4l0.2 5.1l0.2 0l0.3-0.2l0.2-7.7l0.2 1.4l0.3 6.5l0.2-1.4l0.3 1.4l0.2 2.1l0.2 2l0.3 2l0.2 1.3l0.2 2.7l0.3-4.9l0.2-6l0.3-6.6l0.2-2.6l0.2-3.4l0.3 6l0.2-11.2l0.2-0.4l0.3 9.4l0.2 11l0.3-8.9l0.2-20l0.2-5l0.3-8.1l0.2-3.5l0.2-1.3l0.3 1.2l0.2 3l0.3 10.9l0.2 7.3l0.2 17.2l0.3 5.9l0.2-4.5l0.3 0.9l0.2-1.7l0.2 2.1l0.3-1.6l0.2 1.3l0.2-17.3l0.3-17.5l0.2 16.7l0.3 12.8l0.2-1.6l0.2-1.8l0.3-4.4l0.2 3.5l0.2 2.7l0.3-0.1l0.2-0.8l0.3-7.9l0.2 7.4l0.2-6.5l0.3 3.4l0.2 8.2l0.2 7.9l0.3 4.8l0.2 9.5l0.3-9.1l0.2-9.8l0.2-7.4l0.3-9.2l0.2-7.6l0.2-9.5l0.3-10.7l0.2-10.4l0.3 11.8l0.2 11.9l0.2 11.9l0.3 11.3l0.2 5.4l0.2 3.1l0.3 0.5l0.2-1l0.3 4.6l0.2-0.4l0.2 0.3l0.3-9.5l0.2 9.8l0.3-1.3l0.2 0.9l0.2-6.5l0.3-4.9l0.2 2.2l0.2 9.8l0.3-2.7l0.2-0.2l0.3 3l0.2-0.2l0.2-1.2l0.3 0.5l0.2-0.5l0.2 1.6l0.3-4.3l0.2-0.1l0.3-1.6l0.2 3.6l0.2 0.5l0.3 2.1l0.2 0l0.2 0.1l0.3 0l0.2 0l0.3 0.1l0.2 0l0.2 0.1l0.3 0l0.2-1.8l0.2-16.2l0.3 7.2l0.2-3.7l0.3-0.1l0.2 9.5l0.2-8.3l0.3 2.4l0.2-3.6l0.2 8.3l0.3-4.5l0.2 0.8l0.3 1.5l0.2 3.8l0.2-2.5l0.3-3.4l0.2-5.1l0.3 6.2l0.2-0.8l0.2 4l0.3-3.3l0.2-1.6l0.2-5.3l0.3 1.5l0.2 0.1l0.3-4.8l0.2 2l0.2 6.3l0.3-6.8l0.2-3l0.2-1.8l0.3-0.2l0.2-1.1l0.3-0.8l0.2 0.3l0.2-4.2l0.3 0l0.2 0.1l0.2 0l0.3 4.8l0.2-4.6l0.3 10.5l0.2 1.5l0.2 3.7l0.3 1l0.2-0.4l0.2-0.6l0.3 0l0.2 8.2l0.3 0.7l0.2-5.4l0.2 5.1l0.3-4.9l0.2-0.6l0.2 5.1l0.3 6.9l0.2-7.8l0.3 4.9l0.2-8l0.2 11l0.3-5.6l0.2-11.5l0.3-17.3l0.2-15.7l0.2-15.7l0.3-12.3l0.2 13.3l0.2 3.4l0.3-7.1l0.2 20.5l0.3 31.1l0.2 0.3l0.2-7.9l0.3-3.3l0.2 0.9l0.2 3.7l0.3-0.2l0.2 15.9l0.3-3.1l0.2-2l0.2-0.6l0.3 10.2l0.2 8l0.2 3l0.3 2.9l0.2 5.3l0.3-6.8l0.2-7.1l0.2-6.7l0.3-6.5l0.2-16.9l0.2 1.6l0.3 9.3l0.2-0.4l0.3 1.5l0.2 1.8l0.2 2.7l0.3-2.1l0.2-13.9l0.2 1.8l0.3 2.6l0.2 3.5l0.3 10.1l0.2-5.6l0.2 4.4l0.3 9.5l0.2 0l0.3 0.5l0.2 2.3l0.2-4.4l0.3-7.5l0.2 3.2l0.2-14l0.3 17l0.2 9l0.3-8.1l0.2 1.1l0.2-4.7l0.3 9.8l0.2 11.6l0.2 13.2l0.3 12.1l0.2 16l0.3-16.4l0.2-15.2l0.2-14l0.3-16l0.2-20.9l0.2 5l0.3 0.1l0.2 7.1l0.3 1.1l0.2-4.6l0.2 1.6l0.3-4.7l0.2 40.5l0.2 30.4l0.3-25.1l0.2-24.3l0.3-0.1l0.2 0l0.2-0.1l0.3-0.1l0.2 0l0.2-0.1l0.3 0l0.2-0.1l0.3-0.1l0.2 0l0.2-0.1l0.3-0.1l0.2 0l0.3-0.1l0.2 0l0.2-0.1l0.3-0.1l0.2 0l0.2-0.1l0.3 0l0.2-0.1l0.3-0.1l0.2 0l0.2-1.7l0.3 0.3l0.2 0.9l0.2-1.3l0.3-3.8l0.2 5.2l0.3-0.1l0.2 0l0.2-0.1l0.3-1.7l0.2 1.6l0.2-3.3l0.3 3.2l0.2-12.5l0.3-3.5l0.2 0.3l0.2 4.4l0.3-7l0.2 1.1l0.2-0.3l0.3-6.2l0.2 7.5l0.3-8.5l0.2-12.3l0.2-7.3l0.3-15.8l0.2-9.6l0.2 13.1l0.3 9.8l0.2 12.2l0.3 9.2l0.2 17.8l0.2-3.6l0.3-0.6l0.2-4l0.2 9.1l0.3 5.2l0.2 0l0.3-12.5l0.2 4.9l0.2-5.6l0.3 0.1l0.2-0.2l0.3-5.1l0.2 4.3l0.2 6.1l0.3-11.4l0.2 5l0.2-1.8l0.3 2.6l0.2 5.5l0.3 0.6l0.2-3l0.2 5.1l0.3 4.7l0.2-4.5l0.2-5.5l0.3-5l0.2-5l0.3 10l0.2 6l0.2-4.2l0.3 5l0.2 6l0.2 4.1l0.3-5.4l0.2-4l0.3-4.3l0.2-1.7l0.2-6.6l0.3-4l0.2 4.3l0.2 16.4l0.3 8.6l0.2-12.9l0.3-11.1l0.2-4.3l0.2 1.5l0.3 2.8l0.2 2.9" fill="none" stroke="#3878B6" stroke-width="3.4" stroke-linejoin="round" stroke-linecap="round"/>
</g>
<line x1="682.5" x2="688" y1="700.80" y2="700.80" stroke="#222" stroke-width="2"/>
<text transform="translate(677.4,708.30) scale(1,1.07)" class="yt">0.75</text>
<line x1="682.5" x2="688" y1="791.47" y2="791.47" stroke="#222" stroke-width="2"/>
<text transform="translate(677.4,798.97) scale(1,1.07)" class="yt">0.50</text>
<line x1="682.5" x2="688" y1="882.14" y2="882.14" stroke="#222" stroke-width="2"/>
<text transform="translate(677.4,889.64) scale(1,1.07)" class="yt">0.25</text>
<line x1="682.5" x2="688" y1="972.81" y2="972.81" stroke="#222" stroke-width="2"/>
<text transform="translate(677.4,980.31) scale(1,1.07)" class="yt">0.00</text>
<line x1="711.30" x2="711.30" y1="986.3" y2="991.8" stroke="#222" stroke-width="2"/>
<text transform="translate(711.30,1011.00) scale(1,1.07)" class="xt">2018</text>
<line x1="884.70" x2="884.70" y1="986.3" y2="991.8" stroke="#222" stroke-width="2"/>
<text transform="translate(884.70,1011.00) scale(1,1.07)" class="xt">2020</text>
<line x1="1058.10" x2="1058.10" y1="986.3" y2="991.8" stroke="#222" stroke-width="2"/>
<text transform="translate(1058.10,1011.00) scale(1,1.07)" class="xt">2022</text>
<text x="943.15" y="1040.80" class="at">Date</text>
<text transform="translate(628.75,799.25) rotate(-90)" class="at">DCC</text>
<text x="951.15" y="593.20" class="ti">ETC vs Clean cryptos</text>
<rect x="697.05" y="1079.70" width="35.3" height="35.2" fill="#EBECEB"/>
<line x1="700.75" x2="728.95" y1="1097.30" y2="1097.30" stroke="#E39E22" stroke-width="4"/>
<text x="743.85" y="1104.60" class="lg">ADA</text>
<rect x="790.85" y="1079.70" width="35.3" height="35.2" fill="#EBECEB"/>
<line x1="794.55" x2="822.75" y1="1097.30" y2="1097.30" stroke="#62B8E8" stroke-width="4"/>
<text x="837.45" y="1104.60" class="lg">XRP</text>
<rect x="884.65" y="1079.70" width="35.3" height="35.2" fill="#EBECEB"/>
<line x1="888.35" x2="916.55" y1="1097.30" y2="1097.30" stroke="#3DA872" stroke-width="4"/>
<text x="931.70" y="1104.60" class="lg">MIOTA</text>
<rect x="996.70" y="1079.70" width="35.3" height="35.2" fill="#EBECEB"/>
<line x1="1000.40" x2="1028.60" y1="1097.30" y2="1097.30" stroke="#C874AC" stroke-width="4"/>
<text x="1042.95" y="1104.60" class="lg">XLM</text>
<rect x="1089.20" y="1079.70" width="35.3" height="35.2" fill="#EBECEB"/>
<line x1="1092.90" x2="1121.10" y1="1097.30" y2="1097.30" stroke="#3878B6" stroke-width="4"/>
<text x="1136.70" y="1104.60" class="lg">NANO</text>
<rect x="80" y="1184.75" width="509.75" height="375.25" fill="#EBECEB"/>
<clipPath id="cLTC"><rect x="80" y="1184.75" width="509.75" height="375.25"/></clipPath>
<g clip-path="url(#cLTC)">
<line x1="80" x2="589.75" y1="1233.93" y2="1233.93" stroke="#F7F8F7" stroke-width="1.2"/>
<line x1="80" x2="589.75" y1="1320.29" y2="1320.29" stroke="#F7F8F7" stroke-width="1.2"/>
<line x1="80" x2="589.75" y1="1406.65" y2="1406.65" stroke="#F7F8F7" stroke-width="1.2"/>
<line x1="80" x2="589.75" y1="1493.01" y2="1493.01" stroke="#F7F8F7" stroke-width="1.2"/>
<line x1="189.65" x2="189.65" y1="1184.75" y2="1560" stroke="#F7F8F7" stroke-width="1.2"/>
<line x1="363.45" x2="363.45" y1="1184.75" y2="1560" stroke="#F7F8F7" stroke-width="1.2"/>
<line x1="537.25" x2="537.25" y1="1184.75" y2="1560" stroke="#F7F8F7" stroke-width="1.2"/>
<line x1="80" x2="589.75" y1="1190.75" y2="1190.75" stroke="#fff" stroke-width="2"/>
<line x1="80" x2="589.75" y1="1277.11" y2="1277.11" stroke="#fff" stroke-width="2"/>
<line x1="80" x2="589.75" y1="1363.47" y2="1363.47" stroke="#fff" stroke-width="2"/>
<line x1="80" x2="589.75" y1="1449.83" y2="1449.83" stroke="#fff" stroke-width="2"/>
<line x1="80" x2="589.75" y1="1536.19" y2="1536.19" stroke="#fff" stroke-width="2"/>
<line x1="102.75" x2="102.75" y1="1184.75" y2="1560" stroke="#fff" stroke-width="2"/>
<line x1="276.55" x2="276.55" y1="1184.75" y2="1560" stroke="#fff" stroke-width="2"/>
<line x1="450.35" x2="450.35" y1="1184.75" y2="1560" stroke="#fff" stroke-width="2"/>
<path d="M102.8 1282.8l0.4-5.1l0.5-1.8l0.4-7.5l0.5 0.2l0.5-3.8l0.4-2.8l0.5-7.9l0.5-4.4l0.4-2.4l0.5-7.7l0.5-1l0.4 8.2l0.5-5.2l0.5-0.9l0.4 3.7l0.5-0.4l0.5-3.6l0.4 10.1l0.5 5.9l0.4 2.3l0.5 5.6l0.5-2.2l0.4 1.6l0.5-6.4l0.5 1.8l0.4-2l0.5 0.4l0.5 1.1l0.4 3.8l0.5-2.2l0.5 11.9l0.4 5.1l0.5 4.9l0.5 6.5l0.4-7.5l0.5-8.9l0.5-7.5l0.4-8.1l0.5 9.9l0.4 1l0.5-1.2l0.5-7l0.4-7.3l0.5 11.9l0.5 0.3l0.4 5.1l0.5 3.2l0.5-2.2l0.4-4.4l0.5-1.5l0.5-6.4l0.4 1.2l0.5 4l0.5-10.1l0.4 0.3l0.5 1.1l0.5-2.3l0.4 1.6l0.5-0.3l0.4-1.6l0.5 1.3l0.5 6.1l0.4 2.3l0.5-2.5l0.5-1.6l0.4-5.7l0.5-3.8l0.5 0l0.4 6.8l0.5 4.4l0.5 1.4l0.4-11.1l0.5-3l0.5-6.7l0.4 5.5l0.5 4.6l0.5-5.5l0.4 1l0.5 2.1l0.4-7.6l0.5-6.2l0.5 3.7l0.4-4l0.5 4.5l0.5 2.6l0.4-0.1l0.5 0.9l0.5 7.1l0.4 8.7l0.5 8.6l0.5 9.1l0.4-9l0.5-6.5l0.5-11.5l0.4-5.7l0.5-4.5l0.4-0.3l0.5-4.7l0.5-6.3l0.4-2.7l0.5-1.8l0.5 2.4l0.4 9.1l0.5 3.2l0.5-4.8l0.4 6.4l0.5-2.3l0.5-3.1l0.4 3.9l0.5 10.2l0.5 2.2l0.4-6l0.5-10.3l0.5 8.7l0.4-4.9l0.5 1.7l0.4-3.8l0.5 0l0.5 0l0.4 10.4l0.5-1.7l0.5 3.6l0.4 0l0.5-7.6l0.5-5.6l0.4-4.8l0.5 0.2l0.5 5l0.4-1.7l0.5 10.6l0.5 6.6l0.4-0.4l0.5 0.1l0.5 21.3l0.4 20.7l0.5-26.9l0.4-27.2l0.5 8.3l0.5 2.8l0.4-5.8l0.5-2.8l0.5 3.1l0.4 2.1l0.5 1.3l0.5 1.7l0.4-3.8l0.5 2.3l0.5 0.1l0.4-0.8l0.5 1.8l0.5 1l0.4-2.3l0.5 0.1l0.5-2.2l0.4-11.7l0.5-11.8l0.4-3.4l0.5 3.9l0.5-4.2l0.4-1.2l0.5-1.5l0.5 1.7l0.4 4.2l0.5-2.8l0.5 0.7l0.4 5.8l0.5 1.5l0.5 1.5l0.4 8.7l0.5-2l0.5 7.9l0.4 6.2l0.5 4.3l0.5-4.5l0.4-4.4l0.5-2.7l0.4-5.3l0.5-4l0.5-0.4l0.4 6.7l0.5-4.3l0.5 2.5l0.4-2.3l0.5-5l0.5 2.8l0.4 1.6l0.5 4.4l0.5 4.5l0.4 0.8l0.5 8l0.5-8.6l0.4-0.4l0.5 3.4l0.4-2.9l0.5-1.1l0.5 4l0.4-0.4l0.5 5.1l0.5 11.2l0.4-1.4l0.5-3.6l0.5 1.2l0.4-3.8l0.5 7.1l0.5-4.3l0.4-3.8l0.5-1.6l0.5-0.5l0.4 2.4l0.5 2.2l0.5 0.1l0.4 11.2l0.5-0.4l0.4-3.6l0.5 4.3l0.5 8.4l0.4-2.9l0.5 5.9l0.5-4.5l0.4-1.5l0.5 3.8l0.5 2.7l0.4 5.1l0.5 5.8l0.5 4.9l0.4 2l0.5-1.8l0.5-3.8l0.4-5.8l0.5 0l0.5-1.1l0.4-4.9l0.5-0.5l0.4 3.2l0.5-9.3l0.5 3.7l0.4-2.8l0.5 4.3l0.5 5.3l0.4 13.4l0.5 4.1l0.5-3.9l0.4 3.7l0.5-8l0.5-1.6l0.4 1.3l0.5-9.4l0.5 1.9l0.4-10l0.5-16.4l0.5-0.7l0.4-4.3l0.5-4.8l0.4-7.4l0.5 0.5l0.5 2.4l0.4 4.5l0.5-1.8l0.5 8l0.4-0.9l0.5 6.1l0.5-3.6l0.4 7.8l0.5 3.1l0.5 4l0.4-3.3l0.5 2.6l0.5 4.2l0.4-0.1l0.5-7.4l0.5 1.9l0.4-7.5l0.5-7.9l0.4 1.5l0.5-2.6l0.5-2.9l0.4-0.8l0.5 2.8l0.5-7.2l0.4 1.5l0.5-1.1l0.5 2.9l0.4-8.2l0.5-11.2l0.5-1.1l0.4-5.3l0.5 5.4l0.5-7.7l0.4-4.9l0.5 8.2l0.4 10l0.5 6.8l0.5 2.7l0.4 7.2l0.5 16.6l0.5 15.5l0.4 14.8l0.5-8.4l0.5-11.2l0.4-7.8l0.5-7l0.5 1l0.4 1.3l0.5 2.5l0.5-5l0.4-5.6l0.5 0.8l0.5 8.4l0.4 2.5l0.5-3l0.4-0.4l0.5-8.3l0.5-0.8l0.4-8.3l0.5-2.6l0.5-6.5l0.4-4.1l0.5-5.8l0.5-2.2l0.4-0.6l0.5-10.5l0.5-3.2l0.4 0.8l0.5 0l0.5 4.9l0.4 9.2l0.5-6.6l0.5-0.3l0.4 3.3l0.5 7.9l0.4 5.9l0.5-3.5l0.5-4.2l0.4 10.1l0.5-2.7l0.5 2.7l0.4 3.5l0.5-4.2l0.5 4.9l0.4 7.7l0.5 2.8l0.5 2.6l0.4-2.3l0.5 1.2l0.5-2.4l0.4-0.5l0.5-3.8l0.5 6.1l0.4-5.3l0.5 11.8l0.4-2l0.5-2.8l0.5 2.8l0.4-2.3l0.5-3.3l0.5 1l0.4 4.7l0.5 2.4l0.5-1.2l0.4-9.8l0.5-6.2l0.5-5.7l0.4-0.8l0.5-4.7l0.5 4.5l0.4 3.8l0.5-3.4l0.4 6.1l0.5-2.5l0.5-4.2l0.4 0.3l0.5 6.5l0.5 3.9l0.4-0.7l0.5 4l0.5-2.7l0.4 3.1l0.5 4.4l0.5 8.8l0.4-8.5l0.5-3.1l0.5-0.7l0.4-6.9l0.5-1.8l0.5 8.3l0.4-3.9l0.5-1.2l0.4 1.7l0.5 3.3l0.5-7.7l0.4 7.8l0.5 4.8l0.5-4.2l0.4 2l0.5 0.9l0.5 9.2l0.4-5.5l0.5-5.2l0.5-3.9l0.4-4l0.5 9.5l0.5 8.7l0.4-13.6l0.5-21.7l0.5-4.6l0.4-14l0.5-5.3l0.4-1.9l0.5 0l0.5 0.4l0.4 5.5l0.5 0.6l0.5 0.1l0.4-8.9l0.5 7.9l0.5 3.8l0.4 3.2l0.5-3l0.5 2.6l0.4-1.4l0.5-2.5l0.5 0.8l0.4-6.7l0.5-1.8l0.5-4.1l0.4 1.6l0.5-0.5l0.4 7.7l0.5 5l0.5 2.5l0.4 3.8l0.5 0.3l0.5 4.4l0.4 1.6l0.5 9.9l0.5 2.6l0.4-0.9l0.5 5l0.5 3.8l0.4-0.2l0.5 1.8l0.5 4.5l0.4-3.2l0.5-1.8l0.5-0.7l0.4-0.8l0.5 6.5l0.4-0.6l0.5-2.7l0.5-9l0.4 4.9l0.5-4.8l0.5-1.1l0.4-6l0.5 2l0.5 0.9l0.4 11.3l0.5 2.4l0.5 3.1l0.4 7.1l0.5 5.4l0.5 2.1l0.4 2.8l0.5-0.8l0.4-6.6l0.5 0.1l0.5-3.4l0.4-4l0.5-4.3l0.5-2.5l0.4 3.5l0.5-3.2l0.5 1.8l0.4-1.5l0.5 0.7l0.5 6.2l0.4 5.5l0.5 0l0.5 4.9l0.4-2.2l0.5 3.2l0.5 8.9l0.4 16.4l0.5 2.2l0.4 3.5l0.5-5l0.5-8l0.4 4.1l0.5 9.9l0.5 7.5l0.4-8l0.5-9.5l0.5-10.7l0.4-3.3l0.5-15l0.5-2.5l0.4-0.1l0.5 0l0.5-1.5l0.4-4.6l0.5-1.1l0.5-0.3l0.4 6.1l0.5 6.1l0.4-0.1l0.5-0.3l0.5 2.9l0.4-4.8l0.5-0.3l0.5-2.3l0.4-6.3l0.5-3l0.5-1.3l0.4 3.2l0.5-2.3l0.5 7.5l0.4-1.2l0.5 6.6l0.5 10.9l0.4-13.3l0.5-14.2l0.5 4.2l0.4-5.7l0.5 0.5l0.4 8.5l0.5 6.7l0.5-2.6l0.4-2.1l0.5 16.1l0.5 15.9l0.4-13.1l0.5-16.4l0.5-1.8l0.4 9.5l0.5-3.1l0.5-9.2l0.4-3.6l0.5 1l0.5-2l0.4 4.7l0.5-3.1l0.5 1.4l0.4-1.5l0.5 1.9l0.4 3.7l0.5 5.5l0.5-2.3l0.4 2.6l0.5-2.5l0.5-5.9l0.4 6.8l0.5 1l0.5 6.2l0.4-9.1l0.5 5.5l0.5 0.5l0.4-0.4l0.5 1.7l0.5-3.9l0.4-1.8l0.5-1.4l0.4 3.2l0.5 8l0.5-1.1l0.4-0.8l0.5 8.1l0.5-6.3l0.4-2.2l0.5-2.9l0.5-3.9l0.4-5.1l0.5-9.3l0.5-3.4l0.4 3.7l0.5 3l0.5 12.7l0.4 11.9l0.5-1.6l0.5-8.6l0.4-14.1l0.5 9.7l0.4 6.7l0.5 5.8l0.5-1.6l0.4 0l0.5-2.5l0.5-1l0.4-5.8l0.5 1.8l0.5 1.9l0.4 0.2l0.5-0.3l0.5-4.3l0.4 4.4l0.5-5.1l0.5 58.4l0.4 65.9l0.5 71.2l0.5-71.9l0.4-64.8l0.5-65l0.4-3.3l0.5 0.9l0.5 3.4l0.4 3.5l0.5 5.9l0.5-19.6l0.4-14.6l0.5 14l0.5 15.8l0.4-1.2l0.5-1.4l0.5-4.3l0.4-5.2l0.5 0.3l0.5-3.4l0.4-0.3l0.5-2.9l0.5 11.1l0.4-6.9l0.5 6.2l0.4-5.7l0.5-0.2l0.5-0.1l0.4-1.8l0.5 0.7l0.5 2.7l0.4 2.1l0.5-4.1l0.5-0.6l0.4 4.1l0.5-4.1l0.5 0.1l0.4-3.7l0.5-7.4l0.5 6.4l0.4-0.5l0.5-0.7l0.5-0.6l0.4 9l0.5 2.9l0.4-2.4l0.5-3.5l0.5-4l0.4-1.1l0.5-1.5l0.5-3.6l0.4-1.6l0.5-1.9l0.5 1l0.4 1.6l0.5-4.6l0.5 4l0.4 3.1l0.5-8.4l0.5-10.1l0.4 13.9l0.5 9.6l0.4 1.9l0.5 3.2l0.5-2.9l0.4 9.8l0.5-3.7l0.5 7l0.4-5.4l0.5 1.5l0.5-4.3l0.4 3.6l0.5 4.3l0.5 5l0.4-11.8l0.5-1l0.5-3.8l0.4 4.4l0.5 0.5l0.5 3.5l0.4-0.2l0.5 9.2l0.4-9.6l0.5-6.3l0.5 5.2l0.4-1.4l0.5 1l0.5 2.8l0.4-3.1l0.5 4.9l0.5-0.3l0.4-1l0.5-6.7l0.5-4.8l0.4-2.5l0.5 3.6l0.5 1.5l0.4 5.9l0.5 2l0.5-4.9l0.4 8.6l0.5 1l0.4 0l0.5 0.3l0.5-0.7l0.4-1l0.5 0.4l0.5 1.8l0.4 0.7l0.5 3.5l0.5-2.7l0.4 7.6l0.5-11.4l0.5-7.9l0.4 9.5l0.5 11l0.5-8.2l0.4-7.7l0.5 9.7l0.5 16.1l0.4 5.7l0.5-0.8l0.4 3.2l0.5-3.5l0.5-8.4l0.4-1.2l0.5-3.9l0.5-0.2l0.4 2.4l0.5-8.7l0.5-9.6l0.4-3.9l0.5 5.2l0.5-3.5l0.4-1.5l0.5 2.8l0.5 6.4l0.4-4.2l0.5 5l0.4 3l0.5-4.6l0.5 0.6l0.4-5.1l0.5 5l0.5-1.3l0.4 6.3l0.5-10.6l0.5-4.3l0.4-3l0.5 1.5l0.5-1.5l0.4 0.7l0.5 12.2l0.5 12.7l0.4 7.5l0.5-8.7l0.5-10.3l0.4-11.8l0.5 10.6l0.4-1.9l0.5 0.4l0.5 4.3l0.4 2.3l0.5-0.2l0.5 0.2l0.4-1.1l0.5-8.9l0.5-6.1l0.4-1l0.5-1.2l0.5-9.9l0.4 6.9l0.5 2.3l0.5 1.2l0.4 1.2l0.5-5.5l0.5-1.6l0.4-3.9l0.5 7.7l0.4-1.9l0.5-0.7l0.5 2.3l0.4-0.9l0.5-0.1l0.5-8.5l0.4 3.4l0.5 0.3l0.5 8.6l0.4-1.8l0.5 3.7l0.5-1.3l0.4 1.4l0.5-10.3l0.5-1.1l0.4 2.9l0.5 2.2l0.5-10.7l0.4 4.8l0.5 7.2l0.4 1.8l0.5-6.2l0.5 1.6l0.4-0.1l0.5-4.1l0.5 1l0.4-0.4l0.5 1.6l0.5 7.7l0.4 1.5l0.5 0.8l0.5-2l0.4-14.1l0.5-6.4l0.5-12.1l0.4 11.4l0.5 7.7l0.5 10.4l0.4-3.8l0.5-0.9l0.4 0.3l0.5 3.3l0.5-6.1l0.4-3.1l0.5-4l0.5 4l0.4 8.4l0.5 12.4l0.5-1.7l0.4-7.1l0.5 3.6l0.5 2.7l0.4-1.8l0.5-8.9l0.5 3.8l0.4 5.1l0.5-4.9l0.4 1.9l0.5 2.2l0.5 1.4l0.4-1.2l0.5 4l0.5-4.2l0.4-0.2l0.5 3.9l0.5-3.7l0.4 5l0.5 6.3l0.5 5.8l0.4-8.2l0.5-11.9l0.5 9.1l0.4 2.7l0.5-1.5l0.5 0.3l0.4-7.1l0.5 7.6l0.4 5l0.5 7.1l0.5 7.6l0.4 6.4l0.5-8.5l0.5-17l0.4-11l0.5-7.3l0.5 7.9l0.4 6.7l0.5 6.6l0.5-2.9l0.4 2.7l0.5 0.7l0.5 9.1l0.4 0.5l0.5 6.5l0.5 4.4l0.4-4.7l0.5-6.7l0.4-6.1l0.5-1.5l0.5-6.2l0.4 0.4l0.5 6.2l0.5-5.8l0.4-5.1l0.5-4.1l0.5 4l0.4 1.4l0.5 5.5l0.5 2.2l0.4 5.8l0.5-1.4l0.5-3.1l0.4 3l0.5-5.6l0.5 5.6l0.4-4.4l0.5 3.8l0.4-2.3l0.5 10.5l0.5 6.2l0.4-5.3l0.5-4.2l0.5-3.9l0.4 15.9l0.5-1.4l0.5-7.9l0.4-0.5l0.5-0.1l0.5 1.7l0.4 0l0.5-2.8l0.5-6.4l0.4 0.7l0.5-2.3l0.5-7l0.4 7.4l0.5 3.7l0.4 2.1l0.5-9l0.5-6l0.4 2.8l0.5-0.3l0.5 8.5l0.4 3.3l0.5 5.1l0.5-0.9l0.4 1.1l0.5 3.2l0.5-1.6l0.4-2.1l0.5-4.2l0.5-0.1l0.4 3.7l0.5-7.3l0.4 9.2l0.5 1.6l0.5-1.4l0.4 4l0.5 4.3l0.5-1.2l0.4 3.9l0.5-6.2l0.5-5.7l0.4 0l0.5 0.5l0.5-6.2l0.4-0.3l0.5-0.9l0.5 3.6l0.4 7.1l0.5 2.1l0.5 3.5l0.4-1l0.5-1.5l0.4-1.4l0.5-0.5l0.5-1.2l0.4-9.6l0.5 6.8l0.5-1.6l0.4 4.8l0.5-3.3l0.5 1l0.4-1.9l0.5 5.2l0.5-2.1l0.4-3.5l0.5 4.8l0.5 0.9l0.4-6.2l0.5-0.4l0.5-6.6l0.4 9.1l0.5-6.9l0.4-9.7l0.5 10l0.5 9.3l0.4-4l0.5 6.1l0.5-1.7l0.4 1.1l0.5-5.9l0.5 3.9l0.4 2.4l0.5 4.2l0.5 3.9l0.4-2.6l0.5-2.1l0.5-6.9l0.4-2.3l0.5-7.2l0.5 1.4l0.4 3.5l0.5-4.6l0.4 8.1l0.5-8.7l0.5-5.1l0.4 4.5l0.5-0.4l0.5 9l0.4-3.8l0.5 3.2l0.5-4.1l0.4 9.1" fill="none" stroke="#E39E22" stroke-width="3.4" stroke-linejoin="round" stroke-linecap="round"/>
<path d="M102.8 1278.7l0.4 2.5l0.5-3l0.4-3l0.5-9.3l0.5-6.6l0.4-2.2l0.5-4.1l0.5 2.2l0.4-0.5l0.5-7.7l0.5 2.8l0.4-1.7l0.5 2.1l0.5 4.9l0.4 3.7l0.5 0.8l0.5-6.1l0.4 0.7l0.5-0.1l0.4 4.6l0.5-2.5l0.5 0.4l0.4 3.9l0.5-4.3l0.5 8.9l0.4-2.1l0.5 6.9l0.5-13.5l0.4 0.5l0.5-2.6l0.5-0.8l0.4 7.7l0.5-0.3l0.5 3.2l0.4-0.8l0.5-6.1l0.5-14.6l0.4 8.2l0.5 7.8l0.4-2.7l0.5-1.3l0.5 6.5l0.4-3.7l0.5 1.1l0.5-11.6l0.4 6.6l0.5-3.1l0.5-1l0.4-0.6l0.5 4.8l0.5 3.9l0.4-3.1l0.5 1.8l0.5 6l0.4-11.6l0.5-1.9l0.5 0.6l0.4 6.2l0.5-3.1l0.4 3.3l0.5-3.8l0.5-2.3l0.4 1.9l0.5-12l0.5 5.9l0.4 5.4l0.5 7l0.5 3.3l0.4 6.5l0.5 0.9l0.5-7.6l0.4 2.1l0.5-4.7l0.5 3.9l0.4-4.6l0.5-0.3l0.5-12.8l0.4 4.4l0.5 0.6l0.4-7.4l0.5-1.4l0.5-1.1l0.4 0.5l0.5-1.5l0.5 0.2l0.4-0.3l0.5-2.8l0.5 3.4l0.4 1.8l0.5-2.3l0.5-5.2l0.4 0.5l0.5 2.4l0.5-4.8l0.4-0.8l0.5-2.7l0.4 1.3l0.5-6.7l0.5-2.1l0.4-2.3l0.5-2.6l0.5-7.5l0.4 5.8l0.5-1.6l0.5 1.9l0.4 8.8l0.5 13.1l0.5-3.2l0.4-0.9l0.5-6.8l0.5-1.1l0.4-2.9l0.5 5.9l0.5 7.6l0.4-6.8l0.5-0.4l0.4-0.2l0.5 5.8l0.5 2.6l0.4 3l0.5-7l0.5-2.1l0.4 7.4l0.5 1.3l0.5-5.6l0.4 4.3l0.5 0.4l0.5-3l0.4-5.4l0.5-1.4l0.5 1.4l0.4 1l0.5 2.4l0.5 0.2l0.4 6.9l0.5 4.3l0.4 1.3l0.5 3.5l0.5-2.9l0.4 3l0.5 5.5l0.5-5.1l0.4-2.8l0.5-2.9l0.5-2.5l0.4 7.9l0.5 6l0.5-17.1l0.4-14.4l0.5 4.3l0.5 6.9l0.4-0.5l0.5-0.6l0.5-0.1l0.4-9.3l0.5-1.4l0.4 1.2l0.5 0l0.5-1l0.4 5.6l0.5-6.3l0.5 3.7l0.4 4.7l0.5-5.8l0.5-3.2l0.4 0.8l0.5 7.2l0.5 5.5l0.4-8.7l0.5-2l0.5 10.2l0.4-6.9l0.5-4.3l0.5-2.7l0.4 5.5l0.5 2l0.4 5.1l0.5 3.4l0.5-1.5l0.4 0l0.5-2.1l0.5-0.5l0.4 2.7l0.5-3l0.5 6.6l0.4 4.1l0.5-0.2l0.5-2.7l0.4-2.9l0.5 4.2l0.5-4.5l0.4 5.5l0.5 5l0.4-6l0.5-9.7l0.5-3.7l0.4-11.2l0.5 11.1l0.5 12.2l0.4 13.5l0.5-1l0.5 4.9l0.4-4.3l0.5-0.7l0.5-1.1l0.4 2.8l0.5 1.5l0.5-8l0.4 3l0.5-5.6l0.5 4.7l0.4-8.1l0.5 8.5l0.4 4.1l0.5 3.9l0.5 5.2l0.4-2.6l0.5-3.2l0.5 2.4l0.4 0.1l0.5-4.7l0.5 11l0.4 2.4l0.5 1.6l0.5 2.9l0.4-0.2l0.5 7.8l0.5 0.7l0.4-1.4l0.5 6.9l0.5 0.5l0.4 3.3l0.5 3.3l0.4-4.1l0.5-4.6l0.5-0.5l0.4-0.7l0.5 1.2l0.5-3.1l0.4-3.9l0.5 2.2l0.5 2l0.4-4.8l0.5-10.9l0.5-3.8l0.4 5.7l0.5 1.6l0.5 4.1l0.4 0.8l0.5-5.5l0.5 1.8l0.4-1.8l0.5 6.5l0.4-0.6l0.5-18.3l0.5-11.3l0.4 9.1l0.5 4.1l0.5-1.4l0.4 8.5l0.5-1.6l0.5 2l0.4 3.9l0.5-0.3l0.5-2.5l0.4-0.1l0.5-5.2l0.5 0.7l0.4 5.8l0.5-3l0.5-7l0.4 3.3l0.5-1.6l0.4-7.3l0.5 3.8l0.5 3.2l0.4-3.4l0.5-3.3l0.5-8l0.4-1.1l0.5-3.1l0.5-3.6l0.4-0.9l0.5-0.7l0.5 0.5l0.4-5.4l0.5-4.1l0.5 3.3l0.4-0.4l0.5 0.1l0.4 7.5l0.5 5.8l0.5 4.8l0.4 1.9l0.5 4.6l0.5 5.2l0.4 4.5l0.5 2.6l0.5-1.4l0.4 4.9l0.5 3.7l0.5-4.6l0.4 2.4l0.5-0.9l0.5-3.6l0.4-4.6l0.5 6.7l0.5-3.8l0.4-7l0.5-4l0.4 2l0.5-0.7l0.5-6.7l0.4-5.3l0.5-4.9l0.5-5.9l0.4-6.8l0.5 7l0.5-0.3l0.4-10.2l0.5 8.2l0.5-8.3l0.4 0l0.5-1.3l0.5-3.5l0.4-7.3l0.5 9.6l0.5 13.7l0.4-3.6l0.5 1.4l0.4 0.9l0.5-1l0.5-2.8l0.4 2.2l0.5 0.4l0.5-2l0.4 7.6l0.5-6.6l0.5-0.1l0.4 2l0.5 4.6l0.5-0.7l0.4 6l0.5 0l0.5 7.3l0.4-8.9l0.5 5.5l0.5-3.1l0.4-1.6l0.5 6.1l0.4 6.2l0.5 0.2l0.5-0.5l0.4-3.3l0.5-0.5l0.5 0.2l0.4 4l0.5-1l0.5-4.1l0.4-6.2l0.5-0.6l0.5 0.9l0.4 2.8l0.5-2.4l0.5 2.8l0.4-5.5l0.5 6.5l0.4-5.4l0.5-5.8l0.5 4.5l0.4-7.5l0.5-5.5l0.5-4l0.4 3.5l0.5 6l0.5 5.9l0.4 4.8l0.5 5l0.5-0.2l0.4-0.1l0.5-6.2l0.5-1.7l0.4-1.5l0.5-0.3l0.5 2.5l0.4 3.6l0.5-0.1l0.4-8.2l0.5 12.4l0.5-3.8l0.4 0.6l0.5 10.3l0.5-3.5l0.4 4l0.5-3.2l0.5-3.1l0.4 3.1l0.5-6.4l0.5-7.5l0.4-3.2l0.5-1.3l0.5 5.6l0.4-9.4l0.5-11.7l0.5-6.5l0.4-3.7l0.5 3.8l0.4-0.1l0.5 2.5l0.5-3.3l0.4-2.3l0.5 6.5l0.5 8.8l0.4-6.2l0.5 9.8l0.5-2.3l0.4 0.8l0.5 2.3l0.5 8.3l0.4 2l0.5-2.3l0.5-5.6l0.4-4.1l0.5-2.8l0.5-4.2l0.4 4.2l0.5-0.8l0.4-0.3l0.5 1.4l0.5 1.8l0.4 6l0.5-1.9l0.5-3.2l0.4 5.3l0.5 9l0.5 4l0.4 5.9l0.5 4.5l0.5-6.7l0.4-0.4l0.5-4.3l0.5 3l0.4-0.9l0.5 2.3l0.5 1.7l0.4-0.8l0.5-1l0.4-2.3l0.5 1.3l0.5 1.5l0.4-5.6l0.5 4.1l0.5-1l0.4 3.6l0.5-2.8l0.5-6l0.4 5.9l0.5 5l0.5 1.4l0.4-4.2l0.5 1.3l0.5 3.9l0.4-6.2l0.5 6.6l0.4-2.2l0.5 3.2l0.5-1.4l0.4-1.9l0.5 4.3l0.5-3.5l0.4 1.1l0.5-0.6l0.5-4.9l0.4 1.1l0.5 7.4l0.5 1.8l0.4-1.8l0.5-3.1l0.5-2.1l0.4 4.1l0.5 2.9l0.5 2.4l0.4-0.1l0.5-3.6l0.4 5.7l0.5 4l0.5 2.5l0.4 12.1l0.5 1l0.5-2.5l0.4 0.6l0.5-6.7l0.5 4.1l0.4-2l0.5-1.6l0.5 3.6l0.4-6.9l0.5-9.9l0.5-12.6l0.4-9.6l0.5-2.1l0.5-1l0.4 0.9l0.5 5.1l0.4 1.3l0.5 5.1l0.5-12.7l0.4 6.3l0.5 3.6l0.5 3.5l0.4 1.3l0.5-1.2l0.5 3.9l0.4-7.7l0.5-1.2l0.5 8.7l0.4-0.1l0.5 3.3l0.5 1.9l0.4 0.9l0.5 4.3l0.5-1.8l0.4 0.5l0.5 6.5l0.4-4.6l0.5 0.9l0.5 2.4l0.4 0.7l0.5-3.4l0.5 2.1l0.4-3.5l0.5 5.1l0.5 4l0.4 4.9l0.5 1.7l0.5 12.3l0.4 1.7l0.5 1l0.5-2.5l0.4 4.6l0.5 6.4l0.5-9.3l0.4-4.4l0.5 4.2l0.4 9.9l0.5-1.8l0.5-0.7l0.4 5.5l0.5 7.8l0.5 0.1l0.4 1.2l0.5 3l0.5-10.7l0.4 3l0.5-0.4l0.5-1.3l0.4 8.1l0.5 8.9l0.5 14.2l0.4 7.9l0.5 11.3l0.4 8.4l0.5 12.7l0.5 9.3l0.4 11.5l0.5-3.8l0.5 8.7l0.4 3.3l0.5 3.5l0.5 5.7l0.4 13.3l0.5 4.3l0.5 1.7l0.4 3.9l0.5 0.2l0.5-2.7l0.4-8.8l0.5-10.3l0.5 11.9l0.4 10.6l0.5 0.7l0.4 3.4l0.5-8.9l0.5-6l0.4-2.4l0.5 3.7l0.5 5.5l0.4-4.6l0.5 1.9l0.5-7.6l0.4-3.7l0.5 5l0.5-8.1l0.4 5.1l0.5-6.9l0.5-6l0.4 6.5l0.5 6.9l0.5 4.9l0.4 11.6l0.5-3l0.4-6.6l0.5 8.3l0.5-1.1l0.4-10.9l0.5-16.5l0.5-2.5l0.4-6.2l0.5-0.2l0.5-4.2l0.4-10.7l0.5-1.7l0.5-4.3l0.4-7.3l0.5-18.3l0.5-14.3l0.4-10.9l0.5 5.4l0.5-3.5l0.4-11.6l0.5-7.5l0.4-7l0.5-8.2l0.5-4.4l0.4-6.8l0.5-7.6l0.5-6.7l0.4-11.7l0.5-20.3l0.5-2.1l0.4-5.3l0.5 4.1l0.5-11.3l0.4-6.5l0.5-1.8l0.5 6.4l0.4 4.3l0.5 6.3l0.5 3l0.4-0.9l0.5-3.5l0.4-2.7l0.5 1.5l0.5 5.7l0.4-1.4l0.5 3.6l0.5 1.8l0.4 5l0.5-2.5l0.5-3.1l0.4 0.9l0.5-0.6l0.5-6.6l0.4-7.6l0.5 1.4l0.5 2l0.4 1.8l0.5 0.8l0.4 2.7l0.5 4.8l0.5-3.3l0.4 7.6l0.5 3.1l0.5-5.8l0.4-1.9l0.5-4.7l0.5 4.2l0.4 1l0.5 2l0.5-3.1l0.4 1.2l0.5-3.8l0.5 0.5l0.4-0.5l0.5-2.9l0.5 6.5l0.4-1.8l0.5 4l0.4-8l0.5-8.5l0.5 9.4l0.4 9.2l0.5 13.9l0.5-1.1l0.4-2l0.5-8.3l0.5 6.4l0.4-5.8l0.5-5.4l0.5 2.1l0.4-3.5l0.5-6.1l0.5-5.3l0.4 5.7l0.5 1.9l0.5-9.6l0.4-1.1l0.5 6.7l0.4 7.2l0.5 2.4l0.5 8.3l0.4 5l0.5 0.4l0.5-8l0.4 5.6l0.5 0.1l0.5-1.5l0.4-2.2l0.5-2.6l0.5 0.5l0.4-4.5l0.5 6.8l0.5-5.8l0.4 6.3l0.5 4.3l0.5 4.1l0.4 0.9l0.5-4.1l0.4-1.3l0.5 4.5l0.5-9.5l0.4-4.5l0.5-2.8l0.5-2.2l0.4 7.1l0.5-3l0.5-5.9l0.4-9.2l0.5 11.5l0.5 19l0.4-5l0.5-2.8l0.5-4.9l0.4-2.1l0.5 2.5l0.4-3.8l0.5 4.9l0.5-2l0.4 0.8l0.5 2.6l0.5-0.5l0.4 4.8l0.5-1.3l0.5-5l0.4 1.3l0.5 0.9l0.5-1.4l0.4 3.8l0.5-0.4l0.5-0.3l0.4-7l0.5-1.7l0.5-0.6l0.4-2.7l0.5-3.3l0.4-4l0.5 2.4l0.5-3.6l0.4 1.4l0.5-1.5l0.5-1.1l0.4 4.3l0.5 9.1l0.5 6.8l0.4-3.9l0.5 2.7l0.5-3.8l0.4 0.2l0.5 1.2l0.5 3l0.4 4.6l0.5 1.7l0.5-1.6l0.4-8l0.5 1.5l0.4-1.7l0.5-1l0.5 1.1l0.4 1.3l0.5-1.9l0.5 4.6l0.4-2.5l0.5 0.1l0.5-0.7l0.4 2.5l0.5-5l0.5 0.2l0.4-9.8l0.5-2l0.5 4.5l0.4-0.2l0.5 1.6l0.5 2.1l0.4-2.2l0.5-4.4l0.4-4.6l0.5 0.6l0.5 0.2l0.4 0l0.5-1.8l0.5-4.9l0.4 4.1l0.5 0.4l0.5-1.3l0.4 4.8l0.5 4.9l0.5-11.1l0.4-5.6l0.5-1l0.5 0l0.4 2.4l0.5 2.8l0.5-1.5l0.4 0.8l0.5 4.3l0.4 5.7l0.5-2.1l0.5 0.7l0.4-0.2l0.5 5.1l0.5-0.7l0.4-6.8l0.5 1.9l0.5-3.4l0.4-1.2l0.5-1.9l0.5 3.7l0.4 3.9l0.5 0.5l0.5 2.9l0.4 3l0.5 0.5l0.4 4.1l0.5-2.3l0.5 2.3l0.4-4.6l0.5 1.1l0.5 1.7l0.4 8.2l0.5 2l0.5-4.7l0.4 0.3l0.5-1.5l0.5 7.2l0.4 2.8l0.5 3.1l0.5 4.7l0.4-14.3l0.5-16.5l0.5 8.6l0.4 10.4l0.5-8.5l0.4 5.5l0.5 7.9l0.5-2l0.4 5.6l0.5-3.7l0.5-3.6l0.4 0.8l0.5-0.6l0.5 1.6l0.4 2.8l0.5 8.3l0.5 1.1l0.4 6.4l0.5 5l0.5 7.4l0.4-1.8l0.5 0.2l0.5 11.3l0.4 5.1l0.5 0.8l0.4 9.3l0.5 0.1l0.5 5.4l0.4 4.5l0.5 10.6l0.5 9.2l0.4 18.8l0.5 19.9l0.5 2.2l0.4-0.2l0.5 0.5l0.5 0.8l0.4-8l0.5-5l0.5 3.9l0.4-3.9l0.5 2.7l0.5-1.4l0.4 6.2l0.5 2.8l0.4 1.3l0.5 3.9l0.5 1.5l0.4-2.2l0.5 4l0.5 6.4l0.4 9.5l0.5 9.4l0.5 3l0.4-6.4l0.5-4.2l0.5-9.4l0.4-10.3l0.5-17.3l0.5-14.8l0.4-2.1l0.5-1.5l0.5 3.9l0.4-9.6l0.5 0.9l0.4-2l0.5-4.5l0.5-0.4l0.4-4l0.5 4.5l0.5-9l0.4-4.5l0.5-4.8l0.5-9.5l0.4-4.5l0.5-1.9l0.5-8.2l0.4 1.7l0.5 1.7l0.5-3.1l0.4-6l0.5-13.6l0.4-0.7l0.5 5.2l0.5-4l0.4-4l0.5 3.3l0.5-12.3l0.4-0.6l0.5 4.4l0.5-1.6l0.4-6.3l0.5-4.7l0.5 1.5l0.4 0.4l0.5-1.8l0.5-0.7l0.4-2.7l0.5 3.3l0.5 4.3l0.4-7.4l0.5 4.1l0.4 7.1l0.5-1.2l0.5 5.3l0.4-1.3l0.5-3.9l0.5 6.4l0.4 1.6l0.5 4l0.5 2.1l0.4-2.3l0.5 7.2l0.5 0.1l0.4 14.4l0.5 4.3l0.5 10l0.4 10.5l0.5 12.3l0.5 13.7l0.4 16.3l0.5 16.7l0.4 15.1l0.5 10.6l0.5 20.1l0.4 4.4l0.5 4.4l0.5 5.6l0.4-1.1l0.5-5.9l0.5 1.1l0.4-3.1l0.5-11.4l0.5-2.5l0.4-6.2l0.5-4.5l0.5 3.3l0.4 5.2l0.5-2.8l0.5-7.6l0.4-0.3l0.5-1.1l0.4-6.6l0.5 3.5l0.5-10.3l0.4 2.9l0.5-12.9l0.5-6.5l0.4-8.2l0.5-4.1l0.5-11l0.4-7" fill="none" stroke="#62B8E8" stroke-width="3.4" stroke-linejoin="round" stroke-linecap="round"/>
<path d="M102.8 1281.8l0.4 2.9l0.5-5.9l0.4 0.9l0.5-4.2l0.5-9l0.4 0l0.5-2l0.5-6.3l0.4-13l0.5-6.5l0.5-3l0.4 4.8l0.5 10.5l0.5 14.9l0.4 3.2l0.5 3.7l0.5 6.4l0.4 2l0.5-1.5l0.4-7.9l0.5-6.1l0.5-1.3l0.4 4l0.5 1.3l0.5-6.3l0.4 7l0.5-4.1l0.5-1l0.4 8.3l0.5-9.1l0.5-7l0.4 4.1l0.5-1.3l0.5 5l0.4-0.8l0.5-2.9l0.5-3.7l0.4 3.8l0.5 2.8l0.4-2.2l0.5 11l0.5-1.9l0.4-1l0.5 1l0.5 0.7l0.4-3.8l0.5 3.9l0.5 1.8l0.4 3.2l0.5-2.8l0.5 0l0.4 0.2l0.5-7.7l0.5 4.7l0.4-6.3l0.5 3.4l0.5 5.4l0.4 7.8l0.5-8.5l0.4-1.9l0.5 0.8l0.5-6.3l0.4 5.3l0.5 3.5l0.5-0.7l0.4-7.4l0.5 4.7l0.5 0.4l0.4-18.9l0.5-12.9l0.5 13.3l0.4 14.7l0.5-3.6l0.5-4.1l0.4-4.2l0.5 9.6l0.5-6.3l0.4-2.2l0.5 2.8l0.4-5l0.5-1.1l0.5-4.1l0.4-5.8l0.5-5.9l0.5 5.7l0.4 0.7l0.5 4.5l0.5-5.1l0.4-5.9l0.5-5l0.5 4.8l0.4-6.1l0.5-3.8l0.5 2.9l0.4 0.7l0.5 3.2l0.4 0.7l0.5-1l0.5 1.5l0.4 0.2l0.5 3.9l0.5 3.1l0.4-7.9l0.5 2.4l0.5-1.5l0.4-7.3l0.5 1.3l0.5 6.1l0.4 6.8l0.5-1.8l0.5-0.3l0.4-0.3l0.5-1.8l0.5-2.8l0.4 10.3l0.5 0.4l0.4 8.9l0.5 2.1l0.5-5.2l0.4-6.2l0.5 0.3l0.5 5.1l0.4-2.8l0.5-0.9l0.5 2.3l0.4 0.7l0.5 0.2l0.5 1.6l0.4-0.8l0.5 5.3l0.5-7l0.4 0.6l0.5 3.9l0.5 2.5l0.4-7.2l0.5-11.7l0.4 13.9l0.5 15.9l0.5 2.4l0.4 3.7l0.5-5l0.5-7.7l0.4 7.9l0.5-5.5l0.5-10.3l0.4 0.4l0.5-10.9l0.5-6.8l0.4-2.7l0.5-0.4l0.5 4.5l0.4 0.1l0.5 12.9l0.5 2.2l0.4-1.4l0.5-7.9l0.4-9l0.5 1.7l0.5-4.4l0.4-2.7l0.5 7.1l0.5 2.8l0.4-6.5l0.5-2.6l0.5-2.6l0.4-7.6l0.5-9.3l0.5 2.1l0.4 5.5l0.5 5.8l0.5-1.8l0.4 2.5l0.5 4.2l0.5-2.5l0.4 4l0.5-3.3l0.4-5.4l0.5-2.2l0.5-9.2l0.4 10.9l0.5 4.6l0.5-8l0.4 6.8l0.5 1.8l0.5-0.3l0.4 9.9l0.5 13.8l0.5 0.3l0.4 7.4l0.5 7.2l0.5-10.3l0.4-6.3l0.5-5.4l0.4-7.8l0.5 6.9l0.5-2.9l0.4 6.9l0.5 2.5l0.5 2.8l0.4-2.4l0.5 2l0.5 9.5l0.4 7.2l0.5 2.5l0.5-3.9l0.4 2.2l0.5-11.6l0.5 2.3l0.4-3.2l0.5 0.5l0.5 11.5l0.4 6.1l0.5-9.1l0.4 4.2l0.5 8.6l0.5-4.6l0.4 14.1l0.5 5l0.5 5.1l0.4 7.4l0.5-7.9l0.5-5.9l0.4-2l0.5-2.8l0.5 4l0.4-8.7l0.5 3.1l0.5 3.5l0.4 10.1l0.5 8.2l0.5-4.2l0.4 8.9l0.5-0.1l0.4-0.4l0.5 4l0.5 1.4l0.4 0.7l0.5 0.2l0.5-14.6l0.4 4.2l0.5-0.6l0.5 8l0.4-9.4l0.5-11.2l0.5-14.2l0.4-3.1l0.5 4.3l0.5 2.8l0.4-2.7l0.5-1.1l0.5-8.5l0.4-0.9l0.5 4l0.4-5.3l0.5-4.5l0.5-6.5l0.4-4.5l0.5 5.5l0.5 12.2l0.4 0.3l0.5 1.2l0.5 3.8l0.4 2.6l0.5 0.7l0.5 4.1l0.4 7.7l0.5 6.5l0.5 7.7l0.4-10.9l0.5-9l0.5-3.9l0.4-1.7l0.5-3.6l0.4-4.5l0.5-6.8l0.5 6l0.4-5l0.5 1.8l0.5-2l0.4-2.4l0.5-6.6l0.5-1.4l0.4-8l0.5 6.7l0.5-1.2l0.4-0.3l0.5-0.3l0.5-4.4l0.4 4.1l0.5-0.3l0.4 5.8l0.5 4.8l0.5-1.1l0.4 6l0.5 2.1l0.5 4.4l0.4-5.6l0.5 2.8l0.5 8.1l0.4 2.4l0.5-9.5l0.5-7.7l0.4-8.7l0.5-0.3l0.5 3.6l0.4 12.3l0.5 4.7l0.5 6.5l0.4-5.6l0.5-9.1l0.4-0.8l0.5 4.9l0.5-3.2l0.4-3.7l0.5-7.5l0.5 4.6l0.4-9.6l0.5-0.3l0.5-4.6l0.4 0.2l0.5-2.4l0.5 1l0.4 5.8l0.5-20.7l0.5-12.7l0.4 5.3l0.5 4l0.5 0.1l0.4 2.9l0.5 2.8l0.4 3.8l0.5-1.8l0.5 2.7l0.4 4.5l0.5 1.2l0.5 6.5l0.4-0.3l0.5 5.7l0.5-0.1l0.4 1.2l0.5-5.4l0.5 7.8l0.4-1.6l0.5 7.1l0.5-4.6l0.4 0.8l0.5 2.5l0.5 3.3l0.4 1.6l0.5-3.9l0.4 6.8l0.5-12.7l0.5-6.6l0.4 12.3l0.5 13.6l0.5 3.2l0.4-2.4l0.5 0.1l0.5 5.6l0.4 0.7l0.5-7.3l0.5-2l0.4-0.1l0.5-0.3l0.5-2.8l0.4-10.1l0.5-2l0.4-8.1l0.5-2.3l0.5-3l0.4 2.8l0.5-1l0.5 5.6l0.4 9.4l0.5-5l0.5-0.6l0.4-6.9l0.5-7.3l0.5 4.1l0.4-9.9l0.5-8.1l0.5-3.6l0.4 2.9l0.5 3.5l0.5 12l0.4 10.8l0.5-0.9l0.4-1.9l0.5-0.5l0.5-0.7l0.4 2.3l0.5-2l0.5 0.9l0.4-0.3l0.5 10.2l0.5 4l0.4 5.6l0.5 5.6l0.5 5.4l0.4-6.2l0.5-4.7l0.5-13.8l0.4-14.3l0.5-3.2l0.5 0.4l0.4-2.9l0.5-6.1l0.4-12.3l0.5-6.2l0.5-1.3l0.4 6.8l0.5 7.9l0.5 15.9l0.4 15.4l0.5-12.5l0.5-6.4l0.4 0.2l0.5 5l0.5-5l0.4-2.7l0.5-8.8l0.5-2.3l0.4-6.9l0.5 2.8l0.5 0.2l0.4 0.4l0.5-2.9l0.4 4l0.5 5.7l0.5 8l0.4 5.9l0.5-0.5l0.5-1.2l0.4-3l0.5 1.8l0.5-0.1l0.4 10.6l0.5 6.5l0.5 2.4l0.4-3.2l0.5 1.3l0.5 6.8l0.4-3.1l0.5-7.3l0.5 7.7l0.4-2.9l0.5-2.6l0.4 0l0.5 5l0.5 3.3l0.4-4.1l0.5 2.5l0.5 6.4l0.4-3.7l0.5 6.8l0.5-4.9l0.4 1.2l0.5-0.1l0.5-8.7l0.4-0.7l0.5 1.3l0.5-4.7l0.4 2.8l0.5-1.5l0.4 5.2l0.5-4.5l0.5 9.1l0.4-1.9l0.5-1.6l0.5 0.3l0.4-6l0.5-3.7l0.5-6.7l0.4 2.6l0.5 5.6l0.5 4.7l0.4-7.4l0.5-0.3l0.5-3.3l0.4 10.2l0.5 11.5l0.5 4.6l0.4-1l0.5 10.6l0.4 2.8l0.5 8.8l0.5 10.3l0.4 39.1l0.5 35.6l0.5 36.9l0.4-40.5l0.5-44.4l0.5-47.8l0.4 1l0.5 2.4l0.5 7.6l0.4-10.6l0.5-14.9l0.5-15.1l0.4-11.7l0.5 10l0.5-0.1l0.4 5.4l0.5 3.2l0.4-5.7l0.5-2.5l0.5 6.7l0.4 6.7l0.5 6.4l0.5-5l0.4-3.5l0.5-3.3l0.5-4.4l0.4-2.3l0.5 2.8l0.5 1.8l0.4-1l0.5 5.1l0.5 7.7l0.4-1.9l0.5 0.7l0.5-3.8l0.4-1.6l0.5-3.5l0.4 5.6l0.5-3.2l0.5-6.4l0.4-9l0.5 4.3l0.5 1.4l0.4 6.8l0.5-1.4l0.5 6.8l0.4 3.2l0.5-7.1l0.5-12.3l0.4-5.8l0.5 4.8l0.5 5.3l0.4 6.6l0.5-6.3l0.5 5.6l0.4 2.1l0.5 4.8l0.4 0.9l0.5-9.1l0.5 0.3l0.4-1.8l0.5 3.8l0.5 9l0.4 4.3l0.5-4.6l0.5 9.3l0.4-3.5l0.5-3.1l0.5 1l0.4 6.7l0.5-3.4l0.5-8.2l0.4 6l0.5-3l0.4 2.2l0.5-2.1l0.5-0.4l0.4-3.3l0.5 3.9l0.5 3.1l0.4-2.4l0.5-1.7l0.5 2.1l0.4-7.6l0.5 4.8l0.5 1.3l0.4 2l0.5-5.8l0.5-3.9l0.4-6.7l0.5 2.7l0.5-4.4l0.4 4.7l0.5 6.1l0.4 1.6l0.5 2.4l0.5-3.6l0.4 0.4l0.5-1.7l0.5 6.7l0.4 0.1l0.5-7.4l0.5-5.6l0.4-9.8l0.5-8.5l0.5 4.5l0.4 0l0.5 4.7l0.5 1.6l0.4 4.7l0.5-7.1l0.5-1.7l0.4-2.6l0.5 7.9l0.4-2.8l0.5-1.8l0.5 7.2l0.4 1.4l0.5 0.3l0.5 5l0.4-3.4l0.5 8.3l0.5-1.2l0.4 0.2l0.5 1.3l0.5 4.5l0.4-9.6l0.5 2.4l0.5 3.2l0.4-4.1l0.5-11.1l0.5-11.9l0.4 8.4l0.5 5l0.4 14.6l0.5-7.6l0.5-3.2l0.4 8l0.5-5.7l0.5-3.3l0.4-5l0.5 8.4l0.5-1.8l0.4-3l0.5-8.9l0.5 3.7l0.4-1.5l0.5 2.8l0.5-4.5l0.4 1.1l0.5 0.2l0.5 5.6l0.4-2.3l0.5 2.2l0.4 1.2l0.5-8.7l0.5 0.1l0.4-1.7l0.5 5.5l0.5 1.1l0.4-8.2l0.5 15.3l0.5-4.8l0.4-7.1l0.5-1.1l0.5 1.6l0.4 7.2l0.5-3.6l0.5 4.2l0.4 1.8l0.5-3l0.4 0l0.5-1.4l0.5-2.2l0.4 4l0.5-7l0.5 7.7l0.4 6.7l0.5-2l0.5-0.5l0.4-3.9l0.5-4.4l0.5 1.7l0.4 0.3l0.5 0.7l0.5 3.7l0.4 5.5l0.5-9.8l0.5-10l0.4-11.6l0.5-0.2l0.4 3.2l0.5 1.1l0.5 5.4l0.4 2.2l0.5 2l0.5-3.8l0.4 39.7l0.5 35.8l0.5 35.1l0.4-34.9l0.5-35.3l0.5-33.9l0.4 12.4l0.5-1.6l0.5 10.2l0.4 2.2l0.5-1.9l0.5 10.2l0.4-11.4l0.5 1.3l0.4-0.2l0.5-3.1l0.5 6.2l0.4-1.8l0.5-1.2l0.5-1.9l0.4 0.2l0.5 0.4l0.5 0.7l0.4 6.5l0.5 1.6l0.5 9.9l0.4-7.5l0.5-19.6l0.5 17.7l0.4-9l0.5-1.8l0.5 3.4l0.4 4.4l0.5 9.5l0.4 2l0.5-13l0.5 1.8l0.4-0.5l0.5-9.1l0.5-0.1l0.4-3.3l0.5 0l0.5-0.8l0.4-3.7l0.5 6.1l0.5 2.3l0.4-3.2l0.5-2.3l0.5-3.7l0.4 6.9l0.5-8.2l0.4-2.5l0.5 0l0.5 0.4l0.4-2.1l0.5 4.8l0.5-5.1l0.4 1.4l0.5 6.8l0.5 33.1l0.4 36.8l0.5 38l0.5-38.3l0.4-37.9l0.5-33.2l0.5 1.6l0.4-0.3l0.5-10l0.5 1l0.4 5.6l0.5 6.5l0.4-0.7l0.5-4.1l0.5 5.5l0.4-4.8l0.5-7l0.5 3.7l0.4-2.5l0.5 2.5l0.5-3.3l0.4-0.5l0.5-7.7l0.5 2.7l0.4 9.3l0.5 1.1l0.5 2.1l0.4-7.7l0.5 1.1l0.5-5.7l0.4-1.3l0.5 0.1l0.4 3.4l0.5-1.3l0.5 4.3l0.4 2.8l0.5 4.6l0.5 4.4l0.4 7.1l0.5-4.3l0.5-4.6l0.4-5.8l0.5 4.7l0.5-6.7l0.4 9.2l0.5 21.7l0.5 16.3l0.4-19.4l0.5-17l0.5-9.3l0.4-5.5l0.5-4.7l0.4 0l0.5 5.8l0.5-6.7l0.4 5.1l0.5 6.9l0.5 7.8l0.4-12.9l0.5-7.6l0.5-8.3l0.4 7.4l0.5 3.2l0.5 0.6l0.4 11.7l0.5-0.3l0.5 6.6l0.4-5.2l0.5-5.8l0.5 4.8l0.4-2.2l0.5-6.6l0.4-1.5l0.5 5.9l0.5 9.3l0.4 16.8l0.5-16.4l0.5-15l0.4 2.3l0.5-3.6l0.5 6.9l0.4 5.7l0.5-4.9l0.5 1.2l0.4-4.1l0.5 3.7l0.5 5.7l0.4 11.7l0.5 9l0.4-13.6l0.5-9l0.5-8.2l0.4-3.1l0.5 6.7l0.5 1.2l0.4 0l0.5-6.1l0.5 8.6l0.4-0.7l0.5 0l0.5-6.4l0.4 13.1l0.5 4.8l0.5-5.1l0.4-10.2l0.5 4.7l0.5 6.7l0.4-0.2l0.5-8.9l0.4 3.6l0.5 2.6l0.5 7.1l0.4 3.5l0.5 8l0.5 4.4l0.4-13.1l0.5-5.9l0.5-2.7l0.4 2.3l0.5-4l0.5 7.8l0.4 15.2l0.5 11.5l0.5-9.1l0.4-4.1l0.5-6l0.5-2.2l0.4 0.5l0.5 13.3l0.4 8.8l0.5-6.6l0.5-10.5l0.4-0.5l0.5-0.9l0.5-0.2l0.4-2.2l0.5-2.1l0.5-1.8l0.4 3.7l0.5-1.1l0.5-6l0.4-4.4l0.5 0.8l0.5 4.8l0.4 2.8l0.5-0.1l0.5 8.1l0.4-3.2l0.5 5.1l0.4-8.9l0.5-6.3l0.5-3.6l0.4-1.2l0.5-1.6l0.5 4.7l0.4-8.1l0.5 11.6l0.5 15.9l0.4-11.8l0.5-12.4l0.5-3.4l0.4 0.7l0.5-7l0.5 5.1l0.4-1.8l0.5 9.3l0.5 8.2l0.4-1.7l0.5 4.5l0.4 10.1l0.5-1.2l0.5 2.8l0.4 3.4l0.5-1.6l0.5 0.4l0.4-3.2l0.5 3.6l0.5-5.8l0.4 8.7l0.5-0.8l0.5-16.9l0.4-8.9l0.5-11.3l0.5 11.5l0.4 8l0.5 9l0.4-7.2l0.5 9.2l0.5-1.5l0.4 1.9l0.5-8.3l0.5 7.2l0.4-7.3l0.5 5.2l0.5-1.4l0.4-8.2l0.5 2.6l0.5-1.7l0.4 1.1l0.5 5.2l0.5 0.5l0.4-1.2l0.5-3.9l0.5-1.6l0.4-9.1l0.5 2.4l0.4 1.4l0.5-3.7l0.5 3.5l0.4-1.7l0.5-3.4l0.5 0.4l0.4 4.4l0.5-0.8l0.5-0.8l0.4 1.9l0.5-0.2l0.5 0.2l0.4 0.1l0.5 5.4l0.5 2.8l0.4-3.4l0.5-0.6l0.5 2.3l0.4 1.7l0.5 1.4l0.4-1.7l0.5 5.4l0.5 2.5l0.4 4.5l0.5 0.7l0.5-3.6l0.4-0.2l0.5-4.8l0.5 11.3l0.4 13.5l0.5-12.9l0.5-6.4l0.4-3.6l0.5-3.3l0.5-2.2l0.4 2l0.5 9.7l0.5 4.7l0.4 2.7l0.5 0.6l0.4 0l0.5 4.6l0.5 1.4l0.4-10.1l0.5 5.5l0.5-2.5l0.4 0.8l0.5 5.7l0.5 0.9l0.4-8.7" fill="none" stroke="#3DA872" stroke-width="3.4" stroke-linejoin="round" stroke-linecap="round"/>
<path d="M102.8 1298.1l0.4 2.6l0.5-0.3l0.4 8.1l0.5-8.1l0.5-9.2l0.4-10.9l0.5 6.5l0.5-8.6l0.4-10.2l0.5-7.6l0.5 1.2l0.4 2.9l0.5 14.7l0.5-0.6l0.4-1.5l0.5 1.8l0.5 2.2l0.4-1l0.5 10.8l0.4-2.2l0.5-6.9l0.5 2.9l0.4 10.2l0.5-9.4l0.5-5.1l0.4 6.3l0.5-3.3l0.5 2.1l0.4 4.5l0.5-1.9l0.5-7.5l0.4-3.5l0.5-5.5l0.5-0.7l0.4-4.5l0.5 13.6l0.5-3.8l0.4-1.2l0.5-11.2l0.4-0.4l0.5-0.1l0.5-2l0.4-6.3l0.5 2.4l0.5-1.2l0.4 7.8l0.5-0.7l0.5-4.8l0.4-0.1l0.5 2.2l0.5 13.6l0.4-7.5l0.5-5.7l0.5 10.6l0.4 16.6l0.5-3.5l0.5 5.1l0.4 1.7l0.5-5.6l0.4 3.6l0.5-7.7l0.5-6.6l0.4-3.3l0.5-6.8l0.5 5.6l0.4 4.6l0.5-3.2l0.5-6.4l0.4 14.9l0.5 1.5l0.5 0.8l0.4-2.8l0.5-4.1l0.5-0.7l0.4-3.9l0.5 2.5l0.5-9.4l0.4-2.6l0.5 4.3l0.4-13.6l0.5 3.8l0.5 3.2l0.4-3.6l0.5 3.8l0.5-3l0.4-7.8l0.5 12.6l0.5 9.3l0.4 1.3l0.5-3.9l0.5 6.3l0.4-9.4l0.5 0.1l0.5 1.4l0.4-6.6l0.5-0.2l0.4-2.9l0.5-4.8l0.5-4.4l0.4-3.1l0.5 12.8l0.5 18.8l0.4-17.7l0.5-1.9l0.5 14.2l0.4 20.3l0.5 13.9l0.5-12.9l0.4-17.3l0.5-3.3l0.5-11.6l0.4-2.9l0.5-8.2l0.5-5l0.4-7.8l0.5 1.3l0.4 2.9l0.5-11.2l0.5 3l0.4 8.7l0.5 1.8l0.5-0.6l0.4 6.6l0.5 3l0.5 2.2l0.4 14.4l0.5 8.5l0.5 10l0.4 4.2l0.5-2.5l0.5-3.7l0.4 0.1l0.5-6.9l0.5-6.7l0.4 9.3l0.5-0.6l0.4-4l0.5-1.2l0.5 1.3l0.4-6.4l0.5 4l0.5 2.9l0.4 3l0.5-5.6l0.5-9.1l0.4-6.3l0.5-2.6l0.5-4l0.4 1.3l0.5-5.9l0.5 3.4l0.4 1.9l0.5 2.3l0.5 14.3l0.4-10.2l0.5-9.9l0.4 6.8l0.5-5.5l0.5 4.5l0.4-17.2l0.5-11.2l0.5-4.4l0.4 0.5l0.5 0.3l0.5-8.4l0.4 2.6l0.5-10.2l0.5 6.9l0.4 5.2l0.5 3.1l0.5-0.2l0.4 12.2l0.5 7.3l0.5 0.5l0.4-3.9l0.5 1.1l0.4-0.4l0.5-5.7l0.5 5.6l0.4 12.1l0.5 4.1l0.5-10.7l0.4 5.2l0.5-0.5l0.5-1.7l0.4 5.1l0.5 2.4l0.5 1.7l0.4 1l0.5-1.5l0.5-11.6l0.4 15.6l0.5 12.1l0.4 14.5l0.5-5.5l0.5-17.1l0.4-12.4l0.5 11.1l0.5 2.4l0.4 11.1l0.5-1.5l0.5-5l0.4 0.9l0.5-1.6l0.5-1.3l0.4 8.4l0.5-10.9l0.5 0.2l0.4 5.6l0.5 4.5l0.5-2.3l0.4 6.1l0.5 4.4l0.4-4.2l0.5-5.4l0.5 1.7l0.4 1.4l0.5 3.6l0.5 17l0.4 15.7l0.5-18.6l0.5-10.9l0.4-0.9l0.5-1.2l0.5 3.4l0.4 11.9l0.5 13.9l0.5-0.8l0.4 5.4l0.5 3.4l0.5-2.5l0.4-0.3l0.5-9.5l0.4 6.6l0.5 1.7l0.5-11l0.4 6.6l0.5 3.3l0.5-17l0.4 6.5l0.5 1.4l0.5-7.6l0.4 0.8l0.5 0.9l0.5-0.8l0.4-6.1l0.5 1.3l0.5-6.3l0.4-9.9l0.5 3.6l0.5-4.2l0.4 8.4l0.5 1.2l0.4 7.2l0.5-6.8l0.5-0.6l0.4-1.4l0.5-4.9l0.5-14.1l0.4 12.4l0.5 19.5l0.5 9.3l0.4-7.8l0.5-1.5l0.5 2.9l0.4 7l0.5 8.5l0.5-0.9l0.4 6.6l0.5-15.6l0.5-1.3l0.4-6.4l0.5 4.8l0.4 1.8l0.5-0.4l0.5-9.8l0.4-15.4l0.5-13.4l0.5-3.9l0.4 4.9l0.5 7.6l0.5-5.9l0.4-7l0.5-6l0.5 2.6l0.4-1.7l0.5-4.8l0.5 12.1l0.4-8.1l0.5-2.2l0.4 14.9l0.5 10l0.5 2.8l0.4 2.6l0.5-1.4l0.5 7.8l0.4 1.4l0.5 4.2l0.5 4.4l0.4-21.2l0.5-8.6l0.5-10.6l0.4 12.4l0.5 14.8l0.5 4.7l0.4-2.6l0.5-11.6l0.5-7.1l0.4 8.4l0.5 13.9l0.4-6.9l0.5 6.6l0.5 8l0.4-6.4l0.5-6.4l0.5-2.3l0.4-3.3l0.5-4.4l0.5-10.8l0.4-14.7l0.5-2.5l0.5 0.7l0.4-1.4l0.5 4.5l0.5 5.3l0.4 6.6l0.5-4.6l0.5 5.2l0.4-4.1l0.5 0.9l0.4-12.5l0.5-5l0.5 2.1l0.4-3.8l0.5 6.5l0.5 0.6l0.4 2.3l0.5 6.6l0.5-8.6l0.4 5.7l0.5-2.6l0.5 1l0.4 2.8l0.5-6.6l0.5 3.5l0.4 4.1l0.5 5l0.5 2.7l0.4 5.4l0.5 12.4l0.4 8.2l0.5-6l0.5-5.2l0.4 1.4l0.5 6.9l0.5-5.4l0.4 9.5l0.5-11.2l0.5-6.6l0.4-6.6l0.5-0.2l0.5-2.7l0.4-8.7l0.5-0.8l0.5 4.1l0.4 9.1l0.5-4.4l0.4-4.8l0.5 1.9l0.5 2.1l0.4-5l0.5-7l0.5-8.6l0.4 3.5l0.5 14l0.5 6.5l0.4 11.8l0.5-1l0.5 4.5l0.4-6.5l0.5 0.2l0.5-4.4l0.4-0.9l0.5 9.5l0.5-2.2l0.4 7.7l0.5-7.4l0.4-15.9l0.5-5.9l0.5-6.8l0.4 4.9l0.5 8.7l0.5 4.2l0.4-2.9l0.5 7.1l0.5 6.2l0.4 6.2l0.5-10.6l0.5-0.6l0.4-14l0.5 7.8l0.5 17.7l0.4 21.5l0.5-23.9l0.5-37.6l0.4 4.1l0.5 3.9l0.4 0.1l0.5-10l0.5 2.8l0.4-11.1l0.5-1.2l0.5 1l0.4 8.7l0.5 1.4l0.5 6l0.4-1.8l0.5 11.9l0.5 5.2l0.4 3.6l0.5-3.6l0.5-0.4l0.4-0.9l0.5-1.8l0.5-5.5l0.4 0.6l0.5-2.9l0.4 6.5l0.5 5.9l0.5-0.3l0.4 3.7l0.5-4.2l0.5 2.6l0.4 3.1l0.5 0.4l0.5-5.9l0.4 4.1l0.5-8.5l0.5 0.5l0.4 5.9l0.5 4.2l0.5 2.5l0.4 4.5l0.5 1.1l0.5-8.7l0.4 4.1l0.5-7l0.4-8.7l0.5-0.9l0.5-1.5l0.4-2.5l0.5-4.2l0.5 1.4l0.4-7l0.5 1.5l0.5 8.7l0.4 9.4l0.5 9.8l0.5-3.3l0.4-1.4l0.5-7.9l0.5 7.3l0.4 1l0.5-5.8l0.4-5l0.5 4.6l0.5 15.7l0.4 15.5l0.5 1.4l0.5-11.6l0.4 1.7l0.5 2.3l0.5 6.5l0.4 6.6l0.5-8.2l0.5-8.1l0.4-11.7l0.5 3l0.5-2.8l0.4 10.7l0.5 0.8l0.5 8.5l0.4 26l0.5 21l0.4 13l0.5-13.3l0.5-10.2l0.4-3.5l0.5-11.6l0.5-8.4l0.4-7.5l0.5 2.9l0.5 1.4l0.4 3.2l0.5 2.9l0.5 1l0.4-12l0.5-2.5l0.5-8.4l0.4-9.4l0.5 6.5l0.5-5.9l0.4-4.4l0.5-1.7l0.4-3.3l0.5-12.6l0.5-0.5l0.4 5.9l0.5-4.9l0.5 3.9l0.4 9.7l0.5 4.4l0.5-6.2l0.4-1.6l0.5 3l0.5-10.2l0.4-2.9l0.5 10.5l0.5-5.9l0.4 14.6l0.5 3l0.5 4.8l0.4 4.9l0.5-3.4l0.4 4.8l0.5-11l0.5 5.5l0.4-1.6l0.5-7.5l0.5-2.3l0.4-6.2l0.5 8.8l0.5 3.1l0.4-7.6l0.5-2l0.5-2.4l0.4-2.5l0.5 18.4l0.5 42.8l0.4 29.2l0.5 11.3l0.5-27.3l0.4-36.8l0.5-26.3l0.4-4.4l0.5 6.5l0.5 4.4l0.4-1.1l0.5 4l0.5 22.1l0.4 0.7l0.5 2.1l0.5 2.4l0.4-6.1l0.5-4.3l0.5 0.5l0.4-7.1l0.5 2.6l0.5 3l0.4 2.2l0.5-3.5l0.4 1.8l0.5-1.5l0.5 0.1l0.4-8.3l0.5-8.2l0.5 0.7l0.4-3.3l0.5 1.3l0.5 6l0.4-3.2l0.5 13.2l0.5-9.1l0.4 4.4l0.5 1.7l0.5 1l0.4-8.4l0.5 1.5l0.5-0.7l0.4-10.3l0.5 2.7l0.4 1.1l0.5 5.9l0.5 15.2l0.4 0.7l0.5-4.6l0.5 4.6l0.4-6.7l0.5-21.9l0.5 2.4l0.4 2.9l0.5-14.5l0.5 14.8l0.4 3.3l0.5-2.3l0.5 0.2l0.4-12.9l0.5-2.9l0.5 5.7l0.4 7.3l0.5-5.7l0.4 1.3l0.5-2l0.5-0.9l0.4 7.6l0.5 2.9l0.5-2l0.4-4.4l0.5-7.3l0.5 10.3l0.4-3.8l0.5-0.6l0.5-11.4l0.4 5l0.5 0l0.5-12l0.4-8.2l0.5 10.3l0.5 6.7l0.4-0.3l0.5 3.5l0.4 0.8l0.5-7.6l0.5 2.2l0.4-7.1l0.5 0.7l0.5 5.2l0.4 3.7l0.5 6.4l0.5-2.6l0.4 7.1l0.5-0.8l0.5-1.9l0.4-1.5l0.5 1.8l0.5-0.7l0.4-7.3l0.5-9.7l0.5-6.8l0.4 7.8l0.5 9.4l0.4 2l0.5 2.1l0.5-5.2l0.4 10.1l0.5 3.6l0.5-11.3l0.4 0.6l0.5-7.6l0.5-4l0.4 1.8l0.5 4.5l0.5-2.8l0.4 8.2l0.5-6.4l0.5-10.7l0.4-5.8l0.5-3l0.4-1l0.5-5.2l0.5 24.4l0.4 14.7l0.5 10.6l0.5-11l0.4-17.3l0.5-5.6l0.5-3.2l0.4 9.7l0.5-6.1l0.5-4.4l0.4-1.8l0.5 3.2l0.5 3.8l0.4-6l0.5 8.4l0.5 7.8l0.4 6.3l0.5-3.6l0.4-8.8l0.5 1.5l0.5 2.3l0.4-8.5l0.5 16.6l0.5-2.8l0.4-10l0.5-3.3l0.5-3.5l0.4 1.8l0.5 3.2l0.5-1.7l0.4 4.9l0.5-8.5l0.5-0.8l0.4 0.9l0.5 2.6l0.5 7.3l0.4-0.2l0.5-8.1l0.4 5.8l0.5 0.6l0.5 20.9l0.4 19.4l0.5-11.1l0.5-8.2l0.4 0.4l0.5-6.3l0.5-11.1l0.4 3.6l0.5-2.1l0.5-3.2l0.4 2.4l0.5 5.5l0.5 0.3l0.4-10.2l0.5-1l0.5-3.2l0.4 10l0.5 3.6l0.4 1.3l0.5-1.5l0.5 4.5l0.4 11.3l0.5 1.1l0.5-5.8l0.4 2.4l0.5-2.1l0.5 10.3l0.4 1.1l0.5-9.1l0.5-4.3l0.4-9l0.5 11.8l0.5 11.3l0.4-9.3l0.5 4.1l0.4-9.1l0.5 3.8l0.5 1.1l0.4 9.5l0.5-7.7l0.5-5l0.4-20l0.5 2.8l0.5 4.5l0.4 4.9l0.5 1.5l0.5-7.9l0.4 1l0.5 10.9l0.5-2.6l0.4 7.3l0.5-3.8l0.5 1l0.4 5.8l0.5-5.5l0.4-1.3l0.5-2.1l0.5 3.5l0.4-5.6l0.5-7l0.5 0.5l0.4-3.6l0.5-3.9l0.5 6.8l0.4 2.8l0.5 1.5l0.5-3.4l0.4 0.5l0.5-5.6l0.5 4.7l0.4 1.4l0.5-0.5l0.5 4.6l0.4-6l0.5-3.4l0.4-2.1l0.5-1.4l0.5-5.4l0.4 9.5l0.5 2.9l0.5 10.6l0.4-8.4l0.5-5.2l0.5-5.5l0.4-0.5l0.5 0l0.5-4.3l0.4 14.9l0.5 4l0.5-6.2l0.4 4.6l0.5 1.6l0.5-8.3l0.4-7.9l0.5-7.5l0.4 5.7l0.5 8.1l0.5-0.4l0.4 8.1l0.5-10.4l0.5-2.5l0.4 0.1l0.5 11.5l0.5 2l0.4-3.1l0.5 0.6l0.5-3.9l0.4-7.2l0.5-4.4l0.5-3.4l0.4 4.1l0.5 6.1l0.5-5.8l0.4-3.4l0.5 2.2l0.4 2l0.5 4l0.5-4.8l0.4 0.2l0.5-6.8l0.5 4.5l0.4-11l0.5 2.9l0.5-8.1l0.4-6.2l0.5 2.7l0.5 1.6l0.4 12.5l0.5 7.2l0.5 7.9l0.4-9.7l0.5 7.6l0.4 4.1l0.5 0.4l0.5 7l0.4 3.9l0.5 1.7l0.5 3.8l0.4-0.1l0.5-5.6l0.5 0.4l0.4 0.7l0.5-7.8l0.5-3.7l0.4-1.9l0.5-7.6l0.5 9.5l0.4-4.3l0.5 7.1l0.5-5.1l0.4-5.4l0.5 6.5l0.4 7.7l0.5 3.4l0.5 1.9l0.4-4.3l0.5 1.7l0.5-3.9l0.4 3.5l0.5-1.1l0.5-2.4l0.4-2.9l0.5 6.3l0.5 1.6l0.4-0.7l0.5-4.9l0.5 6.4l0.4-7.9l0.5-6.4l0.5-5.9l0.4 8.7l0.5 13.5l0.4 17.6l0.5-2.9l0.5-0.7l0.4-6.1l0.5-0.2l0.5-0.2l0.4-6.7l0.5 2.4l0.5-9.4l0.4 2.6l0.5 21.4l0.5 13.4l0.4 7.5l0.5-6.7l0.5-4.4l0.4-5.7l0.5-12.4l0.5-9.1l0.4-5.9l0.5 4.3l0.4-1.9l0.5 1.9l0.5 6.3l0.4 5.3l0.5 12.7l0.5-12.9l0.4-1.9l0.5-2.4l0.5-1l0.4 3.6l0.5 0.3l0.5-0.8l0.4-6.3l0.5 0.3l0.5 1.3l0.4-7.2l0.5 6.8l0.5-10.2l0.4 6.8l0.5-7.9l0.4 2.9l0.5 5.6l0.5 8.9l0.4-4.2l0.5 6.2l0.5 0l0.4-1.3l0.5 1.4l0.5 11.4l0.4-0.2l0.5-7.2l0.5-4.6l0.4-4.5l0.5 6.1l0.5 11.5l0.4 6.3l0.5 3.3l0.4-4.4l0.5-3.6l0.5-0.7l0.4-5.1l0.5 4.6l0.5 1.7l0.4 3.3l0.5-3.5l0.5 4.6l0.4-8.4l0.5 0.7l0.5 1.9l0.4-6.7l0.5-0.1l0.5 4.9l0.4 1.8l0.5-9.6l0.5-2.1l0.4 6.2l0.5 6l0.4-4.6l0.5-2.7l0.5 0.5l0.4-0.7l0.5 4.8l0.5-8.8l0.4-6.7l0.5-5.8l0.5 11.6l0.4 10.3l0.5-2.5l0.5-10.8l0.4-2.7l0.5-0.3l0.5-4.5l0.4-0.9l0.5 4.4l0.5-4.4l0.4 3.8l0.5 10.1l0.4 13.5l0.5 8.5l0.5-6.8l0.4-7.8l0.5-10.2l0.5-10.1l0.4 4.8l0.5 5.3l0.5 0.5l0.4 2.3l0.5 5.3l0.5-4.3l0.4-1.5l0.5-8.8l0.5 0.6l0.4 6.8l0.5-5l0.5 5l0.4 1.9l0.5-8.4l0.4 4.8l0.5-6.4l0.5 5.3l0.4 7.5l0.5-3.4l0.5-2.8l0.4 1.6l0.5 3.9l0.5 1.3l0.4 1.4" fill="none" stroke="#C874AC" stroke-width="3.4" stroke-linejoin="round" stroke-linecap="round"/>
<path d="M102.8 1308.2l0.2 35.3l0.2 25.7l0.3 32l0.2 27.4l0.2 20.5l0.3-20.7l0.2-16.2l0.3-19.9l0.2-5.6l0.2-9l0.3 18.4l0.2 12.8l0.2 8.6l0.3 7.8l0.2 7.7l0.3-6.9l0.2-6.3l0.2-5.8l0.3-18.2l0.2-36.5l0.3-48l0.2-13.4l0.2-19.2l0.3-18.2l0.2 14.7l0.2 15.9l0.3 24.7l0.2 8.4l0.3 5.8l0.2 13.8l0.2-20.3l0.3-19.3l0.2-21.2l0.3 17.6l0.2-0.3l0.2 28.7l0.3 26l0.2-2.6l0.2-38.9l0.3-6.9l0.2-28.4l0.3-4.2l0.2 1.5l0.2-4.2l0.3 17.1l0.2 0.4l0.3 30.8l0.2 34.4l0.2 24.2l0.3 23.7l0.2 23.7l0.2-22.1l0.3-24.3l0.2-33.6l0.3-30.3l0.2-39.6l0.2-1.4l0.3 2.2l0.2 0.3l0.2-3.7l0.3-12.2l0.2 19.3l0.3 6.5l0.2-1.6l0.2 3.1l0.3 9.5l0.2-16.7l0.3-0.2l0.2-9.1l0.2 8.1l0.3-1.8l0.2 7.6l0.2-13.3l0.3 53.2l0.2 30.8l0.3 26.5l0.2 32.5l0.2-29.1l0.3 18.1l0.2-46.3l0.3-46l0.2-8.2l0.2-6.8l0.3-8.2l0.2-12.4l0.2-8.4l0.3-6l0.2-3.6l0.3-4.8l0.2 6.3l0.2 1l0.3 5.6l0.2 1.1l0.3 2l0.2 13.2l0.2 5.1l0.3-8.2l0.2-21.2l0.2-5.6l0.3 6.3l0.2 22.8l0.3-10.6l0.2 5.7l0.2-2l0.3 15.2l0.2-0.7l0.2 14.9l0.3-3.9l0.2-12.5l0.3-12.6l0.2-30.6l0.2-0.8l0.3 13.9l0.2 17.7l0.3 23.4l0.2-21.8l0.2-8.4l0.3 22.9l0.2-12.5l0.2-2.4l0.3 8.2l0.2 14.5l0.3 14.1l0.2-10.8l0.2-12.7l0.3-4.5l0.2-27.7l0.3-2.1l0.2-11.8l0.2 12.1l0.3 14l0.2-20.7l0.2 19.4l0.3 11.8l0.2-16.3l0.3 9l0.2 4.5l0.2-31.7l0.3-2.1l0.2 0.7l0.3 13.6l0.2 7.2l0.2 17.6l0.3 1.1l0.2 23.3l0.2-6.7l0.3-23.2l0.2 4.7l0.3 20.4l0.2 8.1l0.2 9.8l0.3-12.6l0.2-10.7l0.3-0.9l0.2-11.4l0.2-4.4l0.3-7l0.2-15.5l0.2-17.9l0.3-15.4l0.2 13.9l0.3 4l0.2 18.9l0.2 34.6l0.3 34.3l0.2-14.4l0.2-11.2l0.3-9.9l0.2-4.3l0.3-15.2l0.2-13.2l0.2-17.7l0.3 19.8l0.2 2.9l0.3 3.4l0.2-10.3l0.2 5.6l0.3 17.5l0.2-1.3l0.2-13.4l0.3 28.3l0.2-5.9l0.3-27.2l0.2 10.7l0.2-0.9l0.3 9.8l0.2 3.2l0.3-19l0.2 0.2l0.2-3.7l0.3-0.5l0.2 8.6l0.2 23.1l0.3-27l0.2 2.4l0.3-9.3l0.2-15.5l0.2-12.3l0.3 7.3l0.2 15.3l0.3 4.5l0.2 10.5l0.2 37.6l0.3 12.6l0.2-0.9l0.2-17.9l0.3-17.8l0.2 6l0.3-11.9l0.2 7.9l0.2 3.8l0.3 13.2l0.2 11.2l0.2-0.9l0.3 3.8l0.2 7.6l0.3-11l0.2-6.1l0.2 2.1l0.3-22.5l0.2-45.2l0.3-14.6l0.2-7.9l0.2 6.5l0.3 7.3l0.2 14.2l0.2 14l0.3 17.4l0.2-5.3l0.3 20.4l0.2-4.3l0.2-33.3l0.3-9.3l0.2 31.6l0.3-10l0.2-3.2l0.2 6.7l0.3 3.8l0.2-2.1l0.2 21.3l0.3-5.4l0.2 18.3l0.3 14.8l0.2 18.4l0.2-16.4l0.3-18.9l0.2-19l0.3-16.2l0.2-2.2l0.2-21.7l0.3 18.9l0.2-13.8l0.2-3.4l0.3-1.5l0.2 0.1l0.3 0l0.2 9l0.2 0.7l0.3-9.5l0.2 20.6l0.3-9.2l0.2-10.4l0.2 12.2l0.3-1.8l0.2-3.9l0.2 18.9l0.3-14.1l0.2-11.8l0.3 0.3l0.2 1.6l0.2 12.2l0.3-9l0.2-4.8l0.2 0.6l0.3 8.3l0.2 8.8l0.3 1.7l0.2 24.4l0.2-28.8l0.3-0.1l0.2-2.1l0.3-5l0.2 10.3l0.2 17l0.3 21.4l0.2 10.1l0.2 1.8l0.3-17.4l0.2 4.8l0.3-13.7l0.2 1.4l0.2 2.8l0.3-16.2l0.2 18.2l0.3-30.3l0.2 43.2l0.2-18.2l0.3 20.8l0.2-13.8l0.2 27.9l0.3 0l0.2-14.3l0.3 6.3l0.2 11.3l0.2-2.3l0.3 15.7l0.2 7.5l0.3-5.7l0.2-8.7l0.2-10.6l0.3-0.6l0.2 0.4l0.2-1.2l0.3 2l0.2 1l0.3 0.1l0.2 0l0.2-19.5l0.3-19.5l0.2-21.6l0.2-22.8l0.3-14.2l0.2 13l0.3 7.7l0.2 21.6l0.2 13.9l0.3 10.8l0.2 13l0.3-11.5l0.2-21.8l0.2-1.8l0.3 26.1l0.2-19.5l0.2 16.5l0.3-14.3l0.2-10.1l0.3-3l0.2 19.4l0.2 8.3l0.3-18.7l0.2 3.1l0.3 11.7l0.2 16.3l0.2-16.5l0.3 3.6l0.2 8.6l0.2 4.7l0.3 1.6l0.2-11.4l0.3 7.8l0.2 2.2l0.2 17.3l0.3-17.4l0.2-2.9l0.3-18.3l0.2 11.8l0.2-24.7l0.3 17l0.2-18.7l0.2 19.9l0.3 8.6l0.2-4.3l0.3-12.9l0.2 12.9l0.2-0.5l0.3 13.9l0.2-8.5l0.3-14.6l0.2-4.4l0.2 20.1l0.3 10.2l0.2 14.8l0.2 0.1l0.3-11.4l0.2-13.3l0.3 23.9l0.2-2.6l0.2-14.2l0.3-6.7l0.2-6.4l0.2 2.8l0.3-1.1l0.2 4.2l0.3 7.7l0.2-35.1l0.2 2.3l0.3-12.1l0.2-5.8l0.3 10.5l0.2-2.7l0.2 12.8l0.3 11.4l0.2-1.8l0.2 25.1l0.3 12.7l0.2 8.9l0.3-10.9l0.2-8.9l0.2-13.5l0.3-19.8l0.2-2.3l0.3 10.7l0.2-8.6l0.2-3.5l0.3 17.7l0.2-2.7l0.2-34.6l0.3-5.3l0.2-1.5l0.3 15.6l0.2-15.5l0.2 14.1l0.3 11.6l0.2 14.7l0.3 20.2l0.2 20.1l0.2-20.1l0.3-13.1l0.2-5.1l0.2 7l0.3 11.4l0.2 14.4l0.3-14.9l0.2-14.9l0.2-14.8l0.3-14.8l0.2-14.8l0.2 0l0.3 14l0.2 14l0.3 27.2l0.2 21.5l0.2 15.9l0.3-0.2l0.2 15.3l0.3-17.6l0.2-1.2l0.2-12.7l0.3-28.5l0.2-15.6l0.2 7.4l0.3 12.3l0.2-30.5l0.3 28.1l0.2 5.9l0.2-4.4l0.3-3.7l0.2-8.3l0.3 1.6l0.2-27.6l0.2-4.7l0.3-19.6l0.2-17.1l0.2-9.2l0.3 11.9l0.2 13.2l0.3 27.1l0.2 15.7l0.2-1.2l0.3-3.4l0.2 8.2l0.3-13.6l0.2-10.4l0.2-6.8l0.3-0.8l0.2 7.4l0.2 7.9l0.3-7.7l0.2-7.1l0.3 36.1l0.2 36.3l0.2 36.4l0.3 36.3l0.2 36.2l0.3-36.2l0.2-36.2l0.2-34.6l0.3-37.8l0.2-36.2l0.2 10.3l0.3 11.4l0.2-12.4l0.3 32l0.2-13l0.2 12.7l0.3-26.2l0.2 46.9l0.2 9.6l0.3 38l0.2 13.4l0.3 28.7l0.2-21.7l0.2-30.9l0.3-23.2l0.2-17.7l0.3-27.4l0.2-7.7l0.2-12.6l0.3 13.7l0.2 15.6l0.2 4.2l0.3 4.3l0.2 4.3l0.3 1.6l0.2-12.2l0.2-11.2l0.3-24.6l0.2 7.9l0.3-2.8l0.2 10.3l0.2 2.2l0.3-10.4l0.2 7l0.2 17.2l0.3 21.5l0.2-9l0.3-6l0.2-9.4l0.2-32l0.3 0l0.2 11.3l0.3-0.6l0.2 36.5l0.2 19.7l0.3 31.7l0.2 23.3l0.2 27l0.3-26.3l0.2-26.6l0.3-14.6l0.2-15.5l0.2 7.6l0.3 25.6l0.2-24l0.2-35.5l0.3-13.3l0.2-9.1l0.3-0.3l0.2 5.1l0.2-6.6l0.3-10.4l0.2 13l0.3-2.3l0.2 10.6l0.2 5.3l0.3-8l0.2-20.8l0.2-1.2l0.3 0.1l0.2 0l0.3 0.1l0.2 0l0.2 0l0.3 0.1l0.2 9.9l0.3-9.8l0.2 4l0.2-6.1l0.3 0.7l0.2-3.7l0.2-11l0.3 10l0.2 4.5l0.3 8.3l0.2 13.9l0.2 17.7l0.3-5.3l0.2-2.5l0.3 9.6l0.2-12.5l0.2-11.9l0.3 3.3l0.2 2.7l0.2 22.4l0.3-12.3l0.2-31.1l0.3 0l0.2 21.7l0.2 21.7l0.3 21.6l0.2 21.6l0.3 21.6l0.2-21.6l0.2-17.5l0.3-1.8l0.2-23.9l0.2-19.3l0.3 5l0.2 4l0.3 1.7l0.2 18.9l0.2-20.8l0.3 6l0.2-2.6l0.2 5.9l0.3-20.3l0.2 0.2l0.3-12.9l0.2 13.9l0.2 18.2l0.3 17.4l0.2 1.2l0.3-11.5l0.2 12.7l0.2 3.5l0.3-6.8l0.2 13.8l0.2-34.4l0.3 3l0.2 10.4l0.3-10l0.2 5.4l0.2 0.5l0.3 16.4l0.2 4.8l0.3-7.6l0.2-0.8l0.2 2.4l0.3-1.5l0.2 6.8l0.2 7l0.3-13.5l0.2-3.7l0.3-11.3l0.2-23.8l0.2-8.1l0.3-10.2l0.2-20.7l0.3-14l0.2 12.2l0.2 10.8l0.3 4.4l0.2 14.3l0.2-2.2l0.3 2.9l0.2 19.1l0.3-14l0.2 18.5l0.2-12l0.3 8.1l0.2 7.6l0.2-4.9l0.3 9.9l0.2 3.5l0.3 8.7l0.2 11l0.2 14.9l0.3 14.2l0.2 4.9l0.3-4.9l0.2-11.7l0.2-3.3l0.3-12.8l0.2-2.2l0.2-9.1l0.3 19.5l0.2-53.8l0.3 4.9l0.2 14.7l0.2 9.2l0.3 10.7l0.2 10.8l0.3 7.8l0.2 3.8l0.2-5.4l0.3-1.1l0.2-4.6l0.2 5.1l0.3-1.5l0.2 0.1l0.3 0l0.2-8l0.2 4.7l0.3-4.7l0.2-13.2l0.3 21.4l0.2 0l0.2-2.6l0.3 2.7l0.2-2.3l0.2-20.1l0.3-9.5l0.2 3.5l0.3-12.6l0.2 21.6l0.2-9.2l0.3 11.7l0.2-30.2l0.3 6.8l0.2 18l0.2-29.4l0.3-1.9l0.2 19.2l0.2-0.7l0.3 21.8l0.2 2.3l0.3 10.3l0.2 7.7l0.2-5.9l0.3-10.7l0.2-11.9l0.2 6.5l0.3-11.4l0.2-2.4l0.3 12.3l0.2-19.5l0.2 25.4l0.3-0.9l0.2-7l0.3-38.2l0.2-16l0.2-13.2l0.3-4.2l0.2-5.2l0.2 4.7l0.3 4.7l0.2 4.7l0.3 5.4l0.2 10.6l0.2 8.2l0.3 21.5l0.2 1.8l0.3-3.2l0.2-5.6l0.2-1.9l0.3 14.9l0.2 8.4l0.2 0.7l0.3 9.6l0.2 10.1l0.3 14.2l0.2-15.8l0.2-12.3l0.3-19.5l0.2-12.5l0.3-13.9l0.2-10.5l0.2 6.2l0.3-14.8l0.2-8.7l0.2-8.7l0.3 8.8l0.2 8.7l0.3 8.8l0.2 13.5l0.2-0.3l0.3 2.1l0.2-4.8l0.2 5.7l0.3 9.1l0.2-4.3l0.3-0.1l0.2 17.4l0.2-2.4l0.3-9.5l0.2-6.4l0.3 2.6l0.2 5.7l0.2 4l0.3 1.4l0.2-27.2l0.2 24.1l0.3 10.4l0.2 25.2l0.3 13.3l0.2 7.8l0.2 17l0.3 15.5l0.2-13.4l0.3-19.5l0.2-8.6l0.2-21l0.3-6.5l0.2 0.1l0.2 12l0.3 8.1l0.2 3.4l0.3-2.1l0.2 2.2l0.2 0l0.3-7.8l0.2-4l0.3 5.4l0.2-11l0.2 5.3l0.3 6.8l0.2-4.1l0.2 1l0.3-15l0.2-0.3l0.3-19l0.2-15.6l0.2-24.8l0.3-13.5l0.2-24.1l0.3-19.2l0.2 12.7l0.2 7.6l0.3 4.5l0.2 17.4l0.2 22.5l0.3 5.3l0.2-4.2l0.3 18.9l0.2 23.1l0.2 24.1l0.3 11.2l0.2-15.5l0.2 8.4l0.3-0.9l0.2-7.8l0.3 11.6l0.2-25.6l0.2 5.5l0.3-2.6l0.2-4.4l0.3 1.7l0.2-19.2l0.2 5l0.3-14.1l0.2-15.9l0.2 22.9l0.3 15.1l0.2 27.9l0.3 4.3l0.2 8l0.2-9.5l0.3-11.4l0.2-8l0.3-7.5l0.2 5.1l0.2-5.1l0.3-8.4l0.2 21.7l0.2-6.7l0.3 13.3l0.2 11.1l0.3 0l0.2 0.1l0.2-1.1l0.3 1l0.2 0l0.3 0l0.2 0l0.2-25.5l0.3-2.8l0.2-10.2l0.2 10.9l0.3 6.5l0.2 3.9l0.3-16.2l0.2 6.4l0.2-1.2l0.3 8.3l0.2 10.6l0.2 9.1l0.3-18.2l0.2-2.4l0.3 6.8l0.2-4.5l0.2 3.6l0.3 4.9l0.2-21.8l0.3-8.3l0.2 21.9l0.2 13l0.3 1.1l0.2-16.5l0.2-23.5l0.3 24.2l0.2 26l0.3 39.8l0.2 18.7l0.2 30.2l0.3-30l0.2-37.2l0.3-25.6l0.2-37.8l0.2-27.9l0.3 0.4l0.2-1.5l0.2 38.5l0.3 44.4l0.2 23.6l0.3 20.5l0.2 12l0.2-3.2l0.3-12l0.2-20.7l0.3-28.2l0.2-32.3l0.2-20.3l0.3-26.7l0.2 11.6l0.2 5l0.3 3.6l0.2-9.3l0.3 2l0.2 8.7l0.2 13.1l0.3 8l0.2-9l0.3-11.3l0.2-2.2l0.2 4l0.3 1l0.2 0l0.2-13.6l0.3 28.6l0.2-37.3l0.3-1.4l0.2 27.3l0.2-27l0.3 26.9l0.2-7.4l0.2-9.5l0.3 1l0.2-14l0.3 12.6l0.2 44.2l0.2 34.1l0.3 3.8l0.2 19.7l0.3-25l0.2-18.6l0.2-36l0.3-29.2l0.2 17.8l0.2-20.1l0.3-6l0.2 32l0.3 23.4l0.2 9.9l0.2 40.2l0.3 31.1l0.2 27.3l0.3-28.8l0.2-22.7l0.2-25.7l0.3-25.2l0.2-28.1l0.2-2.9l0.3-24l0.2-1l0.3-5.9l0.2 6.6l0.2-0.8l0.3 7.3l0.2-5.5l0.3 7.5l0.2 12l0.2-10.3l0.3-2.6l0.2-10.4l0.2 19.5l0.3-5.8l0.2 30.3l0.3 20.1l0.2 5.7l0.2 12.9l0.3 15.6l0.2-11.8l0.2-23l0.3-9.9l0.2-18.7l0.3-25.7l0.2 2.1l0.2-8.7l0.3-10l0.2 5.2l0.3 1.5l0.2-6l0.2-4.9l0.3 9.4l0.2 10l0.2 10.3l0.3 4.5l0.2 23.4l0.3-3.8l0.2-6.5l0.2-20.6l0.3 15.3l0.2-13.3l0.3 29.4l0.2-21.1l0.2 9.5l0.3 26l0.2-8.3l0.2-11.6l0.3-3.9l0.2-2.3l0.3 26.4l0.2-8.5l0.2 12.4l0.3 2.4l0.2-0.1l0.3 0l0.2-0.1l0.2 0l0.3 0l0.2-0.1l0.2 0l0.3-0.1l0.2 0l0.3 0l0.2-0.1l0.2 0l0.3-0.1l0.2 0l0.3 0l0.2-9.6l0.2 2.2l0.3-34.9l0.2 24.8l0.2-14.2l0.3 28.3l0.2-18.7l0.3 1l0.2 20.7l0.2-4.5l0.3-6.7l0.2 11.4l0.2 16l0.3 1.6l0.2 9.1l0.3 13.9l0.2-13.9l0.2-10.8l0.3-11.8l0.2-22.1l0.3-2.9l0.2-6.5l0.2-6.5l0.3 11.8l0.2-3.1l0.2-5.1l0.3 3.8l0.2 23.8l0.3-8.5l0.2-19.5l0.2 11.3l0.3 15.8l0.2 2.5l0.3-8.6l0.2-9.3l0.2-5.4l0.3-18.3l0.2 4.3l0.2-8l0.3 31l0.2 34.8l0.3 20l0.2 24.4l0.2 25.5l0.3-24.4l0.2-26.2l0.3-34.9l0.2-13.8l0.2-5.3l0.3-6.5l0.2-9.3l0.2-7l0.3-20.3l0.2-14l0.3 0l0.2 8.8l0.2-8.9l0.3 18.4l0.2-1.4l0.2-15.4l0.3 12.4l0.2-8.8l0.3-1.4l0.2 1.5l0.2 5.2l0.3-1.1l0.2 6.6l0.3 9.2l0.2 0.9l0.2-1.7l0.3-7.9l0.2 24.6l0.2-22l0.3 11.3l0.2 0.4l0.3-11.9l0.2 11.6l0.2-9.4l0.3 5.4l0.2 9.7l0.3 0.3l0.2-22.7l0.2-20.7l0.3-13.2l0.2-5.7l0.2 5l0.3 5.2l0.2 9.2l0.3 22.5l0.2 27.2l0.2 20.8l0.3 21.9l0.2 16l0.3-5.5l0.2-11.9l0.2-14.7l0.3-31.2l0.2-8.2l0.2-7.9l0.3 17.2l0.2 0l0.3 13.7l0.2-28.6l0.2 13.3l0.3-10.7l0.2-11.6l0.3 24l0.2-11.1l0.2 1.3l0.3 8.4l0.2-2l0.2-2.8l0.3-12.8l0.2 29.5l0.3-7.7l0.2-32.6l0.2 11l0.3-22.4l0.2 14.1l0.2-14.1l0.3 18.1l0.2 9.5l0.3-5.7l0.2 11.5l0.2 7.6l0.3-16.1l0.2 13.7l0.3-8l0.2 7.6l0.2 12.9l0.3 9.1l0.2 19.6l0.2 23.9l0.3 17.2l0.2-23.9l0.3-18.9l0.2-6.4l0.2-31.8l0.3-8.5l0.2-2.7l0.3-10.3l0.2 10.7l0.2-9.3l0.3 15.6l0.2-1.9l0.2 1.5l0.3-9l0.2-16l0.3 16.7l0.2 6.3l0.2-3.1l0.3-7.5l0.2-3.3l0.3 9.7l0.2 15.8l0.2 6.2l0.3 6.5l0.2-29.5l0.2-20.1l0.3 9.6l0.2-13.7l0.3 1l0.2 13.6l0.2 29.6l0.3-14.4l0.2 8.4l0.2 18.4l0.3-3.9l0.2-18.8l0.3-9.2l0.2 9.2l0.2-8.5l0.3 1.9l0.2 0.3l0.3 12.8l0.2 28.1l0.2 37.5l0.3 24l0.2 26.4l0.2-31l0.3-30.3l0.2-18.4l0.3 11l0.2 24.8l0.2 51l0.3 41.9l0.2 42.8l0.3-32.4l0.2-40.6l0.2-41l0.3-37.3l0.2-45.3l0.2 9.8l0.3-40.4l0.2 2.9l0.3-14.2l0.2 47.1l0.2 25.8l0.3 44.1l0.2 46l0.3 35.5l0.2-31.6l0.2-36.7l0.3-26.5l0.2-32l0.2-43.5l0.3 10.8l0.2-3.2l0.3 38l0.2 34l0.2 48.9l0.3 45.2l0.2 54.3l0.3-52.1l0.2-51.6l0.2-56l0.3-40.9l0.2-33.6l0.2 22l0.3 34.5l0.2 30.1l0.3 20.8l0.2-17.9l0.2-12.3l0.3-24.3l0.2-25l0.2-35.6l0.3-8.6l0.2 16.6l0.3-5.5l0.2-2l0.2-12.1l0.3 6.6l0.2 9l0.3-18.4l0.2 18.9l0.2 10.8l0.3 7.7l0.2 0.1l0.2-15.1l0.3-4.6l0.2 9.9l0.3 9.5l0.2 1.1l0.2 6.3l0.3-9.3l0.2-14.8l0.3-5l0.2 0.8l0.2-6.3l0.3-15.1l0.2-4.4l0.2-12.6l0.3-16.5l0.2-12.2l0.3 17.1l0.2 1l0.2-7.3l0.3 35l0.2 21.4l0.3 34.2l0.2-16.2l0.2 16.2l0.3-8.4l0.2-3.5l0.2-4l0.3-12.7l0.2 3.6l0.3-3.6l0.2-2.4l0.2 30.1l0.3-1.6l0.2 2.8l0.2 11.6l0.3-9.1l0.2-9.6l0.3-25.8l0.2-26.1l0.2-4.1l0.3-0.2l0.2-2.3l0.3-1.3l0.2 0l0.2 13l0.3-7.1l0.2 4.7l0.2 1.6l0.3-9.7l0.2 1.2l0.3-1.2l0.2 3.8l0.2-0.4l0.3-6l0.2 8.6l0.3-5.6l0.2 18.1l0.2-15.1l0.3 31.6l0.2 3.7l0.2 18.1l0.3 8.1l0.2 14.2l0.3-12.5l0.2-14.4l0.2-6.9l0.3-22.8l0.2-7.3l0.3 15.7l0.2-7.8l0.2 2.8l0.3 23.7l0.2 20l0.2-0.9l0.3 3.2l0.2 7.4l0.3-5.6l0.2-12.1l0.2-5.4l0.3-15.6l0.2-7l0.3-14l0.2 10.7l0.2 24.4l0.3 12.5l0.2 10.8l0.2-13.7l0.3-4.3l0.2-12.4l0.3-10.5l0.2 10.7l0.2 1.1l0.3 0.8l0.2-8.1l0.2 23.9l0.3 4.6l0.2-22.9l0.3-11.9l0.2-24.9l0.2 7l0.3 8.6l0.2-6l0.3-4.6l0.2-19.9l0.2-16.4l0.3-6l0.2-5.9l0.2 5.9l0.3 6l0.2 5.9l0.3 5.9l0.2 6l0.2 0l0.3 0l0.2 0l0.3-0.1l0.2 0l0.2 0l0.3 0l0.2 31.2l0.2 31.2l0.3 31.2l0.2-24.5l0.3-11.1l0.2 2.2l0.2 20.1l0.3 20l0.2-20l0.3-20.1l0.2-20.1l0.2-12.2l0.3-5.3l0.2-5.7l0.2 6.7l0.3-14.8l0.2 20.2l0.3 6.6l0.2-1.3l0.2-11.8l0.3-31.5l0.2-18.4l0.2 21.5l0.3 39l0.2 27l0.3-0.4l0.2-9.3l0.2-0.8l0.3 13.5l0.2 0l0.3 0l0.2-0.1l0.2 0l0.3 0l0.2-0.1l0.2 0l0.3 0l0.2 17.8l0.3 17.8l0.2 17.8l0.2 17.9l0.3 17.9l0.2-17.9l0.3-17.9l0.2-17.9l0.2-17.9l0.3-18l0.2 0l0.2 0l0.3-0.1l0.2 0l0.3 0l0.2-0.1l0.2 0l0.3 0l0.2-14.9l0.3-14.8l0.2-14.9l0.2-14.8l0.3-14.8l0.2 14.8l0.2 14.8l0.3 13.4l0.2 11.7l0.3 12.8l0.2 0.1l0.2-1.8l0.3 4.1l0.2-8.3l0.3 12.1l0.2-12l0.2 2.5l0.3-1.9l0.2-5l0.2-12.2l0.3 14.6l0.2-12l0.3-2.3l0.2 2.8l0.2-4.7l0.3-4.7l0.2-4.6l0.2-15l0.3 41.7l0.2-25l0.3 19l0.2 3.2l0.2-6.3l0.3 16.9l0.2 4.3l0.3 0l0.2-8.6l0.2 6.4l0.3-7.9l0.2 9.2l0.2 0.5l0.3 0.2l0.2-0.1l0.3-29.7l0.2-29.7l0.2-29.7l0.3 29.6l0.2 29.7l0.3 29.6l0.2-15.2l0.2-15.3l0.3-15.2l0.2-15.2l0.2-15.2l0.3 15.2l0.2 15.2l0.3 15.1l0.2 15.2l0.2 15.1l0.3 0l0.2-0.1l0.3 1.3l0.2 1.3l0.2 1.3l0.3-3.2l0.2 5.8l0.2-11.5l0.3-18.3l0.2-5.5l0.3 2.7l0.2 6.7l0.2 19.1l0.3-3l0.2 15.2l0.2 12.3l0.3-15.6l0.2-16.4l0.3-1.6l0.2-4.5l0.2 5.3l0.3 1.7l0.2 6.2l0.3-22l0.2-2.6l0.2 22.6l0.3-41.2l0.2 10.6l0.2-8.8l0.3 12.3l0.2-20.1l0.3 14.3l0.2-1.1l0.2-0.2l0.3 6l0.2-21.9l0.3 27.6l0.2-4.6l0.2-4.3l0.3 5l0.2-11.1l0.2-10.5l0.3-10.9l0.2 11.2l0.3 11.2l0.2-0.4l0.2 6.7l0.3 1.2l0.2 4.5l0.3 9.2l0.2 24l0.2 23.2l0.3 18.4l0.2-19.7l0.2-23.4l0.3-22.5l0.2-21.9l0.3-14.2l0.2-7.7l0.2 0l0.3 0l0.2 0l0.3 0l0.2 0l0.2 0l0.3-0.1l0.2 0l0.2 0l0.3 0l0.2 1.9l0.3 14.3l0.2-1.3l0.2 17.5l0.3 4.8l0.2-4.6l0.2 5l0.3 11.2l0.2 7.6l0.3-9.1l0.2-3.6l0.2-11.3l0.3 9.5l0.2-13.6l0.3 5.2l0.2 6l0.2 19.6l0.3-14.3l0.2 7.7l0.2-24.4l0.3 8.1l0.2 4.2l0.3 9.4l0.2 5.2l0.2 3.8l0.3-4.2l0.2 3.2l0.3-1.4l0.2 1.4l0.2 0.9l0.3-0.1l0.2-19.5l0.2-19.5l0.3-19.6l0.2-20l0.3-19l0.2 15l0.2 18.9l0.3 11.9l0.2 11.8l0.3-6.3l0.2 3.2l0.2-3.9l0.3 6.8l0.2-0.8l0.2-4.6l0.3-2.9l0.2-5.3l0.3 14.3l0.2 3.5l0.2 2.8l0.3 3.1l0.2 12.5l0.2-2.8l0.3 8.2l0.2 8.7l0.3 0.1l0.2 4.4l0.2-1.4l0.3-4.4l0.2 1.2l0.3 3.9l0.2-0.2l0.2-12.9l0.3 12.9l0.2 0l0.2-12.8l0.3 5.2l0.2-9l0.3 7l0.2 1.8l0.2 8.3l0.3 0l0.2-3.5l0.3 3.7l0.2-1.3l0.2 1.4l0.3 0.1l0.2 0l0.2 0.1l0.3 0.1l0.2 0l0.3 0.1l0.2 0.1l0.2 0l0.3 3.4l0.2 3.3l0.3 3.2l0.2 3.3l0.2 3.2l0.3-3.2l0.2-3.2l0.2-3.1l0.3-3.1l0.2-3.1l0.3 0.1l0.2 0l0.2-3.5l0.3 3.7l0.2-0.9l0.3-21.1l0.2 22.2l0.2 0l0.3-13l0.2 9.3l0.2-9.2l0.3-6l0.2 16.1l0.3-13.6l0.2-7.4l0.2-5.5l0.3-8.5l0.2 6.3l0.2 6.3l0.3-9l0.2 8.4l0.3-0.2l0.2 7.3l0.2-5.9l0.3-11.9l0.2-2.7l0.3 10.3l0.2-4.9l0.2 18.1l0.3 17.2l0.2 0.1l0.2 0.1l0.3 0l0.2 0.1l0.3-6l0.2 0.7l0.2 5.5l0.3-13.5l0.2 0.2l0.3 0.3l0.2-12.1l0.2 3.5l0.3 10.7l0.2 0.4l0.2 6l0.3-8.6l0.2-6.6l0.3-2.9l0.2-27.3l0.2 16.5l0.3 6.7l0.2 10.2l0.3-8.4l0.2-24.8l0.2 50.1l0.3 60.7l0.2-25.9l0.2-16.1l0.3-3.5l0.2 1.7l0.3-8.4l0.2-7.1l0.2-2.8l0.3 1.3l0.2-15.2l0.2 16.9l0.3 0l0.2-3.4l0.3 3.6l0.2 0l0.2 0.1l0.3 0.1l0.2-27.7l0.3-27.6l0.2 25.3l0.2 27.2l0.3-7.6l0.2 7.8l0.2 3l0.3-13.3l0.2-18l0.3-18.5l0.2-15l0.2-17.7l0.3 13.4l0.2 8.4l0.3 2.6l0.2 11.9l0.2-7.4l0.3 2.9l0.2 2.3l0.2 2.2l0.3-7.1l0.2 10l0.3 10.4l0.2 1.6l0.2-2.4l0.3 6.9l0.2 35l0.3 8.9l0.2-38.5l0.2-38.3l0.3 30.3l0.2 23.9l0.2 13.2l0.3 18.8l0.2 34.6l0.3 38.2l0.2-28.1l0.2-15l0.3-5l0.2 7.4l0.3 15l0.2-17.9l0.2-24.7l0.3-13.1l0.2-27.5l0.2-18.4l0.3-10.9l0.2 5.9l0.3 9.5l0.2-17.8l0.2-13.9l0.3-13.6l0.2-13.1l0.2 9.1l0.3 7.7l0.2 11.1l0.3 20.3l0.2 23.4l0.2-5.3l0.3-4.2l0.2 0.8l0.3-4l0.2-0.9l0.2-6.2l0.3-1.7l0.2-5l0.2 0.7l0.3-5.1l0.2 1.1l0.3 5l0.2-7.2l0.2-5.1l0.3 11.6l0.2 0.7l0.3 14.5l0.2 14.4l0.2 14.3l0.3 14.4l0.2-14.3l0.2-14.3l0.3-10l0.2-6.3l0.3-21.1l0.2-1.6l0.2-1.1l0.3 5.5l0.2-3.3l0.3 7.3l0.2-3.1l0.2 21l0.3-10.7l0.2 11.1l0.2 9.7l0.3-16.6l0.2-3.3l0.3 22.2l0.2-2.7l0.2-3.9l0.3-18.3l0.2 9.6l0.2 4.8l0.3 7.1l0.2 17.7l0.3 16.1l0.2 11.1l0.2 11.6l0.3-12.8l0.2-15.9l0.3-12.4l0.2-25l0.2-19.8l0.3 11.4l0.2-1.4l0.2-3.9l0.3 10.4l0.2 11.4l0.3-0.3l0.2 8.6l0.2-17.8l0.3 12.6l0.2-17.8l0.3 4.3l0.2 13.7l0.2-15.9l0.3 2.1l0.2-10.5l0.2 2.8l0.3-7.4l0.2 1.5l0.3 23.3l0.2-30.1l0.2-10.6l0.3 15.2l0.2 16l0.3-1.1l0.2 10.9l0.2-14.3l0.3-3.1l0.2-3.9l0.2 23.9l0.3 8l0.2 1.7l0.3 4.1l0.2 9.3l0.2 12.2l0.3-8.4l0.2-12.6l0.3 0.7l0.2-9.7l0.2-3.8l0.3-10.8l0.2 12.5l0.2 4.7l0.3-2.7l0.2 1.4l0.3 8.2l0.2-14.4l0.2 9.8l0.3-0.3l0.2-11l0.2-7.8l0.3 2.8l0.2-1.8l0.3-14.7l0.2 3.2l0.2 0.2l0.3-15.1l0.2-0.9l0.3-1l0.2 1.1l0.2 4.1l0.3-12.1l0.2-9.2l0.2-6.8l0.3-8.7l0.2-12.5l0.3 16l0.2 14.4l0.2 22.9l0.3 20.2l0.2-18.9l0.3-29.4l0.2 32.2l0.2 20.8l0.3-3.2l0.2-0.6l0.2 6l0.3-7.7l0.2 5.8l0.3 9.9l0.2-6l0.2-30.8l0.3 7l0.2 1.7l0.3 9.7l0.2-1.3l0.2 2.1l0.3-6.2l0.2 8.5l0.2 17.1l0.3-5.7l0.2 0.3l0.3 6.9l0.2 6.8l0.2-4.3l0.3-3.9l0.2-5.1l0.2 0.6l0.3 6.6l0.2-19.2l0.3 2.4l0.2-1.1l0.2-9.2l0.3-17l0.2-10.7l0.3 30l0.2 48.6l0.2-21.8l0.3-21.7l0.2-19.6l0.2 1.8l0.3 14.4l0.2-10.3l0.3 8.8l0.2 9.4l0.2 17.2l0.3 11.5l0.2-12.7l0.3-9.8l0.2-5l0.2 6.6" fill="none" stroke="#3878B6" stroke-width="3.4" stroke-linejoin="round" stroke-linecap="round"/>
</g>
<line x1="74.5" x2="80" y1="1190.75" y2="1190.75" stroke="#222" stroke-width="2"/>
<text transform="translate(69.4,1198.25) scale(1,1.07)" class="yt">1.00</text>
<line x1="74.5" x2="80" y1="1277.11" y2="1277.11" stroke="#222" stroke-width="2"/>
<text transform="translate(69.4,1284.61) scale(1,1.07)" class="yt">0.75</text>
<line x1="74.5" x2="80" y1="1363.47" y2="1363.47" stroke="#222" stroke-width="2"/>
<text transform="translate(69.4,1370.97) scale(1,1.07)" class="yt">0.50</text>
<line x1="74.5" x2="80" y1="1449.83" y2="1449.83" stroke="#222" stroke-width="2"/>
<text transform="translate(69.4,1457.33) scale(1,1.07)" class="yt">0.25</text>
<line x1="74.5" x2="80" y1="1536.19" y2="1536.19" stroke="#222" stroke-width="2"/>
<text transform="translate(69.4,1543.69) scale(1,1.07)" class="yt">0.00</text>
<line x1="102.75" x2="102.75" y1="1560" y2="1565.5" stroke="#222" stroke-width="2"/>
<text transform="translate(102.75,1584.70) scale(1,1.07)" class="xt">2018</text>
<line x1="276.55" x2="276.55" y1="1560" y2="1565.5" stroke="#222" stroke-width="2"/>
<text transform="translate(276.55,1584.70) scale(1,1.07)" class="xt">2020</text>
<line x1="450.35" x2="450.35" y1="1560" y2="1565.5" stroke="#222" stroke-width="2"/>
<text transform="translate(450.35,1584.70) scale(1,1.07)" class="xt">2022</text>
<text x="334.88" y="1614.50" class="at">Date</text>
<text transform="translate(20.1,1372.38) rotate(-90)" class="at">DCC</text>
<text x="342.88" y="1167.30" class="ti">LTC vs Clean cryptos</text>
<rect x="88.78" y="1652.80" width="35.3" height="35.2" fill="#EBECEB"/>
<line x1="92.48" x2="120.68" y1="1670.40" y2="1670.40" stroke="#E39E22" stroke-width="4"/>
<text x="135.57" y="1677.70" class="lg">ADA</text>
<rect x="182.57" y="1652.80" width="35.3" height="35.2" fill="#EBECEB"/>
<line x1="186.27" x2="214.47" y1="1670.40" y2="1670.40" stroke="#62B8E8" stroke-width="4"/>
<text x="229.18" y="1677.70" class="lg">XRP</text>
<rect x="276.38" y="1652.80" width="35.3" height="35.2" fill="#EBECEB"/>
<line x1="280.07" x2="308.27" y1="1670.40" y2="1670.40" stroke="#3DA872" stroke-width="4"/>
<text x="323.43" y="1677.70" class="lg">MIOTA</text>
<rect x="388.42" y="1652.80" width="35.3" height="35.2" fill="#EBECEB"/>
<line x1="392.12" x2="420.32" y1="1670.40" y2="1670.40" stroke="#C874AC" stroke-width="4"/>
<text x="434.67" y="1677.70" class="lg">XLM</text>
<rect x="480.92" y="1652.80" width="35.3" height="35.2" fill="#EBECEB"/>
<line x1="484.62" x2="512.82" y1="1670.40" y2="1670.40" stroke="#3878B6" stroke-width="4"/>
<text x="528.42" y="1677.70" class="lg">NANO</text>
<rect x="688" y="1185" width="510.30" height="374.70" fill="#EBECEB"/>
<clipPath id="cEW"><rect x="688" y="1185" width="510.30" height="374.70"/></clipPath>
<g clip-path="url(#cEW)">
<line x1="688" x2="1198.3" y1="1242.84" y2="1242.84" stroke="#F7F8F7" stroke-width="1.2"/>
<line x1="688" x2="1198.3" y1="1337.51" y2="1337.51" stroke="#F7F8F7" stroke-width="1.2"/>
<line x1="688" x2="1198.3" y1="1432.17" y2="1432.17" stroke="#F7F8F7" stroke-width="1.2"/>
<line x1="688" x2="1198.3" y1="1526.85" y2="1526.85" stroke="#F7F8F7" stroke-width="1.2"/>
<line x1="798.00" x2="798.00" y1="1185" y2="1559.7" stroke="#F7F8F7" stroke-width="1.2"/>
<line x1="971.40" x2="971.40" y1="1185" y2="1559.7" stroke="#F7F8F7" stroke-width="1.2"/>
<line x1="1144.80" x2="1144.80" y1="1185" y2="1559.7" stroke="#F7F8F7" stroke-width="1.2"/>
<line x1="688" x2="1198.3" y1="1195.50" y2="1195.50" stroke="#fff" stroke-width="2"/>
<line x1="688" x2="1198.3" y1="1290.17" y2="1290.17" stroke="#fff" stroke-width="2"/>
<line x1="688" x2="1198.3" y1="1384.84" y2="1384.84" stroke="#fff" stroke-width="2"/>
<line x1="688" x2="1198.3" y1="1479.51" y2="1479.51" stroke="#fff" stroke-width="2"/>
<line x1="711.30" x2="711.30" y1="1185" y2="1559.7" stroke="#fff" stroke-width="2"/>
<line x1="884.70" x2="884.70" y1="1185" y2="1559.7" stroke="#fff" stroke-width="2"/>
<line x1="1058.10" x2="1058.10" y1="1185" y2="1559.7" stroke="#fff" stroke-width="2"/>
<path d="M711.3 1271.2l0.5 91.1l0.4 94.5l0.5-91.4l0.5-90.3l0.4 5.2l0.5 0.7l0.4 11.2l0.5 1.1l0.5-1.3l0.4-1.4l0.5 8l0.5-1l0.4-8.7l0.5-3.6l0.5-2.3l0.4-3.8l0.5 3.6l0.4-10l0.5 4.1l0.5 5.2l0.4-10.2l0.5 2.5l0.5-0.3l0.4-12.2l0.5-9.4l0.5 2.9l0.4 4.2l0.5 4.8l0.5-1.4l0.4-0.2l0.5 1.6l0.4-5l0.5 2.8l0.5-6.3l0.4 2.1l0.5-6.5l0.5-0.8l0.4 4.7l0.5 2.5l0.5 10.8l0.4-0.5l0.5-3.7l0.4-3.8l0.5-0.2l0.5 4.5l0.4-4.5l0.5 0.8l0.5 2.4l0.4-6l0.5-10.4l0.5-2.8l0.4-6.6l0.5-5.3l0.4 2.1l0.5-1.9l0.5 5.8l0.4-7.1l0.5 0.9l0.5-9.5l0.4-1.2l0.5 3.5l0.5 10.3l0.4 5.7l0.5 0.8l0.5-0.6l0.4 5.5l0.5 7.9l0.4 0.3l0.5-5.8l0.5-4.2l0.4 1.1l0.5-3.4l0.5-8.5l0.4-4.9l0.5 5.5l0.5 1.4l0.4 4.2l0.5 0.3l0.4 4.4l0.5-10.3l0.5 0.9l0.4 12.4l0.5 6.7l0.5 11l0.4-10.3l0.5-7.5l0.5-7.1l0.4-0.5l0.5-2.1l0.4-4.2l0.5-5.5l0.5 6.2l0.4 7.8l0.5-5.3l0.5-4.6l0.4 3.3l0.5-3.8l0.5-1.4l0.4-5.3l0.5 6.8l0.5 0.4l0.4-9.9l0.5-2.8l0.4 11l0.5 10.4l0.5-2l0.4-0.5l0.5-2.5l0.5-2.3l0.4 1.7l0.5-3.3l0.5-2.8l0.4-0.7l0.5 1.7l0.4 3.3l0.5 3.9l0.5 0.8l0.4 1.6l0.5-3l0.5 0.7l0.4 1.1l0.5 12.6l0.5-5.4l0.4-7.5l0.5 0l0.4-0.8l0.5-4.2l0.5 1.5l0.4 3.3l0.5 2.5l0.5-5.6l0.4-4.4l0.5 9.2l0.5-1.9l0.4 5.6l0.5-5.5l0.5-2.7l0.4 2.7l0.5 2.3l0.4-0.4l0.5-0.7l0.5-1.3l0.4 9.4l0.5 6.3l0.5 6.4l0.4-8.9l0.5-0.5l0.5-10.5l0.4 1l0.5-0.2l0.4-5.5l0.5-5.2l0.5 2.7l0.4 0.8l0.5-1.5l0.5 2.4l0.4-5.9l0.5-6.6l0.5 5.4l0.4 6.2l0.5 1.9l0.4 1.4l0.5 3.9l0.5-0.2l0.4 6.3l0.5-9.3l0.5-16.5l0.4 0.3l0.5 3.7l0.5 2.1l0.4 3.2l0.5 3.1l0.5 1.5l0.4-5.1l0.5 0.7l0.4 10.8l0.5 12.1l0.5-12.7l0.4-13.1l0.5-5.4l0.5 6.6l0.4-1l0.5 6.7l0.5 11l0.4 11.5l0.5 12.7l0.4-12.8l0.5-8.3l0.5-9.7l0.4-11.8l0.5 3.8l0.5 17.5l0.4 13.9l0.5 9.4l0.5 10.8l0.4-12.6l0.5-15.4l0.4-12.6l0.5-3.6l0.5-4.5l0.4-0.5l0.5 6.2l0.5 5.2l0.4 0.6l0.5-2.8l0.5-1.9l0.4 7.7l0.5-3.5l0.4 3.3l0.5-9.1l0.5 11.4l0.4-11.9l0.5 4.3l0.5 1l0.4-3.9l0.5 5.8l0.5 4.3l0.4-8l0.5 1.3l0.5 2.5l0.4 13.4l0.5-6.8l0.4-18.8l0.5-9.6l0.5 9.9l0.4 4.2l0.5-4.9l0.5-4.6l0.4 2.9l0.5 10.9l0.5-2.1l0.4-3.1l0.5 0l0.4 6.2l0.5 10.8l0.5 8.7l0.4-13.4l0.5-10.4l0.5-2.3l0.4-1.2l0.5 6.4l0.5-3.7l0.4-0.9l0.5 5.2l0.4 6.6l0.5 2.9l0.5 6.6l0.4 5.2l0.5 3.7l0.5-5.6l0.4-4.7l0.5 7.9l0.5 9.9l0.4-17.2l0.5-21.7l0.5 5l0.4 5.6l0.5 4.3l0.4-2.5l0.5 2.6l0.5-3.6l0.4-1.7l0.5 0l0.5 0.8l0.4 2.7l0.5-3.7l0.5 0.7l0.4-3.8l0.5 6.7l0.4 6.9l0.5 2.8l0.5 0.5l0.4-4l0.5-1.8l0.5-5.1l0.4-4.6l0.5 3.2l0.5 4.5l0.4 1l0.5-0.6l0.4-6.2l0.5-4.9l0.5-1.3l0.4-5.5l0.5 2l0.5-15.1l0.4-8.5l0.5 9.7l0.5 7.7l0.4 0.3l0.5 2.8l0.5-4.4l0.4 3.8l0.5-0.1l0.4 7l0.5-5.5l0.5 9l0.4-2.6l0.5 18.7l0.5 26.9l0.4 20.1l0.5-20.3l0.5-28.1l0.4-22.8l0.5-9.6l0.4 5.5l0.5 3.3l0.5 2.1l0.4 2l0.5-1.2l0.5-6.2l0.4-1l0.5 8.2l0.5 2.5l0.4 1.1l0.5-3.4l0.4-0.2l0.5-1.4l0.5 1.8l0.4-6.7l0.5-0.4l0.5-1l0.4-5.9l0.5 0.3l0.5-5.3l0.4-2l0.5 2.1l0.5 0.5l0.4-0.7l0.5 4.4l0.4-0.2l0.5 0.4l0.5 6.4l0.4-4.6l0.5 3.5l0.5 7.7l0.4-0.1l0.5 1l0.5 9.4l0.4 4.8l0.5 1.5l0.4 0.5l0.5 2.3l0.5 1.9l0.4-4.8l0.5 1.8l0.5 0.3l0.4-8.3l0.5 7.2l0.5-2.1l0.4-2.3l0.5-7.8l0.4-3.7l0.5 2.2l0.5-1l0.4 3.3l0.5 3l0.5-3.4l0.4 4.4l0.5-2.3l0.5-8.3l0.4 3.4l0.5 5.2l0.5 0.8l0.4 5.6l0.5-3.6l0.4-3.1l0.5 0.2l0.5-3.5l0.4-3l0.5 0.4l0.5 7.1l0.4-2.1l0.5-2.7l0.5 3.4l0.4 4.4l0.5 0.1l0.4 0l0.5 8.5l0.5 8l0.4-4.5l0.5-1.7l0.5-1.6l0.4 0.4l0.5-0.2l0.5 2.1l0.4-3.7l0.5-1.9l0.4-4.4l0.5-3.6l0.5-4.6l0.4 0.2l0.5 7.3l0.5-2.2l0.4-1.7l0.5-3l0.5 2.6l0.4-0.7l0.5-1.4l0.5 10.4l0.4-8.4l0.5-1.6l0.4-8.2l0.5-12.1l0.5-12l0.4 9.7l0.5 9.1l0.5-10.3l0.4-10.1l0.5-7l0.5 7.6l0.4 7.3l0.5 3.5l0.4-0.9l0.5 0.1l0.5-7l0.4 5l0.5 4l0.5 5.6l0.4 3.6l0.5-0.2l0.5 2.5l0.4 7.6l0.5 0.1l0.4-0.1l0.5 9.8l0.5-7.7l0.4-4.9l0.5 7.5l0.5-0.9l0.4 2l0.5 7.7l0.5-0.4l0.4 0.5l0.5 4.6l0.4-3.4l0.5-1.3l0.5 5.6l0.4 1.6l0.5 7.8l0.5-1.2l0.4 4.2l0.5 8.5l0.5 7.7l0.4-2.1l0.5 3.2l0.5-1.7l0.4 3.6l0.5-1l0.4 7.8l0.5-3.7l0.5-7.9l0.4-8.3l0.5-7.3l0.5 12l0.4 10.8l0.5 15.5l0.5-0.2l0.4 7.7l0.5 1.5l0.4-1.7l0.5 6.9l0.5-3l0.4-7.7l0.5 0.7l0.5 8.2l0.4 0.2l0.5 3.2l0.5 3.8l0.4 6l0.5-3.2l0.4-5.5l0.5 3.5l0.5-11.2l0.4 1.3l0.5-4.7l0.5 3.8l0.4-4.2l0.5-1l0.5 6.2l0.4-3.8l0.5-10.8l0.5-6.9l0.4-9.4l0.5 3.8l0.4-1.7l0.5 6.4l0.5 12.2l0.4 12.1l0.5 11.7l0.5-12.7l0.4-9.2l0.5-20.4l0.5-8.5l0.4-6.5l0.5 7.7l0.4 2.8l0.5-1l0.5-0.5l0.4-15.2l0.5-16.6l0.5-9.3l0.4 6.6l0.5 0.9l0.5-3.4l0.4 8.5l0.5 2l0.4 1.6l0.5-4.3l0.5-4l0.4 1l0.5-0.6l0.5 2.3l0.4-1.4l0.5 0.5l0.5 5.7l0.4 2.3l0.5-3.4l0.5 5.4l0.4-7.6l0.5 1.1l0.4 4.5l0.5 2.5l0.5-5.8l0.4-0.4l0.5-6.9l0.5 1.2l0.4 2.4l0.5-1l0.5-2.7l0.4-4.9l0.5-1.1l0.4 4.8l0.5 0.1l0.5 1.6l0.4-4.7l0.5 8.5l0.5 3.5l0.4-0.8l0.5-3.9l0.5-3.4l0.4-2.2l0.5 1l0.4-1.5l0.5-0.6l0.5-9.3l0.4-3.9l0.5-6.7l0.5 12.1l0.4 22.9l0.5-6.8l0.5-5.2l0.4-4.1l0.5 2.1l0.5-10l0.4-12.6l0.5 8.9l0.4 5.5l0.5 5.3l0.5-11.5l0.4-20.2l0.5 21.7l0.5 20.2l0.4-5.1l0.5 0l0.5-5.8l0.4 2l0.5-5.6l0.4-1.2l0.5 5.3l0.5-2.7l0.4 5.7l0.5-6.4l0.5 3.2l0.4 0.7l0.5 4.6l0.5-0.8l0.4-7.5l0.5-1.7l0.4-1.2l0.5-0.5l0.5-1l0.4-0.5l0.5 8.8l0.5 49.3l0.4 53.5l0.5 56.7l0.5-54.6l0.4-56.5l0.5-54.8l0.5-4.4l0.4 2l0.5-4.3l0.4 5.7l0.5 19.1l0.5 18.3l0.4-15.4l0.5 57.8l0.5 67.6l0.4 66.1l0.5-66.5l0.5-68.9l0.4-70.5l0.5 0.9l0.4-1.1l0.5 1.7l0.5-1.6l0.4-6.8l0.5-2.3l0.5 7.5l0.4 0.4l0.5-3.3l0.5 2.7l0.4-3.3l0.5 2l0.4 6.5l0.5-2.5l0.5-2.8l0.4-6l0.5-9l0.5 6.3l0.4 6l0.5 2.3l0.5-6.4l0.4-0.4l0.5-1.5l0.4 2l0.5 2l0.5-3l0.4-3.8l0.5-4.9l0.5 13.6l0.4-3l0.5 6.3l0.5-5l0.4-4.7l0.5 3l0.5 6.3l0.4-2.7l0.5-2.6l0.4-2.3l0.5-0.5l0.5-3.7l0.4-0.1l0.5-2.5l0.5 4.5l0.4 4.2l0.5-1l0.5-4.3l0.4 4.1l0.5-3.7l0.4-0.1l0.5 0l0.5 9.3l0.4 5.7l0.5 6.2l0.5 2.6l0.4-0.3l0.5-3l0.5-5.5l0.4-4.2l0.5-3.1l0.4 4.8l0.5-0.4l0.5 10.9l0.4 0.2l0.5-6.9l0.5-1.4l0.4 4.2l0.5-6.6l0.5 3.4l0.4-9.3l0.5 4.5l0.5-7.6l0.4 4.2l0.5 3.6l0.4 4.8l0.5 3.5l0.5 3.1l0.4 4.2l0.5-3.4l0.5-5.8l0.4-6.2l0.5-7.7l0.5 0.4l0.4 9.2l0.5 17.1l0.4 14.6l0.5 12.6l0.5-11.8l0.4-9.2l0.5-12.6l0.5-7.5l0.4 1.5l0.5 0.9l0.5-4.8l0.4-6.1l0.5 12.5l0.4 15l0.5-11.9l0.5-8.3l0.4 4.2l0.5-5.3l0.5-4.9l0.4 7.4l0.5 3.2l0.5-1.9l0.4 5.3l0.5 0.6l0.5-2l0.4-5.4l0.5-1.5l0.4 7.9l0.5-3.8l0.5 1.5l0.4-1.9l0.5 0.7l0.5-1.8l0.4 4.1l0.5-1.5l0.5-1.5l0.4 5.1l0.5-4.7l0.4-1.9l0.5-0.6l0.5 2.1l0.4 5.8l0.5 13.7l0.5 12l0.4 17.1l0.5-14.7l0.5-12.5l0.4-0.6l0.5-7l0.4-1.3l0.5-1.6l0.5-5.1l0.4-5.3l0.5 0.6l0.5-3.7l0.4-5.3l0.5 0.3l0.5 2l0.4 4.1l0.5 2.9l0.5-1.3l0.4-2.5l0.5-6.2l0.4 8.5l0.5 4.9l0.5 8l0.4 7.7l0.5-6.2l0.5-5.3l0.4 10.5l0.5 16l0.5-15.7l0.4-11l0.5-4.5l0.4-1.1l0.5-3.5l0.5 4l0.4 4.9l0.5-1.9l0.5-5.8l0.4-0.7l0.5-6.3l0.5-4.2l0.4-1.6l0.5-5.2l0.4 3.7l0.5-3.1l0.5 2.3l0.4 2l0.5 11.5l0.5 7.1l0.4 5.8l0.5 6.8l0.5-8.5l0.4-8.6l0.5-6.9l0.5-6.1l0.4-0.2l0.5 8.1l0.4-11.6l0.5 4l0.5 3.3l0.4-1.8l0.5 2.6l0.5-3.7l0.4 2l0.5-3.3l0.5 0.1l0.4-2.4l0.5 1.5l0.4-2.4l0.5-1.2l0.5 8l0.4 4.7l0.5 1.2l0.5 4.2l0.4-5.7l0.5-4l0.5 0.9l0.4-8.6l0.5-2.7l0.4 4.8l0.5-0.7l0.5-1.4l0.4-8.5l0.5-2.2l0.5-7.3l0.4 2.5l0.5-2.7l0.5 6.1l0.4 3l0.5 8l0.5 1.6l0.4 2.8l0.5-0.1l0.4 5.9l0.5 4l0.5-5.1l0.4-4.2l0.5 3.4l0.5-7.4l0.4-1.8l0.5 3.5l0.5 7.2l0.4-3.9l0.5-1.9l0.4-6.3l0.5-10l0.5 7.7l0.4 11.2l0.5-3.4l0.5-2.4l0.4 4.8l0.5 8.5l0.5-7.7l0.4 4.8l0.5-3.4l0.4 1.2l0.5-15.5l0.5-14.5l0.4 11l0.5 20.2l0.5 3l0.4-9.1l0.5 8.3l0.5-9.7l0.4-0.3l0.5-3.2l0.4-9.5l0.5 3.6l0.5 6l0.4 2.9l0.5-1.6l0.5-4.6l0.4 6.9l0.5 0.3l0.5 0.2l0.4 2.6l0.5 3.1l0.5 2.5l0.4 7.4l0.5 14.6l0.4 10l0.5-4.1l0.5-10.5l0.4-0.5l0.5 2.3l0.5-5.1l0.4-2.7l0.5-5.5l0.5-11.2l0.4-0.5l0.5-3.4l0.4 9.9l0.5 9.7l0.5 2.6l0.4-0.4l0.5-2.7l0.5 3.1l0.4-5.2l0.5 7.6l0.5-3.1l0.4-1.8l0.5-8.6l0.4 1.1l0.5 3l0.5-2.4l0.4 4.6l0.5-6.4l0.5 1.6l0.4-2.3l0.5 3.9l0.5-5.7l0.4 1.9l0.5-1.7l0.5 3.7l0.4-6.4l0.5-4.6l0.4 11.1l0.5 25.5l0.5-16.2l0.4-9.5l0.5 9.5l0.5 10.4l0.4-3.1l0.5-1.3l0.5 1.1l0.4-5l0.5-2.8l0.4 0.1l0.5 3.1l0.5-0.2l0.4-3.3l0.5-0.9l0.5-3.2l0.4 1.7l0.5-2.4l0.5 6.8l0.4-0.2l0.5-0.2l0.4 1.1l0.5-6.3l0.5-3.1l0.4 1.1l0.5 21.6l0.5 20.6l0.4 18.8l0.5-15l0.5-14.5l0.4-17.2l0.5-6l0.5 3l0.4-5.5l0.5 3.1l0.4-0.8l0.5 3l0.5 0.5l0.4 6.5l0.5-8.3l0.5-3.7l0.4-3l0.5 5.3l0.5-2.2l0.4 1l0.5-5.7l0.4 3.8l0.5-8.5l0.5-0.4l0.4 4.3l0.5-7.2l0.5 10.3l0.4 1.8l0.5 4.6l0.5-1.1l0.4 0.7l0.5 9.1l0.4-7.7l0.5-0.5l0.5-3.3l0.4 4l0.5-5.4l0.5-3.9l0.4-3.3l0.5 5.3l0.5 1.8l0.4 4.6l0.5 3.6l0.5-6.5l0.4 8l0.5-4.6l0.4 7.9l0.5 2.7l0.5 3.9l0.4-4.5l0.5-2.7l0.5 0.1l0.4 2.8l0.5-6.1l0.5 6.6l0.4-1.1l0.5 3.9l0.4-2.1l0.5 2.4l0.5-11.6l0.4 3.8l0.5 1.3l0.5 3.2l0.4-5.6l0.5-1.4l0.5 4.1l0.4 6.4l0.5-6.5l0.4 1.8l0.5-0.8" fill="none" stroke="#E39E22" stroke-width="3.4" stroke-linejoin="round" stroke-linecap="round"/>
<path d="M711.3 1283.9l0.5 21.3l0.4 24.1l0.5 24.2l0.5 17.4l0.4 22.3l0.5 16.5l0.4-2.6l0.5-14.1l0.5-18l0.4-23.1l0.5-19.2l0.5-18l0.4-22.1l0.5-0.1l0.5-7.9l0.4 5.5l0.5-7.1l0.4 3.5l0.5-8.3l0.5 3.6l0.4 2.3l0.5 1.1l0.5-4.3l0.4 5.6l0.5-6.5l0.5-10l0.4-1.5l0.5 5.6l0.5 1.6l0.4 6.6l0.5 5.6l0.4 4.6l0.5-3.9l0.5-11.7l0.4-0.3l0.5 0.2l0.5-1.3l0.4-1.4l0.5-0.6l0.5-7l0.4-1.2l0.5-10.5l0.4 2.9l0.5-3.1l0.5-1.6l0.4 0.9l0.5 5.5l0.5-3.7l0.4 4.1l0.5-3.1l0.5-4.9l0.4 1.1l0.5-4.4l0.4 1.4l0.5 0.6l0.5 1.7l0.4 0.2l0.5-3.6l0.5 3.7l0.4 1.8l0.5-1.9l0.5 0.9l0.4-1.1l0.5-1.2l0.5 1.9l0.4-0.7l0.5-0.8l0.4-5.4l0.5-1.6l0.5 10.4l0.4 6.1l0.5 7.1l0.5 4.3l0.4 1.5l0.5-2.4l0.5 2.5l0.4-19l0.5-12.4l0.4-13.3l0.5 9.7l0.5 4.4l0.4 8.4l0.5 1.7l0.5-13.7l0.4-6.1l0.5-7.9l0.5 11.6l0.4 9.5l0.5 1.6l0.4-4.8l0.5 6.9l0.5 9.1l0.4 1.6l0.5-4.5l0.5-2.9l0.4-1.8l0.5 2.6l0.5-2.3l0.4 4.4l0.5 3.1l0.5-0.6l0.4 3.1l0.5 7.6l0.4-6.9l0.5-1.2l0.5-6.2l0.4 0.4l0.5-2.6l0.5 4.3l0.4-5.9l0.5 1.5l0.5-0.7l0.4 6.1l0.5-4.6l0.4-9.4l0.5 4.3l0.5-2.2l0.4-4.2l0.5 9.7l0.5-2.4l0.4 3.8l0.5-3.1l0.5 12.7l0.4-0.4l0.5-2.1l0.4 1.7l0.5 1.2l0.5-1.6l0.4 0.2l0.5-6.1l0.5-12.2l0.4 11.8l0.5-0.5l0.5-4l0.4 1l0.5 9.7l0.5-4.3l0.4 1.2l0.5 11.7l0.4-9.7l0.5-0.4l0.5 2.1l0.4 6.4l0.5 4.4l0.5-2.4l0.4-10.8l0.5-11.1l0.5 12.6l0.4 21.1l0.5-8.7l0.4-0.9l0.5-1.9l0.5-4l0.4 5.7l0.5-3.8l0.5-1.4l0.4 2.8l0.5-6.4l0.5 8.2l0.4-3.8l0.5-7.1l0.4-3.3l0.5-6.4l0.5 9.6l0.4 7.1l0.5-9.1l0.5-0.5l0.4-3l0.5 0.5l0.5-0.4l0.4 0l0.5-0.8l0.5 4.8l0.4 0.5l0.5 3.1l0.4 3.8l0.5-2.1l0.5 3.9l0.4 8.6l0.5 8l0.5-2.2l0.4 0.4l0.5-5.1l0.5 5.7l0.4-5.5l0.5 1.9l0.4-1.2l0.5 3l0.5-1.7l0.4-0.6l0.5-13.2l0.5 7.1l0.4 5.7l0.5 1.8l0.5-5.8l0.4-2.4l0.5 7.7l0.4-6l0.5-0.7l0.5-0.4l0.4 3.8l0.5-0.7l0.5 10.5l0.4-6l0.5 3.1l0.5-1.7l0.4-5.1l0.5-3l0.4 2.3l0.5 10.1l0.5-2.8l0.4-2.6l0.5-6.4l0.5 7.5l0.4 6.6l0.5-7.7l0.5-12.3l0.4-1.5l0.5 8l0.5 1.4l0.4 0.1l0.5-5.7l0.4 4.1l0.5-4.7l0.5-0.4l0.4 9.7l0.5 1.8l0.5 3.1l0.4 8.4l0.5-1.9l0.5-3.1l0.4 3.4l0.5-0.9l0.4 3l0.5-6.2l0.5 3l0.4-9l0.5 2.4l0.5-2.2l0.4-2.3l0.5 2.7l0.5 1.9l0.4-2l0.5 1.2l0.4 1.1l0.5-0.2l0.5-6.1l0.4 4.8l0.5-8.1l0.5-2.3l0.4-3.4l0.5 5.6l0.5-0.6l0.4 6.2l0.5 2.9l0.5-3l0.4 4.7l0.5-0.7l0.4-4.7l0.5-2.3l0.5-3.1l0.4-3.9l0.5-1.6l0.5 3l0.4 0.4l0.5 0.4l0.5-2.2l0.4 2l0.5-0.5l0.4-3.7l0.5 2.6l0.5-4.5l0.4 6.1l0.5-3.3l0.5-2.8l0.4-10.5l0.5-0.4l0.5 14.2l0.4 3.4l0.5-1.5l0.4-3.1l0.5 6.1l0.5-4.9l0.4-4l0.5-5.2l0.5 3.5l0.4 6.9l0.5 5.2l0.5-3.3l0.4 6.1l0.5 2.8l0.5-0.5l0.4-0.7l0.5-1.3l0.4 5.4l0.5-1.2l0.5 2.5l0.4 3l0.5 8.6l0.5-10.4l0.4-2.6l0.5-3.3l0.5 0.7l0.4-4l0.5 6.1l0.4-1.4l0.5 0.6l0.5-4.9l0.4 5.9l0.5-6.3l0.5 0.5l0.4-11.5l0.5-10.9l0.5-12l0.4 10.2l0.5 16.3l0.4 6.1l0.5 2.3l0.5 0.1l0.4-2.7l0.5 1.9l0.5 2.1l0.4-7.2l0.5 5.1l0.5-3.7l0.4-5l0.5-1.8l0.5 5.5l0.4-7.7l0.5-1.3l0.4-3l0.5 10.9l0.5 7.5l0.4-3.8l0.5 7.3l0.5-1.6l0.4-2.8l0.5-16.8l0.5-15.9l0.4 16l0.5 16.1l0.4 0.3l0.5 1.3l0.5-1.9l0.4-3.7l0.5-3.8l0.5 1.6l0.4 4.9l0.5-8l0.5-4.5l0.4 2.1l0.5 0.5l0.4 0.6l0.5 4.2l0.5 3.1l0.4-1.1l0.5 2.2l0.5 2.7l0.4-1l0.5-13.2l0.5-16.7l0.4 19.3l0.5 24l0.5-4.8l0.4-1.7l0.5-1.6l0.4-5l0.5 3.4l0.5-1.7l0.4 4.6l0.5-2.4l0.5-2.7l0.4 1.1l0.5 2l0.5-6l0.4 1.9l0.5-4.2l0.4 1.1l0.5 1.7l0.5 1.8l0.4-2.3l0.5 3.1l0.5-7.2l0.4-4.4l0.5-4.9l0.5-1.7l0.4 3.8l0.5-2.2l0.4 4.3l0.5 4.1l0.5-1l0.4 2.9l0.5 2.5l0.5-1.7l0.4-6.6l0.5 5.2l0.5-1.8l0.4-11.4l0.5-1.2l0.5 11l0.4 3.9l0.5-2.8l0.4-1.5l0.5-4.2l0.5 1.3l0.4 5.4l0.5-2.7l0.5-3l0.4 1.5l0.5-4.5l0.5-1.2l0.4-4.5l0.5 3l0.4-4.3l0.5-2.2l0.5-0.3l0.4 3.1l0.5-7.5l0.5 7.6l0.4-4.6l0.5-2.9l0.5-6.3l0.4-0.1l0.5-11.5l0.4 9.4l0.5 0l0.5-6.3l0.4-0.2l0.5-2.2l0.5 1.4l0.4 4.6l0.5 3l0.5-6.5l0.4-1.7l0.5 4.1l0.4 7.5l0.5 10l0.5-12.2l0.4 2.6l0.5-3.4l0.5 0.7l0.4 0l0.5 3.8l0.5 3.3l0.4-8.2l0.5 6.3l0.5-1.2l0.4 1.7l0.5-1.9l0.4-1.3l0.5 1.8l0.5 3l0.4 4l0.5-7.2l0.5 3.5l0.4-5.8l0.5-0.2l0.5-0.9l0.4 2l0.5 7.8l0.4 0.2l0.5-2.3l0.5-3.9l0.4-0.8l0.5-2.3l0.5 1.8l0.4 2.9l0.5 4.2l0.5 7.4l0.4-0.3l0.5 4l0.4 0.7l0.5-4.3l0.5 2.9l0.4-1.2l0.5 0.4l0.5-4.6l0.4 3.9l0.5 2.6l0.5-4.8l0.4-4.5l0.5-2.7l0.5 7l0.4 2.8l0.5-3.5l0.4 3l0.5 2.3l0.5 4.6l0.4-4.5l0.5-4.6l0.5-6.7l0.4 2l0.5 2.5l0.5-2.6l0.4-1.4l0.5 7.7l0.4-4.6l0.5 2l0.5 1.9l0.4 1.8l0.5 1.4l0.5 5.3l0.4-4.1l0.5 0.4l0.5-4.1l0.4-11.1l0.5-0.3l0.4-4.3l0.5 3l0.5 5.4l0.4-4.3l0.5 8.6l0.5 2.7l0.4 4.8l0.5-3l0.5 3.6l0.4 0.5l0.5-3.5l0.5 10.5l0.4-2.4l0.5-2.5l0.4-1.6l0.5-1l0.5 5.3l0.4-6.5l0.5-6.2l0.5 4.3l0.4 5.9l0.5 4.4l0.5 2.1l0.4-2.7l0.5 1.3l0.4-0.3l0.5 4.6l0.5-1.1l0.4 0.5l0.5-1.5l0.5 5.1l0.4 4.9l0.5 2.7l0.5-2.7l0.4 0.2l0.5 9.8l0.4 10.6l0.5 0.8l0.5 1.5l0.4 10.7l0.5 13.7l0.5 4.3l0.4 2.2l0.5 2.1l0.5-1.2l0.4 8.3l0.5 3.3l0.5 9.1l0.4 8.7l0.5 0.5l0.4-1.3l0.5 7.7l0.5 14.7l0.4 12.1l0.5 11.8l0.5 9.3l0.4 7.9l0.5-3.9l0.5 1.9l0.4-3.3l0.5 5l0.4 2.5l0.5-3.3l0.5 4.4l0.4-10l0.5-2.6l0.5 7.2l0.4 6.1l0.5 0.6l0.5-2.2l0.4-8.1l0.5 11.1l0.4 12.1l0.5-6.1l0.5 5.6l0.4 7.7l0.5-21.6l0.5-19.5l0.4 15.9l0.5 18.4l0.5-6l0.4 3.8l0.5 1.2l0.5-1.2l0.4 0.8l0.5 3.9l0.4 10.3l0.5-12.3l0.5-8.5l0.4-4.1l0.5-4.1l0.5-7.6l0.4-4.9l0.5-2.8l0.5 0.2l0.4 4l0.5-4.8l0.4-0.1l0.5 0.5l0.5-5.2l0.4-1.2l0.5-6.3l0.5-1.1l0.4-3.3l0.5-9.2l0.5 0.5l0.4-3.8l0.5-1.9l0.4-2.7l0.5-2.5l0.5-3.5l0.4-8.8l0.5-5.9l0.5-11.6l0.4 12.1l0.5-8.1l0.5 2.7l0.4-10l0.5-0.8l0.4-3.9l0.5-4.1l0.5-6.2l0.4-3.1l0.5-0.7l0.5-15.1l0.4 0.5l0.5 2.4l0.5-0.5l0.4 1.1l0.5 2l0.5 1.9l0.4 6.2l0.5-4.3l0.4 2.3l0.5-1.9l0.5-1.5l0.4-6.8l0.5 6.7l0.5-6.9l0.4-4l0.5-3.2l0.5 3.1l0.4-9.5l0.5 3.2l0.4 2.5l0.5-3.7l0.5-1l0.4 0.4l0.5 4l0.5-5.3l0.4-0.5l0.5-2l0.5-10l0.4 3.2l0.5-5.9l0.4-2.2l0.5 2.2l0.5 3.4l0.4-10.5l0.5-9.9l0.5 9.7l0.4 4.2l0.5-3.5l0.5-2.9l0.4-2.6l0.5-4.2l0.5 5.6l0.4 3.2l0.5-3.1l0.4 8.3l0.5 1.1l0.5-5.4l0.4 6.6l0.5 0.8l0.5 0.4l0.4-4.8l0.5-5.2l0.5-3.4l0.4 2.5l0.5 0.3l0.4 3.4l0.5-2.7l0.5-1.5l0.4 0.9l0.5-9.3l0.5-7.4l0.4-1.5l0.5 1.7l0.5-1.6l0.4-2.3l0.5-4.8l0.4 4.1l0.5 6.1l0.5-1.4l0.4 4.2l0.5-1.3l0.5 3.3l0.4-3.7l0.5 3.9l0.5-9.9l0.4 1.1l0.5 2.8l0.5 6.1l0.4-2.1l0.5 0.7l0.4 2.2l0.5 4.1l0.5 0.4l0.4 3.1l0.5-6.3l0.5 4.7l0.4-13.6l0.5-2.3l0.5-0.8l0.4 2.8l0.5-0.7l0.4 2.3l0.5-4.9l0.5 2.9l0.4-8l0.5-3.3l0.5 3.1l0.4-15.1l0.5 1.3l0.5 6.1l0.4-2.3l0.5-5.5l0.4-3l0.5 0.6l0.5 3l0.4 10.3l0.5-0.5l0.5 6.1l0.4 2.8l0.5-0.1l0.5 3.1l0.4-0.3l0.5 3.7l0.5-4.1l0.4 2.2l0.5-5.6l0.4 0.5l0.5-0.3l0.5 5.7l0.4 10.2l0.5-3l0.5 2l0.4 0.4l0.5-0.8l0.5 5.3l0.4-3.1l0.5 3.1l0.4 1.2l0.5 2.1l0.5 9.2l0.4-5.4l0.5-5.4l0.5 2.1l0.4 0.2l0.5-1.7l0.5-4.9l0.4 3.1l0.5 1l0.4 0.2l0.5-5.5l0.5 7.4l0.4-3.9l0.5 5.6l0.5 0.3l0.4-1.2l0.5-3.8l0.5 3.3l0.4 5.1l0.5 0.6l0.5 0.8l0.4-3.6l0.5 3.2l0.4 6.4l0.5 0.9l0.5-0.4l0.4-0.4l0.5-4.8l0.5-0.3l0.4 7.2l0.5-1.4l0.5-1.4l0.4 5.2l0.5-1.7l0.4-7.5l0.5-2.8l0.5-12.4l0.4-9.1l0.5-3.3l0.5 1l0.4 11.6l0.5-0.1l0.5-3.1l0.4 6.7l0.5 3.4l0.4-9.3l0.5 0.1l0.5 1.9l0.4 2.3l0.5-3.4l0.5 4.8l0.4-2.3l0.5 3.1l0.5 3.4l0.4-2.7l0.5-1.4l0.5 2.7l0.4 1.1l0.5-5.6l0.4 1.3l0.5 11.1l0.5-8.7l0.4 0.4l0.5 2l0.5 7.6l0.4-3l0.5-3.9l0.5 11.4l0.4-3l0.5-5.1l0.4 3.1l0.5-3.2l0.5-5.6l0.4-4.3l0.5-6.5l0.5-0.1l0.4 4.5l0.5-8.2l0.5 4.1l0.4 0.6l0.5-0.4l0.4 3l0.5 7.6l0.5 2.4l0.4 0.7l0.5 0.5l0.5-0.5l0.4 6.6l0.5-5.8l0.5 3l0.4-9.3l0.5 0.9l0.4-2.2l0.5-11.7l0.5 2.6l0.4 1.9l0.5 7l0.5-5.7l0.4 4.6l0.5 5.8l0.5 4.3l0.4 5.8l0.5 5.5l0.5 2l0.4 0.6l0.5-2.2l0.4 12.6l0.5-3.7l0.5 6.5l0.4 7l0.5 8.4l0.5 6.7l0.4 4.5l0.5 9.5l0.5 5.5l0.4-1.3l0.5 1.8l0.4 17.5l0.5 0.4l0.5 5.5l0.4-0.6l0.5-2l0.5 4.1l0.4 0.5l0.5-3.9l0.5-3.2l0.4-4.6l0.5 2.4l0.4 7.9l0.5-5.2l0.5-5l0.4-4.7l0.5 1.6l0.5-5.7l0.4-5.4l0.5-0.2l0.5-6.5l0.4-2.1l0.5 3l0.5-5l0.4 11.5l0.5-6.5l0.4-6.1l0.5 0.3l0.5-6.1l0.4-1.7l0.5-4l0.5-3.6l0.4 0.8l0.5-3.1l0.5 4l0.4-6.4l0.5-7.3l0.4-1.5l0.5-5.9l0.5 0.8l0.4-5.8l0.5-2.2l0.5-4.8l0.4 1.1l0.5 0.2l0.5 3.3l0.4 5.9l0.5-3.2l0.4 1l0.5-15.6l0.5-0.2l0.4 3l0.5-2.2l0.5-1.1l0.4 5.8l0.5-1.2l0.5 3l0.4-2.5l0.5-0.2l0.5-2.5l0.4-8.9l0.5-0.1l0.4-1.4l0.5 0.6l0.5 5.7l0.4-2.5l0.5 13.2l0.5-4l0.4 1.4l0.5-0.7l0.5 5.4l0.4 0.9l0.5 8l0.4 3.9l0.5 3.6l0.5 2.4l0.4 5.4l0.5 0.4l0.5 1.2l0.4 4.4l0.5-10.9l0.5-1l0.4-4.9l0.5 4l0.4 2.6l0.5 16.5l0.5 3.6l0.4 1.5l0.5 6l0.5 3.7l0.4 13.6l0.5 2.5l0.5 10.2l0.4 6.8l0.5 16l0.5-1.9l0.4 3.2l0.5-6.2l0.4 7.8l0.5 2.9l0.5-10.9l0.4-1.8l0.5 5.5l0.5 10.8l0.4 5.4l0.5 0l0.5-4.3l0.4 3l0.5-1.5l0.4-6.9l0.5-8.2l0.5-0.1l0.4 3.1l0.5 2l0.5-5.5l0.4 2.1l0.5-3.5l0.5-6.7l0.4-6.4l0.5-6l0.4-8.3l0.5-0.6" fill="none" stroke="#62B8E8" stroke-width="3.4" stroke-linejoin="round" stroke-linecap="round"/>
<path d="M711.3 1289.1l0.5-8.7l0.4-9l0.5-0.7l0.5 5.7l0.4 5.2l0.5-12.6l0.4-11.2l0.5-9.7l0.5 1.1l0.4 6.3l0.5 1.2l0.5 2.6l0.4-7.1l0.5-0.9l0.5 1.5l0.4 7.7l0.5-9.6l0.4 8l0.5 6.8l0.5 2.1l0.4-5.3l0.5-1.2l0.5 1.8l0.4-4.1l0.5 4.1l0.5-11.9l0.4 3.2l0.5-1.2l0.5-1.2l0.4 9.7l0.5-6.8l0.4 3.7l0.5-0.2l0.5 2.3l0.4-3.2l0.5 5.2l0.5-5.9l0.4 11.8l0.5 4.6l0.5 2.6l0.4-2.9l0.5-4.2l0.4-9.1l0.5 1.2l0.5 8.6l0.4-2.6l0.5 7.2l0.5 2.9l0.4 2.7l0.5 7.8l0.5-8.6l0.4-9.3l0.5-3.1l0.4-5.2l0.5-10.4l0.5 2.9l0.4 7.8l0.5-10.9l0.5 4.2l0.4-10.2l0.5-4l0.5 4.6l0.4 0.8l0.5 15l0.5 10.3l0.4 9.5l0.5 6.8l0.4-5.5l0.5-5.8l0.5-2.7l0.4-7.8l0.5 0.5l0.5 15.2l0.4 1.2l0.5-8l0.5 4.6l0.4-6.3l0.5-7.8l0.4 11.2l0.5-9.1l0.5-2.6l0.4 11.1l0.5-3.9l0.5-3.6l0.4-12.1l0.5 0.5l0.5-0.8l0.4 1.2l0.5-1.8l0.4-3.3l0.5 0.9l0.5-1.1l0.4-7.4l0.5 7.6l0.5-1.7l0.4-1.1l0.5 5.7l0.5 5.5l0.4 9l0.5 0.7l0.5-0.7l0.4-11.4l0.5 1.1l0.4 2.5l0.5-1.7l0.5 4.1l0.4-9.6l0.5 3.3l0.5-1.5l0.4-7l0.5-0.5l0.5-1.4l0.4 3.3l0.5 0.7l0.4-3.6l0.5-0.9l0.5-0.5l0.4 9l0.5 0l0.5-0.6l0.4-11.1l0.5-0.7l0.5-16.4l0.4 23.1l0.5 31.6l0.4-8.2l0.5-11.4l0.5-0.7l0.4 25.2l0.5 22.8l0.5-22.6l0.4-15.3l0.5-20.2l0.5 0.8l0.4 4.9l0.5 5.6l0.5 2.7l0.4-1.8l0.5-4.7l0.4 8l0.5-5.9l0.5 3.4l0.4 7.8l0.5 8.1l0.5-16.2l0.4-13.4l0.5 9l0.5 3.5l0.4-1.4l0.5-4.5l0.4 6l0.5 1.5l0.5-5.1l0.4-0.7l0.5-7.4l0.5 6.6l0.4-7.3l0.5-4.9l0.5-10.1l0.4 17.8l0.5 13.3l0.4 13.2l0.5-14.4l0.5-14.2l0.4-7.9l0.5 1.1l0.5 7.6l0.4 0.5l0.5-5.9l0.5 1.9l0.4-4.4l0.5-6.8l0.5 9.2l0.4-10.2l0.5-2.8l0.4-3.7l0.5-7.7l0.5-6l0.4-6.4l0.5 8.6l0.5-0.6l0.4 6.8l0.5 11.1l0.5-0.1l0.4 12.3l0.5-1.9l0.4 9.4l0.5 8.6l0.5 3.4l0.4-2.4l0.5-6.2l0.5-1.7l0.4-0.5l0.5 0.6l0.5 2.7l0.4 5.2l0.5-1.8l0.4 4.1l0.5-4.6l0.5-9.4l0.4 2.6l0.5-2.7l0.5-12.3l0.4 7.3l0.5 1.5l0.5-6.8l0.4-0.2l0.5-7l0.4-9.2l0.5 11l0.5 10.5l0.4 2.2l0.5-5l0.5-8l0.4 9.6l0.5 9.5l0.5-0.8l0.4-12.7l0.5 0.2l0.5-4l0.4 2l0.5 5.9l0.4 12.1l0.5 0.4l0.5-15.2l0.4-1.7l0.5 0.9l0.5-0.5l0.4 4.8l0.5-2l0.5 8.4l0.4-3.7l0.5 4.8l0.4-3.4l0.5 0.9l0.5 1.2l0.4 3.4l0.5 7.5l0.5-5.8l0.4-5.8l0.5-4l0.5-10.5l0.4-1.7l0.5 0.6l0.4-2.2l0.5-4.3l0.5 4l0.4 10l0.5 7.6l0.5 4.1l0.4-12.9l0.5-1.2l0.5 3.8l0.4-1.5l0.5 3.6l0.5 4.9l0.4 5.9l0.5-2.5l0.4-9.8l0.5-4.1l0.5 8l0.4-0.8l0.5-3l0.5 1.9l0.4 6l0.5-10.2l0.5 10.8l0.4-9.2l0.5-7.3l0.4 1.9l0.5 1l0.5-5.4l0.4-5.6l0.5-13.3l0.5 8.1l0.4 3.7l0.5 3.8l0.5 0.3l0.4 0.6l0.5 3.2l0.4 3.4l0.5 26.7l0.5 29l0.4-28.8l0.5-27.5l0.5 0.9l0.4 5.2l0.5 2l0.5-3.7l0.4-4.6l0.5 5.2l0.5-5.8l0.4 5.2l0.5-5.3l0.4 13.1l0.5 7.1l0.5-6l0.4-8.8l0.5-0.4l0.5 0.7l0.4 5l0.5 12.5l0.5-4l0.4-2.7l0.5 4.3l0.4 7l0.5-9.3l0.5 12.9l0.4 3.3l0.5 4.1l0.5 2.6l0.4 1.6l0.5-0.9l0.5 3.7l0.4 3.4l0.5 5l0.4 2.3l0.5-2.8l0.5-7.5l0.4-1.9l0.5 2.5l0.5 1.1l0.4-5l0.5-4.5l0.5-2.7l0.4-6.7l0.5 8.1l0.5-0.5l0.4 5.9l0.5 3.8l0.4-4.4l0.5 5.6l0.5-4.5l0.4-21.2l0.5 21.6l0.5 5.2l0.4 5.2l0.5 2.4l0.5 0.2l0.4-3.4l0.5-7.4l0.4 4.6l0.5-4.4l0.5 2l0.4 2l0.5 5.2l0.5-4.5l0.4-7.4l0.5-2.1l0.5-13.1l0.4 13l0.5 10.5l0.4-12.4l0.5-14.6l0.5 7l0.4 3.8l0.5-4l0.5-6.6l0.4-4.3l0.5 1.4l0.5 8.5l0.4 0.4l0.5-3.5l0.5 2.4l0.4 2.5l0.5 1.1l0.4 4.1l0.5 0.9l0.5 0.9l0.4 2.5l0.5 2.9l0.5 5.5l0.4 11.8l0.5 5.2l0.5 3.8l0.4-6.7l0.5-12.2l0.4-5.1l0.5 5.9l0.5 8.5l0.4 10.3l0.5 5.4l0.5-5.7l0.4 11.9l0.5-6.9l0.5 3.2l0.4-6.2l0.5-5.8l0.4 3.5l0.5 7.5l0.5 3.3l0.4 11.2l0.5-2.1l0.5-3.9l0.4-8.4l0.5 3.8l0.5 3.5l0.4-10l0.5-15l0.5-11.8l0.4-4.9l0.5-13.1l0.4-17.4l0.5-6.3l0.5-9.9l0.4-5.6l0.5 1l0.5-14l0.4 0.2l0.5 10l0.5 5l0.4 3.7l0.5 7.5l0.4 6.7l0.5-3.4l0.5-4.9l0.4-8.4l0.5-1.1l0.5 2.5l0.4-4.3l0.5-0.8l0.5-9.7l0.4 7l0.5-1.1l0.4-1.5l0.5-8l0.5 9.6l0.4-6.2l0.5 9.4l0.5 5.3l0.4 2.3l0.5 10.2l0.5 4.9l0.4 5.1l0.5-1l0.4-1.2l0.5 2.9l0.5 3.9l0.4 2.7l0.5 6.8l0.5-0.5l0.4 3.1l0.5 3l0.5 8.2l0.4 12l0.5-14.6l0.5-12l0.4 5.9l0.5 5l0.4 4.7l0.5 0.6l0.5 11l0.4-2.2l0.5 2.2l0.5-8.7l0.4 3.5l0.5 0.2l0.5-8.6l0.4-1.1l0.5 9.4l0.4 6.6l0.5-2.7l0.5-0.2l0.4-20.1l0.5-24.3l0.5 14.8l0.4 14.9l0.5 5.6l0.5-4.8l0.4 1.1l0.5-3.1l0.4-4.7l0.5-2.2l0.5-6.8l0.4-0.9l0.5 6.6l0.5 5.1l0.4 2.3l0.5 7.2l0.5 7.2l0.4-3.7l0.5-4.8l0.5-10l0.4 5.4l0.5 0.6l0.4 40.5l0.5 38l0.5 40.4l0.4-38.8l0.5-44.8l0.5-41.5l0.4 12.1l0.5 2.9l0.5-8.6l0.4-0.9l0.5-7.8l0.4-2.4l0.5-2.7l0.5 11.3l0.4-9.7l0.5 2.5l0.5 4.7l0.4 0.3l0.5 5.7l0.5 2.3l0.4 0.8l0.5-5l0.4 5.5l0.5 1.1l0.5-5.8l0.4 0.5l0.5-10.7l0.5-11l0.4-10.4l0.5 6.2l0.5 7.5l0.4 1.8l0.5-1.1l0.5-3.1l0.4 0.1l0.5 14.2l0.4-2.8l0.5 0l0.5-8.7l0.4 7.2l0.5-7.1l0.5-7.7l0.4 2.3l0.5 1.7l0.5-9.9l0.4-6.4l0.5 9.5l0.4-1.3l0.5 7.7l0.5 11.1l0.4 4l0.5-8.2l0.5 5.5l0.4 4.1l0.5 3.3l0.5 4l0.4 0l0.5 0.4l0.4-0.2l0.5-4.1l0.5 2.8l0.4-9.8l0.5-2.1l0.5-2.2l0.4-4.4l0.5 8.5l0.5-5.7l0.4 4.9l0.5-3l0.5-3.6l0.4 4.8l0.5-7.2l0.4 0.7l0.5-11.8l0.5 6.8l0.4 27.2l0.5 13l0.5-9l0.4 1.1l0.5 12.4l0.5-17l0.4-17.2l0.5-13.2l0.4 5l0.5 3.5l0.5 1.5l0.4-5.6l0.5-5.4l0.5 4.3l0.4 6l0.5 4.7l0.5-5.6l0.4 7.6l0.5 1.3l0.4 6.5l0.5-3.7l0.5-12.7l0.4 7.8l0.5-9.5l0.5-0.7l0.4-1.9l0.5 9.5l0.5 2.7l0.4 1.8l0.5-0.1l0.5-0.4l0.4 1.3l0.5 0.6l0.4-8.2l0.5 4.5l0.5-5.2l0.4 7.7l0.5-7.8l0.5 8.4l0.4-7.3l0.5 9.9l0.5 0.2l0.4-12.2l0.5 5.8l0.4-2.2l0.5-1.1l0.5-3.6l0.4-3.8l0.5-2.6l0.5 8.2l0.4 8.7l0.5-7.2l0.5-5.3l0.4-1.8l0.5-1.8l0.4-0.2l0.5 13.4l0.5 1.9l0.4-5.6l0.5 3.3l0.5-12.6l0.4 4.4l0.5-8.1l0.5 17.9l0.4 13.7l0.5 0l0.4-5.4l0.5-1.9l0.5 10.4l0.4-11.5l0.5 6.6l0.5 1.1l0.4-7.6l0.5 3.7l0.5-1.1l0.4-4.7l0.5-0.2l0.5-4.1l0.4-8.8l0.5 5.2l0.4-3.2l0.5-3.8l0.5 0.8l0.4-4l0.5-8.1l0.5 6.6l0.4-0.9l0.5 1.1l0.5-4.2l0.4 3.1l0.5 4.8l0.4 4.2l0.5-5.8l0.5-2.1l0.4-5l0.5 9.4l0.5 2.6l0.4 6l0.5-1.6l0.5-0.1l0.4-12.6l0.5-5.3l0.4 5.8l0.5 5.2l0.5 1.3l0.4 0.7l0.5-4l0.5-3.4l0.4 3.2l0.5 8.3l0.5-1.6l0.4 7.8l0.5 11.7l0.5 9.9l0.4 11.8l0.5-14.2l0.4-13.6l0.5-12.9l0.5-13.7l0.4-6.4l0.5 8.4l0.5 0.1l0.4-4.4l0.5-4.8l0.5-4.9l0.4 2.2l0.5 44.2l0.4 42.2l0.5 36.8l0.5-36.5l0.4-30.8l0.5-36.6l0.5-6.7l0.4-0.9l0.5 5.5l0.5 4.3l0.4 11.1l0.5 1.1l0.4 5.1l0.5-9.1l0.5 4.1l0.4-5.4l0.5 7.5l0.5-3.4l0.4-1.6l0.5-4.7l0.5-5l0.4-6l0.5 3l0.5 4.2l0.4 0.8l0.5-5.5l0.4 17.6l0.5-7.9l0.5 6.7l0.4-0.5l0.5-1.4l0.5 2.8l0.4 6.4l0.5-5.8l0.5 1.7l0.4 0.8l0.5-6.1l0.4 0.1l0.5-5l0.5 7.4l0.4-4.4l0.5-9.5l0.5-1.9l0.4 13.7l0.5-2l0.5-2.2l0.4 8l0.5-1.3l0.4-4.2l0.5 8.5l0.5 5.6l0.4-9.8l0.5 5.2l0.5-3.6l0.4 0.3l0.5-3l0.5 3.4l0.4-8.5l0.5 32.6l0.5 39.2l0.4 40.4l0.5-38.1l0.4-38.9l0.5-38.2l0.5-1.1l0.4 0.2l0.5-1.9l0.5 14.3l0.4-6.9l0.5-14.6l0.5-1.1l0.4 6.4l0.5 0.7l0.4-4.8l0.5 5.1l0.5 4.6l0.4 1.8l0.5 9.9l0.5-10.5l0.4-1.9l0.5-3l0.5 1.5l0.4-4.9l0.5 3.1l0.4-6.9l0.5-3.6l0.5 7.8l0.4 9.3l0.5 6.4l0.5 9.9l0.4-8.9l0.5-9.6l0.5-4.2l0.4-4.7l0.5 0.8l0.5-4.9l0.4 4.3l0.5 2.3l0.4 3.1l0.5 1.9l0.5 1.6l0.4-0.6l0.5-1.6l0.5-5l0.4 4.4l0.5 1.8l0.5-2.1l0.4 0l0.5 10.1l0.4-5.7l0.5 7.2l0.5 3.7l0.4-10.6l0.5-5l0.5-5.9l0.4 1l0.5 12.3l0.5-5.4l0.4-2l0.5-1.4l0.4 3.1l0.5-16.3l0.5 8.5l0.4-3.1l0.5 1.5l0.5 15.4l0.4-13.9l0.5 16.8l0.5-5.2l0.4-0.5l0.5-5.6l0.5-9.3l0.4-8.1l0.5 9.8l0.4 9.9l0.5 18.4l0.5 4.4l0.4 1.2l0.5-0.4l0.5 0.6l0.4 1l0.5-2.7l0.5 6.8l0.4-12.4l0.5-10.2l0.4 7l0.5-6.3l0.5-5l0.4 6.9l0.5-0.7l0.5 1.8l0.4-7.1l0.5-4.5l0.5 2.9l0.4-0.2l0.5-2.8l0.4 1.3l0.5-10.2l0.5 9l0.4 2.2l0.5 0.2l0.5-2.8l0.4 2.4l0.5-1.5l0.5-4.5l0.4-13.6l0.5 30.4l0.4 28.8l0.5-29.4l0.5-38l0.4 10.7l0.5 0.6l0.5 2.3l0.4 5.3l0.5-7.8l0.5-0.3l0.4-3l0.5-7l0.5-11.4l0.4 9.8l0.5 12.5l0.4-0.9l0.5-2.1l0.5 0.4l0.4-2.1l0.5 3.9l0.5 2.4l0.4-7.5l0.5-4.8l0.5 4.3l0.4-0.6l0.5 7.6l0.4 3.9l0.5 4.4l0.5 4.4l0.4 10.3l0.5-18.1l0.5-11l0.4-6.5l0.5-0.9l0.5 6.9l0.4-1.5l0.5-1.7l0.4 8.7l0.5-7.5l0.5-11.8l0.4 3.6l0.5 0.3l0.5 2.8l0.4 2.8l0.5 1.2l0.5-1.6l0.4-7.2l0.5-7.3l0.5-8l0.4 4.9l0.5 9.2l0.4 8.5l0.5 3.2l0.5 3.2l0.4-2.4l0.5-2.3l0.5-8l0.4 2.7l0.5-0.7l0.5 8.2l0.4-2.6l0.5 5.2l0.4-2.6l0.5-9.6l0.5-16.2l0.4-1.3l0.5 4.4l0.5 2.5l0.4 8.8l0.5 4l0.5 0.2l0.4 4.3l0.5-1.5l0.4-0.2l0.5 4.9l0.5-10.1l0.4-13.3l0.5 10.4l0.5 11.5l0.4-6.3l0.5-5.3l0.5-4l0.4-4.4l0.5 14.5l0.5-7l0.4 3.6l0.5 4l0.4 12.3l0.5 20.7l0.5 8l0.4 11.4l0.5 10.1l0.5-10.2l0.4-11.5l0.5-15.9l0.5-10.6l0.4 13.8l0.5-5l0.4-1.1l0.5-4.1l0.5 3.5l0.4-9.2l0.5 2.4l0.5-1.9l0.4-5.6l0.5 9.3l0.5 0.4l0.4 6.8l0.5-1l0.4 3.9l0.5-0.4l0.5 0.9l0.4 1.5l0.5 7.7l0.5 8.5l0.4-10.8l0.5 2.1l0.5-7l0.4 6.7l0.5-7.5l0.5-2.4l0.4 6.1l0.5-8.5l0.4 7.3l0.5-5.9l0.5 0.7l0.4 5.5l0.5 3.3l0.5 1.3l0.4-9.7l0.5 5.3l0.5-1.3l0.4-3.4l0.5 9.1l0.4-4.9l0.5 0l0.5-2.4l0.4 4.5l0.5-7.5l0.5 2.7l0.4 13l0.5 4.9l0.5 4.9l0.4-1.2l0.5-10.3l0.4-1.1l0.5-3.9" fill="none" stroke="#3DA872" stroke-width="3.4" stroke-linejoin="round" stroke-linecap="round"/>
<path d="M711.3 1283.1l0.5 1.3l0.4 4l0.5 4l0.5 14.2l0.4-1.4l0.5-6.7l0.4-4l0.5-11.4l0.5 0.9l0.4 2.8l0.5 1.2l0.5-7l0.4 1.8l0.5 6.7l0.5 1.1l0.4-5.8l0.5-3.6l0.4 2.4l0.5-9.3l0.5-1.8l0.4 3.1l0.5-6.9l0.5-3.2l0.4-7.4l0.5-4.5l0.5 15.5l0.4-2.3l0.5-10l0.5 2.9l0.4 11.4l0.5-2.3l0.4-10.7l0.5 7.1l0.5 3.1l0.4-2.5l0.5-8.3l0.5 4.9l0.4 5.6l0.5-3.5l0.5-7.9l0.4 13.6l0.5 9.4l0.4 0.8l0.5 1.1l0.5 0.1l0.4-0.2l0.5-3.9l0.5-4.4l0.4 5.9l0.5 4.7l0.5-10.9l0.4-11.2l0.5-7.4l0.4-3.6l0.5-6.3l0.5-1l0.4-12.4l0.5 9.9l0.5 5.5l0.4 8l0.5 9.4l0.5 11.1l0.4 10.5l0.5-8.6l0.5-1.7l0.4-6l0.5-19.6l0.4-21.9l0.5 19.6l0.5 26l0.4 3l0.5 0.4l0.5-10l0.4-4.1l0.5 13.2l0.5 13.4l0.4-13.4l0.5-14.8l0.4 1.1l0.5 1.4l0.5 5.4l0.4-10l0.5-10.1l0.5-4.2l0.4-0.7l0.5 1.2l0.5-2.4l0.4-8.9l0.5 1l0.4 3.3l0.5 6.4l0.5-9.5l0.4-4.8l0.5 1.8l0.5 24.7l0.4 26.5l0.5-16.8l0.5-26.9l0.4-7.4l0.5 7.9l0.5 2.2l0.4 12.7l0.5-0.8l0.4-8.8l0.5-7l0.5 2.7l0.4 0l0.5-0.8l0.5 2.8l0.4 4.6l0.5-4.7l0.5 11.9l0.4-5.1l0.5 1l0.4 0.9l0.5 7.7l0.5-4.9l0.4 7.9l0.5 4.9l0.5-14.1l0.4 2.8l0.5-1.9l0.5 2.2l0.4 1.4l0.5 10l0.4 3.6l0.5-14.4l0.5-9.2l0.4-4.3l0.5 3.4l0.5-4.8l0.4 8.1l0.5 3.4l0.5 5.6l0.4 4.5l0.5 0.7l0.5-1.9l0.4-8.7l0.5 2.2l0.4 5.6l0.5-9.4l0.5-21.6l0.4-0.4l0.5 5.3l0.5 8.7l0.4-2.9l0.5 10.2l0.5 5.2l0.4 0l0.5 9l0.4-10.7l0.5 2.1l0.5-0.5l0.4 6.7l0.5 2.3l0.5 6.5l0.4-7.8l0.5 13l0.5 15.3l0.4-12.6l0.5-11l0.4 6.8l0.5 1.3l0.5 2.8l0.4-3l0.5 1.3l0.5 2.9l0.4 0.1l0.5-15.5l0.5-15.3l0.4-7.1l0.5 8.3l0.5 5.9l0.4-4.5l0.5 10.4l0.4 1l0.5-5l0.5 10.3l0.4 6.2l0.5 1.9l0.5-6.2l0.4-2.9l0.5 5.2l0.5 4.7l0.4 5.7l0.5 13.7l0.4 18.4l0.5-14.6l0.5-23.2l0.4-6.2l0.5 4.9l0.5 6.7l0.4 12.2l0.5 9.6l0.5-8.8l0.4-8.7l0.5-11.3l0.4-3.5l0.5-8.1l0.5-6.4l0.4 8.2l0.5-2.3l0.5-5.3l0.4-10.9l0.5 5.9l0.5 13.7l0.4-9.8l0.5-4.3l0.4-8.1l0.5 8l0.5 5.2l0.4 2.1l0.5-3.5l0.5-2.7l0.4 11.9l0.5-0.5l0.5-1.3l0.4-0.4l0.5 2.9l0.5 28.2l0.4 34.6l0.5 36.8l0.4-27.6l0.5-29.9l0.5-32.2l0.4 2.5l0.5-3.4l0.5 0.7l0.4 0.8l0.5 9.2l0.5 10.9l0.4 6.8l0.5 6.5l0.4-7.3l0.5-5.5l0.5 1.6l0.4-11l0.5-1.3l0.5-1.3l0.4-5.9l0.5-6.3l0.5 5.8l0.4 4.7l0.5 3l0.4-3.9l0.5-3.3l0.5-4.4l0.4 2.1l0.5-3.3l0.5-5.8l0.4 1.8l0.5-9l0.5 5.7l0.4 22.6l0.5 20.4l0.5 16.2l0.4-18.2l0.5-24.2l0.4-23.1l0.5 2.3l0.5 3.9l0.4-0.3l0.5 3.9l0.5 8.7l0.4 2.7l0.5 0.7l0.5 12l0.4-8.2l0.5-8.4l0.4 13.1l0.5-6.8l0.5 5.9l0.4-7.3l0.5 11l0.5-2.9l0.4 7.8l0.5-21.5l0.5 5.2l0.4 3.4l0.5-4.5l0.4-7.8l0.5 2.9l0.5-1.8l0.4-3.8l0.5 3.6l0.5 3.6l0.4 0l0.5-10.1l0.5-4l0.4 8.9l0.5 2.6l0.5-10.2l0.4 4.5l0.5 5.2l0.4-2.7l0.5-3.6l0.5 1.1l0.4 7.5l0.5-7.1l0.5 0.3l0.4 2.7l0.5-4.3l0.5-4.5l0.4-4.9l0.5 2.6l0.4 2.4l0.5 0.5l0.5-1.2l0.4 4.9l0.5 5l0.5-7.7l0.4 6.6l0.5-1.1l0.5-6.1l0.4 5.9l0.5 6.2l0.4 20.5l0.5 21.7l0.5 21.2l0.4 20.9l0.5-23l0.5-27.2l0.4-22.1l0.5 4.8l0.5-10.5l0.4 10l0.5-9.6l0.5-7.8l0.4 15.1l0.5 3.8l0.4 5.4l0.5-8.3l0.5-6.3l0.4 2.9l0.5-2.3l0.5-3.5l0.4-1.9l0.5 2.1l0.5 24.1l0.4 11.6l0.5-7.6l0.4-6.8l0.5-4.6l0.5-0.4l0.4 2.5l0.5-11.8l0.5-5.5l0.4-1.3l0.5 7.8l0.5 1.3l0.4-5.2l0.5 3.1l0.4-12.6l0.5 17.4l0.5-1.2l0.4-13.8l0.5 16.1l0.5 12.2l0.4-0.6l0.5-7.3l0.5 2.4l0.4-5.5l0.5 6.1l0.5-10.6l0.4 3.6l0.5 0l0.4 7.7l0.5 0.9l0.5 5l0.4-6.8l0.5-2.2l0.5 2.9l0.4 0l0.5-1.8l0.5 5.7l0.4 0.7l0.5 2.2l0.4-6.4l0.5-10l0.5 4.7l0.4-5.2l0.5-7.5l0.5-2.3l0.4 0l0.5-2.5l0.5 6.3l0.4 13.4l0.5-2.3l0.4-5.8l0.5-12.9l0.5-15.6l0.4 9.2l0.5 7.1l0.5 2.9l0.4-2l0.5 6.6l0.5-4.7l0.4-16l0.5-0.1l0.5 1.9l0.4 6.1l0.5-5.2l0.4-6.2l0.5-6.9l0.5 3.3l0.4 0.1l0.5 3.7l0.5 4.1l0.4 8.1l0.5 4.3l0.5-6.4l0.4 2.2l0.5 1l0.4-11.8l0.5 3.6l0.5 6.5l0.4 1.1l0.5-3.7l0.5-11l0.4 20.3l0.5 16.2l0.5 13.8l0.4 16l0.5-15.6l0.4-12.6l0.5-16.1l0.5-6.1l0.4-4.1l0.5-3.7l0.5-1.6l0.4 6.8l0.5-1.4l0.5 6l0.4 0.6l0.5 6.2l0.4-1.8l0.5 3.3l0.5-3.6l0.4 3.7l0.5-5.3l0.5-7.2l0.4-1.8l0.5 6.4l0.5 6.9l0.4 5.9l0.5-3.4l0.5 8.3l0.4-3.7l0.5 12l0.4 3.4l0.5-15.5l0.5-8.2l0.4-2l0.5 5.5l0.5 10l0.4 6.1l0.5-5l0.5 12.9l0.4 6.9l0.5-12.9l0.4 4.5l0.5 1.8l0.5 2.6l0.4 1l0.5-9.2l0.5-0.2l0.4 5.7l0.5 3.7l0.5-1.1l0.4 1.8l0.5 0.2l0.4-1.9l0.5 15l0.5 9.5l0.4 2.8l0.5 0.4l0.5-17.4l0.4 4.7l0.5-10.2l0.5 2.3l0.4-0.5l0.5-6.4l0.5 4l0.4-13.9l0.5 0.9l0.4 0.2l0.5-2.6l0.5-8.8l0.4-2l0.5-4.6l0.5 13.9l0.4 1.5l0.5-8.1l0.5-2.8l0.4-13.8l0.5-2.3l0.4 1.8l0.5-13.1l0.5-6.2l0.4-6.6l0.5 4.2l0.5 9.3l0.4-4.1l0.5-4.5l0.5-6.7l0.4-6.5l0.5 5.8l0.4 8.7l0.5-5.4l0.5-6.1l0.4-3.7l0.5 3.2l0.5 6.6l0.4 0.9l0.5 1.7l0.5 8.3l0.4-2.5l0.5-4.6l0.5 2.9l0.4 6.4l0.5 7.4l0.4 5.4l0.5 2l0.5-8.5l0.4-7.6l0.5-11l0.5 10.5l0.4 1.8l0.5 1.7l0.5 5.9l0.4-2l0.5 7.4l0.4 3.1l0.5-8.3l0.5 14.9l0.4 0l0.5-5l0.5-5.4l0.4 0l0.5 7.8l0.5-1.5l0.4 7.5l0.5 3.3l0.4 2l0.5-7.1l0.5-9.8l0.4 6.6l0.5 2.9l0.5-5.3l0.4-13.5l0.5-9.2l0.5 1.4l0.4-4.2l0.5-2.7l0.5-6.3l0.4 8.8l0.5 4.3l0.4-9.5l0.5-8.6l0.5 0.6l0.4 2.2l0.5-0.4l0.5-5.3l0.4 5.5l0.5 6.7l0.5 0.5l0.4 0.1l0.5-1l0.4-3.3l0.5 10.2l0.5 1.2l0.4 6.8l0.5-5l0.5 7.5l0.4 16.2l0.5 18.9l0.5 14.7l0.4-16.5l0.5-14.3l0.4-23l0.5-2.5l0.5 1.4l0.4-11.9l0.5 2.1l0.5 7.8l0.4-0.7l0.5-3.4l0.5-3.2l0.4 6.4l0.5 7.4l0.5-9.3l0.4-10.1l0.5-8.4l0.4 10l0.5-15.4l0.5 11.2l0.4 8.5l0.5-7.4l0.5-4.9l0.4 3.2l0.5-7.4l0.5 2.8l0.4 0.7l0.5-2.2l0.4 16.5l0.5 5l0.5 0.1l0.4-7.6l0.5-5.1l0.5-5l0.4-6.5l0.5 10.8l0.5 2.5l0.4 7.2l0.5-10.6l0.4-3.5l0.5 2.6l0.5 32.4l0.4 24.4l0.5 28.9l0.5-27.3l0.4-22.8l0.5-24.3l0.5 0.2l0.4 1.8l0.5-0.2l0.4 4.3l0.5 3.3l0.5-16.8l0.4-7l0.5 8.8l0.5-1l0.4 4.2l0.5 4l0.5 9l0.4-10.3l0.5-4.8l0.5-7.4l0.4-1.7l0.5 0.7l0.4-5.4l0.5 6.1l0.5 2.3l0.4 0l0.5-5.7l0.5 1l0.4-8.1l0.5 3.9l0.5-7.3l0.4-4.8l0.5-0.9l0.4-10.5l0.5 4.5l0.5 3.1l0.4-3l0.5 9.8l0.5 30.6l0.4 18.7l0.5 16.1l0.5-14.4l0.4-18.3l0.5-18.1l0.4-8.5l0.5-13.1l0.5 2.2l0.4-8.1l0.5-1l0.5 6.2l0.4 2.4l0.5-5l0.5 6.2l0.4 6.3l0.5-4.1l0.5 6.8l0.4-11.5l0.5 7.3l0.4-4.1l0.5 10.4l0.5-0.7l0.4-7l0.5 0.3l0.5-4.2l0.4-2.1l0.5-0.2l0.5-0.7l0.4 1.3l0.5 6.8l0.4-2.2l0.5 0.5l0.5 6.1l0.4-1.2l0.5 4l0.5 3.6l0.4-1.4l0.5 0.8l0.5 5.5l0.4-5.5l0.5-9.1l0.4-6.2l0.5-2.9l0.5 5.6l0.4 11.8l0.5 0.4l0.5 1.5l0.4-10.3l0.5 6.6l0.5-5.4l0.4-3.6l0.5 2.8l0.5 9.7l0.4-10.1l0.5-2.1l0.4-9.6l0.5 5.5l0.5-3.1l0.4-2.8l0.5 9.8l0.5-1.4l0.4 12.1l0.5 16.3l0.5 11.1l0.4 17l0.5 12.5l0.4 13.4l0.5-12.4l0.5-9.4l0.4-12.9l0.5-9.1l0.5 5.5l0.4-2.1l0.5-5.7l0.5 7.9l0.4 0.3l0.5 6.5l0.4 7.9l0.5-2l0.5-8.5l0.4 1.6l0.5 0.2l0.5 7.9l0.4-5.1l0.5 0.9l0.5-5.6l0.4-1.2l0.5 5l0.5 0.1l0.4-1.8l0.5 1.2l0.4 2l0.5-3l0.5-0.5l0.4-4l0.5-6.4l0.5-3.7l0.4 9.2l0.5 0.4l0.5 13.6l0.4-14.8l0.5 2.2l0.4 3.5l0.5-2.6l0.5-9.9l0.4 10.3l0.5-8.6l0.5 1.4l0.4 0.7l0.5-8.3l0.5 4.8l0.4 0.6l0.5 8.1l0.4-4.8l0.5 6.7l0.5 4.2l0.4-13.7l0.5-10.8l0.5 1.8l0.4 2.7l0.5-3.1l0.5 6.4l0.4-0.5l0.5 2.8l0.5-8.8l0.4-8.6l0.5-7.4l0.4-0.9l0.5 12.5l0.5-14.4l0.4 5.9l0.5-1.2l0.5 9.6l0.4-3.9l0.5 7.1l0.5-10.5l0.4-0.5l0.5 7.2l0.4 9.7l0.5 3.5l0.5-6.6l0.4 6.5l0.5-9l0.5-13.2l0.4-12.4l0.5 9.7l0.5 9.6l0.4 9.8l0.5-2.4l0.4-0.5l0.5-3.1l0.5-12l0.4 7.8l0.5 5.2l0.5-6.7l0.4 2.1l0.5 2.1l0.5-1.1l0.4-7.9l0.5 2.2l0.5-1.3l0.4 18.6l0.5 5.9l0.4-4.6l0.5-3.7l0.5-4.8l0.4-10.2l0.5-4.2l0.5 3.6l0.4-0.1l0.5-2.5l0.5 7.6l0.4-2l0.5 7.7l0.4 2.1l0.5-1.5l0.5-1.9l0.4 9l0.5-5l0.5-3.4l0.4 3.2l0.5 7.5l0.5-0.5l0.4-13l0.5 7.8l0.4 4.2l0.5-1.3l0.5-4.2l0.4-3.9l0.5 5.4l0.5 3l0.4-0.6l0.5-4.4l0.5-4.5l0.4 0.6l0.5-1.5l0.4-1.7l0.5 8.5l0.5-9.8l0.4 1.5l0.5-2.3l0.5 0.7l0.4-2.5l0.5 16l0.5-1.5l0.4 2.1l0.5-0.7l0.5-10.1l0.4 10.4l0.5-10.9l0.4-15l0.5 11.8l0.5 12.6l0.4 5.6l0.5-10.7l0.5-3.7l0.4-6.4l0.5-8.4l0.5 7.7l0.4-1l0.5 2.5l0.4 3.8l0.5 7.4l0.5 23l0.4 25.1l0.5 25.7l0.5-32.8l0.4-26.4l0.5-21.2l0.5 12.2l0.4-2.1l0.5-3.3l0.4-5.5l0.5-3.1l0.5-15.2l0.4 2.7l0.5-1l0.5-0.5l0.4 1l0.5 9.5l0.5-1.5l0.4 5l0.5-3.8l0.5 0.9l0.4-1.9l0.5 5.3l0.4 10.9l0.5 0.4l0.5-8.5l0.4 5.3l0.5-9.3l0.5-22.3l0.4 6.9l0.5 0.2l0.5 4.3l0.4 5.1l0.5 1.1l0.4 5.5l0.5 3.3l0.5-10.8l0.4-6.9l0.5 0.6l0.5 12.4l0.4-6.3l0.5 0.7l0.5 5.6l0.4-3.8l0.5 1l0.4-5.5l0.5 10.7l0.5-2.5l0.4 2.8l0.5 3.7l0.5 9.4l0.4 0.3l0.5 2.5l0.5-9.3l0.4-17.4l0.5 2.8l0.5-4.6l0.4 6.1l0.5 24.2l0.4 4.8l0.5-4.1l0.5-9.4l0.4 1.5l0.5-0.6l0.5 5.2l0.4-6.5l0.5-5.7l0.5 4.3l0.4-6.8l0.5 5.1l0.4 9.4l0.5 5l0.5-3.2l0.4-4.9l0.5-4.7l0.5 1.3l0.4-10.2l0.5 5.4l0.5 14l0.4-19.4l0.5-16.5l0.4 5.9l0.5 16.8l0.5 4.3l0.4 7l0.5 5.7l0.5-5.7l0.4-10.2l0.5-9.9l0.5-3.9l0.4 0.1l0.5 11.5l0.5-10.5l0.4 5l0.5 1.6l0.4-2.2l0.5-1.5l0.5-1.8l0.4 2.8l0.5 2.3l0.5 7l0.4 13.8l0.5 8.1l0.5 4.4l0.4 7.5l0.5 1.2l0.4-2.4l0.5 0.9l0.5-6.2l0.4 2.2l0.5-1.7l0.5 7.6l0.4 6.6l0.5-25.1l0.5-13l0.4 5.6l0.5-2.6l0.4 8l0.5 5.2" fill="none" stroke="#C874AC" stroke-width="3.4" stroke-linejoin="round" stroke-linecap="round"/>
<path d="M711.3 1309.1l0.2 19.6l0.3 16.2l0.2 17.3l0.3 23.5l0.2 18.8l0.2-16.4l0.3-20.9l0.2-12.9l0.2-26.6l0.3-20.1l0.2-3.5l0.3-12.2l0.2-6.3l0.2 19.1l0.3-14.9l0.2-10.3l0.2-2.9l0.3-4.7l0.2-6l0.3-0.7l0.2-0.6l0.2-0.7l0.3-0.7l0.2-0.7l0.2 0.1l0.3 0l0.2 0.1l0.3 0l0.2 0.1l0.2 0l0.3 0l0.2 0.1l0.2 0l0.3 0.1l0.2 0l0.3 24.8l0.2-4.7l0.2 15.2l0.3 10.4l0.2 1.9l0.2-7.2l0.3 2.2l0.2-15l0.3-9.2l0.2-4l0.2 0.8l0.3 21.1l0.2 25.9l0.3 28.7l0.2 17.5l0.2 13.4l0.3-12l0.2-7.7l0.2-10l0.3-11.9l0.2-18.8l0.3 2.1l0.2 3.1l0.2-5.2l0.3 1l0.2 5.1l0.2 8l0.3-12.1l0.2-15.1l0.3-14.8l0.2-16.5l0.2-15.7l0.3 4l0.2 7.3l0.2 11.4l0.3 4.9l0.2-13.8l0.3-12.3l0.2-1.2l0.2 20l0.3-0.7l0.2 31.7l0.2-30.4l0.3 5.1l0.2 4.2l0.3 0.3l0.2-13.7l0.2-5l0.3 14.1l0.2-17.4l0.2-1.5l0.3 5.1l0.2-2l0.3-2.8l0.2 4.9l0.2 13.9l0.3 0.9l0.2 1.5l0.3 12.8l0.2-2.3l0.2 0.2l0.3-17l0.2 9.3l0.2-0.8l0.3 10.4l0.2-6l0.3-1l0.2 7.2l0.2-11.9l0.3-8.1l0.2-5.8l0.2-7.6l0.3-6.3l0.2 7l0.3-6.9l0.2 0.1l0.2 8.1l0.3-3.1l0.2 13.1l0.2-18l0.3 8.4l0.2-7l0.3-1.3l0.2 0.6l0.2 11.7l0.3 15.4l0.2-5.5l0.2 2.5l0.3 6.7l0.2 7.5l0.3 9.6l0.2-8.2l0.2-11l0.3 4.8l0.2-23.4l0.2 15.8l0.3-13.3l0.2 19.3l0.3 8.2l0.2 5.5l0.2-12.1l0.3-12.8l0.2 10.5l0.2-7.3l0.3-5.5l0.2 2.9l0.3 3.4l0.2 9.7l0.2-17.9l0.3-5.1l0.2 4.4l0.3-15l0.2 7.7l0.2 15.9l0.3 1.6l0.2-11.2l0.2 0.7l0.3-5.3l0.2-2.8l0.3-7.1l0.2-12.5l0.2-4.9l0.3 8.3l0.2 6.8l0.2-4l0.3-1.6l0.2-6.5l0.3-2.4l0.2-0.2l0.2 2.3l0.3 6.1l0.2 6.1l0.2 3.7l0.3 0l0.2 2l0.3-1.9l0.2 6.4l0.2-4l0.3 6l0.2-1.3l0.2 12.3l0.3 1.7l0.2-3.5l0.3 8.8l0.2 4.3l0.2-6.4l0.3-7.3l0.2 1.6l0.2 11.8l0.3-13l0.2 2.2l0.3-0.9l0.2 4.1l0.2-4.7l0.3-3.4l0.2-0.3l0.3-3.6l0.2-5.9l0.2 6.5l0.3-3l0.2-2.7l0.2-1.9l0.3-9l0.2-8.3l0.3 7.9l0.2 10.6l0.2 4.6l0.3 8.3l0.2-4.1l0.2 2.3l0.3 4.2l0.2-12.5l0.3-0.5l0.2-4.2l0.2 1.9l0.3 0l0.2 1l0.2-0.9l0.3 1.1l0.2-1.2l0.3 5.7l0.2 6.6l0.2 8.6l0.3-3.6l0.2-11.4l0.2-0.1l0.3 3.2l0.2 1.4l0.3 2.7l0.2-0.9l0.2-15.6l0.3 1.6l0.2-1.6l0.2 0l0.3 0.1l0.2 0l0.3 5.1l0.2-5.1l0.2 0.1l0.3 0l0.2 0l0.3 0.1l0.2 7.4l0.2-5.9l0.3 0.3l0.2-1.8l0.2 0.1l0.3 18.1l0.2 15.8l0.3 9.2l0.2 10.8l0.2 13.5l0.3-13.5l0.2-13.4l0.2-13.4l0.3-13.5l0.2-13.4l0.3 0.1l0.2 0l0.2 0l0.3 0l0.2 0.1l0.2 10.2l0.3-10.2l0.2 0.3l0.3-0.2l0.2 4.9l0.2-4.9l0.3 0l0.2 0.1l0.2 0l0.3 0l0.2 0l0.3 0.1l0.2 0l0.2 0l0.3 0l0.2 0.1l0.2 0.3l0.3 0.4l0.2 0.3l0.3-0.3l0.2-0.3l0.2-0.3l0.3 5.3l0.2-1l0.3 7l0.2-0.1l0.2-3.9l0.3-3.1l0.2 1.8l0.2-1.7l0.3 5.7l0.2-3.2l0.3-6.5l0.2 0l0.2 0.1l0.3 0l0.2 0l0.2 0l0.3 2.2l0.2 6.4l0.3 4.1l0.2-3.9l0.2 12.4l0.3 8.3l0.2-8l0.2 18.5l0.3 11.1l0.2 12.6l0.3 7.8l0.2 6.3l0.2 9.5l0.3-7.8l0.2-7.8l0.2-11.1l0.3-7.7l0.2-11.3l0.3-12.7l0.2 6.1l0.2-13.3l0.3 10.8l0.2-16.2l0.2-8.5l0.3-7.4l0.2-12.6l0.3-5.8l0.2 7.5l0.2 13.1l0.3 9.6l0.2 14.7l0.3 13.3l0.2 9.2l0.2 0.1l0.3 0l0.2-6.2l0.2 6.4l0.3 0l0.2 0.1l0.3-2.1l0.2-8.6l0.2 10.9l0.3-5.9l0.2 6l0.2 0.1l0.3-20.3l0.2-28.6l0.3-12l0.2 9.9l0.2 27.9l0.3 23.5l0.2 0l0.2 0.1l0.3-9.1l0.2-3l0.3 10l0.2-12l0.2-13.4l0.3 11.7l0.2-4.1l0.2-2l0.3 0.2l0.2 13.5l0.3-12.7l0.2 4.6l0.2-13.1l0.3 16l0.2 2.4l0.2-4l0.3-4.3l0.2-4.7l0.3 3.2l0.2-11.2l0.2 1.6l0.3-3.2l0.2-12.5l0.3 20l0.2-9.5l0.2 4.4l0.3-7l0.2-8.4l0.2 9.8l0.3 8.5l0.2-8.4l0.3-5.4l0.2 6.7l0.2 2.7l0.3 9.8l0.2 17.1l0.2 11.5l0.3 9.6l0.2 11.4l0.3-7.8l0.2-15.2l0.2-13.1l0.3-12.3l0.2-14.7l0.2 0.7l0.3 0.5l0.2 3.8l0.3 7.7l0.2-16.9l0.2 9l0.3 0.6l0.2-5.6l0.2 13.1l0.3 4l0.2-7l0.3-9l0.2 20.7l0.2-1.2l0.3-9.7l0.2-14.8l0.2-2.3l0.3 4.9l0.2 2.2l0.3-12l0.2 14.7l0.2 5.8l0.3 9.2l0.2-14.5l0.2-2.5l0.3 6.2l0.2 8.8l0.3-2l0.2 1.4l0.2 4.8l0.3 9.9l0.2-16.8l0.3 2.4l0.2-1.2l0.2-1l0.3-13.9l0.2 13.1l0.2 4l0.3 2.9l0.2-3.2l0.3-3.9l0.2 3.2l0.2 9.8l0.3-5.4l0.2-19.8l0.2-7.1l0.3 15.7l0.2 19.9l0.3 15.3l0.2 7l0.2 7.1l0.3-9l0.2-5.1l0.2-10.3l0.3-0.2l0.2-19.1l0.3 22.4l0.2 5.2l0.2-10.6l0.3-18.9l0.2-8.1l0.2-18.5l0.3-11.7l0.2-13.5l0.3-9l0.2 9.6l0.2 11.5l0.3 11.5l0.2 17.5l0.2 18.1l0.3 10.3l0.2-11.6l0.3 15.8l0.2-1.7l0.2-20.7l0.3 5.9l0.2 0.4l0.3 13.4l0.2-13.6l0.2 11.5l0.3 14.4l0.2-1.2l0.2 12.6l0.3 8.4l0.2 10.4l0.3 16.9l0.2-15.2l0.2-14.5l0.3-20l0.2-13.4l0.2-4.5l0.3 2.7l0.2-6.1l0.3 12.5l0.2 8.7l0.2 7.5l0.3 16.5l0.2 8.3l0.2-11.6l0.3-9.6l0.2-10.5l0.3-13.6l0.2 6.3l0.2-15.8l0.3 3l0.2 8.1l0.2-7.1l0.3-22.4l0.2-3.9l0.3 3.5l0.2-9.4l0.2 0l0.3 0l0.2 0l0.2 0.1l0.3 0l0.2 0l0.3 0l0.2 0.1l0.2 12.4l0.3-6.8l0.2 6.6l0.3-10l0.2 6.4l0.2 11.7l0.3-2.6l0.2-5.2l0.2 9.8l0.3-0.6l0.2 28.9l0.3-9.9l0.2-4.3l0.2-5.2l0.3 9.6l0.2 4.5l0.2-20.4l0.3-8.7l0.2-3.6l0.3-2.8l0.2 28.1l0.2 16.9l0.3 15l0.2 10.6l0.2 13.4l0.3-15.1l0.2-16.3l0.3-18.1l0.2-7.1l0.2-16.4l0.3-3.6l0.2 8.3l0.2 3l0.3 5l0.2 3.3l0.3-3.7l0.2 4.5l0.2 10.4l0.3-3.8l0.2 3.4l0.2 5.8l0.3 4.5l0.2 0l0.3-4.7l0.2-10.7l0.2-15.4l0.3-23.5l0.2-8.1l0.3-14.5l0.2 13.1l0.2 10.1l0.3 5.6l0.2 3.4l0.2-0.4l0.3 4.1l0.2-0.5l0.3 9.9l0.2-21.3l0.2 7.2l0.3-5l0.2-4.2l0.2 5.5l0.3 17.5l0.2 6.9l0.3 9.4l0.2-9.9l0.2-7l0.3 0l0.2 13.5l0.2-4.1l0.3 3.2l0.2 9.4l0.3 10.2l0.2-3.5l0.2-12.8l0.3 1.3l0.2-0.7l0.2 3.3l0.3 19.9l0.2 0.3l0.3 7.2l0.2 3.8l0.2-3.8l0.3-3.8l0.2-3.8l0.2-3.8l0.3-3.8l0.2 0l0.3 0l0.2 0l0.2 0l0.3 0l0.2-2.3l0.3 2.2l0.2-17.6l0.2-8.8l0.3 13.8l0.2-12.4l0.2-2.3l0.3 6.4l0.2-1.5l0.3 0.2l0.2-8l0.2-10l0.3 0.7l0.2 6.3l0.2-17.1l0.3 17.5l0.2 10.6l0.3 21.1l0.2 16.1l0.2 19.7l0.3 16.2l0.2-18.4l0.2-45.9l0.3-31l0.2-20l0.3-4.7l0.2-5.3l0.2 8.6l0.3 7.4l0.2 7.4l0.2 20.6l0.3 11.7l0.2 7.8l0.3 5.7l0.2-3.9l0.2-1.2l0.3-8.9l0.2 0.4l0.2 3.9l0.3-16.1l0.2 6.4l0.3 12l0.2 8.8l0.2 11.2l0.3 14.7l0.2-16.6l0.2-12.4l0.3-8l0.2-6.2l0.3 4.7l0.2 15.9l0.2 0l0.3-1.6l0.2-2.7l0.3 4.2l0.2 0l0.2-4.2l0.3-10.6l0.2 1.4l0.2 1.3l0.3 12.1l0.2-2.3l0.3-5.8l0.2-4.3l0.2 11.3l0.3-7.3l0.2 4.2l0.2-1.2l0.3-15.3l0.2 8.1l0.3-12.2l0.2 2.5l0.2-1.1l0.3-13l0.2-7.3l0.2-0.7l0.3 0.1l0.2 0.1l0.3 0.1l0.2 0.1l0.2 0l0.3 7.6l0.2 7.5l0.2 7.5l0.3 7.4l0.2 7.4l0.3 7.4l0.2-7.3l0.2-7.4l0.3-6.8l0.2-7.7l0.2-6.5l0.3-8l0.2 10.2l0.3-5l0.2-1.1l0.2 1.9l0.3 8.8l0.2 5.9l0.3 4.4l0.2 0.3l0.2 17l0.3-4.3l0.2-5.8l0.2-3.9l0.3 2.4l0.2-9.2l0.3-10.8l0.2-17.5l0.2-3.4l0.3-10.6l0.2 7.9l0.2 17.3l0.3 3.3l0.2 13.7l0.3 7.4l0.2 6.8l0.2 1.9l0.3-0.6l0.2 5.2l0.2 0l0.3 0l0.2 0l0.3-13.1l0.2-13l0.2-1l0.3 19.9l0.2 14.6l0.2 9.5l0.3 4.2l0.2-5.1l0.3-4.2l0.2-3.4l0.2-4.3l0.3-4.3l0.2 0l0.2 0l0.3-4.5l0.2 3.5l0.3 1l0.2 0l0.2-0.1l0.3 0l0.2-6.9l0.3-2.1l0.2-7.7l0.2-7.6l0.3 2.5l0.2-9l0.2 10.3l0.3-2.5l0.2-11.3l0.3 10.2l0.2-3l0.2 14.2l0.3-0.3l0.2 1.9l0.2 3.3l0.3-0.7l0.2-17.6l0.3-9.6l0.2 4.2l0.2 18.9l0.3 10l0.2 5.5l0.2-1l0.3-3.8l0.2-13l0.3 5.9l0.2 8.9l0.2 0l0.3 0.3l0.2 7.6l0.2 4l0.3 4l0.2 4l0.3-4.5l0.2-6.1l0.2-3.9l0.3-2.5l0.2-16.4l0.2 9.3l0.3 1.9l0.2-2.6l0.3-1.1l0.2-2l0.2 5.6l0.3-7.8l0.2-7.1l0.3-0.8l0.2-1.2l0.2-5.4l0.3-9.9l0.2-21.4l0.2-20.2l0.3-22.2l0.2-19.6l0.3 20.2l0.2 20.1l0.2 16.7l0.3 23.5l0.2 17.1l0.2-9.7l0.3-0.1l0.2 6.6l0.3-8.2l0.2 2.7l0.2 2.8l0.3-0.7l0.2 11.6l0.2-3l0.3-5.2l0.2 6.4l0.3-7.7l0.2 11l0.2-3l0.3-3.7l0.2-7l0.2 20.9l0.3 4.8l0.2 12.3l0.3 5.4l0.2 7.1l0.2-6l0.3-7.4l0.2-8.4l0.2-13.6l0.3-4.5l0.2 3.1l0.3-8.4l0.2 6l0.2-2.3l0.3 3l0.2 0.4l0.3-5.3l0.2 2.5l0.2-4.5l0.3-3.7l0.2 3.6l0.2 1.2l0.3 6.9l0.2 5.8l0.3-8.4l0.2 8.3l0.2-3.4l0.3-0.3l0.2-0.8l0.2 0.8l0.3 2.8l0.2 6.8l0.3-4.5l0.2 5.8l0.2-6.2l0.3-0.9l0.2-0.7l0.2 4.6l0.3-0.5l0.2-5.4l0.3 4.6l0.2 9.1l0.2-7.6l0.3-3.5l0.2 2.7l0.2 3.6l0.3-3.6l0.2-5.9l0.3-2l0.2-7.7l0.2 4.5l0.3 5.4l0.2 12l0.2 11.3l0.3 9.5l0.2-10.8l0.3-16.4l0.2-1.8l0.2 3.1l0.3-12.6l0.2 9l0.2-10.3l0.3 2.2l0.2 18.9l0.3 9.8l0.2 11.1l0.2 9.4l0.3 13.1l0.2-13l0.3-12.4l0.2-15l0.2-11.7l0.3-18.2l0.2 6.4l0.2-2l0.3-0.1l0.2-5.7l0.3 1.7l0.2-5.3l0.2 0.5l0.3 2.6l0.2 1.5l0.2 4.1l0.3 4.4l0.2-10.4l0.3-1l0.2-2.1l0.2-1.1l0.3 2.2l0.2 8.4l0.2-1l0.3 1.2l0.2-9l0.3 5.2l0.2-7.3l0.2 0.8l0.3-0.1l0.2 1.8l0.2 5.3l0.3-5.7l0.2 1.7l0.3 1.7l0.2-6l0.2-1.8l0.3 2.9l0.2 2.2l0.2 5.4l0.3-5.4l0.2 5.6l0.3-8.7l0.2-2.1l0.2 22.5l0.3 14.9l0.2 20.6l0.3 16.4l0.2 18.3l0.2-17.7l0.3-17.3l0.2-15.8l0.2-18.9l0.3-16.6l0.2 2.3l0.3-2.5l0.2 8l0.2-1.7l0.3-3l0.2-4.7l0.2-1.1l0.3 2.8l0.2 2.7l0.3 20.7l0.2 17.4l0.2 15.1l0.3 14.8l0.2 12.1l0.2-12.4l0.3-14.2l0.2-9.7l0.3-15.1l0.2-19.3l0.2 8.8l0.3 0.1l0.2 4.8l0.2-4.4l0.3-8.3l0.2 4.2l0.3 8l0.2-0.3l0.2 8.9l0.3 6.2l0.2-14l0.2-20.4l0.3-24.1l0.2 19.3l0.3 11.8l0.2 10l0.2-9.1l0.3-19.1l0.2-2.3l0.3 6.6l0.2-0.6l0.2-6.8l0.3 6.3l0.2-1l0.2-5.7l0.3-0.3l0.2-1.5l0.3-4.1l0.2 6.7l0.2 3.9l0.3 2.4l0.2-1.9l0.2 3.4l0.3 5.7l0.2-5.7l0.3 1.9l0.2 1.5l0.2-3.4l0.3-10.3l0.2 17.4l0.2 12.3l0.3-15l0.2-7.5l0.3 3.3l0.2 1.8l0.2 2.8l0.3-3.9l0.2 1.9l0.2 8.7l0.3 6.2l0.2-8.1l0.3-1.9l0.2-0.7l0.2-10l0.3-7.5l0.2-0.1l0.2 1.2l0.3-0.7l0.2 9.3l0.3 11.2l0.2 8.8l0.2 9.7l0.3 10l0.2-9l0.3-7l0.2-4.9l0.2-4.4l0.3-0.2l0.2-2.7l0.2 4.8l0.3-0.8l0.2-1.6l0.3-6.4l0.2 6.5l0.2 29l0.3 24.4l0.2-21.5l0.2-26.9l0.3 5.9l0.2 0l0.3 0l0.2-0.1l0.2 0l0.3 0l0.2-9.6l0.2 12.7l0.3 4.7l0.2 3.9l0.3 4.7l0.2 4.2l0.2-6.6l0.3-8.6l0.2-15.6l0.2-7.4l0.3-15.2l0.2-4.6l0.3 1.9l0.2 1.8l0.2 0.7l0.3 1.2l0.2-3.5l0.2 10.6l0.3-0.6l0.2 3.8l0.3 2.4l0.2-2.9l0.2-7.4l0.3 1.4l0.2 0.1l0.3-3l0.2-2l0.2-2.9l0.3-2.8l0.2 7.1l0.2 13.6l0.3 1.5l0.2 8.9l0.3 13.3l0.2 7.7l0.2 6.9l0.3-5.9l0.2-5.3l0.2-5.2l0.3-14.6l0.2-10.1l0.3-20.8l0.2-5.5l0.2-6.2l0.3 4.5l0.2 7.9l0.2 8.9l0.3-7.2l0.2-15.2l0.3-5.9l0.2-7.9l0.2-8.9l0.3-14.5l0.2 16.5l0.2 14.5l0.3 11.4l0.2 22.1l0.3 21.1l0.2 3.7l0.2-8.5l0.3 4.5l0.2-4.2l0.2 4.6l0.3-8.6l0.2 5.1l0.3-6.7l0.2-0.4l0.2 2l0.3 10.2l0.2-4.2l0.3 3l0.2 2.7l0.2-7.3l0.3 5.4l0.2 1.8l0.2-6.5l0.3 5.3l0.2-5.8l0.3-4.8l0.2-3.6l0.2-3.2l0.3 15.2l0.2-6l0.2-9.3l0.3 7l0.2 0.1l0.3-7.5l0.2-0.7l0.2 6.4l0.3-0.9l0.2 5.9l0.2-7.2l0.3-3.3l0.2 4.9l0.3-6.1l0.2 17.5l0.2 11.4l0.3 4.6l0.2 8.6l0.2 6.7l0.3-9.7l0.2-8l0.3-15.8l0.2-8.4l0.2-11.6l0.3-6.9l0.2 8.9l0.2 3.3l0.3-5.5l0.2 0.2l0.3 2.2l0.2 5l0.2-11.2l0.3 10.7l0.2-0.5l0.2 7.4l0.3-4.3l0.2-8.2l0.3 2.3l0.2-4.3l0.2-1.5l0.3-5.2l0.2-8.6l0.3 2.3l0.2 5.3l0.2-0.4l0.3-9l0.2 1.3l0.2-1.4l0.3 2.4l0.2 6.9l0.3 2.7l0.2-4.8l0.2 8.8l0.3 11.8l0.2-7.7l0.2 0.4l0.3 12.9l0.2-7.3l0.3 17.2l0.2 36.5l0.2 25.3l0.3 26.2l0.2 26.2l0.2-25.1l0.3-29.9l0.2-29.5l0.3-17.6l0.2-28.7l0.2 8.5l0.3-4.6l0.2 45.1l0.2 45.7l0.3 39.6l0.2 52.1l0.3 45.9l0.2-47.4l0.2-48.7l0.3-49.3l0.2-49l0.2-45.9l0.3-5.7l0.2 4.3l0.3 0.7l0.2 23l0.2 34.9l0.3 32.3l0.2 36.9l0.3 31.4l0.2-32.6l0.2-31.7l0.3-36.9l0.2-29.1l0.2-41l0.3 7.8l0.2-16.4l0.3 0l0.2-0.1l0.2-0.1l0.3 41.8l0.2 36.1l0.2 37.8l0.3 38.7l0.2 38.6l0.3-37.8l0.2-37.3l0.2-41l0.3-38.8l0.2-38.7l0.2 0l0.3 8.3l0.2-4.2l0.3-4l0.2 0l0.2 2.2l0.3 6.9l0.2 11.6l0.2-5.2l0.3 2.6l0.2-6.6l0.3 3.8l0.2 2.6l0.2-3.5l0.3-3.8l0.2-10.6l0.2 2l0.3 8.5l0.2-1.8l0.3 9.1l0.2-12.3l0.2 19.5l0.3-16.8l0.2 0.1l0.3-8.2l0.2 0l0.2 5.1l0.3-6.1l0.2-7.2l0.2-6.5l0.3-6l0.2-5.6l0.3 5.3l0.2 5.3l0.2 5.2l0.3 5.3l0.2 5.3l0.2 10l0.3-10l0.2 0l0.3 0l0.2 0l0.2 0l0.3 2.8l0.2 4.6l0.2-4.2l0.3 6.8l0.2-2l0.3-7.9l0.2 0l0.2 0l0.3 0l0.2 0l0.2 0l0.3 0l0.2 0l0.3 0l0.2 0l0.2 0l0.3 0l0.2 0l0.2 0.1l0.3 0l0.2 4.5l0.3-4.5l0.2 0l0.2 0l0.3 0l0.2 7.1l0.3-3.8l0.2 2.7l0.2 7.3l0.3-11.9l0.2 9.7l0.2 0.1l0.3 10l0.2 1.1l0.3-12.1l0.2 18.2l0.2 10.4l0.3 9.8l0.2 8.2l0.2 10.9l0.3-8.7l0.2-8.2l0.3-14.1l0.2-11.9l0.2 1.5l0.3 14l0.2 10.7l0.2 8.2l0.3 10.9l0.2-11.9l0.3-12l0.2-15.6l0.2 1.9l0.3-10.4l0.2-18.7l0.2 10.5l0.3-5.1l0.2-8.2l0.3 17.9l0.2-9.5l0.2-8.8l0.3 24.5l0.2-1l0.2-18.6l0.3 1.8l0.2-4.4l0.3 12.4l0.2-4.4l0.2 5.4l0.3-6.3l0.2 0.3l0.3-9.6l0.2 4.7l0.2-0.6l0.3-9.9l0.2 4.2l0.2-11.4l0.3-8.4l0.2-7.8l0.3 6.6l0.2 12.6l0.2 4l0.3 8l0.2 24.5l0.2 3.6l0.3 1.8l0.2 2.7l0.3 5.4l0.2-0.1l0.2-7.9l0.3 7.9l0.2-1.5l0.2-1.2l0.3 2.7l0.2-3.3l0.3 3.2l0.2 0l0.2 0l0.3 0l0.2 0l0.2-0.4l0.3-7l0.2 0.6l0.3 3.7l0.2-9.8l0.2-2.3l0.3-1.9l0.2 16.9l0.2-12.9l0.3-1.7l0.2 14.6l0.3-11.9l0.2 5.5l0.2 6.3l0.3 0l0.2 0l0.2 0l0.3 0l0.2-4.9l0.3 4.8l0.2-11.4l0.2 4.9l0.3-14.2l0.2 3.8l0.3 1.1l0.2 10.9l0.2-9.1l0.3 11.1l0.2 1.7l0.2-5.4l0.3 4.3l0.2 15.3l0.3 13.1l0.2 13.1l0.2 13.2l0.3 13.1l0.2-13.1l0.2-13.2l0.3-13.2l0.2-13.1l0.3-13.2l0.2 0l0.2 0l0.3 0l0.2 0l0.2-2.8l0.3 2.7l0.2 0l0.3 0l0.2-6.1l0.2 6.1l0.3-5.6l0.2 2.8l0.2-12.5l0.3 5.3l0.2-2.6l0.3 1.6l0.2-3.6l0.2 11.2l0.3-1.9l0.2-14.9l0.2-16.2l0.3 17.8l0.2 18.4l0.3-4l0.2-8.4l0.2-4.1l0.3 6.1l0.2-3.3l0.3-7.4l0.2-4l0.2 5.9l0.3 11.7l0.2-19.7l0.2 13.6l0.3 6.3l0.2 4.1l0.3 9.8l0.2 4.3l0.2 7.5l0.3-6.6l0.2-6l0.2-1.9l0.3 1.4l0.2 5.9l0.3 6l0.2-8.5l0.2-9.9l0.3-6.5l0.2-7.2l0.2-4.4l0.3-1.9l0.2-9.5l0.3 12.7l0.2 10.9l0.2-5.8l0.3-3.9l0.2-9.8l0.2-0.7l0.3-8.2l0.2-2.3l0.3-8.1l0.2-8.8l0.2 7.9l0.3 8l0.2 8.7l0.2 18l0.3 2.6l0.2 7.2l0.3-2.9l0.2 4.4l0.2 0l0.3-5.4l0.2-3.8l0.3-9.3l0.2 3.4l0.2 2.1l0.3-2.2l0.2-0.3l0.2-1.4l0.3 5.1l0.2-18.6l0.3 8.2l0.2 10.4l0.2-6.4l0.3-1l0.2 7l0.2-13.6l0.3-3.9l0.2 2.8l0.3 8.4l0.2 10.6l0.2 4.1l0.3 10l0.2 6.5l0.2 6.5l0.3-5.1l0.2-10.2l0.3 0.5l0.2-11.9l0.2-3.7l0.3 10.7l0.2-6.9l0.2 6.5l0.3 0.4l0.2 0l0.3-0.1l0.2-4.7l0.2 4.7l0.3 0l0.2 0l0.2 0l0.3-0.1l0.2 0l0.3 0l0.2-3.7l0.2-1.9l0.3 2l0.2 11.3l0.3 21.6l0.2 13.9l0.2 14.8l0.3 15.3l0.2-14.7l0.2-14.7l0.3-25.7l0.2-9.9l0.3-18.9l0.2-0.9l0.2-1.1l0.3-1.4l0.2 11.3l0.2 2.4l0.3-6.9l0.2 0.7l0.3-3.5l0.2 2.4l0.2 5.3l0.3-10l0.2 1.1l0.2-21.7l0.3-14.8l0.2-14.4l0.3 19.3l0.2 12.2l0.2 20.2l0.3 2.9l0.2-7.5l0.2 5.4l0.3-2.8l0.2 6.4l0.3 0.1l0.2 4.6l0.2 0.7l0.3 0l0.2 0l0.2-0.1l0.3 0l0.2 0l0.3 0l0.2 0l0.2 0l0.3 0l0.2-4.5l0.3-9.6l0.2 9.1l0.2-15l0.3-13.4l0.2-5.2l0.2-10.9l0.3-11.7l0.2 13.7l0.3 14.7l0.2 10.1l0.2 11.5l0.3 18.1l0.2 11.6l0.2 12.8l0.3 13.9l0.2-13.2l0.3-10.3l0.2-9.8l0.2-20.7l0.3-3.9l0.2 2.8l0.2-9.3l0.3 5.5l0.2 2.1l0.3-3.4l0.2-1.3l0.2 1.9l0.3 0.5l0.2-0.9l0.2-3.1l0.3 0.8l0.2 1l0.3 8.8l0.2 5.4l0.2 3.9l0.3-4.4l0.2-1.4l0.2-3.3l0.3-2.8l0.2-6.5l0.3 1.3l0.2-2l0.2-2.4l0.3-5.8l0.2-4.9l0.2 3.8l0.3 4.7l0.2 3.8l0.3 8.4l0.2 3.8l0.2 3l0.3-3.8l0.2-4.5l0.3-1.4l0.2-2.4l0.2-6.2l0.3-8.5l0.2 10.7l0.2-3.8l0.3 6.8l0.2-7.1l0.3 6.5l0.2-2.8l0.2-1.4l0.3 0.8l0.2 4.7l0.2-11l0.3-16.8l0.2-15.5l0.3 19.9l0.2 14.3l0.2-7.5l0.3 4l0.2 10.3l0.2-0.2l0.3 12.2l0.2-7.8l0.3-5l0.2 5.1l0.2-11.6l0.3-3l0.2 3.4l0.2 5.7l0.3-0.4l0.2 8.2l0.3-4.3l0.2 0.2l0.2 10.1l0.3 5.4l0.2 1.2l0.2 5.5l0.3-6.3l0.2-4.4l0.3-3.7l0.2-12.8l0.2-6.4l0.3-1.1l0.2 3.9l0.3 4.3l0.2-10.1l0.2 4.1l0.3-3.4l0.2-1.6l0.2-3.5l0.3-3.1l0.2-2.2l0.3 3.9l0.2 1.7l0.2 1.3l0.3 0.9l0.2 2l0.2 7.5l0.3 7.5l0.2 7.4l0.3 0.4l0.2-11.5l0.2-8.6l0.3-5.5l0.2-2.7l0.2 1.2l0.3 1.3l0.2 1.3l0.3 1.3l0.2 1.3l0.2 12.6l0.3 1l0.2 0.3l0.2 0.8l0.3-5.3l0.2 3.9l0.3 0.1l0.2-6.7l0.2 11l0.3-0.1l0.2 1.7l0.2-6.8l0.3-0.2l0.2 2.7l0.3 3.1l0.2-12.2l0.2-0.3l0.3 4.1l0.2-2.9l0.3 11.1l0.2-1.7l0.2-4.9l0.3 10.4l0.2-7.2l0.2-2.5l0.3-2.5l0.2 1.6l0.3 7.2l0.2-5.7l0.2 2.9l0.3 8.3l0.2-7.7l0.2-2.4l0.3-0.7l0.2-5l0.3-6.3l0.2-3l0.2 11.6l0.3 8.8l0.2 7.1l0.2 6.1l0.3 3.3l0.2-1.6l0.3-0.1l0.2 1.7l0.2-5.3l0.3-7.8l0.2-6.4l0.2-6.4l0.3-6.4l0.2 0l0.3 0.1l0.2 0.1l0.2 0l0.3 0.1l0.2 0.1l0.2 4.4l0.3 1.8l0.2 4.6l0.3 0.1l0.2-2.9l0.2 3.9l0.3 5.8l0.2-12.3l0.3-1.4l0.2-14.3l0.2-12.2l0.3-11.8l0.2 11l0.2 13l0.3 9.5l0.2 5l0.3 6.1l0.2-5.1l0.2 13.3l0.3 0l0.2-11l0.2 7.3l0.3-10.5l0.2 3l0.3-5.7l0.2 0l0.2 0.1l0.3 15.4l0.2 15.4l0.2 18.8l0.3 12.3l0.2 14.9l0.3-14.2l0.2-14.7l0.2-10.9l0.3-15.5l0.2-16.6l0.2-4.5l0.3 0l0.2 0.1l0.3 2.5l0.2-2.4l0.2 3.3l0.3-0.3l0.2 5.2l0.2 2.3l0.3 0.2l0.2 0.9l0.3 3.4l0.2-3.4l0.2-7.1l0.3-7.2l0.2-6.3l0.3 6.4l0.2 8.1l0.2 4.8l0.3 9.5l0.2-2.7l0.2 4.2l0.3-4.8l0.2 3.2l0.3-2.3l0.2 3.4l0.2 3.7l0.3 7.3l0.2 9.2l0.2 9.4l0.3 7.1l0.2 8.9l0.3-8.3l0.2-8.2l0.2-8.3l0.3-12.9l0.2-12.5l0.2 9.6l0.3 0l0.2-0.1l0.3 0l0.2-0.1l0.2-0.1l0.3-5.7l0.2 1.2l0.2 0.3l0.3-3l0.2 2.2l0.3-2.7l0.2-3.6l0.2 7.9l0.3-3.2l0.2-1.3l0.2 3.3l0.3-9.5l0.2-6.7l0.3-2.7l0.2 0.8l0.2 1l0.3-1.7l0.2 4.1l0.3 2.1l0.2-1.6l0.2-0.8l0.3-3.6l0.2-1l0.2-1.4l0.3-4.4l0.2 8.5l0.3 12.7l0.2 4.4l0.2-2.7l0.3-2.9l0.2-9.5l0.2 2.7l0.3-0.6l0.2-0.6l0.3 2.7l0.2 1.6l0.2 8.6l0.3 1.2l0.2-2.3l0.2-2.8l0.3 7.6l0.2 5.2l0.3 9l0.2 8.1l0.2-7.6l0.3-6.4l0.2-5.7l0.2-5.4l0.3-0.7l0.2-0.1l0.3-13.6l0.2-11.6l0.2-10l0.3-8.7l0.2-11.3l0.2 10.6l0.3 12.1l0.2 22.3l0.3 29.1l0.2 37.3l0.2-19.1l0.3-18.1l0.2-17.6l0.2-0.1l0.3 0l0.2-0.1l0.3 0l0.2-1.4l0.2 1.3l0.3-0.1l0.2 0l0.3-0.4l0.2-3l0.2 3.1l0.3-5.2l0.2-0.6l0.2-2.2l0.3 6l0.2 3.8l0.3 2.6l0.2 2.5l0.2 5.2l0.3 4.3l0.2-4.3l0.2-4.6l0.3-6l0.2-2.1l0.3-7.5l0.2 5l0.2 0l0.3 11.5l0.2 12l0.2 14.4l0.3-17.8l0.2-8.2l0.3-0.9l0.2-3.4l0.2-5.2l0.3-4.4l0.2 29l0.2 27.6l0.3-27.5l0.2-26.2l0.3 1.5l0.2 0.7l0.2-0.8l0.3 0.8l0.2 2" fill="none" stroke="#3878B6" stroke-width="3.4" stroke-linejoin="round" stroke-linecap="round"/>
</g>
<line x1="682.5" x2="688" y1="1195.50" y2="1195.50" stroke="#222" stroke-width="2"/>
<text transform="translate(677.4,1203.00) scale(1,1.07)" class="yt">1.00</text>
<line x1="682.5" x2="688" y1="1290.17" y2="1290.17" stroke="#222" stroke-width="2"/>
<text transform="translate(677.4,1297.67) scale(1,1.07)" class="yt">0.75</text>
<line x1="682.5" x2="688" y1="1384.84" y2="1384.84" stroke="#222" stroke-width="2"/>
<text transform="translate(677.4,1392.34) scale(1,1.07)" class="yt">0.50</text>
<line x1="682.5" x2="688" y1="1479.51" y2="1479.51" stroke="#222" stroke-width="2"/>
<text transform="translate(677.4,1487.01) scale(1,1.07)" class="yt">0.25</text>
<line x1="711.30" x2="711.30" y1="1559.7" y2="1565.2" stroke="#222" stroke-width="2"/>
<text transform="translate(711.30,1584.40) scale(1,1.07)" class="xt">2018</text>
<line x1="884.70" x2="884.70" y1="1559.7" y2="1565.2" stroke="#222" stroke-width="2"/>
<text transform="translate(884.70,1584.40) scale(1,1.07)" class="xt">2020</text>
<line x1="1058.10" x2="1058.10" y1="1559.7" y2="1565.2" stroke="#222" stroke-width="2"/>
<text transform="translate(1058.10,1584.40) scale(1,1.07)" class="xt">2022</text>
<text x="943.15" y="1614.20" class="at">Date</text>
<text transform="translate(628.75,1372.35) rotate(-90)" class="at">DCC</text>
<text x="951.15" y="1166.50" class="ti">EW vs Clean cryptos</text>
<rect x="697.05" y="1652.80" width="35.3" height="35.2" fill="#EBECEB"/>
<line x1="700.75" x2="728.95" y1="1670.40" y2="1670.40" stroke="#E39E22" stroke-width="4"/>
<text x="743.85" y="1677.70" class="lg">ADA</text>
<rect x="790.85" y="1652.80" width="35.3" height="35.2" fill="#EBECEB"/>
<line x1="794.55" x2="822.75" y1="1670.40" y2="1670.40" stroke="#62B8E8" stroke-width="4"/>
<text x="837.45" y="1677.70" class="lg">XRP</text>
<rect x="884.65" y="1652.80" width="35.3" height="35.2" fill="#EBECEB"/>
<line x1="888.35" x2="916.55" y1="1670.40" y2="1670.40" stroke="#3DA872" stroke-width="4"/>
<text x="931.70" y="1677.70" class="lg">MIOTA</text>
<rect x="996.70" y="1652.80" width="35.3" height="35.2" fill="#EBECEB"/>
<line x1="1000.40" x2="1028.60" y1="1670.40" y2="1670.40" stroke="#C874AC" stroke-width="4"/>
<text x="1042.95" y="1677.70" class="lg">XLM</text>
<rect x="1089.20" y="1652.80" width="35.3" height="35.2" fill="#EBECEB"/>
<line x1="1092.90" x2="1121.10" y1="1670.40" y2="1670.40" stroke="#3878B6" stroke-width="4"/>
<text x="1136.70" y="1677.70" class="lg">NANO</text>
</svg>
</body></html>
